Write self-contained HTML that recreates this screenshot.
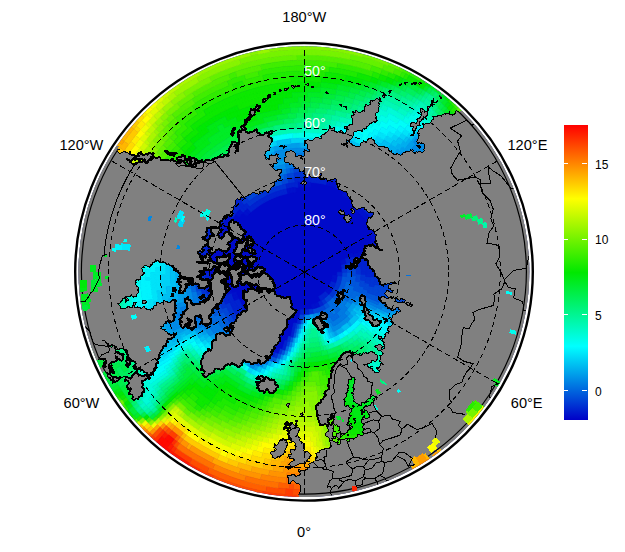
<!DOCTYPE html><html><head><meta charset="utf-8"><title>SST</title><style>html,body{margin:0;padding:0;background:#fff}svg{display:block}text{font-family:"Liberation Sans",sans-serif}</style></head><body>
<svg width="625" height="552" viewBox="0 0 625 552">
<defs><clipPath id="c"><circle cx="303.9" cy="271.6" r="225.4"/></clipPath>
<clipPath id="c2"><circle cx="303.9" cy="271.6" r="222.5"/></clipPath>
<clipPath id="c3"><path clip-rule="evenodd" d="M80.8,271.6a223.1,223.1 0 1,0 446.2,0a223.1,223.1 0 1,0 -446.2,0ZM82.0,271.6a221.9,221.9 0 1,0 443.8,0a221.9,221.9 0 1,0 -443.8,0Z"/></clipPath>
<linearGradient id="cb" x1="0" y1="0" x2="0" y2="1"><stop offset="0.0000" stop-color="#ff0000"/><stop offset="0.2500" stop-color="#ffff00"/><stop offset="0.5000" stop-color="#00e800"/><stop offset="0.7500" stop-color="#00ffff"/><stop offset="1.0000" stop-color="#0000c8"/></linearGradient></defs>
<rect width="625" height="552" fill="#fff"/>
<g clip-path="url(#c)">
<circle cx="304.5" cy="272.2" r="227.6" fill="#000aca"/>
<path fill="#64f100" stroke="#64f100" stroke-width="0.6" d="M466.0,110.7 463.1,107.9 459.3,111.9 462.1,114.6ZM463.1,107.9 460.2,105.2 456.5,109.2 459.3,111.9ZM401.0,65.2 397.4,63.6 395.1,68.6 398.7,70.2ZM397.4,63.6 393.7,62.0 391.6,67.1 395.1,68.6ZM393.7,62.0 390.0,60.5 388.0,65.6 391.6,67.1ZM132.1,422.0 134.8,425.0 138.9,421.3 136.3,418.4ZM384.4,64.2 380.7,62.8 378.8,67.9 382.4,69.3ZM380.7,62.8 377.1,61.5 375.3,66.7 378.8,67.9ZM377.1,61.5 373.4,60.3 371.7,65.5 375.3,66.7ZM373.4,60.3 369.7,59.1 368.1,64.3 371.7,65.5ZM369.7,59.1 365.9,58.0 364.4,63.3 368.1,64.3ZM365.9,58.0 362.2,56.9 360.8,62.2 364.4,63.3ZM362.2,56.9 358.4,56.0 357.1,61.3 360.8,62.2ZM358.4,56.0 354.6,55.1 353.4,60.4 357.1,61.3ZM354.6,55.1 350.8,54.2 349.7,59.6 353.4,60.4ZM296.9,55.0 293.1,55.1 293.4,60.6 297.1,60.4ZM293.1,55.1 289.3,55.4 289.7,60.8 293.4,60.6ZM289.3,55.4 285.6,55.7 286.0,61.1 289.7,60.8ZM285.6,55.7 281.8,56.0 282.3,61.4 286.0,61.1ZM281.8,56.0 278.0,56.5 278.7,61.9 282.3,61.4ZM278.0,56.5 274.2,56.9 275.0,62.3 278.7,61.9ZM274.2,56.9 270.5,57.5 271.3,62.9 275.0,62.3ZM270.5,57.5 266.8,58.1 267.7,63.5 271.3,62.9ZM266.8,58.1 263.0,58.8 264.1,64.2 267.7,63.5ZM263.0,58.8 259.3,59.6 260.4,64.9 264.1,64.2ZM259.3,59.6 255.6,60.4 256.8,65.7 260.4,64.9ZM255.6,60.4 251.9,61.3 253.2,66.6 256.8,65.7ZM251.9,61.3 248.2,62.2 249.7,67.5 253.2,66.6ZM248.2,62.2 244.6,63.3 246.1,68.5 249.7,67.5ZM244.6,63.3 240.9,64.3 242.5,69.5 246.1,68.5ZM240.9,64.3 237.3,65.5 239.0,70.6 242.5,69.5ZM237.3,65.5 233.7,66.7 235.5,71.8 239.0,70.6ZM233.7,66.7 230.2,67.9 232.0,73.1 235.5,71.8ZM230.2,67.9 226.6,69.3 228.6,74.4 232.0,73.1ZM226.6,69.3 223.1,70.7 225.1,75.7 228.6,74.4ZM223.1,70.7 219.6,72.1 221.7,77.1 225.1,75.7ZM219.6,72.1 216.1,73.6 218.3,78.6 221.7,77.1ZM216.1,73.6 212.6,75.2 214.9,80.1 218.3,78.6ZM212.6,75.2 209.2,76.8 211.6,81.7 214.9,80.1ZM192.2,92.5 189.1,94.5 192.0,99.0 195.1,97.1ZM189.1,94.5 186.0,96.5 189.0,101.0 192.0,99.0ZM186.0,96.5 182.9,98.6 186.0,103.0 189.0,101.0ZM182.9,98.6 179.9,100.8 183.1,105.1 186.0,103.0ZM179.9,100.8 177.0,103.0 180.2,107.3 183.1,105.1ZM171.8,114.0 169.0,116.3 172.5,120.4 175.2,118.1ZM169.0,116.3 166.3,118.7 169.9,122.7 172.5,120.4ZM167.3,125.1 164.8,127.5 168.5,131.3 171.0,129.0ZM164.8,127.5 162.3,130.0 166.0,133.7 168.5,131.3ZM166.0,133.7 163.6,136.2 167.5,139.9 169.8,137.5ZM163.6,136.2 161.3,138.7 165.2,142.3 167.5,139.9ZM162.9,144.7 160.7,147.2 164.7,150.7 166.8,148.2ZM160.7,147.2 158.6,149.7 162.6,153.1 164.7,150.7ZM158.6,149.7 156.4,152.3 160.5,155.6 162.6,153.1ZM183.0,412.0 185.4,414.1 188.8,410.1 186.4,408.1ZM185.4,414.1 187.9,416.2 191.2,412.1 188.8,410.1ZM338.8,448.9 341.9,448.3 340.8,443.2 337.9,443.8ZM198.7,417.8 201.2,419.7 204.2,415.4 201.8,413.6ZM201.2,419.7 203.8,421.4 206.7,417.1 204.2,415.4ZM209.3,418.8 211.9,420.4 214.6,416.1 212.1,414.5ZM211.9,420.4 214.5,422.0 217.1,417.6 214.6,416.1ZM214.5,422.0 217.1,423.6 219.7,419.1 217.1,417.6ZM217.1,423.6 219.8,425.1 222.3,420.6 219.7,419.1ZM331.0,439.7 334.0,439.3 333.1,434.2 330.2,434.7ZM227.5,423.3 230.1,424.7 232.4,420.0 229.8,418.8ZM230.1,424.7 232.8,425.9 235.0,421.3 232.4,420.0ZM232.8,425.9 235.5,427.2 237.6,422.5 235.0,421.3ZM330.2,434.7 333.1,434.2 332.2,429.1 329.4,429.6ZM240.2,423.6 242.9,424.7 244.8,420.0 242.2,418.9ZM242.9,424.7 245.6,425.8 247.4,421.0 244.8,420.0ZM329.4,429.6 332.2,429.1 331.3,424.1 328.6,424.6ZM247.4,421.0 250.0,422.0 251.7,417.2 249.2,416.2ZM250.0,422.0 252.6,422.9 254.3,418.1 251.7,417.2ZM252.6,422.9 255.3,423.8 256.8,418.9 254.3,418.1ZM328.6,424.6 331.3,424.1 330.4,419.1 327.8,419.6ZM256.8,418.9 259.4,419.7 260.9,414.9 258.4,414.1ZM259.4,419.7 262.0,420.5 263.4,415.6 260.9,414.9ZM327.8,419.6 330.4,419.1 329.5,414.2 327.1,414.6ZM263.4,415.6 265.9,416.3 267.2,411.4 264.8,410.8ZM265.9,416.3 268.4,417.0 269.6,412.1 267.2,411.4ZM267.2,411.4 269.6,412.1 270.8,407.2 268.5,406.6ZM269.6,412.1 272.1,412.7 273.2,407.8 270.8,407.2ZM273.2,407.8 275.6,408.3 276.6,403.4 274.3,402.9ZM275.6,408.3 278.0,408.8 278.9,403.9 276.6,403.4ZM278.0,408.8 280.3,409.2 281.2,404.3 278.9,403.9ZM281.2,404.3 285.8,405.0 286.5,400.1 282.1,399.4ZM285.8,405.0 290.5,405.6 291.0,400.7 286.5,400.1ZM322.5,400.1 326.9,399.4 326.1,394.5 321.8,395.2ZM291.0,400.7 295.5,401.0 295.8,396.1 291.5,395.7ZM317.5,395.7 321.8,395.2 321.1,390.3 317.0,390.8ZM295.8,396.1 300.2,396.3 300.3,391.4 296.2,391.2ZM317.0,390.8 321.1,390.3 320.4,385.4 316.5,385.9ZM300.3,391.4 304.5,391.5 304.5,386.6 300.5,386.5ZM304.5,386.6 308.5,386.5 308.3,381.6 304.5,381.7ZM308.5,386.5 312.5,386.3 312.1,381.4 308.3,381.6ZM312.5,386.3 316.5,385.9 315.9,381.1 312.1,381.4Z"/>
<path fill="#41ee00" stroke="#41ee00" stroke-width="0.6" d="M460.2,105.2 457.3,102.5 453.6,106.6 456.5,109.2ZM411.7,70.6 408.2,68.7 405.7,73.6 409.1,75.4ZM408.2,68.7 404.6,66.9 402.2,71.9 405.7,73.6ZM115.2,399.9 117.4,403.2 122.0,400.0 119.8,396.8ZM119.7,406.4 122.1,409.6 126.5,406.3 124.2,403.2ZM402.2,71.9 398.7,70.2 396.4,75.2 399.8,76.8ZM398.7,70.2 395.1,68.6 392.9,73.6 396.4,75.2ZM382.4,69.3 378.8,67.9 377.0,73.1 380.4,74.4ZM378.8,67.9 375.3,66.7 373.5,71.8 377.0,73.1ZM375.3,66.7 371.7,65.5 370.0,70.6 373.5,71.8ZM145.5,420.4 148.1,423.2 152.1,419.4 149.5,416.7ZM337.7,62.9 334.0,62.3 333.2,67.7 336.8,68.2ZM334.0,62.3 330.3,61.9 329.7,67.2 333.2,67.7ZM330.3,61.9 326.7,61.4 326.1,66.8 329.7,67.2ZM326.7,61.4 323.0,61.1 322.5,66.5 326.1,66.8ZM323.0,61.1 319.3,60.8 318.9,66.2 322.5,66.5ZM319.3,60.8 315.6,60.6 315.3,66.0 318.9,66.2ZM315.6,60.6 311.9,60.4 311.7,65.8 315.3,66.0ZM311.9,60.4 308.2,60.3 308.1,65.7 311.7,65.8ZM308.2,60.3 304.5,60.3 304.5,65.7 308.1,65.7ZM304.5,60.3 300.8,60.3 300.9,65.7 304.5,65.7ZM300.8,60.3 297.1,60.4 297.3,65.8 300.9,65.7ZM297.1,60.4 293.4,60.6 293.7,66.0 297.3,65.8ZM293.4,60.6 289.7,60.8 290.1,66.2 293.7,66.0ZM289.7,60.8 286.0,61.1 286.5,66.5 290.1,66.2ZM286.0,61.1 282.3,61.4 282.9,66.8 286.5,66.5ZM282.3,61.4 278.7,61.9 279.3,67.2 282.9,66.8ZM278.7,61.9 275.0,62.3 275.8,67.7 279.3,67.2ZM275.0,62.3 271.3,62.9 272.2,68.2 275.8,67.7ZM271.3,62.9 267.7,63.5 268.6,68.8 272.2,68.2ZM267.7,63.5 264.1,64.2 265.1,69.5 268.6,68.8ZM264.1,64.2 260.4,64.9 261.6,70.2 265.1,69.5ZM235.5,71.8 232.0,73.1 233.9,78.1 237.3,76.9ZM232.0,73.1 228.6,74.4 230.5,79.4 233.9,78.1ZM258.0,71.0 254.5,71.8 255.8,77.0 259.3,76.2ZM254.5,71.8 251.0,72.7 252.4,77.9 255.8,77.0ZM251.0,72.7 247.6,73.7 249.1,78.8 252.4,77.9ZM247.6,73.7 244.1,74.7 245.7,79.8 249.1,78.8ZM227.1,80.7 223.8,82.1 225.9,87.0 229.1,85.7ZM223.8,82.1 220.5,83.5 222.7,88.4 225.9,87.0ZM220.5,83.5 217.2,85.0 219.5,89.9 222.7,88.4ZM217.2,85.0 214.0,86.6 216.3,91.4 219.5,89.9ZM214.0,86.6 210.7,88.2 213.2,93.0 216.3,91.4ZM210.7,88.2 207.5,89.9 210.1,94.6 213.2,93.0ZM207.5,89.9 204.4,91.6 207.0,96.3 210.1,94.6ZM204.4,91.6 201.2,93.3 203.9,98.0 207.0,96.3ZM201.2,93.3 198.1,95.2 200.9,99.8 203.9,98.0ZM198.1,95.2 195.1,97.1 197.9,101.6 200.9,99.8ZM195.1,97.1 192.0,99.0 194.9,103.5 197.9,101.6ZM192.0,105.4 189.1,107.4 192.2,111.8 195.0,109.9ZM189.1,107.4 186.3,109.5 189.4,113.8 192.2,111.8ZM186.3,109.5 183.4,111.6 186.7,115.8 189.4,113.8ZM183.4,111.6 180.7,113.7 183.9,117.9 186.7,115.8ZM180.7,113.7 177.9,115.9 181.3,120.0 183.9,117.9ZM177.9,115.9 175.2,118.1 178.6,122.2 181.3,120.0ZM178.6,122.2 176.0,124.4 179.5,128.4 182.0,126.3ZM176.0,124.4 173.5,126.7 177.0,130.6 179.5,128.4ZM173.5,126.7 171.0,129.0 174.6,132.9 177.0,130.6ZM163.6,408.2 166.0,410.7 169.8,406.9 167.5,404.5ZM174.6,132.9 172.2,135.2 175.8,138.9 178.2,136.7ZM172.2,135.2 169.8,137.5 173.5,141.2 175.8,138.9ZM167.5,404.5 169.8,406.9 173.5,403.2 171.2,400.9ZM173.5,141.2 171.2,143.5 175.0,147.2 177.2,144.9ZM171.2,143.5 169.0,145.9 172.8,149.4 175.0,147.2ZM169.0,145.9 166.8,148.2 170.7,151.7 172.8,149.4ZM166.8,148.2 164.7,150.7 168.6,154.1 170.7,151.7ZM345.0,447.6 348.0,446.9 346.8,441.8 343.8,442.5ZM348.0,446.9 351.1,446.1 349.7,441.1 346.8,441.8ZM179.5,401.7 181.7,403.9 185.3,400.0 183.1,397.9ZM181.7,403.9 184.0,406.0 187.5,402.1 185.3,400.0ZM184.0,406.0 186.4,408.1 189.8,404.1 187.5,402.1ZM186.4,408.1 188.8,410.1 192.1,406.1 189.8,404.1ZM188.8,410.1 191.2,412.1 194.5,408.1 192.1,406.1ZM191.2,412.1 193.7,414.1 196.9,409.9 194.5,408.1ZM337.9,443.8 340.8,443.2 339.8,438.1 336.9,438.7ZM340.8,443.2 343.8,442.5 342.7,437.5 339.8,438.1ZM199.3,411.8 201.8,413.6 204.8,409.4 202.4,407.7ZM201.8,413.6 204.2,415.4 207.2,411.2 204.8,409.4ZM336.9,438.7 339.8,438.1 338.7,433.1 335.9,433.7ZM209.6,412.8 212.1,414.5 214.9,410.1 212.5,408.6ZM212.1,414.5 214.6,416.1 217.3,411.7 214.9,410.1ZM214.6,416.1 217.1,417.6 219.8,413.2 217.3,411.7ZM335.9,433.7 338.7,433.1 337.6,428.1 334.9,428.6ZM219.8,413.2 222.3,414.6 224.8,410.2 222.4,408.8ZM222.3,414.6 224.8,416.1 227.2,411.6 224.8,410.2ZM224.8,416.1 227.3,417.4 229.7,412.9 227.2,411.6ZM227.3,417.4 229.8,418.8 232.2,414.2 229.7,412.9ZM229.8,418.8 232.4,420.0 234.6,415.4 232.2,414.2ZM334.9,428.6 337.6,428.1 336.6,423.1 333.9,423.6ZM234.6,415.4 237.2,416.6 239.3,412.0 236.9,410.9ZM237.2,416.6 239.7,417.8 241.8,413.1 239.3,412.0ZM239.7,417.8 242.2,418.9 244.2,414.2 241.8,413.1ZM333.9,423.6 336.6,423.1 335.5,418.1 333.0,418.7ZM244.2,414.2 246.7,415.2 248.6,410.5 246.2,409.5ZM246.7,415.2 249.2,416.2 251.0,411.5 248.6,410.5ZM333.0,418.7 335.5,418.1 334.5,413.2 332.0,413.7ZM251.0,411.5 253.5,412.4 255.2,407.7 252.8,406.8ZM253.5,412.4 255.9,413.3 257.6,408.5 255.2,407.7ZM255.9,413.3 258.4,414.1 260.0,409.3 257.6,408.5ZM332.0,413.7 334.5,413.2 333.4,408.3 331.0,408.8ZM260.0,409.3 262.4,410.1 263.8,405.3 261.5,404.5ZM262.4,410.1 264.8,410.8 266.1,405.9 263.8,405.3ZM266.1,405.9 268.5,406.6 269.8,401.8 267.5,401.1ZM326.9,399.4 331.4,398.5 330.3,393.7 326.1,394.5ZM282.1,399.4 286.5,400.1 287.2,395.2 282.9,394.5ZM326.1,394.5 330.3,393.7 329.3,388.9 325.2,389.7ZM325.2,389.7 329.3,388.9 328.3,384.1 324.4,384.8ZM320.4,385.4 324.4,384.8 323.5,380.0 319.7,380.6ZM324.4,384.8 328.3,384.1 327.3,379.3 323.5,380.0ZM304.5,381.7 308.3,381.6 308.1,376.7 304.5,376.8ZM319.7,380.6 323.5,380.0 322.7,375.2 319.1,375.8ZM323.5,380.0 327.3,379.3 326.2,374.5 322.7,375.2ZM308.1,376.7 311.8,376.5 311.5,371.7 308.0,371.9ZM319.1,375.8 322.7,375.2 321.8,370.4 318.4,370.9Z"/>
<path fill="#30ec00" stroke="#30ec00" stroke-width="0.6" d="M457.3,102.5 454.3,99.8 450.7,104.0 453.6,106.6ZM422.1,76.5 418.7,74.4 415.9,79.2 419.3,81.2ZM418.7,74.4 415.2,72.5 412.5,77.3 415.9,79.2ZM415.2,72.5 411.7,70.6 409.1,75.4 412.5,77.3ZM122.1,409.6 124.5,412.8 128.9,409.4 126.5,406.3ZM459.3,111.9 456.5,109.2 452.7,113.2 455.5,115.8ZM405.7,73.6 402.2,71.9 399.8,76.8 403.2,78.5ZM389.4,72.1 385.9,70.7 383.9,75.7 387.3,77.1ZM385.9,70.7 382.4,69.3 380.4,74.4 383.9,75.7ZM373.5,71.8 370.0,70.6 368.3,75.8 371.7,76.9ZM370.0,70.6 366.5,69.5 364.9,74.7 368.3,75.8ZM366.5,69.5 362.9,68.5 361.4,73.7 364.9,74.7ZM362.9,68.5 359.3,67.5 358.0,72.7 361.4,73.7ZM359.3,67.5 355.8,66.6 354.5,71.8 358.0,72.7ZM355.8,66.6 352.2,65.7 351.0,71.0 354.5,71.8ZM352.2,65.7 348.6,64.9 347.4,70.2 351.0,71.0ZM348.6,64.9 344.9,64.2 343.9,69.5 347.4,70.2ZM344.9,64.2 341.3,63.5 340.4,68.8 343.9,69.5ZM341.3,63.5 337.7,62.9 336.8,68.2 340.4,68.8ZM152.1,419.4 154.6,422.1 158.5,418.2 155.9,415.7ZM329.7,67.2 326.1,66.8 325.5,72.2 329.0,72.5ZM326.1,66.8 322.5,66.5 322.0,71.8 325.5,72.2ZM322.5,66.5 318.9,66.2 318.5,71.5 322.0,71.8ZM318.9,66.2 315.3,66.0 315.0,71.3 318.5,71.5ZM315.3,66.0 311.7,65.8 311.5,71.2 315.0,71.3ZM311.7,65.8 308.1,65.7 308.0,71.1 311.5,71.2ZM308.1,65.7 304.5,65.7 304.5,71.1 308.0,71.1ZM304.5,65.7 300.9,65.7 301.0,71.1 304.5,71.1ZM300.9,65.7 297.3,65.8 297.5,71.2 301.0,71.1ZM297.3,65.8 293.7,66.0 294.0,71.3 297.5,71.2ZM293.7,66.0 290.1,66.2 290.5,71.5 294.0,71.3ZM290.1,66.2 286.5,66.5 287.0,71.8 290.5,71.5ZM286.5,66.5 282.9,66.8 283.5,72.2 287.0,71.8ZM282.9,66.8 279.3,67.2 280.0,72.5 283.5,72.2ZM279.3,67.2 275.8,67.7 276.5,73.0 280.0,72.5ZM275.8,67.7 272.2,68.2 273.0,73.5 276.5,73.0ZM272.2,68.2 268.6,68.8 269.6,74.1 273.0,73.5ZM268.6,68.8 265.1,69.5 266.1,74.7 269.6,74.1ZM265.1,69.5 261.6,70.2 262.7,75.4 266.1,74.7ZM261.6,70.2 258.0,71.0 259.3,76.2 262.7,75.4ZM244.1,74.7 240.7,75.8 242.3,80.9 245.7,79.8ZM240.7,75.8 237.3,76.9 239.0,82.0 242.3,80.9ZM237.3,76.9 233.9,78.1 235.7,83.2 239.0,82.0ZM233.9,78.1 230.5,79.4 232.4,84.4 235.7,83.2ZM230.5,79.4 227.1,80.7 229.1,85.7 232.4,84.4ZM262.7,75.4 259.3,76.2 260.5,81.4 263.8,80.7ZM259.3,76.2 255.8,77.0 257.1,82.2 260.5,81.4ZM255.8,77.0 252.4,77.9 253.8,83.1 257.1,82.2ZM252.4,77.9 249.1,78.8 250.5,84.0 253.8,83.1ZM249.1,78.8 245.7,79.8 247.2,84.9 250.5,84.0ZM245.7,79.8 242.3,80.9 244.0,86.0 247.2,84.9ZM232.4,84.4 229.1,85.7 231.1,90.6 234.3,89.4ZM229.1,85.7 225.9,87.0 228.0,92.0 231.1,90.6ZM225.9,87.0 222.7,88.4 224.9,93.3 228.0,92.0ZM222.7,88.4 219.5,89.9 221.7,94.7 224.9,93.3ZM219.5,89.9 216.3,91.4 218.7,96.2 221.7,94.7ZM216.3,91.4 213.2,93.0 215.6,97.7 218.7,96.2ZM213.2,93.0 210.1,94.6 212.6,99.3 215.6,97.7ZM210.1,94.6 207.0,96.3 209.6,100.9 212.6,99.3ZM207.0,96.3 203.9,98.0 206.6,102.6 209.6,100.9ZM203.9,98.0 200.9,99.8 203.6,104.4 206.6,102.6ZM200.9,99.8 197.9,101.6 200.7,106.1 203.6,104.4ZM197.9,101.6 194.9,103.5 197.9,108.0 200.7,106.1ZM194.9,103.5 192.0,105.4 195.0,109.9 197.9,108.0ZM159.8,411.9 162.3,414.4 166.0,410.7 163.6,408.2ZM195.0,109.9 192.2,111.8 195.2,116.1 198.0,114.3ZM192.2,111.8 189.4,113.8 192.5,118.1 195.2,116.1ZM189.4,113.8 186.7,115.8 189.8,120.0 192.5,118.1ZM186.7,115.8 183.9,117.9 187.2,122.1 189.8,120.0ZM183.9,117.9 181.3,120.0 184.6,124.1 187.2,122.1ZM181.3,120.0 178.6,122.2 182.0,126.3 184.6,124.1ZM184.6,124.1 182.0,126.3 185.4,130.3 187.9,128.2ZM182.0,126.3 179.5,128.4 183.0,132.4 185.4,130.3ZM179.5,128.4 177.0,130.6 180.5,134.5 183.0,132.4ZM177.0,130.6 174.6,132.9 178.2,136.7 180.5,134.5ZM180.5,134.5 178.2,136.7 181.7,140.5 184.0,138.4ZM178.2,136.7 175.8,138.9 179.5,142.7 181.7,140.5ZM175.8,138.9 173.5,141.2 177.2,144.9 179.5,142.7ZM171.2,400.9 173.5,403.2 177.2,399.5 175.0,397.2ZM351.1,446.1 354.1,445.2 352.7,440.2 349.7,441.1ZM354.1,445.2 357.1,444.3 355.6,439.4 352.7,440.2ZM177.2,144.9 175.0,147.2 178.8,150.8 180.9,148.6ZM175.0,147.2 172.8,149.4 176.7,153.0 178.8,150.8ZM172.8,149.4 170.7,151.7 174.6,155.2 176.7,153.0ZM170.7,151.7 168.6,154.1 172.6,157.5 174.6,155.2ZM168.6,154.1 166.6,156.5 170.6,159.8 172.6,157.5ZM166.6,156.5 164.6,158.9 168.6,162.2 170.6,159.8ZM164.6,158.9 162.6,161.4 166.8,164.6 168.6,162.2ZM177.2,399.5 179.5,401.7 183.1,397.9 180.9,395.8ZM343.8,442.5 346.8,441.8 345.5,436.8 342.7,437.5ZM346.8,441.8 349.7,441.1 348.4,436.1 345.5,436.8ZM185.3,400.0 187.5,402.1 191.0,398.3 188.8,396.3ZM187.5,402.1 189.8,404.1 193.2,400.2 191.0,398.3ZM189.8,404.1 192.1,406.1 195.5,402.1 193.2,400.2ZM192.1,406.1 194.5,408.1 197.7,404.0 195.5,402.1ZM339.8,438.1 342.7,437.5 341.5,432.5 338.7,433.1ZM342.7,437.5 345.5,436.8 344.3,431.8 341.5,432.5ZM204.8,409.4 207.2,411.2 210.2,406.9 207.8,405.3ZM207.2,411.2 209.6,412.8 212.5,408.6 210.2,406.9ZM338.7,433.1 341.5,432.5 340.3,427.5 337.6,428.1ZM212.5,408.6 214.9,410.1 217.7,405.9 215.4,404.3ZM214.9,410.1 217.3,411.7 220.1,407.3 217.7,405.9ZM217.3,411.7 219.8,413.2 222.4,408.8 220.1,407.3ZM337.6,428.1 340.3,427.5 339.2,422.5 336.6,423.1ZM222.4,408.8 224.8,410.2 227.4,405.8 225.0,404.4ZM224.8,410.2 227.2,411.6 229.7,407.1 227.4,405.8ZM227.2,411.6 229.7,412.9 232.1,408.4 229.7,407.1ZM229.7,412.9 232.2,414.2 234.5,409.7 232.1,408.4ZM232.2,414.2 234.6,415.4 236.9,410.9 234.5,409.7ZM236.9,410.9 239.3,412.0 241.4,407.4 239.1,406.3ZM239.3,412.0 241.8,413.1 243.8,408.5 241.4,407.4ZM241.8,413.1 244.2,414.2 246.2,409.5 243.8,408.5ZM246.2,409.5 248.6,410.5 250.5,405.9 248.2,404.9ZM248.6,410.5 251.0,411.5 252.8,406.8 250.5,405.9ZM255.2,407.7 257.6,408.5 259.2,403.8 256.9,402.9ZM257.6,408.5 260.0,409.3 261.5,404.5 259.2,403.8ZM261.5,404.5 263.8,405.3 265.3,400.5 263.0,399.8ZM263.8,405.3 266.1,405.9 267.5,401.1 265.3,400.5ZM267.5,401.1 272.0,402.4 273.3,397.5 268.9,396.4ZM273.3,397.5 277.6,398.5 278.7,393.7 274.5,392.7ZM277.6,398.5 282.1,399.4 282.9,394.5 278.7,393.7ZM330.3,393.7 334.5,392.7 333.4,387.9 329.3,388.9ZM287.2,395.2 291.5,395.7 292.0,390.8 287.9,390.3ZM329.3,388.9 333.4,387.9 332.2,383.2 328.3,384.1ZM292.0,390.8 296.2,391.2 296.5,386.3 292.5,385.9ZM328.3,384.1 332.2,383.2 331.0,378.4 327.3,379.3ZM296.5,386.3 300.5,386.5 300.7,381.6 296.9,381.4ZM327.3,379.3 331.0,378.4 329.8,373.7 326.2,374.5ZM300.7,381.6 304.5,381.7 304.5,376.8 300.9,376.7ZM304.5,376.8 308.1,376.7 308.0,371.9 304.5,371.9ZM322.7,375.2 326.2,374.5 325.2,369.7 321.8,370.4Z"/>
<path fill="#1feb00" stroke="#1feb00" stroke-width="0.6" d="M454.3,99.8 451.3,97.3 447.7,101.5 450.7,104.0ZM425.5,78.5 422.1,76.5 419.3,81.2 422.6,83.2ZM113.0,396.6 115.2,399.9 119.8,396.8 117.6,393.6ZM129.6,419.0 132.1,422.0 136.3,418.4 133.8,415.4ZM456.5,109.2 453.6,106.6 449.9,110.7 452.7,113.2ZM409.1,75.4 405.7,73.6 403.2,78.5 406.5,80.3ZM122.0,400.0 124.2,403.2 128.6,400.0 126.4,396.9ZM136.3,418.4 138.9,421.3 143.0,417.6 140.5,414.8ZM396.4,75.2 392.9,73.6 390.7,78.6 394.1,80.1ZM392.9,73.6 389.4,72.1 387.3,77.1 390.7,78.6ZM380.4,74.4 377.0,73.1 375.1,78.1 378.5,79.4ZM377.0,73.1 373.5,71.8 371.7,76.9 375.1,78.1ZM358.0,72.7 354.5,71.8 353.2,77.0 356.6,77.9ZM354.5,71.8 351.0,71.0 349.7,76.2 353.2,77.0ZM351.0,71.0 347.4,70.2 346.3,75.4 349.7,76.2ZM347.4,70.2 343.9,69.5 342.9,74.7 346.3,75.4ZM343.9,69.5 340.4,68.8 339.4,74.1 342.9,74.7ZM340.4,68.8 336.8,68.2 336.0,73.5 339.4,74.1ZM336.8,68.2 333.2,67.7 332.5,73.0 336.0,73.5ZM333.2,67.7 329.7,67.2 329.0,72.5 332.5,73.0ZM155.9,415.7 158.5,418.2 162.3,414.4 159.8,411.9ZM325.5,72.2 322.0,71.8 321.6,77.1 325.0,77.5ZM322.0,71.8 318.5,71.5 318.2,76.9 321.6,77.1ZM318.5,71.5 315.0,71.3 314.7,76.7 318.2,76.9ZM315.0,71.3 311.5,71.2 311.3,76.5 314.7,76.7ZM311.5,71.2 308.0,71.1 307.9,76.4 311.3,76.5ZM308.0,71.1 304.5,71.1 304.5,76.4 307.9,76.4ZM304.5,71.1 301.0,71.1 301.1,76.4 304.5,76.4ZM301.0,71.1 297.5,71.2 297.7,76.5 301.1,76.4ZM297.5,71.2 294.0,71.3 294.3,76.7 297.7,76.5ZM294.0,71.3 290.5,71.5 290.8,76.9 294.3,76.7ZM290.5,71.5 287.0,71.8 287.4,77.1 290.8,76.9ZM287.0,71.8 283.5,72.2 284.0,77.5 287.4,77.1ZM283.5,72.2 280.0,72.5 280.6,77.8 284.0,77.5ZM280.0,72.5 276.5,73.0 277.2,78.3 280.6,77.8ZM276.5,73.0 273.0,73.5 273.9,78.8 277.2,78.3ZM273.0,73.5 269.6,74.1 270.5,79.4 273.9,78.8ZM269.6,74.1 266.1,74.7 267.1,80.0 270.5,79.4ZM266.1,74.7 262.7,75.4 263.8,80.7 267.1,80.0ZM242.3,80.9 239.0,82.0 240.7,87.1 244.0,86.0ZM239.0,82.0 235.7,83.2 237.5,88.2 240.7,87.1ZM235.7,83.2 232.4,84.4 234.3,89.4 237.5,88.2ZM290.8,76.9 287.4,77.1 287.9,82.4 291.2,82.1ZM287.4,77.1 284.0,77.5 284.6,82.7 287.9,82.4ZM284.0,77.5 280.6,77.8 281.3,83.1 284.6,82.7ZM280.6,77.8 277.2,78.3 278.0,83.5 281.3,83.1ZM277.2,78.3 273.9,78.8 274.7,84.0 278.0,83.5ZM273.9,78.8 270.5,79.4 271.4,84.6 274.7,84.0ZM270.5,79.4 267.1,80.0 268.1,85.2 271.4,84.6ZM267.1,80.0 263.8,80.7 264.9,85.8 268.1,85.2ZM263.8,80.7 260.5,81.4 261.6,86.6 264.9,85.8ZM260.5,81.4 257.1,82.2 258.4,87.3 261.6,86.6ZM257.1,82.2 253.8,83.1 255.2,88.2 258.4,87.3ZM253.8,83.1 250.5,84.0 252.0,89.1 255.2,88.2ZM250.5,84.0 247.2,84.9 248.8,90.0 252.0,89.1ZM247.2,84.9 244.0,86.0 245.6,91.0 248.8,90.0ZM244.0,86.0 240.7,87.1 242.5,92.1 245.6,91.0ZM240.7,87.1 237.5,88.2 239.3,93.2 242.5,92.1ZM237.5,88.2 234.3,89.4 236.2,94.3 239.3,93.2ZM234.3,89.4 231.1,90.6 233.1,95.6 236.2,94.3ZM231.1,90.6 228.0,92.0 230.1,96.8 233.1,95.6ZM228.0,92.0 224.9,93.3 227.0,98.2 230.1,96.8ZM224.9,93.3 221.7,94.7 224.0,99.5 227.0,98.2ZM221.7,94.7 218.7,96.2 221.0,101.0 224.0,99.5ZM218.7,96.2 215.6,97.7 218.0,102.4 221.0,101.0ZM215.6,97.7 212.6,99.3 215.1,104.0 218.0,102.4ZM212.6,99.3 209.6,100.9 212.1,105.6 215.1,104.0ZM209.6,100.9 206.6,102.6 209.2,107.2 212.1,105.6ZM206.6,102.6 203.6,104.4 206.4,108.9 209.2,107.2ZM203.6,104.4 200.7,106.1 203.5,110.6 206.4,108.9ZM200.7,106.1 197.9,108.0 200.7,112.4 203.5,110.6ZM197.9,108.0 195.0,109.9 198.0,114.3 200.7,112.4ZM203.5,110.6 200.7,112.4 203.6,116.8 206.3,115.1ZM200.7,112.4 198.0,114.3 200.9,118.6 203.6,116.8ZM198.0,114.3 195.2,116.1 198.2,120.5 200.9,118.6ZM195.2,116.1 192.5,118.1 195.6,122.3 198.2,120.5ZM192.5,118.1 189.8,120.0 193.0,124.3 195.6,122.3ZM189.8,120.0 187.2,122.1 190.4,126.2 193.0,124.3ZM187.2,122.1 184.6,124.1 187.9,128.2 190.4,126.2ZM190.4,126.2 187.9,128.2 191.2,132.3 193.7,130.3ZM187.9,128.2 185.4,130.3 188.8,134.3 191.2,132.3ZM185.4,130.3 183.0,132.4 186.4,136.3 188.8,134.3ZM183.0,132.4 180.5,134.5 184.0,138.4 186.4,136.3ZM184.0,138.4 181.7,140.5 185.3,144.4 187.5,142.3ZM181.7,140.5 179.5,142.7 183.1,146.5 185.3,144.4ZM179.5,142.7 177.2,144.9 180.9,148.6 183.1,146.5ZM175.0,397.2 177.2,399.5 180.9,395.8 178.8,393.6ZM349.7,441.1 352.7,440.2 351.3,435.3 348.4,436.1ZM352.7,440.2 355.6,439.4 354.1,434.4 351.3,435.3ZM355.6,439.4 358.5,438.5 356.9,433.5 354.1,434.4ZM180.9,148.6 178.8,150.8 182.5,154.4 184.6,152.3ZM178.8,150.8 176.7,153.0 180.4,156.5 182.5,154.4ZM176.7,153.0 174.6,155.2 178.4,158.7 180.4,156.5ZM174.6,155.2 172.6,157.5 176.5,160.9 178.4,158.7ZM172.6,157.5 170.6,159.8 174.6,163.2 176.5,160.9ZM170.6,159.8 168.6,162.2 172.7,165.4 174.6,163.2ZM180.9,395.8 183.1,397.9 186.7,394.2 184.6,392.1ZM183.1,397.9 185.3,400.0 188.8,396.3 186.7,394.2ZM194.5,408.1 196.9,409.9 200.1,405.9 197.7,404.0ZM196.9,409.9 199.3,411.8 202.4,407.7 200.1,405.9ZM345.5,436.8 348.4,436.1 347.1,431.1 344.3,431.8ZM348.4,436.1 351.3,435.3 349.8,430.3 347.1,431.1ZM188.8,396.3 191.0,398.3 194.4,394.4 192.3,392.5ZM191.0,398.3 193.2,400.2 196.6,396.3 194.4,394.4ZM193.2,400.2 195.5,402.1 198.8,398.2 196.6,396.3ZM202.4,407.7 204.8,409.4 207.8,405.3 205.5,403.6ZM341.5,432.5 344.3,431.8 343.1,426.8 340.3,427.5ZM344.3,431.8 347.1,431.1 345.7,426.1 343.1,426.8ZM207.8,405.3 210.2,406.9 213.1,402.7 210.8,401.1ZM210.2,406.9 212.5,408.6 215.4,404.3 213.1,402.7ZM340.3,427.5 343.1,426.8 341.8,421.9 339.2,422.5ZM215.4,404.3 217.7,405.9 220.5,401.6 218.2,400.1ZM217.7,405.9 220.1,407.3 222.7,403.0 220.5,401.6ZM220.1,407.3 222.4,408.8 225.0,404.4 222.7,403.0ZM220.5,401.6 222.7,403.0 225.4,398.7 223.2,397.3ZM222.7,403.0 225.0,404.4 227.7,400.1 225.4,398.7ZM225.0,404.4 227.4,405.8 229.9,401.4 227.7,400.1ZM227.4,405.8 229.7,407.1 232.2,402.7 229.9,401.4ZM229.7,407.1 232.1,408.4 234.5,403.9 232.2,402.7ZM232.1,408.4 234.5,409.7 236.8,405.1 234.5,403.9ZM234.5,409.7 236.9,410.9 239.1,406.3 236.8,405.1ZM234.5,403.9 236.8,405.1 239.1,400.6 236.8,399.5ZM236.8,405.1 239.1,406.3 241.3,401.8 239.1,400.6ZM239.1,406.3 241.4,407.4 243.6,402.9 241.3,401.8ZM241.4,407.4 243.8,408.5 245.9,403.9 243.6,402.9ZM243.8,408.5 246.2,409.5 248.2,404.9 245.9,403.9ZM248.2,404.9 250.5,405.9 252.4,401.2 250.1,400.3ZM250.5,405.9 252.8,406.8 254.6,402.1 252.4,401.2ZM252.8,406.8 255.2,407.7 256.9,402.9 254.6,402.1ZM256.9,402.9 259.2,403.8 260.8,399.0 258.6,398.2ZM259.2,403.8 261.5,404.5 263.0,399.8 260.8,399.0ZM263.0,399.8 267.5,401.1 268.9,396.4 264.6,395.0ZM282.9,394.5 287.2,395.2 287.9,390.3 283.8,389.7ZM292.5,385.9 296.5,386.3 296.9,381.4 293.1,381.1ZM331.0,378.4 334.7,377.4 333.3,372.7 329.8,373.7ZM326.2,374.5 329.8,373.7 328.6,369.0 325.2,369.7ZM329.8,373.7 333.3,372.7 332.0,368.0 328.6,369.0ZM308.0,371.9 311.5,371.7 311.1,366.8 307.8,367.0ZM311.5,371.7 314.9,371.4 314.4,366.5 311.1,366.8ZM314.9,371.4 318.4,370.9 317.7,366.1 314.4,366.5ZM318.4,370.9 321.8,370.4 321.0,365.6 317.7,366.1ZM321.8,370.4 325.2,369.7 324.2,365.0 321.0,365.6ZM325.2,369.7 328.6,369.0 327.4,364.2 324.2,365.0Z"/>
<path fill="#00e804" stroke="#00e804" stroke-width="0.6" d="M451.3,97.3 448.2,94.7 444.7,99.0 447.7,101.5ZM432.2,82.9 428.9,80.7 425.9,85.3 429.1,87.5ZM110.8,393.2 113.0,396.6 117.6,393.6 115.5,390.3ZM425.9,85.3 422.6,83.2 419.7,87.9 422.9,89.9ZM422.6,83.2 419.3,81.2 416.5,85.9 419.7,87.9ZM419.3,81.2 415.9,79.2 413.2,84.0 416.5,85.9ZM117.6,393.6 119.8,396.8 124.3,393.7 122.2,390.6ZM124.2,403.2 126.5,406.3 130.9,403.0 128.6,400.0ZM455.5,115.8 452.7,113.2 449.0,117.2 451.7,119.8ZM403.2,78.5 399.8,76.8 397.4,81.7 400.7,83.4ZM143.0,417.6 145.5,420.4 149.5,416.7 147.0,414.0ZM394.1,80.1 390.7,78.6 388.5,83.5 391.8,85.0ZM390.7,78.6 387.3,77.1 385.2,82.1 388.5,83.5ZM378.5,79.4 375.1,78.1 373.3,83.2 376.6,84.4ZM375.1,78.1 371.7,76.9 370.0,82.0 373.3,83.2ZM363.3,79.8 359.9,78.8 358.5,84.0 361.8,84.9ZM359.9,78.8 356.6,77.9 355.2,83.1 358.5,84.0ZM356.6,77.9 353.2,77.0 351.9,82.2 355.2,83.1ZM353.2,77.0 349.7,76.2 348.5,81.4 351.9,82.2ZM349.7,76.2 346.3,75.4 345.2,80.7 348.5,81.4ZM341.9,80.0 338.5,79.4 337.6,84.6 340.9,85.2ZM338.5,79.4 335.1,78.8 334.3,84.0 337.6,84.6ZM335.1,78.8 331.8,78.3 331.0,83.5 334.3,84.0ZM331.8,78.3 328.4,77.8 327.7,83.1 331.0,83.5ZM328.4,77.8 325.0,77.5 324.4,82.7 327.7,83.1ZM325.0,77.5 321.6,77.1 321.1,82.4 324.4,82.7ZM161.3,405.7 163.6,408.2 167.5,404.5 165.2,402.1ZM321.1,82.4 317.8,82.1 317.4,87.4 320.6,87.7ZM317.8,82.1 314.5,81.9 314.2,87.2 317.4,87.4ZM314.5,81.9 311.1,81.8 311.0,87.1 314.2,87.2ZM311.1,81.8 307.8,81.7 307.7,87.0 311.0,87.1ZM307.8,81.7 304.5,81.7 304.5,87.0 307.7,87.0ZM304.5,81.7 301.2,81.7 301.3,87.0 304.5,87.0ZM301.2,81.7 297.9,81.8 298.0,87.1 301.3,87.0ZM165.2,402.1 167.5,404.5 171.2,400.9 169.0,398.5ZM304.5,87.0 301.3,87.0 301.4,92.2 304.5,92.2ZM301.3,87.0 298.0,87.1 298.2,92.3 301.4,92.2ZM298.0,87.1 294.8,87.2 295.1,92.4 298.2,92.3ZM294.8,87.2 291.6,87.4 291.9,92.6 295.1,92.4ZM291.6,87.4 288.4,87.7 288.8,92.9 291.9,92.6ZM288.4,87.7 285.1,88.0 285.7,93.2 288.8,92.9ZM285.1,88.0 281.9,88.3 282.6,93.5 285.7,93.2ZM281.9,88.3 278.7,88.8 279.4,93.9 282.6,93.5ZM169.0,398.5 171.2,400.9 175.0,397.2 172.8,395.0ZM291.9,92.6 288.8,92.9 289.3,98.1 292.3,97.8ZM288.8,92.9 285.7,93.2 286.2,98.4 289.3,98.1ZM285.7,93.2 282.6,93.5 283.2,98.7 286.2,98.4ZM282.6,93.5 279.4,93.9 280.2,99.1 283.2,98.7ZM279.4,93.9 276.3,94.4 277.2,99.5 280.2,99.1ZM276.3,94.4 273.2,94.9 274.1,100.0 277.2,99.5ZM273.2,94.9 270.2,95.5 271.1,100.6 274.1,100.0ZM270.2,95.5 267.1,96.1 268.2,101.2 271.1,100.6ZM237.1,105.3 234.2,106.5 236.2,111.3 239.0,110.1ZM234.2,106.5 231.3,107.8 233.4,112.5 236.2,111.3ZM231.3,107.8 228.4,109.1 230.6,113.8 233.4,112.5ZM228.4,109.1 225.6,110.4 227.9,115.1 230.6,113.8ZM225.6,110.4 222.8,111.8 225.1,116.4 227.9,115.1ZM222.8,111.8 220.0,113.3 222.4,117.9 225.1,116.4ZM220.0,113.3 217.2,114.8 219.8,119.3 222.4,117.9ZM217.2,114.8 214.5,116.3 217.1,120.8 219.8,119.3ZM214.5,116.3 211.8,117.9 214.5,122.4 217.1,120.8ZM211.8,117.9 209.1,119.5 211.9,124.0 214.5,122.4ZM209.1,119.5 206.5,121.2 209.3,125.6 211.9,124.0ZM206.5,121.2 203.8,123.0 206.7,127.3 209.3,125.6ZM203.8,123.0 201.2,124.7 204.2,129.0 206.7,127.3ZM201.2,124.7 198.7,126.6 201.8,130.8 204.2,129.0ZM198.7,126.6 196.2,128.4 199.3,132.6 201.8,130.8ZM172.8,395.0 175.0,397.2 178.8,393.6 176.7,391.4ZM283.2,98.7 280.2,99.1 280.9,104.2 283.8,103.8ZM280.2,99.1 277.2,99.5 278.0,104.7 280.9,104.2ZM277.2,99.5 274.1,100.0 275.0,105.1 278.0,104.7ZM274.1,100.0 271.1,100.6 272.1,105.7 275.0,105.1ZM271.1,100.6 268.2,101.2 269.2,106.3 272.1,105.7ZM268.2,101.2 265.2,101.9 266.3,106.9 269.2,106.3ZM265.2,101.9 262.2,102.6 263.5,107.6 266.3,106.9ZM262.2,102.6 259.3,103.3 260.6,108.3 263.5,107.6ZM259.3,103.3 256.3,104.2 257.7,109.1 260.6,108.3ZM256.3,104.2 253.4,105.0 254.9,110.0 257.7,109.1ZM253.4,105.0 250.5,105.9 252.1,110.9 254.9,110.0ZM250.5,105.9 247.6,106.9 249.3,111.8 252.1,110.9ZM247.6,106.9 244.7,107.9 246.5,112.8 249.3,111.8ZM244.7,107.9 241.9,109.0 243.7,113.8 246.5,112.8ZM241.9,109.0 239.0,110.1 241.0,114.9 243.7,113.8ZM239.0,110.1 236.2,111.3 238.2,116.1 241.0,114.9ZM236.2,111.3 233.4,112.5 235.5,117.2 238.2,116.1ZM233.4,112.5 230.6,113.8 232.8,118.5 235.5,117.2ZM230.6,113.8 227.9,115.1 230.1,119.7 232.8,118.5ZM227.9,115.1 225.1,116.4 227.5,121.1 230.1,119.7ZM206.7,127.3 204.2,129.0 207.2,133.2 209.6,131.6ZM204.2,129.0 201.8,130.8 204.8,135.0 207.2,133.2ZM201.8,130.8 199.3,132.6 202.4,136.7 204.8,135.0ZM199.3,132.6 196.9,134.5 200.1,138.5 202.4,136.7ZM196.9,134.5 194.5,136.3 197.7,140.4 200.1,138.5ZM194.5,136.3 192.1,138.3 195.5,142.3 197.7,140.4ZM192.1,138.3 189.8,140.3 193.2,144.2 195.5,142.3ZM359.7,432.6 362.5,431.6 360.8,426.8 358.1,427.7ZM362.5,431.6 365.3,430.6 363.4,425.8 360.8,426.8ZM365.3,430.6 368.0,429.5 366.1,424.7 363.4,425.8ZM278.0,104.7 275.0,105.1 275.9,110.2 278.8,109.7ZM275.0,105.1 272.1,105.7 273.1,110.7 275.9,110.2ZM272.1,105.7 269.2,106.3 270.3,111.3 273.1,110.7ZM269.2,106.3 266.3,106.9 267.5,111.9 270.3,111.3ZM266.3,106.9 263.5,107.6 264.7,112.6 267.5,111.9ZM263.5,107.6 260.6,108.3 261.9,113.3 264.7,112.6ZM260.6,108.3 257.7,109.1 259.2,114.1 261.9,113.3ZM257.7,109.1 254.9,110.0 256.4,114.9 259.2,114.1ZM254.9,110.0 252.1,110.9 253.7,115.8 256.4,114.9ZM252.1,110.9 249.3,111.8 250.9,116.7 253.7,115.8ZM249.3,111.8 246.5,112.8 248.2,117.6 250.9,116.7ZM246.5,112.8 243.7,113.8 245.6,118.6 248.2,117.6ZM243.7,113.8 241.0,114.9 242.9,119.7 245.6,118.6ZM241.0,114.9 238.2,116.1 240.2,120.8 242.9,119.7ZM238.2,116.1 235.5,117.2 237.6,121.9 240.2,120.8ZM193.2,144.2 191.0,146.1 194.4,150.0 196.6,148.1ZM191.0,146.1 188.8,148.1 192.3,151.9 194.4,150.0ZM188.8,148.1 186.7,150.2 190.2,153.9 192.3,151.9ZM186.7,150.2 184.6,152.3 188.2,155.9 190.2,153.9ZM180.4,156.5 178.4,158.7 182.3,162.1 184.2,160.0ZM178.4,158.7 176.5,160.9 180.4,164.3 182.3,162.1ZM176.5,160.9 174.6,163.2 178.5,166.5 180.4,164.3ZM174.6,163.2 172.7,165.4 176.7,168.7 178.5,166.5ZM182.5,390.0 184.6,392.1 188.2,388.5 186.2,386.5ZM352.6,429.5 355.3,428.6 353.7,423.8 351.1,424.6ZM355.3,428.6 358.1,427.7 356.4,422.9 353.7,423.8ZM358.1,427.7 360.8,426.8 359.0,422.0 356.4,422.9ZM360.8,426.8 363.4,425.8 361.6,421.0 359.0,422.0ZM256.4,114.9 253.7,115.8 255.3,120.6 257.9,119.8ZM253.7,115.8 250.9,116.7 252.6,121.5 255.3,120.6ZM250.9,116.7 248.2,117.6 250.0,122.4 252.6,121.5ZM248.2,117.6 245.6,118.6 247.4,123.4 250.0,122.4ZM186.2,386.5 188.2,388.5 191.8,384.9 189.9,382.9ZM188.2,388.5 190.2,390.5 193.8,386.8 191.8,384.9ZM348.4,425.4 351.1,424.6 349.6,419.7 347.0,420.5ZM351.1,424.6 353.7,423.8 352.2,418.9 349.6,419.7ZM353.7,423.8 356.4,422.9 354.7,418.1 352.2,418.9ZM191.8,384.9 193.8,386.8 197.3,383.2 195.4,381.3ZM193.8,386.8 195.8,388.8 199.3,385.0 197.3,383.2ZM195.8,388.8 197.9,390.6 201.3,386.8 199.3,385.0ZM197.9,390.6 199.9,392.5 203.3,388.6 201.3,386.8ZM199.9,392.5 202.1,394.3 205.3,390.4 203.3,388.6ZM202.1,394.3 204.2,396.0 207.4,392.1 205.3,390.4ZM204.2,396.0 206.4,397.8 209.5,393.8 207.4,392.1ZM206.4,397.8 208.6,399.5 211.7,395.4 209.5,393.8ZM208.6,399.5 210.8,401.1 213.8,397.0 211.7,395.4ZM347.0,420.5 349.6,419.7 348.1,414.9 345.6,415.6ZM349.6,419.7 352.2,418.9 350.6,414.1 348.1,414.9ZM352.2,418.9 354.7,418.1 353.1,413.3 350.6,414.1ZM203.3,388.6 205.3,390.4 208.6,386.5 206.6,384.8ZM205.3,390.4 207.4,392.1 210.6,388.2 208.6,386.5ZM207.4,392.1 209.5,393.8 212.6,389.8 210.6,388.2ZM209.5,393.8 211.7,395.4 214.7,391.4 212.6,389.8ZM211.7,395.4 213.8,397.0 216.8,392.9 214.7,391.4ZM348.1,414.9 350.6,414.1 349.0,409.3 346.6,410.1ZM350.6,414.1 353.1,413.3 351.4,408.5 349.0,409.3ZM212.6,389.8 214.7,391.4 217.7,387.3 215.7,385.8ZM214.7,391.4 216.8,392.9 219.8,388.8 217.7,387.3ZM346.6,410.1 349.0,409.3 347.5,404.5 345.2,405.3ZM349.0,409.3 351.4,408.5 349.8,403.8 347.5,404.5ZM217.7,387.3 219.8,388.8 222.7,384.8 220.8,383.3ZM219.8,388.8 221.8,390.3 224.7,386.2 222.7,384.8ZM221.8,390.3 223.9,391.7 226.7,387.5 224.7,386.2ZM345.2,405.3 347.5,404.5 346.0,399.8 343.7,400.5ZM222.7,384.8 224.7,386.2 227.6,382.1 225.7,380.7ZM224.7,386.2 226.7,387.5 229.5,383.4 227.6,382.1ZM226.7,387.5 228.7,388.9 231.4,384.7 229.5,383.4ZM228.7,388.9 230.8,390.2 233.4,386.0 231.4,384.7ZM230.8,390.2 232.8,391.5 235.4,387.2 233.4,386.0ZM232.8,391.5 234.9,392.7 237.4,388.4 235.4,387.2ZM234.9,392.7 237.0,393.9 239.5,389.5 237.4,388.4ZM237.0,393.9 239.2,395.1 241.5,390.6 239.5,389.5ZM239.2,395.1 241.3,396.2 243.6,391.7 241.5,390.6ZM241.3,396.2 243.5,397.3 245.7,392.8 243.6,391.7ZM243.5,397.3 245.7,398.3 247.8,393.8 245.7,392.8ZM245.7,398.3 247.9,399.3 249.9,394.7 247.8,393.8ZM247.9,399.3 250.1,400.3 252.1,395.7 249.9,394.7ZM250.1,400.3 252.4,401.2 254.3,396.6 252.1,395.7ZM341.5,401.1 346.0,399.8 344.4,395.0 340.1,396.4ZM258.6,398.2 263.0,399.8 264.6,395.0 260.3,393.6ZM264.6,395.0 268.9,396.4 270.3,391.6 266.1,390.3ZM274.5,392.7 278.7,393.7 279.7,388.9 275.6,387.9ZM345.3,384.3 349.2,382.8 347.3,378.2 343.6,379.7ZM297.2,376.5 300.9,376.7 301.0,371.9 297.5,371.7ZM335.3,367.0 338.6,365.9 336.9,361.3 333.8,362.4ZM301.0,371.9 304.5,371.9 304.5,367.1 301.2,367.0ZM307.8,367.0 311.1,366.8 310.8,362.0 307.6,362.2ZM311.1,366.8 314.4,366.5 313.9,361.7 310.8,362.0ZM314.4,366.5 317.7,366.1 317.0,361.4 313.9,361.7ZM317.7,366.1 321.0,365.6 320.1,360.9 317.0,361.4ZM321.0,365.6 324.2,365.0 323.2,360.3 320.1,360.9ZM324.2,365.0 327.4,364.2 326.3,359.6 323.2,360.3ZM327.4,364.2 330.6,363.4 329.3,358.7 326.3,359.6Z"/>
<path fill="#00ea16" stroke="#00ea16" stroke-width="0.6" d="M448.2,94.7 445.1,92.2 441.7,96.6 444.7,99.0ZM435.5,85.1 432.2,82.9 429.1,87.5 432.3,89.7ZM450.7,104.0 447.7,101.5 444.2,105.7 447.1,108.2ZM115.5,390.3 117.6,393.6 122.2,390.6 120.2,387.4ZM126.5,406.3 128.9,409.4 133.2,406.0 130.9,403.0ZM452.7,113.2 449.9,110.7 446.3,114.7 449.0,117.2ZM406.5,80.3 403.2,78.5 400.7,83.4 404.0,85.1ZM397.4,81.7 394.1,80.1 391.8,85.0 395.0,86.6ZM381.9,80.7 378.5,79.4 376.6,84.4 379.9,85.7ZM370.0,82.0 366.7,80.9 365.0,86.0 368.3,87.1ZM366.7,80.9 363.3,79.8 361.8,84.9 365.0,86.0ZM355.2,83.1 351.9,82.2 350.6,87.3 353.8,88.2ZM351.9,82.2 348.5,81.4 347.4,86.6 350.6,87.3ZM348.5,81.4 345.2,80.7 344.1,85.8 347.4,86.6ZM345.2,80.7 341.9,80.0 340.9,85.2 344.1,85.8ZM337.6,84.6 334.3,84.0 333.5,89.2 336.7,89.8ZM334.3,84.0 331.0,83.5 330.3,88.8 333.5,89.2ZM331.0,83.5 327.7,83.1 327.1,88.3 330.3,88.8ZM327.7,83.1 324.4,82.7 323.9,88.0 327.1,88.3ZM324.4,82.7 321.1,82.4 320.6,87.7 323.9,88.0ZM320.6,87.7 317.4,87.4 317.1,92.6 320.2,92.9ZM317.4,87.4 314.2,87.2 313.9,92.4 317.1,92.6ZM314.2,87.2 311.0,87.1 310.8,92.3 313.9,92.4ZM311.0,87.1 307.7,87.0 307.6,92.2 310.8,92.3ZM307.7,87.0 304.5,87.0 304.5,92.2 307.6,92.2ZM307.6,92.2 304.5,92.2 304.5,97.4 307.6,97.4ZM304.5,92.2 301.4,92.2 301.4,97.4 304.5,97.4ZM301.4,92.2 298.2,92.3 298.4,97.5 301.4,97.4ZM298.2,92.3 295.1,92.4 295.4,97.6 298.4,97.5ZM295.1,92.4 291.9,92.6 292.3,97.8 295.4,97.6ZM298.4,97.5 295.4,97.6 295.6,102.8 298.6,102.7ZM295.4,97.6 292.3,97.8 292.7,103.0 295.6,102.8ZM292.3,97.8 289.3,98.1 289.7,103.2 292.7,103.0ZM289.3,98.1 286.2,98.4 286.8,103.5 289.7,103.2ZM286.2,98.4 283.2,98.7 283.8,103.8 286.8,103.5ZM225.1,116.4 222.4,117.9 224.9,122.4 227.5,121.1ZM222.4,117.9 219.8,119.3 222.3,123.8 224.9,122.4ZM219.8,119.3 217.1,120.8 219.7,125.3 222.3,123.8ZM217.1,120.8 214.5,122.4 217.1,126.8 219.7,125.3ZM214.5,122.4 211.9,124.0 214.6,128.3 217.1,126.8ZM211.9,124.0 209.3,125.6 212.1,129.9 214.6,128.3ZM209.3,125.6 206.7,127.3 209.6,131.6 212.1,129.9ZM176.7,391.4 178.8,393.6 182.5,390.0 180.4,387.9ZM289.7,103.2 286.8,103.5 287.3,108.6 290.2,108.3ZM286.8,103.5 283.8,103.8 284.5,108.9 287.3,108.6ZM283.8,103.8 280.9,104.2 281.6,109.3 284.5,108.9ZM280.9,104.2 278.0,104.7 278.8,109.7 281.6,109.3ZM235.5,117.2 232.8,118.5 235.0,123.1 237.6,121.9ZM232.8,118.5 230.1,119.7 232.4,124.4 235.0,123.1ZM230.1,119.7 227.5,121.1 229.8,125.6 232.4,124.4ZM227.5,121.1 224.9,122.4 227.3,127.0 229.8,125.6ZM224.9,122.4 222.3,123.8 224.8,128.3 227.3,127.0ZM217.1,126.8 214.6,128.3 217.3,132.7 219.8,131.2ZM214.6,128.3 212.1,129.9 214.9,134.3 217.3,132.7ZM212.1,129.9 209.6,131.6 212.5,135.8 214.9,134.3ZM209.6,131.6 207.2,133.2 210.2,137.5 212.5,135.8ZM207.2,133.2 204.8,135.0 207.8,139.1 210.2,137.5ZM204.8,135.0 202.4,136.7 205.5,140.8 207.8,139.1ZM202.4,136.7 200.1,138.5 203.2,142.6 205.5,140.8ZM200.1,138.5 197.7,140.4 201.0,144.4 203.2,142.6ZM197.7,140.4 195.5,142.3 198.8,146.2 201.0,144.4ZM195.5,142.3 193.2,144.2 196.6,148.1 198.8,146.2ZM180.4,387.9 182.5,390.0 186.2,386.5 184.2,384.4ZM363.4,425.8 366.1,424.7 364.2,420.0 361.6,421.0ZM366.1,424.7 368.8,423.6 366.8,418.9 364.2,420.0ZM368.8,423.6 371.4,422.5 369.3,417.8 366.8,418.9ZM371.4,422.5 374.0,421.3 371.8,416.6 369.3,417.8ZM281.6,109.3 278.8,109.7 279.6,114.8 282.3,114.4ZM278.8,109.7 275.9,110.2 276.8,115.3 279.6,114.8ZM275.9,110.2 273.1,110.7 274.1,115.8 276.8,115.3ZM273.1,110.7 270.3,111.3 271.4,116.3 274.1,115.8ZM270.3,111.3 267.5,111.9 268.7,116.9 271.4,116.3ZM267.5,111.9 264.7,112.6 265.9,117.6 268.7,116.9ZM264.7,112.6 261.9,113.3 263.3,118.3 265.9,117.6ZM261.9,113.3 259.2,114.1 260.6,119.0 263.3,118.3ZM259.2,114.1 256.4,114.9 257.9,119.8 260.6,119.0ZM245.6,118.6 242.9,119.7 244.8,124.4 247.4,123.4ZM242.9,119.7 240.2,120.8 242.2,125.5 244.8,124.4ZM240.2,120.8 237.6,121.9 239.7,126.6 242.2,125.5ZM237.6,121.9 235.0,123.1 237.2,127.8 239.7,126.6ZM235.0,123.1 232.4,124.4 234.6,129.0 237.2,127.8ZM232.4,124.4 229.8,125.6 232.2,130.2 234.6,129.0ZM207.8,139.1 205.5,140.8 208.6,144.9 210.8,143.3ZM205.5,140.8 203.2,142.6 206.4,146.6 208.6,144.9ZM203.2,142.6 201.0,144.4 204.2,148.4 206.4,146.6ZM201.0,144.4 198.8,146.2 202.1,150.1 204.2,148.4ZM198.8,146.2 196.6,148.1 199.9,151.9 202.1,150.1ZM196.6,148.1 194.4,150.0 197.9,153.8 199.9,151.9ZM194.4,150.0 192.3,151.9 195.8,155.6 197.9,153.8ZM192.3,151.9 190.2,153.9 193.8,157.6 195.8,155.6ZM190.2,153.9 188.2,155.9 191.8,159.5 193.8,157.6ZM188.2,155.9 186.2,157.9 189.9,161.5 191.8,159.5ZM186.2,157.9 184.2,160.0 187.9,163.5 189.9,161.5ZM184.2,160.0 182.3,162.1 186.1,165.6 187.9,163.5ZM182.3,162.1 180.4,164.3 184.2,167.6 186.1,165.6ZM184.2,384.4 186.2,386.5 189.9,382.9 187.9,380.9ZM356.4,422.9 359.0,422.0 357.3,417.2 354.7,418.1ZM359.0,422.0 361.6,421.0 359.8,416.2 357.3,417.2ZM361.6,421.0 364.2,420.0 362.3,415.2 359.8,416.2ZM364.2,420.0 366.8,418.9 364.8,414.2 362.3,415.2ZM366.8,418.9 369.3,417.8 367.2,413.1 364.8,414.2ZM369.3,417.8 371.8,416.6 369.7,412.0 367.2,413.1ZM263.3,118.3 260.6,119.0 262.0,123.9 264.6,123.2ZM260.6,119.0 257.9,119.8 259.4,124.7 262.0,123.9ZM257.9,119.8 255.3,120.6 256.8,125.5 259.4,124.7ZM255.3,120.6 252.6,121.5 254.3,126.3 256.8,125.5ZM252.6,121.5 250.0,122.4 251.7,127.2 254.3,126.3ZM250.0,122.4 247.4,123.4 249.2,128.2 251.7,127.2ZM247.4,123.4 244.8,124.4 246.7,129.2 249.2,128.2ZM244.8,124.4 242.2,125.5 244.2,130.2 246.7,129.2ZM187.9,380.9 189.9,382.9 193.5,379.4 191.7,377.4ZM189.9,382.9 191.8,384.9 195.4,381.3 193.5,379.4ZM354.7,418.1 357.3,417.2 355.5,412.4 353.1,413.3ZM357.3,417.2 359.8,416.2 358.0,411.5 355.5,412.4ZM359.8,416.2 362.3,415.2 360.4,410.5 358.0,411.5ZM362.3,415.2 364.8,414.2 362.8,409.5 360.4,410.5ZM364.8,414.2 367.2,413.1 365.2,408.5 362.8,409.5ZM195.4,381.3 197.3,383.2 200.9,379.5 199.0,377.7ZM197.3,383.2 199.3,385.0 202.7,381.3 200.9,379.5ZM199.3,385.0 201.3,386.8 204.7,383.1 202.7,381.3ZM201.3,386.8 203.3,388.6 206.6,384.8 204.7,383.1ZM353.1,413.3 355.5,412.4 353.8,407.7 351.4,408.5ZM355.5,412.4 358.0,411.5 356.2,406.8 353.8,407.7ZM358.0,411.5 360.4,410.5 358.5,405.9 356.2,406.8ZM360.4,410.5 362.8,409.5 360.8,404.9 358.5,405.9ZM204.7,383.1 206.6,384.8 209.9,381.0 208.0,379.3ZM206.6,384.8 208.6,386.5 211.8,382.6 209.9,381.0ZM208.6,386.5 210.6,388.2 213.8,384.2 211.8,382.6ZM210.6,388.2 212.6,389.8 215.7,385.8 213.8,384.2ZM351.4,408.5 353.8,407.7 352.1,402.9 349.8,403.8ZM353.8,407.7 356.2,406.8 354.4,402.1 352.1,402.9ZM211.8,382.6 213.8,384.2 216.9,380.3 215.1,378.8ZM213.8,384.2 215.7,385.8 218.8,381.8 216.9,380.3ZM215.7,385.8 217.7,387.3 220.8,383.3 218.8,381.8ZM347.5,404.5 349.8,403.8 348.2,399.0 346.0,399.8ZM349.8,403.8 352.1,402.9 350.4,398.2 348.2,399.0ZM216.9,380.3 218.8,381.8 221.9,377.9 220.1,376.4ZM218.8,381.8 220.8,383.3 223.8,379.3 221.9,377.9ZM220.8,383.3 222.7,384.8 225.7,380.7 223.8,379.3ZM346.0,399.8 350.4,398.2 348.7,393.6 344.4,395.0ZM221.9,377.9 225.7,380.7 228.6,376.7 225.0,374.0ZM225.7,380.7 229.5,383.4 232.3,379.3 228.6,376.7ZM229.5,383.4 233.4,386.0 236.1,381.7 232.3,379.3ZM233.4,386.0 237.4,388.4 239.9,384.1 236.1,381.7ZM249.9,394.7 254.3,396.6 256.1,392.0 252.0,390.2ZM254.3,396.6 258.6,398.2 260.3,393.6 256.1,392.0ZM344.4,395.0 348.7,393.6 347.0,388.9 342.9,390.3ZM347.0,388.9 351.0,387.4 349.2,382.8 345.3,384.3ZM349.2,382.8 353.0,381.2 351.0,376.7 347.3,378.2ZM283.8,389.7 287.9,390.3 288.6,385.4 284.6,384.8ZM288.6,385.4 292.5,385.9 293.1,381.1 289.3,380.6ZM293.1,381.1 296.9,381.4 297.2,376.5 293.6,376.2ZM338.6,365.9 341.9,364.7 340.0,360.2 336.9,361.3ZM304.5,367.1 307.8,367.0 307.6,362.2 304.5,362.2ZM330.6,363.4 333.8,362.4 332.3,357.8 329.3,358.7ZM333.8,362.4 336.9,361.3 335.3,356.8 332.3,357.8Z"/>
<path fill="#00ec27" stroke="#00ec27" stroke-width="0.6" d="M445.1,92.2 441.9,89.8 438.6,94.2 441.7,96.6ZM441.9,89.8 438.7,87.4 435.5,91.9 438.6,94.2ZM438.7,87.4 435.5,85.1 432.3,89.7 435.5,91.9ZM108.8,389.8 110.8,393.2 115.5,390.3 113.5,387.0ZM447.7,101.5 444.7,99.0 441.3,103.3 444.2,105.7ZM429.1,87.5 425.9,85.3 422.9,89.9 426.0,92.0ZM113.5,387.0 115.5,390.3 120.2,387.4 118.2,384.2ZM133.8,415.4 136.3,418.4 140.5,414.8 138.0,411.9ZM449.9,110.7 447.1,108.2 443.5,112.3 446.3,114.7ZM409.9,82.1 406.5,80.3 404.0,85.1 407.2,86.8ZM400.7,83.4 397.4,81.7 395.0,86.6 398.3,88.2ZM388.5,83.5 385.2,82.1 383.1,87.0 386.3,88.4ZM385.2,82.1 381.9,80.7 379.9,85.7 383.1,87.0ZM376.6,84.4 373.3,83.2 371.5,88.2 374.7,89.4ZM373.3,83.2 370.0,82.0 368.3,87.1 371.5,88.2ZM157.4,409.4 159.8,411.9 163.6,408.2 161.3,405.7ZM365.0,86.0 361.8,84.9 360.2,90.0 363.4,91.0ZM361.8,84.9 358.5,84.0 357.0,89.1 360.2,90.0ZM358.5,84.0 355.2,83.1 353.8,88.2 357.0,89.1ZM350.6,87.3 347.4,86.6 346.2,91.7 349.3,92.5ZM347.4,86.6 344.1,85.8 343.0,91.0 346.2,91.7ZM344.1,85.8 340.9,85.2 339.8,90.4 343.0,91.0ZM340.9,85.2 337.6,84.6 336.7,89.8 339.8,90.4ZM336.7,89.8 333.5,89.2 332.7,94.4 335.8,94.9ZM333.5,89.2 330.3,88.8 329.6,93.9 332.7,94.4ZM330.3,88.8 327.1,88.3 326.4,93.5 329.6,93.9ZM327.1,88.3 323.9,88.0 323.3,93.2 326.4,93.5ZM323.9,88.0 320.6,87.7 320.2,92.9 323.3,93.2ZM166.8,396.2 169.0,398.5 172.8,395.0 170.7,392.7ZM323.3,93.2 320.2,92.9 319.7,98.1 322.8,98.4ZM320.2,92.9 317.1,92.6 316.7,97.8 319.7,98.1ZM317.1,92.6 313.9,92.4 313.6,97.6 316.7,97.8ZM313.9,92.4 310.8,92.3 310.6,97.5 313.6,97.6ZM310.8,92.3 307.6,92.2 307.6,97.4 310.6,97.5ZM170.7,392.7 172.8,395.0 176.7,391.4 174.6,389.2ZM310.6,97.5 307.6,97.4 307.5,102.6 310.4,102.7ZM307.6,97.4 304.5,97.4 304.5,102.6 307.5,102.6ZM304.5,97.4 301.4,97.4 301.5,102.6 304.5,102.6ZM301.4,97.4 298.4,97.5 298.6,102.7 301.5,102.6ZM174.6,389.2 176.7,391.4 180.4,387.9 178.4,385.7ZM301.5,102.6 298.6,102.7 298.8,107.8 301.6,107.7ZM298.6,102.7 295.6,102.8 295.9,107.9 298.8,107.8ZM295.6,102.8 292.7,103.0 293.0,108.1 295.9,107.9ZM292.7,103.0 289.7,103.2 290.2,108.3 293.0,108.1ZM222.3,123.8 219.7,125.3 222.3,129.8 224.8,128.3ZM219.7,125.3 217.1,126.8 219.8,131.2 222.3,129.8ZM178.4,385.7 180.4,387.9 184.2,384.4 182.3,382.3ZM290.2,108.3 287.3,108.6 287.8,113.7 290.6,113.4ZM287.3,108.6 284.5,108.9 285.1,114.0 287.8,113.7ZM284.5,108.9 281.6,109.3 282.3,114.4 285.1,114.0ZM229.8,125.6 227.3,127.0 229.7,131.5 232.2,130.2ZM227.3,127.0 224.8,128.3 227.2,132.8 229.7,131.5ZM224.8,128.3 222.3,129.8 224.8,134.2 227.2,132.8ZM222.3,129.8 219.8,131.2 222.4,135.6 224.8,134.2ZM219.8,131.2 217.3,132.7 220.1,137.1 222.4,135.6ZM217.3,132.7 214.9,134.3 217.7,138.5 220.1,137.1ZM214.9,134.3 212.5,135.8 215.4,140.1 217.7,138.5ZM212.5,135.8 210.2,137.5 213.1,141.7 215.4,140.1ZM210.2,137.5 207.8,139.1 210.8,143.3 213.1,141.7ZM182.3,382.3 184.2,384.4 187.9,380.9 186.1,378.8ZM371.8,416.6 374.4,415.4 372.1,410.9 369.7,412.0ZM276.8,115.3 274.1,115.8 275.1,120.8 277.7,120.3ZM274.1,115.8 271.4,116.3 272.4,121.3 275.1,120.8ZM271.4,116.3 268.7,116.9 269.8,121.9 272.4,121.3ZM268.7,116.9 265.9,117.6 267.2,122.5 269.8,121.9ZM265.9,117.6 263.3,118.3 264.6,123.2 267.2,122.5ZM242.2,125.5 239.7,126.6 241.8,131.3 244.2,130.2ZM239.7,126.6 237.2,127.8 239.3,132.4 241.8,131.3ZM237.2,127.8 234.6,129.0 236.9,133.5 239.3,132.4ZM234.6,129.0 232.2,130.2 234.5,134.7 236.9,133.5ZM232.2,130.2 229.7,131.5 232.1,136.0 234.5,134.7ZM229.7,131.5 227.2,132.8 229.7,137.3 232.1,136.0ZM227.2,132.8 224.8,134.2 227.4,138.6 229.7,137.3ZM224.8,134.2 222.4,135.6 225.0,140.0 227.4,138.6ZM222.4,135.6 220.1,137.1 222.7,141.4 225.0,140.0ZM220.1,137.1 217.7,138.5 220.5,142.8 222.7,141.4ZM217.7,138.5 215.4,140.1 218.2,144.3 220.5,142.8ZM215.4,140.1 213.1,141.7 216.0,145.8 218.2,144.3ZM213.1,141.7 210.8,143.3 213.8,147.4 216.0,145.8ZM210.8,143.3 208.6,144.9 211.7,149.0 213.8,147.4ZM208.6,144.9 206.4,146.6 209.5,150.6 211.7,149.0ZM206.4,146.6 204.2,148.4 207.4,152.3 209.5,150.6ZM204.2,148.4 202.1,150.1 205.3,154.0 207.4,152.3ZM202.1,150.1 199.9,151.9 203.3,155.8 205.3,154.0ZM199.9,151.9 197.9,153.8 201.3,157.6 203.3,155.8ZM197.9,153.8 195.8,155.6 199.3,159.4 201.3,157.6ZM195.8,155.6 193.8,157.6 197.3,161.2 199.3,159.4ZM193.8,157.6 191.8,159.5 195.4,163.1 197.3,161.2ZM191.8,159.5 189.9,161.5 193.5,165.0 195.4,163.1ZM189.9,161.5 187.9,163.5 191.7,167.0 193.5,165.0ZM187.9,163.5 186.1,165.6 189.9,169.0 191.7,167.0ZM186.1,378.8 187.9,380.9 191.7,377.4 189.9,375.4ZM367.2,413.1 369.7,412.0 367.6,407.4 365.2,408.5ZM369.7,412.0 372.1,410.9 369.9,406.3 367.6,407.4ZM372.1,410.9 374.5,409.7 372.2,405.1 369.9,406.3ZM254.3,126.3 251.7,127.2 253.5,132.0 255.9,131.1ZM251.7,127.2 249.2,128.2 251.0,132.9 253.5,132.0ZM189.9,375.4 191.7,377.4 195.4,374.0 193.6,372.0ZM191.7,377.4 193.5,379.4 197.2,375.8 195.4,374.0ZM193.5,379.4 195.4,381.3 199.0,377.7 197.2,375.8ZM362.8,409.5 365.2,408.5 363.1,403.9 360.8,404.9ZM365.2,408.5 367.6,407.4 365.4,402.9 363.1,403.9ZM367.6,407.4 369.9,406.3 367.7,401.8 365.4,402.9ZM369.9,406.3 372.2,405.1 369.9,400.6 367.7,401.8ZM372.2,405.1 374.5,403.9 372.2,399.5 369.9,400.6ZM199.0,377.7 200.9,379.5 204.4,375.9 202.6,374.1ZM200.9,379.5 202.7,381.3 206.2,377.6 204.4,375.9ZM202.7,381.3 204.7,383.1 208.0,379.3 206.2,377.6ZM356.2,406.8 358.5,405.9 356.6,401.2 354.4,402.1ZM358.5,405.9 360.8,404.9 358.9,400.3 356.6,401.2ZM360.8,404.9 363.1,403.9 361.1,399.3 358.9,400.3ZM363.1,403.9 365.4,402.9 363.3,398.3 361.1,399.3ZM365.4,402.9 367.7,401.8 365.5,397.3 363.3,398.3ZM367.7,401.8 369.9,400.6 367.7,396.2 365.5,397.3ZM208.0,379.3 209.9,381.0 213.2,377.2 211.4,375.6ZM209.9,381.0 211.8,382.6 215.1,378.8 213.2,377.2ZM352.1,402.9 354.4,402.1 352.6,397.4 350.4,398.2ZM354.4,402.1 356.6,401.2 354.7,396.6 352.6,397.4ZM356.6,401.2 358.9,400.3 356.9,395.7 354.7,396.6ZM213.2,377.2 215.1,378.8 218.3,375.0 216.5,373.4ZM215.1,378.8 216.9,380.3 220.1,376.4 218.3,375.0ZM350.4,398.2 354.7,396.6 352.9,392.0 348.7,393.6ZM218.3,375.0 221.9,377.9 225.0,374.0 221.5,371.1ZM237.4,388.4 241.5,390.6 243.9,386.2 239.9,384.1ZM241.5,390.6 245.7,392.8 247.9,388.3 243.9,386.2ZM245.7,392.8 249.9,394.7 252.0,390.2 247.9,388.3ZM348.7,393.6 352.9,392.0 351.0,387.4 347.0,388.9ZM352.9,392.0 357.0,390.2 355.0,385.7 351.0,387.4ZM260.3,393.6 264.6,395.0 266.1,390.3 262.0,388.9ZM351.0,387.4 355.0,385.7 353.0,381.2 349.2,382.8ZM355.0,385.7 358.9,383.8 356.8,379.4 353.0,381.2ZM270.3,391.6 274.5,392.7 275.6,387.9 271.6,386.9ZM353.0,381.2 356.8,379.4 354.6,375.0 351.0,376.7ZM293.6,376.2 297.2,376.5 297.5,371.7 294.1,371.4ZM297.5,371.7 301.0,371.9 301.2,367.0 297.9,366.8ZM336.9,361.3 340.0,360.2 338.2,355.7 335.3,356.8ZM340.0,360.2 343.1,358.9 341.1,354.4 338.2,355.7ZM301.2,367.0 304.5,367.1 304.5,362.2 301.4,362.2ZM307.6,362.2 310.8,362.0 310.4,357.2 307.5,357.4ZM310.8,362.0 313.9,361.7 313.4,356.9 310.4,357.2ZM313.9,361.7 317.0,361.4 316.4,356.6 313.4,356.9ZM317.0,361.4 320.1,360.9 319.3,356.1 316.4,356.6ZM320.1,360.9 323.2,360.3 322.2,355.5 319.3,356.1ZM323.2,360.3 326.3,359.6 325.1,354.9 322.2,355.5ZM326.3,359.6 329.3,358.7 328.0,354.1 325.1,354.9Z"/>
<path fill="#0de900" stroke="#0de900" stroke-width="0.6" d="M428.9,80.7 425.5,78.5 422.6,83.2 425.9,85.3ZM124.5,412.8 127.0,415.9 131.3,412.4 128.9,409.4ZM127.0,415.9 129.6,419.0 133.8,415.4 131.3,412.4ZM453.6,106.6 450.7,104.0 447.1,108.2 449.9,110.7ZM415.9,79.2 412.5,77.3 409.9,82.1 413.2,84.0ZM412.5,77.3 409.1,75.4 406.5,80.3 409.9,82.1ZM119.8,396.8 122.0,400.0 126.4,396.9 124.3,393.7ZM399.8,76.8 396.4,75.2 394.1,80.1 397.4,81.7ZM387.3,77.1 383.9,75.7 381.9,80.7 385.2,82.1ZM383.9,75.7 380.4,74.4 378.5,79.4 381.9,80.7ZM371.7,76.9 368.3,75.8 366.7,80.9 370.0,82.0ZM368.3,75.8 364.9,74.7 363.3,79.8 366.7,80.9ZM364.9,74.7 361.4,73.7 359.9,78.8 363.3,79.8ZM361.4,73.7 358.0,72.7 356.6,77.9 359.9,78.8ZM346.3,75.4 342.9,74.7 341.9,80.0 345.2,80.7ZM342.9,74.7 339.4,74.1 338.5,79.4 341.9,80.0ZM339.4,74.1 336.0,73.5 335.1,78.8 338.5,79.4ZM336.0,73.5 332.5,73.0 331.8,78.3 335.1,78.8ZM332.5,73.0 329.0,72.5 328.4,77.8 331.8,78.3ZM329.0,72.5 325.5,72.2 325.0,77.5 328.4,77.8ZM321.6,77.1 318.2,76.9 317.8,82.1 321.1,82.4ZM318.2,76.9 314.7,76.7 314.5,81.9 317.8,82.1ZM314.7,76.7 311.3,76.5 311.1,81.8 314.5,81.9ZM311.3,76.5 307.9,76.4 307.8,81.7 311.1,81.8ZM307.9,76.4 304.5,76.4 304.5,81.7 307.8,81.7ZM304.5,76.4 301.1,76.4 301.2,81.7 304.5,81.7ZM301.1,76.4 297.7,76.5 297.9,81.8 301.2,81.7ZM297.7,76.5 294.3,76.7 294.5,81.9 297.9,81.8ZM294.3,76.7 290.8,76.9 291.2,82.1 294.5,81.9ZM297.9,81.8 294.5,81.9 294.8,87.2 298.0,87.1ZM294.5,81.9 291.2,82.1 291.6,87.4 294.8,87.2ZM291.2,82.1 287.9,82.4 288.4,87.7 291.6,87.4ZM287.9,82.4 284.6,82.7 285.1,88.0 288.4,87.7ZM284.6,82.7 281.3,83.1 281.9,88.3 285.1,88.0ZM281.3,83.1 278.0,83.5 278.7,88.8 281.9,88.3ZM278.0,83.5 274.7,84.0 275.5,89.2 278.7,88.8ZM274.7,84.0 271.4,84.6 272.3,89.8 275.5,89.2ZM271.4,84.6 268.1,85.2 269.2,90.4 272.3,89.8ZM268.1,85.2 264.9,85.8 266.0,91.0 269.2,90.4ZM264.9,85.8 261.6,86.6 262.8,91.7 266.0,91.0ZM261.6,86.6 258.4,87.3 259.7,92.5 262.8,91.7ZM258.4,87.3 255.2,88.2 256.6,93.3 259.7,92.5ZM255.2,88.2 252.0,89.1 253.4,94.1 256.6,93.3ZM252.0,89.1 248.8,90.0 250.3,95.0 253.4,94.1ZM248.8,90.0 245.6,91.0 247.3,96.0 250.3,95.0ZM245.6,91.0 242.5,92.1 244.2,97.0 247.3,96.0ZM242.5,92.1 239.3,93.2 241.1,98.1 244.2,97.0ZM239.3,93.2 236.2,94.3 238.1,99.3 241.1,98.1ZM236.2,94.3 233.1,95.6 235.1,100.4 238.1,99.3ZM233.1,95.6 230.1,96.8 232.1,101.7 235.1,100.4ZM230.1,96.8 227.0,98.2 229.2,103.0 232.1,101.7ZM227.0,98.2 224.0,99.5 226.2,104.3 229.2,103.0ZM224.0,99.5 221.0,101.0 223.3,105.7 226.2,104.3ZM221.0,101.0 218.0,102.4 220.4,107.1 223.3,105.7ZM218.0,102.4 215.1,104.0 217.5,108.6 220.4,107.1ZM215.1,104.0 212.1,105.6 214.7,110.2 217.5,108.6ZM212.1,105.6 209.2,107.2 211.9,111.8 214.7,110.2ZM209.2,107.2 206.4,108.9 209.1,113.4 211.9,111.8ZM206.4,108.9 203.5,110.6 206.3,115.1 209.1,113.4ZM278.7,88.8 275.5,89.2 276.3,94.4 279.4,93.9ZM275.5,89.2 272.3,89.8 273.2,94.9 276.3,94.4ZM272.3,89.8 269.2,90.4 270.2,95.5 273.2,94.9ZM269.2,90.4 266.0,91.0 267.1,96.1 270.2,95.5ZM266.0,91.0 262.8,91.7 264.0,96.8 267.1,96.1ZM262.8,91.7 259.7,92.5 261.0,97.5 264.0,96.8ZM259.7,92.5 256.6,93.3 257.9,98.3 261.0,97.5ZM256.6,93.3 253.4,94.1 254.9,99.2 257.9,98.3ZM253.4,94.1 250.3,95.0 251.9,100.1 254.9,99.2ZM250.3,95.0 247.3,96.0 248.9,101.0 251.9,100.1ZM247.3,96.0 244.2,97.0 245.9,102.0 248.9,101.0ZM244.2,97.0 241.1,98.1 242.9,103.0 245.9,102.0ZM241.1,98.1 238.1,99.3 240.0,104.1 242.9,103.0ZM238.1,99.3 235.1,100.4 237.1,105.3 240.0,104.1ZM235.1,100.4 232.1,101.7 234.2,106.5 237.1,105.3ZM232.1,101.7 229.2,103.0 231.3,107.8 234.2,106.5ZM229.2,103.0 226.2,104.3 228.4,109.1 231.3,107.8ZM226.2,104.3 223.3,105.7 225.6,110.4 228.4,109.1ZM223.3,105.7 220.4,107.1 222.8,111.8 225.6,110.4ZM220.4,107.1 217.5,108.6 220.0,113.3 222.8,111.8ZM217.5,108.6 214.7,110.2 217.2,114.8 220.0,113.3ZM214.7,110.2 211.9,111.8 214.5,116.3 217.2,114.8ZM211.9,111.8 209.1,113.4 211.8,117.9 214.5,116.3ZM209.1,113.4 206.3,115.1 209.1,119.5 211.8,117.9ZM206.3,115.1 203.6,116.8 206.5,121.2 209.1,119.5ZM203.6,116.8 200.9,118.6 203.8,123.0 206.5,121.2ZM200.9,118.6 198.2,120.5 201.2,124.7 203.8,123.0ZM198.2,120.5 195.6,122.3 198.7,126.6 201.2,124.7ZM195.6,122.3 193.0,124.3 196.2,128.4 198.7,126.6ZM193.0,124.3 190.4,126.2 193.7,130.3 196.2,128.4ZM267.1,96.1 264.0,96.8 265.2,101.9 268.2,101.2ZM264.0,96.8 261.0,97.5 262.2,102.6 265.2,101.9ZM261.0,97.5 257.9,98.3 259.3,103.3 262.2,102.6ZM257.9,98.3 254.9,99.2 256.3,104.2 259.3,103.3ZM254.9,99.2 251.9,100.1 253.4,105.0 256.3,104.2ZM251.9,100.1 248.9,101.0 250.5,105.9 253.4,105.0ZM248.9,101.0 245.9,102.0 247.6,106.9 250.5,105.9ZM245.9,102.0 242.9,103.0 244.7,107.9 247.6,106.9ZM242.9,103.0 240.0,104.1 241.9,109.0 244.7,107.9ZM240.0,104.1 237.1,105.3 239.0,110.1 241.9,109.0ZM196.2,128.4 193.7,130.3 196.9,134.5 199.3,132.6ZM193.7,130.3 191.2,132.3 194.5,136.3 196.9,134.5ZM191.2,132.3 188.8,134.3 192.1,138.3 194.5,136.3ZM188.8,134.3 186.4,136.3 189.8,140.3 192.1,138.3ZM186.4,136.3 184.0,138.4 187.5,142.3 189.8,140.3ZM358.5,438.5 361.4,437.5 359.7,432.6 356.9,433.5ZM361.4,437.5 364.3,436.5 362.5,431.6 359.7,432.6ZM364.3,436.5 367.1,435.4 365.3,430.6 362.5,431.6ZM189.8,140.3 187.5,142.3 191.0,146.1 193.2,144.2ZM187.5,142.3 185.3,144.4 188.8,148.1 191.0,146.1ZM185.3,144.4 183.1,146.5 186.7,150.2 188.8,148.1ZM183.1,146.5 180.9,148.6 184.6,152.3 186.7,150.2ZM178.8,393.6 180.9,395.8 184.6,392.1 182.5,390.0ZM351.3,435.3 354.1,434.4 352.6,429.5 349.8,430.3ZM354.1,434.4 356.9,433.5 355.3,428.6 352.6,429.5ZM356.9,433.5 359.7,432.6 358.1,427.7 355.3,428.6ZM184.6,152.3 182.5,154.4 186.2,157.9 188.2,155.9ZM182.5,154.4 180.4,156.5 184.2,160.0 186.2,157.9ZM184.6,392.1 186.7,394.2 190.2,390.5 188.2,388.5ZM186.7,394.2 188.8,396.3 192.3,392.5 190.2,390.5ZM195.5,402.1 197.7,404.0 201.0,400.0 198.8,398.2ZM197.7,404.0 200.1,405.9 203.2,401.8 201.0,400.0ZM200.1,405.9 202.4,407.7 205.5,403.6 203.2,401.8ZM347.1,431.1 349.8,430.3 348.4,425.4 345.7,426.1ZM349.8,430.3 352.6,429.5 351.1,424.6 348.4,425.4ZM190.2,390.5 192.3,392.5 195.8,388.8 193.8,386.8ZM192.3,392.5 194.4,394.4 197.9,390.6 195.8,388.8ZM194.4,394.4 196.6,396.3 199.9,392.5 197.9,390.6ZM196.6,396.3 198.8,398.2 202.1,394.3 199.9,392.5ZM198.8,398.2 201.0,400.0 204.2,396.0 202.1,394.3ZM201.0,400.0 203.2,401.8 206.4,397.8 204.2,396.0ZM203.2,401.8 205.5,403.6 208.6,399.5 206.4,397.8ZM205.5,403.6 207.8,405.3 210.8,401.1 208.6,399.5ZM343.1,426.8 345.7,426.1 344.4,421.2 341.8,421.9ZM345.7,426.1 348.4,425.4 347.0,420.5 344.4,421.2ZM210.8,401.1 213.1,402.7 216.0,398.6 213.8,397.0ZM213.1,402.7 215.4,404.3 218.2,400.1 216.0,398.6ZM344.4,421.2 347.0,420.5 345.6,415.6 343.1,416.3ZM213.8,397.0 216.0,398.6 218.9,394.4 216.8,392.9ZM216.0,398.6 218.2,400.1 221.1,395.9 218.9,394.4ZM218.2,400.1 220.5,401.6 223.2,397.3 221.1,395.9ZM345.6,415.6 348.1,414.9 346.6,410.1 344.2,410.8ZM216.8,392.9 218.9,394.4 221.8,390.3 219.8,388.8ZM218.9,394.4 221.1,395.9 223.9,391.7 221.8,390.3ZM221.1,395.9 223.2,397.3 226.0,393.1 223.9,391.7ZM223.2,397.3 225.4,398.7 228.1,394.5 226.0,393.1ZM225.4,398.7 227.7,400.1 230.3,395.8 228.1,394.5ZM227.7,400.1 229.9,401.4 232.4,397.0 230.3,395.8ZM229.9,401.4 232.2,402.7 234.6,398.3 232.4,397.0ZM232.2,402.7 234.5,403.9 236.8,399.5 234.6,398.3ZM344.2,410.8 346.6,410.1 345.2,405.3 342.9,405.9ZM223.9,391.7 226.0,393.1 228.7,388.9 226.7,387.5ZM226.0,393.1 228.1,394.5 230.8,390.2 228.7,388.9ZM228.1,394.5 230.3,395.8 232.8,391.5 230.8,390.2ZM230.3,395.8 232.4,397.0 234.9,392.7 232.8,391.5ZM232.4,397.0 234.6,398.3 237.0,393.9 234.9,392.7ZM234.6,398.3 236.8,399.5 239.2,395.1 237.0,393.9ZM236.8,399.5 239.1,400.6 241.3,396.2 239.2,395.1ZM239.1,400.6 241.3,401.8 243.5,397.3 241.3,396.2ZM241.3,401.8 243.6,402.9 245.7,398.3 243.5,397.3ZM243.6,402.9 245.9,403.9 247.9,399.3 245.7,398.3ZM245.9,403.9 248.2,404.9 250.1,400.3 247.9,399.3ZM342.9,405.9 345.2,405.3 343.7,400.5 341.5,401.1ZM252.4,401.2 254.6,402.1 256.4,397.4 254.3,396.6ZM254.6,402.1 256.9,402.9 258.6,398.2 256.4,397.4ZM268.9,396.4 273.3,397.5 274.5,392.7 270.3,391.6ZM278.7,393.7 282.9,394.5 283.8,389.7 279.7,388.9ZM287.9,390.3 292.0,390.8 292.5,385.9 288.6,385.4ZM296.9,381.4 300.7,381.6 300.9,376.7 297.2,376.5ZM333.3,372.7 336.8,371.7 335.3,367.0 332.0,368.0ZM300.9,376.7 304.5,376.8 304.5,371.9 301.0,371.9ZM304.5,371.9 308.0,371.9 307.8,367.0 304.5,367.1ZM328.6,369.0 332.0,368.0 330.6,363.4 327.4,364.2ZM332.0,368.0 335.3,367.0 333.8,362.4 330.6,363.4Z"/>
<path fill="#53ef00" stroke="#53ef00" stroke-width="0.6" d="M404.6,66.9 401.0,65.2 398.7,70.2 402.2,71.9ZM395.1,68.6 391.6,67.1 389.4,72.1 392.9,73.6ZM391.6,67.1 388.0,65.6 385.9,70.7 389.4,72.1ZM388.0,65.6 384.4,64.2 382.4,69.3 385.9,70.7ZM371.7,65.5 368.1,64.3 366.5,69.5 370.0,70.6ZM368.1,64.3 364.4,63.3 362.9,68.5 366.5,69.5ZM364.4,63.3 360.8,62.2 359.3,67.5 362.9,68.5ZM360.8,62.2 357.1,61.3 355.8,66.6 359.3,67.5ZM357.1,61.3 353.4,60.4 352.2,65.7 355.8,66.6ZM353.4,60.4 349.7,59.6 348.6,64.9 352.2,65.7ZM349.7,59.6 346.0,58.8 344.9,64.2 348.6,64.9ZM346.0,58.8 342.2,58.1 341.3,63.5 344.9,64.2ZM342.2,58.1 338.5,57.5 337.7,62.9 341.3,63.5ZM338.5,57.5 334.8,56.9 334.0,62.3 337.7,62.9ZM334.8,56.9 331.0,56.5 330.3,61.9 334.0,62.3ZM331.0,56.5 327.2,56.0 326.7,61.4 330.3,61.9ZM327.2,56.0 323.4,55.7 323.0,61.1 326.7,61.4ZM323.4,55.7 319.7,55.4 319.3,60.8 323.0,61.1ZM319.7,55.4 315.9,55.1 315.6,60.6 319.3,60.8ZM315.9,55.1 312.1,55.0 311.9,60.4 315.6,60.6ZM312.1,55.0 308.3,54.9 308.2,60.3 311.9,60.4ZM308.3,54.9 304.5,54.8 304.5,60.3 308.2,60.3ZM304.5,54.8 300.7,54.9 300.8,60.3 304.5,60.3ZM300.7,54.9 296.9,55.0 297.1,60.4 300.8,60.3ZM260.4,64.9 256.8,65.7 258.0,71.0 261.6,70.2ZM256.8,65.7 253.2,66.6 254.5,71.8 258.0,71.0ZM253.2,66.6 249.7,67.5 251.0,72.7 254.5,71.8ZM249.7,67.5 246.1,68.5 247.6,73.7 251.0,72.7ZM246.1,68.5 242.5,69.5 244.1,74.7 247.6,73.7ZM242.5,69.5 239.0,70.6 240.7,75.8 244.1,74.7ZM239.0,70.6 235.5,71.8 237.3,76.9 240.7,75.8ZM228.6,74.4 225.1,75.7 227.1,80.7 230.5,79.4ZM225.1,75.7 221.7,77.1 223.8,82.1 227.1,80.7ZM221.7,77.1 218.3,78.6 220.5,83.5 223.8,82.1ZM218.3,78.6 214.9,80.1 217.2,85.0 220.5,83.5ZM214.9,80.1 211.6,81.7 214.0,86.6 217.2,85.0ZM211.6,81.7 208.3,83.4 210.7,88.2 214.0,86.6ZM208.3,83.4 205.0,85.1 207.5,89.9 210.7,88.2ZM205.0,85.1 201.8,86.8 204.4,91.6 207.5,89.9ZM201.8,86.8 198.5,88.7 201.2,93.3 204.4,91.6ZM198.5,88.7 195.4,90.5 198.1,95.2 201.2,93.3ZM195.4,90.5 192.2,92.5 195.1,97.1 198.1,95.2ZM192.0,99.0 189.0,101.0 192.0,105.4 194.9,103.5ZM189.0,101.0 186.0,103.0 189.1,107.4 192.0,105.4ZM186.0,103.0 183.1,105.1 186.3,109.5 189.1,107.4ZM183.1,105.1 180.2,107.3 183.4,111.6 186.3,109.5ZM180.2,107.3 177.4,109.5 180.7,113.7 183.4,111.6ZM177.4,109.5 174.5,111.7 177.9,115.9 180.7,113.7ZM174.5,111.7 171.8,114.0 175.2,118.1 177.9,115.9ZM175.2,118.1 172.5,120.4 176.0,124.4 178.6,122.2ZM172.5,120.4 169.9,122.7 173.5,126.7 176.0,124.4ZM169.9,122.7 167.3,125.1 171.0,129.0 173.5,126.7ZM171.0,129.0 168.5,131.3 172.2,135.2 174.6,132.9ZM168.5,131.3 166.0,133.7 169.8,137.5 172.2,135.2ZM169.8,137.5 167.5,139.9 171.2,143.5 173.5,141.2ZM167.5,139.9 165.2,142.3 169.0,145.9 171.2,143.5ZM165.2,142.3 162.9,144.7 166.8,148.2 169.0,145.9ZM164.7,150.7 162.6,153.1 166.6,156.5 168.6,154.1ZM162.6,153.1 160.5,155.6 164.6,158.9 166.6,156.5ZM160.5,155.6 158.5,158.1 162.6,161.4 164.6,158.9ZM158.5,158.1 156.6,160.7 160.7,163.9 162.6,161.4ZM173.5,403.2 175.8,405.5 179.5,401.7 177.2,399.5ZM341.9,448.3 345.0,447.6 343.8,442.5 340.8,443.2ZM193.7,414.1 196.2,416.0 199.3,411.8 196.9,409.9ZM196.2,416.0 198.7,417.8 201.8,413.6 199.3,411.8ZM334.9,444.4 337.9,443.8 336.9,438.7 334.0,439.3ZM204.2,415.4 206.7,417.1 209.6,412.8 207.2,411.2ZM206.7,417.1 209.3,418.8 212.1,414.5 209.6,412.8ZM334.0,439.3 336.9,438.7 335.9,433.7 333.1,434.2ZM217.1,417.6 219.7,419.1 222.3,414.6 219.8,413.2ZM219.7,419.1 222.3,420.6 224.8,416.1 222.3,414.6ZM222.3,420.6 224.9,422.0 227.3,417.4 224.8,416.1ZM224.9,422.0 227.5,423.3 229.8,418.8 227.3,417.4ZM333.1,434.2 335.9,433.7 334.9,428.6 332.2,429.1ZM232.4,420.0 235.0,421.3 237.2,416.6 234.6,415.4ZM235.0,421.3 237.6,422.5 239.7,417.8 237.2,416.6ZM237.6,422.5 240.2,423.6 242.2,418.9 239.7,417.8ZM332.2,429.1 334.9,428.6 333.9,423.6 331.3,424.1ZM242.2,418.9 244.8,420.0 246.7,415.2 244.2,414.2ZM244.8,420.0 247.4,421.0 249.2,416.2 246.7,415.2ZM331.3,424.1 333.9,423.6 333.0,418.7 330.4,419.1ZM249.2,416.2 251.7,417.2 253.5,412.4 251.0,411.5ZM251.7,417.2 254.3,418.1 255.9,413.3 253.5,412.4ZM254.3,418.1 256.8,418.9 258.4,414.1 255.9,413.3ZM330.4,419.1 333.0,418.7 332.0,413.7 329.5,414.2ZM258.4,414.1 260.9,414.9 262.4,410.1 260.0,409.3ZM260.9,414.9 263.4,415.6 264.8,410.8 262.4,410.1ZM329.5,414.2 332.0,413.7 331.0,408.8 328.7,409.2ZM264.8,410.8 267.2,411.4 268.5,406.6 266.1,405.9ZM268.5,406.6 270.8,407.2 272.0,402.4 269.8,401.8ZM270.8,407.2 273.2,407.8 274.3,402.9 272.0,402.4ZM272.0,402.4 276.6,403.4 277.6,398.5 273.3,397.5ZM276.6,403.4 281.2,404.3 282.1,399.4 277.6,398.5ZM286.5,400.1 291.0,400.7 291.5,395.7 287.2,395.2ZM321.8,395.2 326.1,394.5 325.2,389.7 321.1,390.3ZM291.5,395.7 295.8,396.1 296.2,391.2 292.0,390.8ZM321.1,390.3 325.2,389.7 324.4,384.8 320.4,385.4ZM296.2,391.2 300.3,391.4 300.5,386.5 296.5,386.3ZM316.5,385.9 320.4,385.4 319.7,380.6 315.9,381.1ZM300.5,386.5 304.5,386.6 304.5,381.7 300.7,381.6ZM308.3,381.6 312.1,381.4 311.8,376.5 308.1,376.7ZM312.1,381.4 315.9,381.1 315.4,376.2 311.8,376.5ZM315.9,381.1 319.7,380.6 319.1,375.8 315.4,376.2ZM311.8,376.5 315.4,376.2 314.9,371.4 311.5,371.7ZM315.4,376.2 319.1,375.8 318.4,370.9 314.9,371.4Z"/>
<path fill="#76f300" stroke="#76f300" stroke-width="0.6" d="M390.0,60.5 386.3,59.0 384.4,64.2 388.0,65.6ZM386.3,59.0 382.6,57.6 380.7,62.8 384.4,64.2ZM382.6,57.6 378.8,56.3 377.1,61.5 380.7,62.8ZM378.8,56.3 375.1,55.0 373.4,60.3 377.1,61.5ZM375.1,55.0 371.3,53.8 369.7,59.1 373.4,60.3ZM371.3,53.8 367.4,52.7 365.9,58.0 369.7,59.1ZM367.4,52.7 363.6,51.6 362.2,56.9 365.9,58.0ZM117.4,403.2 119.7,406.4 124.2,403.2 122.0,400.0ZM350.8,54.2 347.0,53.4 346.0,58.8 349.7,59.6ZM347.0,53.4 343.2,52.7 342.2,58.1 346.0,58.8ZM343.2,52.7 339.4,52.1 338.5,57.5 342.2,58.1ZM339.4,52.1 335.5,51.5 334.8,56.9 338.5,57.5ZM335.5,51.5 331.7,51.0 331.0,56.5 334.8,56.9ZM331.7,51.0 327.8,50.6 327.2,56.0 331.0,56.5ZM327.8,50.6 323.9,50.2 323.4,55.7 327.2,56.0ZM323.9,50.2 320.0,49.9 319.7,55.4 323.4,55.7ZM320.0,49.9 316.2,49.7 315.9,55.1 319.7,55.4ZM316.2,49.7 312.3,49.5 312.1,55.0 315.9,55.1ZM312.3,49.5 308.4,49.4 308.3,54.9 312.1,55.0ZM308.4,49.4 304.5,49.4 304.5,54.8 308.3,54.9ZM304.5,49.4 300.6,49.4 300.7,54.9 304.5,54.8ZM300.6,49.4 296.7,49.5 296.9,55.0 300.7,54.9ZM296.7,49.5 292.8,49.7 293.1,55.1 296.9,55.0ZM292.8,49.7 289.0,49.9 289.3,55.4 293.1,55.1ZM289.0,49.9 285.1,50.2 285.6,55.7 289.3,55.4ZM285.1,50.2 281.2,50.6 281.8,56.0 285.6,55.7ZM281.2,50.6 277.3,51.0 278.0,56.5 281.8,56.0ZM277.3,51.0 273.5,51.5 274.2,56.9 278.0,56.5ZM273.5,51.5 269.6,52.1 270.5,57.5 274.2,56.9ZM269.6,52.1 265.8,52.7 266.8,58.1 270.5,57.5ZM265.8,52.7 262.0,53.4 263.0,58.8 266.8,58.1ZM262.0,53.4 258.2,54.2 259.3,59.6 263.0,58.8ZM258.2,54.2 254.4,55.1 255.6,60.4 259.3,59.6ZM254.4,55.1 250.6,56.0 251.9,61.3 255.6,60.4ZM250.6,56.0 246.8,56.9 248.2,62.2 251.9,61.3ZM246.8,56.9 243.1,58.0 244.6,63.3 248.2,62.2ZM243.1,58.0 239.3,59.1 240.9,64.3 244.6,63.3ZM209.2,76.8 205.8,78.5 208.3,83.4 211.6,81.7ZM205.8,78.5 202.5,80.3 205.0,85.1 208.3,83.4ZM202.5,80.3 199.1,82.1 201.8,86.8 205.0,85.1ZM199.1,82.1 195.8,84.0 198.5,88.7 201.8,86.8ZM195.8,84.0 192.5,85.9 195.4,90.5 198.5,88.7ZM192.5,85.9 189.3,87.9 192.2,92.5 195.4,90.5ZM189.3,87.9 186.1,89.9 189.1,94.5 192.2,92.5ZM186.1,89.9 183.0,92.0 186.0,96.5 189.1,94.5ZM177.0,103.0 174.0,105.2 177.4,109.5 180.2,107.3ZM174.0,105.2 171.1,107.5 174.5,111.7 177.4,109.5ZM171.1,107.5 168.3,109.9 171.8,114.0 174.5,111.7ZM168.3,109.9 165.5,112.3 169.0,116.3 171.8,114.0ZM166.3,118.7 163.7,121.2 167.3,125.1 169.9,122.7ZM163.7,121.2 161.0,123.6 164.8,127.5 167.3,125.1ZM162.3,130.0 159.8,132.5 163.6,136.2 166.0,133.7ZM159.8,132.5 157.4,135.0 161.3,138.7 163.6,136.2ZM162.3,414.4 164.8,416.9 168.5,413.1 166.0,410.7ZM161.3,138.7 159.0,141.2 162.9,144.7 165.2,142.3ZM159.0,141.2 156.7,143.7 160.7,147.2 162.9,144.7ZM156.7,143.7 154.5,146.3 158.6,149.7 160.7,147.2ZM156.4,152.3 154.4,154.9 158.5,158.1 160.5,155.6ZM154.4,154.9 152.3,157.5 156.6,160.7 158.5,158.1ZM152.3,157.5 150.4,160.2 154.6,163.3 156.6,160.7ZM150.4,160.2 148.4,162.9 152.8,165.9 154.6,163.3ZM148.4,162.9 146.6,165.7 150.9,168.6 152.8,165.9ZM175.8,405.5 178.2,407.7 181.7,403.9 179.5,401.7ZM178.2,407.7 180.5,409.9 184.0,406.0 181.7,403.9ZM180.5,409.9 183.0,412.0 186.4,408.1 184.0,406.0ZM187.9,416.2 190.4,418.2 193.7,414.1 191.2,412.1ZM190.4,418.2 193.0,420.1 196.2,416.0 193.7,414.1ZM193.0,420.1 195.6,422.1 198.7,417.8 196.2,416.0ZM335.8,449.5 338.8,448.9 337.9,443.8 334.9,444.4ZM203.8,421.4 206.5,423.2 209.3,418.8 206.7,417.1ZM206.5,423.2 209.1,424.9 211.9,420.4 209.3,418.8ZM209.1,424.9 211.8,426.5 214.5,422.0 211.9,420.4ZM331.8,444.9 334.9,444.4 334.0,439.3 331.0,439.7ZM219.8,425.1 222.4,426.5 224.9,422.0 222.3,420.6ZM222.4,426.5 225.1,428.0 227.5,423.3 224.9,422.0ZM225.1,428.0 227.9,429.3 230.1,424.7 227.5,423.3ZM227.9,429.3 230.6,430.6 232.8,425.9 230.1,424.7ZM235.5,427.2 238.2,428.3 240.2,423.6 237.6,422.5ZM238.2,428.3 241.0,429.5 242.9,424.7 240.2,423.6ZM327.4,435.1 330.2,434.7 329.4,429.6 326.7,430.0ZM245.6,425.8 248.2,426.8 250.0,422.0 247.4,421.0ZM248.2,426.8 250.9,427.7 252.6,422.9 250.0,422.0ZM326.7,430.0 329.4,429.6 328.6,424.6 326.0,425.0ZM255.3,423.8 257.9,424.6 259.4,419.7 256.8,418.9ZM257.9,424.6 260.6,425.4 262.0,420.5 259.4,419.7ZM326.0,425.0 328.6,424.6 327.8,419.6 325.3,419.9ZM262.0,420.5 264.6,421.2 265.9,416.3 263.4,415.6ZM264.6,421.2 267.2,421.9 268.4,417.0 265.9,416.3ZM325.3,419.9 327.8,419.6 327.1,414.6 324.6,415.0ZM268.4,417.0 270.9,417.6 272.1,412.7 269.6,412.1ZM270.9,417.6 273.5,418.1 274.5,413.2 272.1,412.7ZM272.1,412.7 274.5,413.2 275.6,408.3 273.2,407.8ZM274.5,413.2 277.0,413.7 278.0,408.8 275.6,408.3ZM277.0,413.7 279.5,414.2 280.3,409.2 278.0,408.8ZM319.0,410.6 321.5,410.3 320.8,405.3 318.5,405.6ZM280.3,409.2 282.7,409.6 283.5,404.7 281.2,404.3ZM282.7,409.6 285.1,410.0 285.8,405.0 283.5,404.7ZM285.1,410.0 287.5,410.3 288.2,405.3 285.8,405.0ZM318.5,405.6 323.2,405.0 322.5,400.1 318.0,400.7ZM290.5,405.6 295.1,406.0 295.5,401.0 291.0,400.7ZM318.0,400.7 322.5,400.1 321.8,395.2 317.5,395.7ZM295.5,401.0 300.0,401.3 300.2,396.3 295.8,396.1ZM300.2,396.3 304.5,396.4 304.5,391.5 300.3,391.4ZM304.5,391.5 308.7,391.4 308.5,386.5 304.5,386.6ZM308.7,391.4 312.8,391.2 312.5,386.3 308.5,386.5ZM312.8,391.2 317.0,390.8 316.5,385.9 312.5,386.3Z"/>
<path fill="#87f400" stroke="#87f400" stroke-width="0.6" d="M363.6,51.6 359.7,50.6 358.4,56.0 362.2,56.9ZM359.7,50.6 355.9,49.7 354.6,55.1 358.4,56.0ZM355.9,49.7 352.0,48.8 350.8,54.2 354.6,55.1ZM352.0,48.8 348.1,48.0 347.0,53.4 350.8,54.2ZM348.1,48.0 344.2,47.3 343.2,52.7 347.0,53.4ZM344.2,47.3 340.2,46.6 339.4,52.1 343.2,52.7ZM340.2,46.6 336.3,46.1 335.5,51.5 339.4,52.1ZM336.3,46.1 332.3,45.5 331.7,51.0 335.5,51.5ZM332.3,45.5 328.4,45.1 327.8,50.6 331.7,51.0ZM328.4,45.1 324.4,44.7 323.9,50.2 327.8,50.6ZM324.4,44.7 320.4,44.4 320.0,49.9 323.9,50.2ZM320.4,44.4 316.5,44.1 316.2,49.7 320.0,49.9ZM316.5,44.1 312.5,44.0 312.3,49.5 316.2,49.7ZM312.5,44.0 308.5,43.9 308.4,49.4 312.3,49.5ZM308.5,43.9 304.5,43.8 304.5,49.4 308.4,49.4ZM304.5,43.8 300.5,43.9 300.6,49.4 304.5,49.4ZM300.5,43.9 296.5,44.0 296.7,49.5 300.6,49.4ZM296.5,44.0 292.5,44.1 292.8,49.7 296.7,49.5ZM292.5,44.1 288.6,44.4 289.0,49.9 292.8,49.7ZM288.6,44.4 284.6,44.7 285.1,50.2 289.0,49.9ZM284.6,44.7 280.6,45.1 281.2,50.6 285.1,50.2ZM280.6,45.1 276.7,45.5 277.3,51.0 281.2,50.6ZM276.7,45.5 272.7,46.1 273.5,51.5 277.3,51.0ZM272.7,46.1 268.8,46.6 269.6,52.1 273.5,51.5ZM257.0,48.8 253.1,49.7 254.4,55.1 258.2,54.2ZM253.1,49.7 249.3,50.6 250.6,56.0 254.4,55.1ZM239.3,59.1 235.6,60.3 237.3,65.5 240.9,64.3ZM235.6,60.3 231.9,61.5 233.7,66.7 237.3,65.5ZM231.9,61.5 228.3,62.8 230.2,67.9 233.7,66.7ZM228.3,62.8 224.6,64.2 226.6,69.3 230.2,67.9ZM224.6,64.2 221.0,65.6 223.1,70.7 226.6,69.3ZM221.0,65.6 217.4,67.1 219.6,72.1 223.1,70.7ZM217.4,67.1 213.9,68.6 216.1,73.6 219.6,72.1ZM213.9,68.6 210.3,70.2 212.6,75.2 216.1,73.6ZM210.3,70.2 206.8,71.9 209.2,76.8 212.6,75.2ZM206.8,71.9 203.3,73.6 205.8,78.5 209.2,76.8ZM203.3,73.6 199.9,75.4 202.5,80.3 205.8,78.5ZM199.9,75.4 196.5,77.3 199.1,82.1 202.5,80.3ZM138.9,421.3 141.5,424.2 145.5,420.4 143.0,417.6ZM183.0,92.0 179.8,94.1 182.9,98.6 186.0,96.5ZM179.8,94.1 176.7,96.3 179.9,100.8 182.9,98.6ZM176.7,96.3 173.7,98.6 177.0,103.0 179.9,100.8ZM173.7,98.6 170.7,100.9 174.0,105.2 177.0,103.0ZM148.1,423.2 150.8,425.9 154.6,422.1 152.1,419.4ZM165.5,112.3 162.7,114.7 166.3,118.7 169.0,116.3ZM162.7,114.7 160.0,117.2 163.7,121.2 166.3,118.7ZM161.0,123.6 158.5,126.2 162.3,130.0 164.8,127.5ZM158.5,126.2 155.9,128.7 159.8,132.5 162.3,130.0ZM158.5,418.2 161.0,420.8 164.8,416.9 162.3,414.4ZM157.4,135.0 155.0,137.6 159.0,141.2 161.3,138.7ZM155.0,137.6 152.7,140.2 156.7,143.7 159.0,141.2ZM154.5,146.3 152.3,149.0 156.4,152.3 158.6,149.7ZM152.3,149.0 150.2,151.6 154.4,154.9 156.4,152.3ZM150.2,151.6 148.1,154.4 152.3,157.5 154.4,154.9ZM166.0,410.7 168.5,413.1 172.2,409.2 169.8,406.9ZM169.8,406.9 172.2,409.2 175.8,405.5 173.5,403.2ZM195.6,422.1 198.2,423.9 201.2,419.7 198.7,417.8ZM198.2,423.9 200.9,425.8 203.8,421.4 201.2,419.7ZM332.7,450.0 335.8,449.5 334.9,444.4 331.8,444.9ZM211.8,426.5 214.5,428.1 217.1,423.6 214.5,422.0ZM214.5,428.1 217.2,429.6 219.8,425.1 217.1,423.6ZM217.2,429.6 220.0,431.1 222.4,426.5 219.8,425.1ZM220.0,431.1 222.8,432.6 225.1,428.0 222.4,426.5ZM328.8,445.3 331.8,444.9 331.0,439.7 328.1,440.2ZM230.6,430.6 233.4,431.9 235.5,427.2 232.8,425.9ZM233.4,431.9 236.2,433.1 238.2,428.3 235.5,427.2ZM236.2,433.1 239.0,434.3 241.0,429.5 238.2,428.3ZM328.1,440.2 331.0,439.7 330.2,434.7 327.4,435.1ZM241.0,429.5 243.7,430.6 245.6,425.8 242.9,424.7ZM243.7,430.6 246.5,431.6 248.2,426.8 245.6,425.8ZM246.5,431.6 249.3,432.6 250.9,427.7 248.2,426.8ZM250.9,427.7 253.7,428.6 255.3,423.8 252.6,422.9ZM253.7,428.6 256.4,429.5 257.9,424.6 255.3,423.8ZM256.4,429.5 259.2,430.3 260.6,425.4 257.9,424.6ZM323.9,430.4 326.7,430.0 326.0,425.0 323.3,425.3ZM260.6,425.4 263.3,426.1 264.6,421.2 262.0,420.5ZM263.3,426.1 265.9,426.8 267.2,421.9 264.6,421.2ZM323.3,425.3 326.0,425.0 325.3,419.9 322.7,420.3ZM267.2,421.9 269.8,422.5 270.9,417.6 268.4,417.0ZM269.8,422.5 272.4,423.1 273.5,418.1 270.9,417.6ZM320.1,420.6 322.7,420.3 322.1,415.3 319.6,415.6ZM273.5,418.1 276.0,418.7 277.0,413.7 274.5,413.2ZM276.0,418.7 278.6,419.1 279.5,414.2 277.0,413.7ZM317.1,415.8 319.6,415.6 319.0,410.6 316.6,410.8ZM319.6,415.6 322.1,415.3 321.5,410.3 319.0,410.6ZM279.5,414.2 281.9,414.6 282.7,409.6 280.3,409.2ZM281.9,414.6 284.4,415.0 285.1,410.0 282.7,409.6ZM284.4,415.0 286.9,415.3 287.5,410.3 285.1,410.0ZM311.8,411.1 314.2,411.0 313.9,406.0 311.5,406.2ZM314.2,411.0 316.6,410.8 316.2,405.8 313.9,406.0ZM316.6,410.8 319.0,410.6 318.5,405.6 316.2,405.8ZM287.5,410.3 290.0,410.6 290.5,405.6 288.2,405.3ZM290.0,410.6 292.4,410.8 292.8,405.8 290.5,405.6ZM292.4,410.8 294.8,411.0 295.1,406.0 292.8,405.8ZM309.2,406.3 313.9,406.0 313.5,401.0 309.0,401.3ZM313.9,406.0 318.5,405.6 318.0,400.7 313.5,401.0ZM295.1,406.0 299.8,406.3 300.0,401.3 295.5,401.0ZM299.8,406.3 304.5,406.3 304.5,401.4 300.0,401.3ZM304.5,401.4 309.0,401.3 308.8,396.3 304.5,396.4ZM309.0,401.3 313.5,401.0 313.2,396.1 308.8,396.3ZM313.5,401.0 318.0,400.7 317.5,395.7 313.2,396.1ZM300.0,401.3 304.5,401.4 304.5,396.4 300.2,396.3ZM304.5,396.4 308.8,396.3 308.7,391.4 304.5,391.5ZM308.8,396.3 313.2,396.1 312.8,391.2 308.7,391.4ZM313.2,396.1 317.5,395.7 317.0,390.8 312.8,391.2Z"/>
<path fill="#99f600" stroke="#99f600" stroke-width="0.6" d="M268.8,46.6 264.8,47.3 265.8,52.7 269.6,52.1ZM264.8,47.3 260.9,48.0 262.0,53.4 265.8,52.7ZM260.9,48.0 257.0,48.8 258.2,54.2 262.0,53.4ZM249.3,50.6 245.4,51.6 246.8,56.9 250.6,56.0ZM245.4,51.6 241.6,52.7 243.1,58.0 246.8,56.9ZM241.6,52.7 237.7,53.8 239.3,59.1 243.1,58.0ZM237.7,53.8 233.9,55.0 235.6,60.3 239.3,59.1ZM233.9,55.0 230.2,56.3 231.9,61.5 235.6,60.3ZM230.2,56.3 226.4,57.6 228.3,62.8 231.9,61.5ZM226.4,57.6 222.7,59.0 224.6,64.2 228.3,62.8ZM222.7,59.0 219.0,60.5 221.0,65.6 224.6,64.2ZM219.0,60.5 215.3,62.0 217.4,67.1 221.0,65.6ZM215.3,62.0 211.6,63.6 213.9,68.6 217.4,67.1ZM211.6,63.6 208.0,65.2 210.3,70.2 213.9,68.6ZM208.0,65.2 204.4,66.9 206.8,71.9 210.3,70.2ZM204.4,66.9 200.8,68.7 203.3,73.6 206.8,71.9ZM200.8,68.7 197.3,70.6 199.9,75.4 203.3,73.6ZM196.5,77.3 193.1,79.2 195.8,84.0 199.1,82.1ZM193.1,79.2 189.7,81.2 192.5,85.9 195.8,84.0ZM189.7,81.2 186.4,83.2 189.3,87.9 192.5,85.9ZM186.4,83.2 183.1,85.3 186.1,89.9 189.3,87.9ZM183.1,85.3 179.9,87.5 183.0,92.0 186.1,89.9ZM179.9,87.5 176.7,89.7 179.8,94.1 183.0,92.0ZM176.7,89.7 173.5,91.9 176.7,96.3 179.8,94.1ZM170.7,100.9 167.7,103.3 171.1,107.5 174.0,105.2ZM167.7,103.3 164.8,105.7 168.3,109.9 171.1,107.5ZM164.8,105.7 161.9,108.2 165.5,112.3 168.3,109.9ZM160.0,117.2 157.3,119.8 161.0,123.6 163.7,121.2ZM157.3,119.8 154.6,122.3 158.5,126.2 161.0,123.6ZM155.9,128.7 153.5,131.4 157.4,135.0 159.8,132.5ZM152.7,140.2 150.4,142.9 154.5,146.3 156.7,143.7ZM150.4,142.9 148.2,145.6 152.3,149.0 154.5,146.3ZM148.1,154.4 146.1,157.1 150.4,160.2 152.3,157.5ZM146.1,157.1 144.1,159.9 148.4,162.9 150.4,160.2ZM144.1,159.9 142.2,162.7 146.6,165.7 148.4,162.9ZM182.0,418.1 184.6,420.3 187.9,416.2 185.4,414.1ZM184.6,420.3 187.2,422.3 190.4,418.2 187.9,416.2ZM200.9,425.8 203.6,427.6 206.5,423.2 203.8,421.4ZM203.6,427.6 206.3,429.3 209.1,424.9 206.5,423.2ZM206.3,429.3 209.1,431.0 211.8,426.5 209.1,424.9ZM209.1,431.0 211.9,432.6 214.5,428.1 211.8,426.5ZM329.6,450.5 332.7,450.0 331.8,444.9 328.8,445.3ZM222.8,432.6 225.6,434.0 227.9,429.3 225.1,428.0ZM225.6,434.0 228.4,435.3 230.6,430.6 227.9,429.3ZM228.4,435.3 231.3,436.6 233.4,431.9 230.6,430.6ZM231.3,436.6 234.2,437.9 236.2,433.1 233.4,431.9ZM325.8,445.7 328.8,445.3 328.1,440.2 325.2,440.6ZM239.0,434.3 241.9,435.4 243.7,430.6 241.0,429.5ZM241.9,435.4 244.7,436.5 246.5,431.6 243.7,430.6ZM325.2,440.6 328.1,440.2 327.4,435.1 324.5,435.5ZM249.3,432.6 252.1,433.5 253.7,428.6 250.9,427.7ZM252.1,433.5 254.9,434.4 256.4,429.5 253.7,428.6ZM324.5,435.5 327.4,435.1 326.7,430.0 323.9,430.4ZM259.2,430.3 261.9,431.1 263.3,426.1 260.6,425.4ZM261.9,431.1 264.7,431.8 265.9,426.8 263.3,426.1ZM265.9,426.8 268.7,427.5 269.8,422.5 267.2,421.9ZM268.7,427.5 271.4,428.1 272.4,423.1 269.8,422.5ZM320.6,425.6 323.3,425.3 322.7,420.3 320.1,420.6ZM272.4,423.1 275.1,423.6 276.0,418.7 273.5,418.1ZM275.1,423.6 277.7,424.1 278.6,419.1 276.0,418.7ZM314.9,421.0 317.5,420.8 317.1,415.8 314.6,416.0ZM317.5,420.8 320.1,420.6 319.6,415.6 317.1,415.8ZM278.6,419.1 281.2,419.6 281.9,414.6 279.5,414.2ZM281.2,419.6 283.7,419.9 284.4,415.0 281.9,414.6ZM283.7,419.9 286.3,420.3 286.9,415.3 284.4,415.0ZM286.3,420.3 288.9,420.6 289.4,415.6 286.9,415.3ZM307.0,416.3 309.5,416.3 309.4,411.3 306.9,411.3ZM309.5,416.3 312.0,416.2 311.8,411.1 309.4,411.3ZM312.0,416.2 314.6,416.0 314.2,411.0 311.8,411.1ZM314.6,416.0 317.1,415.8 316.6,410.8 314.2,411.0ZM286.9,415.3 289.4,415.6 290.0,410.6 287.5,410.3ZM289.4,415.6 291.9,415.8 292.4,410.8 290.0,410.6ZM291.9,415.8 294.4,416.0 294.8,411.0 292.4,410.8ZM294.4,416.0 297.0,416.2 297.2,411.1 294.8,411.0ZM304.5,411.3 306.9,411.3 306.8,406.3 304.5,406.3ZM306.9,411.3 309.4,411.3 309.2,406.3 306.8,406.3ZM309.4,411.3 311.8,411.1 311.5,406.2 309.2,406.3ZM294.8,411.0 297.2,411.1 297.5,406.2 295.1,406.0ZM297.2,411.1 299.6,411.3 299.8,406.3 297.5,406.2ZM299.6,411.3 302.1,411.3 302.2,406.3 299.8,406.3ZM302.1,411.3 304.5,411.3 304.5,406.3 302.2,406.3ZM304.5,406.3 309.2,406.3 309.0,401.3 304.5,401.4Z"/>
<path fill="#aaf700" stroke="#aaf700" stroke-width="0.6" d="M197.3,70.6 193.8,72.5 196.5,77.3 199.9,75.4ZM193.8,72.5 190.3,74.4 193.1,79.2 196.5,77.3ZM190.3,74.4 186.9,76.5 189.7,81.2 193.1,79.2ZM186.9,76.5 183.5,78.5 186.4,83.2 189.7,81.2ZM183.5,78.5 180.1,80.7 183.1,85.3 186.4,83.2ZM180.1,80.7 176.8,82.9 179.9,87.5 183.1,85.3ZM173.5,91.9 170.4,94.2 173.7,98.6 176.7,96.3ZM170.4,94.2 167.3,96.6 170.7,100.9 173.7,98.6ZM161.9,108.2 159.1,110.7 162.7,114.7 165.5,112.3ZM154.6,122.3 152.1,125.0 155.9,128.7 158.5,126.2ZM153.5,131.4 151.0,134.0 155.0,137.6 157.4,135.0ZM151.0,134.0 148.6,136.7 152.7,140.2 155.0,137.6ZM148.6,136.7 146.3,139.5 150.4,142.9 152.7,140.2ZM148.2,145.6 146.0,148.4 150.2,151.6 152.3,149.0ZM146.0,148.4 143.9,151.1 148.1,154.4 150.2,151.6ZM137.7,159.7 135.8,162.6 140.3,165.6 142.2,162.7ZM135.8,162.6 133.9,165.6 138.4,168.4 140.3,165.6ZM179.5,416.0 182.0,418.1 185.4,414.1 183.0,412.0ZM187.2,422.3 189.8,424.4 193.0,420.1 190.4,418.2ZM189.8,424.4 192.5,426.3 195.6,422.1 193.0,420.1ZM192.5,426.3 195.2,428.3 198.2,423.9 195.6,422.1ZM195.2,428.3 198.0,430.1 200.9,425.8 198.2,423.9ZM211.9,432.6 214.7,434.2 217.2,429.6 214.5,428.1ZM214.7,434.2 217.5,435.8 220.0,431.1 217.2,429.6ZM217.5,435.8 220.4,437.3 222.8,432.6 220.0,431.1ZM220.4,437.3 223.3,438.7 225.6,434.0 222.8,432.6ZM223.3,438.7 226.2,440.1 228.4,435.3 225.6,434.0ZM326.4,450.9 329.6,450.5 328.8,445.3 325.8,445.7ZM234.2,437.9 237.1,439.1 239.0,434.3 236.2,433.1ZM237.1,439.1 240.0,440.3 241.9,435.4 239.0,434.3ZM322.8,446.0 325.8,445.7 325.2,440.6 322.2,440.9ZM244.7,436.5 247.6,437.5 249.3,432.6 246.5,431.6ZM247.6,437.5 250.5,438.5 252.1,433.5 249.3,432.6ZM322.2,440.9 325.2,440.6 324.5,435.5 321.7,435.8ZM254.9,434.4 257.7,435.3 259.2,430.3 256.4,429.5ZM257.7,435.3 260.6,436.1 261.9,431.1 259.2,430.3ZM321.7,435.8 324.5,435.5 323.9,430.4 321.2,430.7ZM264.7,431.8 267.5,432.5 268.7,427.5 265.9,426.8ZM267.5,432.5 270.3,433.1 271.4,428.1 268.7,427.5ZM321.2,430.7 323.9,430.4 323.3,425.3 320.6,425.6ZM271.4,428.1 274.1,428.6 275.1,423.6 272.4,423.1ZM274.1,428.6 276.8,429.1 277.7,424.1 275.1,423.6ZM315.3,426.1 317.9,425.9 317.5,420.8 314.9,421.0ZM317.9,425.9 320.6,425.6 320.1,420.6 317.5,420.8ZM277.7,424.1 280.4,424.6 281.2,419.6 278.6,419.1ZM280.4,424.6 283.0,425.0 283.7,419.9 281.2,419.6ZM283.0,425.0 285.7,425.3 286.3,420.3 283.7,419.9ZM304.5,421.4 307.1,421.4 307.0,416.3 304.5,416.4ZM307.1,421.4 309.7,421.3 309.5,416.3 307.0,416.3ZM309.7,421.3 312.3,421.2 312.0,416.2 309.5,416.3ZM312.3,421.2 314.9,421.0 314.6,416.0 312.0,416.2ZM288.9,420.6 291.5,420.8 291.9,415.8 289.4,415.6ZM291.5,420.8 294.1,421.0 294.4,416.0 291.9,415.8ZM294.1,421.0 296.7,421.2 297.0,416.2 294.4,416.0ZM296.7,421.2 299.3,421.3 299.5,416.3 297.0,416.2ZM299.3,421.3 301.9,421.4 302.0,416.3 299.5,416.3ZM301.9,421.4 304.5,421.4 304.5,416.4 302.0,416.3ZM304.5,416.4 307.0,416.3 306.9,411.3 304.5,411.3ZM297.0,416.2 299.5,416.3 299.6,411.3 297.2,411.1ZM299.5,416.3 302.0,416.3 302.1,411.3 299.6,411.3ZM302.0,416.3 304.5,416.4 304.5,411.3 302.1,411.3Z"/>
<path fill="#bbf900" stroke="#bbf900" stroke-width="0.6" d="M176.8,82.9 173.5,85.1 176.7,89.7 179.9,87.5ZM173.5,85.1 170.3,87.4 173.5,91.9 176.7,89.7ZM170.3,87.4 167.1,89.8 170.4,94.2 173.5,91.9ZM167.3,96.6 164.3,99.0 167.7,103.3 170.7,100.9ZM164.3,99.0 161.3,101.5 164.8,105.7 167.7,103.3ZM159.1,110.7 156.3,113.2 160.0,117.2 162.7,114.7ZM156.3,113.2 153.5,115.8 157.3,119.8 160.0,117.2ZM152.1,125.0 149.5,127.7 153.5,131.4 155.9,128.7ZM149.5,127.7 147.0,130.4 151.0,134.0 153.5,131.4ZM154.6,422.1 157.3,424.6 161.0,420.8 158.5,418.2ZM146.3,139.5 144.0,142.2 148.2,145.6 150.4,142.9ZM143.9,151.1 141.8,154.0 146.1,157.1 148.1,154.4ZM141.8,154.0 139.7,156.8 144.1,159.9 146.1,157.1ZM139.7,156.8 137.7,159.7 142.2,162.7 144.1,159.9ZM164.8,416.9 167.3,419.3 171.0,415.4 168.5,413.1ZM172.2,409.2 174.6,411.5 178.2,407.7 175.8,405.5ZM177.0,413.8 179.5,416.0 183.0,412.0 180.5,409.9ZM198.0,430.1 200.7,432.0 203.6,427.6 200.9,425.8ZM200.7,432.0 203.5,433.8 206.3,429.3 203.6,427.6ZM203.5,433.8 206.4,435.5 209.1,431.0 206.3,429.3ZM206.4,435.5 209.2,437.2 211.9,432.6 209.1,431.0ZM226.2,440.1 229.2,441.4 231.3,436.6 228.4,435.3ZM229.2,441.4 232.1,442.7 234.2,437.9 231.3,436.6ZM232.1,442.7 235.1,444.0 237.1,439.1 234.2,437.9ZM323.3,451.2 326.4,450.9 325.8,445.7 322.8,446.0ZM240.0,440.3 242.9,441.4 244.7,436.5 241.9,435.4ZM242.9,441.4 245.9,442.4 247.6,437.5 244.7,436.5ZM250.5,438.5 253.4,439.4 254.9,434.4 252.1,433.5ZM253.4,439.4 256.3,440.2 257.7,435.3 254.9,434.4ZM319.3,441.2 322.2,440.9 321.7,435.8 318.8,436.1ZM260.6,436.1 263.5,436.8 264.7,431.8 261.9,431.1ZM263.5,436.8 266.3,437.5 267.5,432.5 264.7,431.8ZM318.8,436.1 321.7,435.8 321.2,430.7 318.4,431.0ZM270.3,433.1 273.1,433.7 274.1,428.6 271.4,428.1ZM273.1,433.7 275.9,434.2 276.8,429.1 274.1,428.6ZM315.6,431.2 318.4,431.0 317.9,425.9 315.3,426.1ZM318.4,431.0 321.2,430.7 320.6,425.6 317.9,425.9ZM276.8,429.1 279.6,429.6 280.4,424.6 277.7,424.1ZM279.6,429.6 282.3,430.0 283.0,425.0 280.4,424.6ZM282.3,430.0 285.1,430.4 285.7,425.3 283.0,425.0ZM304.5,426.5 307.2,426.4 307.1,421.4 304.5,421.4ZM307.2,426.4 309.9,426.4 309.7,421.3 307.1,421.4ZM309.9,426.4 312.6,426.3 312.3,421.2 309.7,421.3ZM312.6,426.3 315.3,426.1 314.9,421.0 312.3,421.2ZM285.7,425.3 288.4,425.6 288.9,420.6 286.3,420.3ZM288.4,425.6 291.1,425.9 291.5,420.8 288.9,420.6ZM291.1,425.9 293.7,426.1 294.1,421.0 291.5,420.8ZM293.7,426.1 296.4,426.3 296.7,421.2 294.1,421.0ZM296.4,426.3 299.1,426.4 299.3,421.3 296.7,421.2ZM299.1,426.4 301.8,426.4 301.9,421.4 299.3,421.3ZM301.8,426.4 304.5,426.5 304.5,421.4 301.9,421.4Z"/>
<path fill="#cdfa00" stroke="#cdfa00" stroke-width="0.6" d="M167.1,89.8 163.9,92.2 167.3,96.6 170.4,94.2ZM163.9,92.2 160.8,94.7 164.3,99.0 167.3,96.6ZM134.8,425.0 137.5,427.9 141.5,424.2 138.9,421.3ZM161.3,101.5 158.3,104.0 161.9,108.2 164.8,105.7ZM158.3,104.0 155.4,106.6 159.1,110.7 161.9,108.2ZM153.5,115.8 150.8,118.5 154.6,122.3 157.3,119.8ZM150.8,118.5 148.1,121.2 152.1,125.0 154.6,122.3ZM147.0,130.4 144.6,133.2 148.6,136.7 151.0,134.0ZM144.0,142.2 141.8,145.1 146.0,148.4 148.2,145.6ZM141.8,145.1 139.6,147.9 143.9,151.1 146.0,148.4ZM133.3,156.7 131.3,159.7 135.8,162.6 137.7,159.7ZM131.3,159.7 129.4,162.8 133.9,165.6 135.8,162.6ZM129.4,162.8 127.5,165.8 132.1,168.6 133.9,165.6ZM168.5,413.1 171.0,415.4 174.6,411.5 172.2,409.2ZM174.6,411.5 177.0,413.8 180.5,409.9 178.2,407.7ZM209.2,437.2 212.1,438.8 214.7,434.2 211.9,432.6ZM212.1,438.8 215.1,440.4 217.5,435.8 214.7,434.2ZM215.1,440.4 218.0,442.0 220.4,437.3 217.5,435.8ZM218.0,442.0 221.0,443.4 223.3,438.7 220.4,437.3ZM221.0,443.4 224.0,444.9 226.2,440.1 223.3,438.7ZM224.0,444.9 227.0,446.2 229.2,441.4 226.2,440.1ZM227.0,446.2 230.1,447.6 232.1,442.7 229.2,441.4ZM235.1,444.0 238.1,445.1 240.0,440.3 237.1,439.1ZM238.1,445.1 241.1,446.3 242.9,441.4 240.0,440.3ZM241.1,446.3 244.2,447.4 245.9,442.4 242.9,441.4ZM320.2,451.5 323.3,451.2 322.8,446.0 319.7,446.3ZM245.9,442.4 248.9,443.4 250.5,438.5 247.6,437.5ZM248.9,443.4 251.9,444.3 253.4,439.4 250.5,438.5ZM316.7,446.6 319.7,446.3 319.3,441.2 316.3,441.4ZM319.7,446.3 322.8,446.0 322.2,440.9 319.3,441.2ZM256.3,440.2 259.3,441.1 260.6,436.1 257.7,435.3ZM259.3,441.1 262.2,441.8 263.5,436.8 260.6,436.1ZM316.3,441.4 319.3,441.2 318.8,436.1 316.0,436.3ZM266.3,437.5 269.2,438.1 270.3,433.1 267.5,432.5ZM269.2,438.1 272.1,438.7 273.1,433.7 270.3,433.1ZM313.1,436.5 316.0,436.3 315.6,431.2 312.8,431.3ZM316.0,436.3 318.8,436.1 318.4,431.0 315.6,431.2ZM275.9,434.2 278.8,434.7 279.6,429.6 276.8,429.1ZM278.8,434.7 281.6,435.1 282.3,430.0 279.6,429.6ZM304.5,431.6 307.3,431.5 307.2,426.4 304.5,426.5ZM307.3,431.5 310.1,431.5 309.9,426.4 307.2,426.4ZM310.1,431.5 312.8,431.3 312.6,426.3 309.9,426.4ZM312.8,431.3 315.6,431.2 315.3,426.1 312.6,426.3ZM285.1,430.4 287.8,430.7 288.4,425.6 285.7,425.3ZM287.8,430.7 290.6,431.0 291.1,425.9 288.4,425.6ZM290.6,431.0 293.4,431.2 293.7,426.1 291.1,425.9ZM293.4,431.2 296.2,431.3 296.4,426.3 293.7,426.1ZM296.2,431.3 298.9,431.5 299.1,426.4 296.4,426.3ZM298.9,431.5 301.7,431.5 301.8,426.4 299.1,426.4ZM301.7,431.5 304.5,431.6 304.5,426.5 301.8,426.4Z"/>
<path fill="#defc00" stroke="#defc00" stroke-width="0.6" d="M160.8,94.7 157.7,97.3 161.3,101.5 164.3,99.0ZM157.7,97.3 154.7,99.8 158.3,104.0 161.3,101.5ZM155.4,106.6 152.5,109.2 156.3,113.2 159.1,110.7ZM152.5,109.2 149.7,111.9 153.5,115.8 156.3,113.2ZM148.1,121.2 145.5,124.0 149.5,127.7 152.1,125.0ZM144.6,133.2 142.2,136.0 146.3,139.5 148.6,136.7ZM142.2,136.0 139.8,138.8 144.0,142.2 146.3,139.5ZM139.6,147.9 137.4,150.8 141.8,154.0 143.9,151.1ZM137.4,150.8 135.3,153.7 139.7,156.8 141.8,154.0ZM135.3,153.7 133.3,156.7 137.7,159.7 139.7,156.8ZM161.0,420.8 163.7,423.2 167.3,419.3 164.8,416.9ZM167.3,419.3 169.9,421.7 173.5,417.7 171.0,415.4ZM171.0,415.4 173.5,417.7 177.0,413.8 174.6,411.5ZM173.5,417.7 176.0,420.0 179.5,416.0 177.0,413.8ZM176.0,420.0 178.6,422.2 182.0,418.1 179.5,416.0ZM178.6,422.2 181.3,424.4 184.6,420.3 182.0,418.1ZM181.3,424.4 183.9,426.5 187.2,422.3 184.6,420.3ZM183.9,426.5 186.7,428.6 189.8,424.4 187.2,422.3ZM186.7,428.6 189.4,430.6 192.5,426.3 189.8,424.4ZM189.4,430.6 192.2,432.6 195.2,428.3 192.5,426.3ZM192.2,432.6 195.0,434.5 198.0,430.1 195.2,428.3ZM195.0,434.5 197.9,436.4 200.7,432.0 198.0,430.1ZM197.9,436.4 200.7,438.3 203.5,433.8 200.7,432.0ZM200.7,438.3 203.6,440.0 206.4,435.5 203.5,433.8ZM203.6,440.0 206.6,441.8 209.2,437.2 206.4,435.5ZM230.1,447.6 233.1,448.8 235.1,444.0 232.1,442.7ZM233.1,448.8 236.2,450.1 238.1,445.1 235.1,444.0ZM236.2,450.1 239.3,451.2 241.1,446.3 238.1,445.1ZM320.6,456.7 323.9,456.4 323.3,451.2 320.2,451.5ZM244.2,447.4 247.3,448.4 248.9,443.4 245.9,442.4ZM247.3,448.4 250.3,449.4 251.9,444.3 248.9,443.4ZM317.1,451.8 320.2,451.5 319.7,446.3 316.7,446.6ZM251.9,444.3 254.9,445.2 256.3,440.2 253.4,439.4ZM254.9,445.2 257.9,446.1 259.3,441.1 256.3,440.2ZM313.6,446.8 316.7,446.6 316.3,441.4 313.4,441.6ZM262.2,441.8 265.2,442.5 266.3,437.5 263.5,436.8ZM265.2,442.5 268.2,443.2 269.2,438.1 266.3,437.5ZM310.4,441.7 313.4,441.6 313.1,436.5 310.2,436.6ZM313.4,441.6 316.3,441.4 316.0,436.3 313.1,436.5ZM272.1,438.7 275.0,439.3 275.9,434.2 273.1,433.7ZM275.0,439.3 278.0,439.7 278.8,434.7 275.9,434.2ZM304.5,436.7 307.4,436.7 307.3,431.5 304.5,431.6ZM307.4,436.7 310.2,436.6 310.1,431.5 307.3,431.5ZM310.2,436.6 313.1,436.5 312.8,431.3 310.1,431.5ZM281.6,435.1 284.5,435.5 285.1,430.4 282.3,430.0ZM284.5,435.5 287.3,435.8 287.8,430.7 285.1,430.4ZM287.3,435.8 290.2,436.1 290.6,431.0 287.8,430.7ZM290.2,436.1 293.0,436.3 293.4,431.2 290.6,431.0ZM293.0,436.3 295.9,436.5 296.2,431.3 293.4,431.2ZM295.9,436.5 298.8,436.6 298.9,431.5 296.2,431.3ZM298.8,436.6 301.6,436.7 301.7,431.5 298.9,431.5ZM301.6,436.7 304.5,436.7 304.5,431.6 301.7,431.5Z"/>
<path fill="#f0fe00" stroke="#f0fe00" stroke-width="0.6" d="M154.7,99.8 151.7,102.5 155.4,106.6 158.3,104.0ZM151.7,102.5 148.8,105.2 152.5,109.2 155.4,106.6ZM149.7,111.9 146.9,114.6 150.8,118.5 153.5,115.8ZM141.5,424.2 144.2,427.0 148.1,423.2 145.5,420.4ZM145.5,124.0 143.0,126.8 147.0,130.4 149.5,127.7ZM143.0,126.8 140.5,129.6 144.6,133.2 147.0,130.4ZM150.8,425.9 153.5,428.6 157.3,424.6 154.6,422.1ZM139.8,138.8 137.5,141.7 141.8,145.1 144.0,142.2ZM137.5,141.7 135.3,144.7 139.6,147.9 141.8,145.1ZM128.8,153.7 126.8,156.8 131.3,159.7 133.3,156.7ZM126.8,156.8 124.8,159.9 129.4,162.8 131.3,159.7ZM206.6,441.8 209.6,443.5 212.1,438.8 209.2,437.2ZM209.6,443.5 212.6,445.1 215.1,440.4 212.1,438.8ZM212.6,445.1 215.6,446.7 218.0,442.0 215.1,440.4ZM215.6,446.7 218.7,448.2 221.0,443.4 218.0,442.0ZM218.7,448.2 221.7,449.7 224.0,444.9 221.0,443.4ZM221.7,449.7 224.9,451.1 227.0,446.2 224.0,444.9ZM224.9,451.1 228.0,452.4 230.1,447.6 227.0,446.2ZM228.0,452.4 231.1,453.8 233.1,448.8 230.1,447.6ZM231.1,453.8 234.3,455.0 236.2,450.1 233.1,448.8ZM239.3,451.2 242.5,452.3 244.2,447.4 241.1,446.3ZM242.5,452.3 245.6,453.4 247.3,448.4 244.2,447.4ZM317.4,457.0 320.6,456.7 320.2,451.5 317.1,451.8ZM250.3,449.4 253.4,450.3 254.9,445.2 251.9,444.3ZM253.4,450.3 256.6,451.1 257.9,446.1 254.9,445.2ZM313.9,452.0 317.1,451.8 316.7,446.6 313.6,446.8ZM257.9,446.1 261.0,446.9 262.2,441.8 259.3,441.1ZM310.6,446.9 313.6,446.8 313.4,441.6 310.4,441.7ZM268.2,443.2 271.1,443.8 272.1,438.7 269.2,438.1ZM271.1,443.8 274.1,444.4 275.0,439.3 272.1,438.7ZM274.1,444.4 277.2,444.9 278.0,439.7 275.0,439.3ZM304.5,441.8 307.5,441.8 307.4,436.7 304.5,436.7ZM307.5,441.8 310.4,441.7 310.2,436.6 307.4,436.7ZM278.0,439.7 280.9,440.2 281.6,435.1 278.8,434.7ZM280.9,440.2 283.8,440.6 284.5,435.5 281.6,435.1ZM283.8,440.6 286.8,440.9 287.3,435.8 284.5,435.5ZM286.8,440.9 289.7,441.2 290.2,436.1 287.3,435.8ZM289.7,441.2 292.7,441.4 293.0,436.3 290.2,436.1ZM292.7,441.4 295.6,441.6 295.9,436.5 293.0,436.3ZM295.6,441.6 298.6,441.7 298.8,436.6 295.9,436.5ZM298.6,441.7 301.5,441.8 301.6,436.7 298.8,436.6ZM301.5,441.8 304.5,441.8 304.5,436.7 301.6,436.7Z"/>
<path fill="#fffd00" stroke="#fffd00" stroke-width="0.6" d="M148.8,105.2 145.9,107.9 149.7,111.9 152.5,109.2ZM145.9,107.9 143.0,110.7 146.9,114.6 149.7,111.9ZM146.9,114.6 144.2,117.4 148.1,121.2 150.8,118.5ZM144.2,117.4 141.5,120.2 145.5,124.0 148.1,121.2ZM140.5,129.6 138.0,132.5 142.2,136.0 144.6,133.2ZM138.0,132.5 135.6,135.4 139.8,138.8 142.2,136.0ZM135.3,144.7 133.1,147.6 137.4,150.8 139.6,147.9ZM133.1,147.6 130.9,150.6 135.3,153.7 137.4,150.8ZM130.9,150.6 128.8,153.7 133.3,156.7 135.3,153.7ZM169.9,421.7 172.5,424.0 176.0,420.0 173.5,417.7ZM186.3,434.9 189.1,437.0 192.2,432.6 189.4,430.6ZM189.1,437.0 192.0,439.0 195.0,434.5 192.2,432.6ZM192.0,439.0 194.9,440.9 197.9,436.4 195.0,434.5ZM194.9,440.9 197.9,442.8 200.7,438.3 197.9,436.4ZM219.5,454.5 222.7,456.0 224.9,451.1 221.7,449.7ZM222.7,456.0 225.9,457.4 228.0,452.4 224.9,451.1ZM234.3,455.0 237.5,456.2 239.3,451.2 236.2,450.1ZM237.5,456.2 240.7,457.3 242.5,452.3 239.3,451.2ZM317.8,462.3 321.1,462.0 320.6,456.7 317.4,457.0ZM245.6,453.4 248.8,454.4 250.3,449.4 247.3,448.4ZM248.8,454.4 252.0,455.3 253.4,450.3 250.3,449.4ZM314.2,457.2 317.4,457.0 317.1,451.8 313.9,452.0ZM256.6,451.1 259.7,451.9 261.0,446.9 257.9,446.1ZM259.7,451.9 262.8,452.7 264.0,447.6 261.0,446.9ZM310.8,452.1 313.9,452.0 313.6,446.8 310.6,446.9ZM261.0,446.9 264.0,447.6 265.2,442.5 262.2,441.8ZM264.0,447.6 267.1,448.3 268.2,443.2 265.2,442.5ZM267.1,448.3 270.2,448.9 271.1,443.8 268.2,443.2ZM270.2,448.9 273.2,449.5 274.1,444.4 271.1,443.8ZM304.5,447.0 307.6,447.0 307.5,441.8 304.5,441.8ZM307.6,447.0 310.6,446.9 310.4,441.7 307.5,441.8ZM277.2,444.9 280.2,445.3 280.9,440.2 278.0,439.7ZM280.2,445.3 283.2,445.7 283.8,440.6 280.9,440.2ZM283.2,445.7 286.2,446.0 286.8,440.9 283.8,440.6ZM298.4,446.9 301.4,447.0 301.5,441.8 298.6,441.7ZM301.4,447.0 304.5,447.0 304.5,441.8 301.5,441.8Z"/>
<path fill="#ffeb00" stroke="#ffeb00" stroke-width="0.6" d="M143.0,110.7 140.2,113.6 144.2,117.4 146.9,114.6ZM141.5,120.2 138.9,123.1 143.0,126.8 145.5,124.0ZM138.9,123.1 136.3,126.0 140.5,129.6 143.0,126.8ZM135.6,135.4 133.2,138.4 137.5,141.7 139.8,138.8ZM133.2,138.4 130.9,141.4 135.3,144.7 137.5,141.7ZM124.3,150.7 122.2,153.8 126.8,156.8 128.8,153.7ZM163.7,423.2 166.3,425.7 169.9,421.7 167.3,419.3ZM172.5,424.0 175.2,426.3 178.6,422.2 176.0,420.0ZM183.4,432.8 186.3,434.9 189.4,430.6 186.7,428.6ZM197.9,442.8 200.9,444.6 203.6,440.0 200.7,438.3ZM200.9,444.6 203.9,446.4 206.6,441.8 203.6,440.0ZM203.9,446.4 207.0,448.1 209.6,443.5 206.6,441.8ZM207.0,448.1 210.1,449.8 212.6,445.1 209.6,443.5ZM210.1,449.8 213.2,451.4 215.6,446.7 212.6,445.1ZM213.2,451.4 216.3,453.0 218.7,448.2 215.6,446.7ZM216.3,453.0 219.5,454.5 221.7,449.7 218.7,448.2ZM225.9,457.4 229.1,458.7 231.1,453.8 228.0,452.4ZM229.1,458.7 232.4,460.0 234.3,455.0 231.1,453.8ZM232.4,460.0 235.7,461.2 237.5,456.2 234.3,455.0ZM240.7,457.3 244.0,458.4 245.6,453.4 242.5,452.3ZM244.0,458.4 247.2,459.5 248.8,454.4 245.6,453.4ZM247.2,459.5 250.5,460.4 252.0,455.3 248.8,454.4ZM314.5,462.5 317.8,462.3 317.4,457.0 314.2,457.2ZM252.0,455.3 255.2,456.2 256.6,451.1 253.4,450.3ZM255.2,456.2 258.4,457.1 259.7,451.9 256.6,451.1ZM258.4,457.1 261.6,457.8 262.8,452.7 259.7,451.9ZM311.0,457.3 314.2,457.2 313.9,452.0 310.8,452.1ZM262.8,452.7 266.0,453.4 267.1,448.3 264.0,447.6ZM266.0,453.4 269.2,454.0 270.2,448.9 267.1,448.3ZM269.2,454.0 272.3,454.6 273.2,449.5 270.2,448.9ZM304.5,452.2 307.6,452.2 307.6,447.0 304.5,447.0ZM307.6,452.2 310.8,452.1 310.6,446.9 307.6,447.0ZM273.2,449.5 276.3,450.0 277.2,444.9 274.1,444.4ZM276.3,450.0 279.4,450.5 280.2,445.3 277.2,444.9ZM301.4,452.2 304.5,452.2 304.5,447.0 301.4,447.0ZM286.2,446.0 289.3,446.3 289.7,441.2 286.8,440.9ZM289.3,446.3 292.3,446.6 292.7,441.4 289.7,441.2ZM292.3,446.6 295.4,446.8 295.6,441.6 292.7,441.4ZM295.4,446.8 298.4,446.9 298.6,441.7 295.6,441.6Z"/>
<path fill="#ffda00" stroke="#ffda00" stroke-width="0.6" d="M140.2,113.6 137.5,116.5 141.5,120.2 144.2,117.4ZM137.5,116.5 134.8,119.4 138.9,123.1 141.5,120.2ZM136.3,126.0 133.8,129.0 138.0,132.5 140.5,129.6ZM117.6,150.8 115.5,154.1 120.2,157.0 122.2,153.8ZM144.2,427.0 146.9,429.8 150.8,425.9 148.1,423.2ZM130.9,141.4 128.6,144.4 133.1,147.6 135.3,144.7ZM128.6,144.4 126.4,147.5 130.9,150.6 133.1,147.6ZM126.4,147.5 124.3,150.7 128.8,153.7 130.9,150.6ZM157.3,424.6 160.0,427.2 163.7,423.2 161.0,420.8ZM217.2,459.4 220.5,460.9 222.7,456.0 219.5,454.5ZM220.5,460.9 223.8,462.3 225.9,457.4 222.7,456.0ZM223.8,462.3 227.1,463.7 229.1,458.7 225.9,457.4ZM175.2,426.3 177.9,428.5 181.3,424.4 178.6,422.2ZM177.9,428.5 180.7,430.7 183.9,426.5 181.3,424.4ZM180.7,430.7 183.4,432.8 186.7,428.6 183.9,426.5ZM235.7,461.2 239.0,462.4 240.7,457.3 237.5,456.2ZM239.0,462.4 242.3,463.5 244.0,458.4 240.7,457.3ZM242.3,463.5 245.7,464.6 247.2,459.5 244.0,458.4ZM250.5,460.4 253.8,461.3 255.2,456.2 252.0,455.3ZM253.8,461.3 257.1,462.2 258.4,457.1 255.2,456.2ZM257.1,462.2 260.5,463.0 261.6,457.8 258.4,457.1ZM260.5,463.0 263.8,463.7 264.9,458.6 261.6,457.8ZM311.1,462.6 314.5,462.5 314.2,457.2 311.0,457.3ZM261.6,457.8 264.9,458.6 266.0,453.4 262.8,452.7ZM264.9,458.6 268.1,459.2 269.2,454.0 266.0,453.4ZM268.1,459.2 271.4,459.8 272.3,454.6 269.2,454.0ZM304.5,457.4 307.7,457.4 307.6,452.2 304.5,452.2ZM307.7,457.4 311.0,457.3 310.8,452.1 307.6,452.2ZM272.3,454.6 275.5,455.2 276.3,450.0 273.2,449.5ZM275.5,455.2 278.7,455.6 279.4,450.5 276.3,450.0ZM282.6,450.9 285.7,451.2 286.2,446.0 283.2,445.7ZM285.7,451.2 288.8,451.5 289.3,446.3 286.2,446.0ZM288.8,451.5 291.9,451.8 292.3,446.6 289.3,446.3ZM291.9,451.8 295.1,452.0 295.4,446.8 292.3,446.6ZM295.1,452.0 298.2,452.1 298.4,446.9 295.4,446.8Z"/>
<path fill="#ffc900" stroke="#ffc900" stroke-width="0.6" d="M134.8,119.4 132.1,122.4 136.3,126.0 138.9,123.1ZM132.1,122.4 129.6,125.4 133.8,129.0 136.3,126.0ZM113.0,147.8 110.8,151.2 115.5,154.1 117.6,150.8ZM133.8,129.0 131.3,132.0 135.6,135.4 138.0,132.5ZM131.3,132.0 128.9,135.0 133.2,138.4 135.6,135.4ZM128.9,135.0 126.5,138.1 130.9,141.4 133.2,138.4ZM126.5,138.1 124.2,141.2 128.6,144.4 130.9,141.4ZM119.8,147.6 117.6,150.8 122.2,153.8 124.3,150.7ZM146.9,429.8 149.7,432.5 153.5,428.6 150.8,425.9ZM183.1,439.3 186.0,441.4 189.1,437.0 186.3,434.9ZM186.0,441.4 189.0,443.4 192.0,439.0 189.1,437.0ZM189.0,443.4 192.0,445.4 194.9,440.9 192.0,439.0ZM192.0,445.4 195.1,447.3 197.9,442.8 194.9,440.9ZM195.1,447.3 198.1,449.2 200.9,444.6 197.9,442.8ZM198.1,449.2 201.2,451.1 203.9,446.4 200.9,444.6ZM201.2,451.1 204.4,452.8 207.0,448.1 203.9,446.4ZM204.4,452.8 207.5,454.5 210.1,449.8 207.0,448.1ZM207.5,454.5 210.7,456.2 213.2,451.4 210.1,449.8ZM210.7,456.2 214.0,457.8 216.3,453.0 213.2,451.4ZM214.0,457.8 217.2,459.4 219.5,454.5 216.3,453.0ZM227.1,463.7 230.5,465.0 232.4,460.0 229.1,458.7ZM230.5,465.0 233.9,466.3 235.7,461.2 232.4,460.0ZM233.9,466.3 237.3,467.5 239.0,462.4 235.7,461.2ZM245.7,464.6 249.1,465.6 250.5,460.4 247.2,459.5ZM249.1,465.6 252.4,466.5 253.8,461.3 250.5,460.4ZM252.4,466.5 255.8,467.4 257.1,462.2 253.8,461.3ZM255.8,467.4 259.3,468.2 260.5,463.0 257.1,462.2ZM259.3,468.2 262.7,469.0 263.8,463.7 260.5,463.0ZM311.3,467.9 314.7,467.7 314.5,462.5 311.1,462.6ZM263.8,463.7 267.1,464.4 268.1,459.2 264.9,458.6ZM267.1,464.4 270.5,465.0 271.4,459.8 268.1,459.2ZM304.5,462.7 307.8,462.7 307.7,457.4 304.5,457.4ZM307.8,462.7 311.1,462.6 311.0,457.3 307.7,457.4ZM271.4,459.8 274.7,460.4 275.5,455.2 272.3,454.6ZM274.7,460.4 278.0,460.9 278.7,455.6 275.5,455.2ZM278.7,455.6 281.9,456.1 282.6,450.9 279.4,450.5ZM281.9,456.1 285.1,456.4 285.7,451.2 282.6,450.9ZM285.1,456.4 288.4,456.7 288.8,451.5 285.7,451.2Z"/>
<path fill="#ffb700" stroke="#ffb700" stroke-width="0.6" d="M129.6,125.4 127.0,128.5 131.3,132.0 133.8,129.0ZM127.0,128.5 124.5,131.6 128.9,135.0 131.3,132.0ZM124.5,131.6 122.1,134.8 126.5,138.1 128.9,135.0ZM122.1,134.8 119.7,138.0 124.2,141.2 126.5,138.1ZM117.4,141.2 115.2,144.5 119.8,147.6 122.0,144.4ZM115.2,144.5 113.0,147.8 117.6,150.8 119.8,147.6ZM137.5,427.9 140.2,430.8 144.2,427.0 141.5,424.2ZM124.2,141.2 122.0,144.4 126.4,147.5 128.6,144.4ZM122.0,144.4 119.8,147.6 124.3,150.7 126.4,147.5ZM166.3,425.7 169.0,428.1 172.5,424.0 169.9,421.7ZM180.2,437.1 183.1,439.3 186.3,434.9 183.4,432.8ZM237.3,467.5 240.7,468.6 242.3,463.5 239.0,462.4ZM240.7,468.6 244.1,469.7 245.7,464.6 242.3,463.5ZM244.1,469.7 247.6,470.7 249.1,465.6 245.7,464.6ZM247.6,470.7 251.0,471.7 252.4,466.5 249.1,465.6ZM262.7,469.0 266.1,469.7 267.1,464.4 263.8,463.7ZM266.1,469.7 269.6,470.3 270.5,465.0 267.1,464.4ZM269.6,470.3 273.0,470.9 273.9,465.6 270.5,465.0ZM307.9,468.0 311.3,467.9 311.1,462.6 307.8,462.7ZM270.5,465.0 273.9,465.6 274.7,460.4 271.4,459.8ZM273.9,465.6 277.2,466.1 278.0,460.9 274.7,460.4ZM277.2,466.1 280.6,466.6 281.3,461.3 278.0,460.9ZM278.0,460.9 281.3,461.3 281.9,456.1 278.7,455.6ZM281.3,461.3 284.6,461.7 285.1,456.4 281.9,456.1ZM288.4,456.7 291.6,457.0 291.9,451.8 288.8,451.5ZM291.6,457.0 294.8,457.2 295.1,452.0 291.9,451.8Z"/>
<path fill="#ffa600" stroke="#ffa600" stroke-width="0.6" d="M119.7,138.0 117.4,141.2 122.0,144.4 124.2,141.2ZM153.5,428.6 156.3,431.2 160.0,427.2 157.3,424.6ZM186.0,447.9 189.1,449.9 192.0,445.4 189.0,443.4ZM211.6,462.7 214.9,464.3 217.2,459.4 214.0,457.8ZM214.9,464.3 218.3,465.8 220.5,460.9 217.2,459.4ZM218.3,465.8 221.7,467.3 223.8,462.3 220.5,460.9ZM221.7,467.3 225.1,468.7 227.1,463.7 223.8,462.3ZM225.1,468.7 228.6,470.0 230.5,465.0 227.1,463.7ZM228.6,470.0 232.0,471.3 233.9,466.3 230.5,465.0ZM232.0,471.3 235.5,472.6 237.3,467.5 233.9,466.3ZM235.5,472.6 239.0,473.8 240.7,468.6 237.3,467.5ZM169.0,428.1 171.8,430.4 175.2,426.3 172.5,424.0ZM251.0,471.7 254.5,472.6 255.8,467.4 252.4,466.5ZM254.5,472.6 258.0,473.4 259.3,468.2 255.8,467.4ZM258.0,473.4 261.6,474.2 262.7,469.0 259.3,468.2ZM261.6,474.2 265.1,474.9 266.1,469.7 262.7,469.0ZM265.1,474.9 268.6,475.6 269.6,470.3 266.1,469.7ZM308.0,473.3 311.5,473.2 311.3,467.9 307.9,468.0ZM273.0,470.9 276.5,471.4 277.2,466.1 273.9,465.6ZM276.5,471.4 280.0,471.9 280.6,466.6 277.2,466.1ZM280.0,471.9 283.5,472.2 284.0,466.9 280.6,466.6ZM304.5,468.0 307.9,468.0 307.8,462.7 304.5,462.7ZM280.6,466.6 284.0,466.9 284.6,461.7 281.3,461.3ZM284.0,466.9 287.4,467.3 287.9,462.0 284.6,461.7ZM297.7,467.9 301.1,468.0 301.2,462.7 297.9,462.6ZM301.1,468.0 304.5,468.0 304.5,462.7 301.2,462.7ZM284.6,461.7 287.9,462.0 288.4,456.7 285.1,456.4ZM287.9,462.0 291.2,462.3 291.6,457.0 288.4,456.7ZM291.2,462.3 294.5,462.5 294.8,457.2 291.6,457.0ZM294.5,462.5 297.9,462.6 298.0,457.3 294.8,457.2Z"/>
<path fill="#00ed39" stroke="#00ed39" stroke-width="0.6" d="M88.6,346.5 89.9,350.3 95.1,348.4 93.8,344.8ZM89.9,350.3 91.3,354.0 96.5,352.1 95.1,348.4ZM91.3,354.0 92.8,357.7 97.9,355.7 96.5,352.1ZM92.8,357.7 94.3,361.4 99.4,359.3 97.9,355.7ZM94.3,361.4 95.9,365.1 100.9,362.8 99.4,359.3ZM95.9,365.1 97.5,368.7 102.5,366.4 100.9,362.8ZM97.5,368.7 99.2,372.3 104.2,369.9 102.5,366.4ZM99.2,372.3 101.0,375.9 105.9,373.4 104.2,369.9ZM101.0,375.9 102.9,379.4 107.7,376.8 105.9,373.4ZM102.9,379.4 104.8,382.9 109.6,380.2 107.7,376.8ZM104.8,382.9 106.7,386.4 111.5,383.6 109.6,380.2ZM106.7,386.4 108.8,389.8 113.5,387.0 111.5,383.6ZM444.7,99.0 441.7,96.6 438.3,100.9 441.3,103.3ZM97.9,355.7 99.4,359.3 104.4,357.1 103.0,353.6ZM99.4,359.3 100.9,362.8 105.9,360.6 104.4,357.1ZM100.9,362.8 102.5,366.4 107.5,364.1 105.9,360.6ZM111.5,383.6 113.5,387.0 118.2,384.2 116.3,380.9ZM128.9,409.4 131.3,412.4 135.6,409.0 133.2,406.0ZM131.3,412.4 133.8,415.4 138.0,411.9 135.6,409.0ZM447.1,108.2 444.2,105.7 440.7,109.9 443.5,112.3ZM419.7,87.9 416.5,85.9 413.6,90.5 416.8,92.5ZM416.5,85.9 413.2,84.0 410.5,88.7 413.6,90.5ZM413.2,84.0 409.9,82.1 407.2,86.8 410.5,88.7ZM120.2,387.4 122.2,390.6 126.8,387.6 124.8,384.5ZM122.2,390.6 124.3,393.7 128.8,390.7 126.8,387.6ZM124.3,393.7 126.4,396.9 130.9,393.8 128.8,390.7ZM126.4,396.9 128.6,400.0 133.1,396.8 130.9,393.8ZM404.0,85.1 400.7,83.4 398.3,88.2 401.5,89.9ZM149.5,416.7 152.1,419.4 155.9,415.7 153.5,413.0ZM391.8,85.0 388.5,83.5 386.3,88.4 389.5,89.9ZM379.9,85.7 376.6,84.4 374.7,89.4 377.9,90.6ZM371.5,88.2 368.3,87.1 366.5,92.1 369.7,93.2ZM368.3,87.1 365.0,86.0 363.4,91.0 366.5,92.1ZM360.2,90.0 357.0,89.1 355.6,94.1 358.7,95.0ZM357.0,89.1 353.8,88.2 352.4,93.3 355.6,94.1ZM353.8,88.2 350.6,87.3 349.3,92.5 352.4,93.3ZM162.9,399.7 165.2,402.1 169.0,398.5 166.8,396.2ZM349.3,92.5 346.2,91.7 345.0,96.8 348.0,97.5ZM346.2,91.7 343.0,91.0 341.9,96.1 345.0,96.8ZM343.0,91.0 339.8,90.4 338.8,95.5 341.9,96.1ZM339.8,90.4 336.7,89.8 335.8,94.9 338.8,95.5ZM335.8,94.9 332.7,94.4 331.8,99.5 334.9,100.0ZM332.7,94.4 329.6,93.9 328.8,99.1 331.8,99.5ZM329.6,93.9 326.4,93.5 325.8,98.7 328.8,99.1ZM326.4,93.5 323.3,93.2 322.8,98.4 325.8,98.7ZM322.8,98.4 319.7,98.1 319.3,103.2 322.2,103.5ZM319.7,98.1 316.7,97.8 316.3,103.0 319.3,103.2ZM316.7,97.8 313.6,97.6 313.4,102.8 316.3,103.0ZM313.6,97.6 310.6,97.5 310.4,102.7 313.4,102.8ZM172.6,386.9 174.6,389.2 178.4,385.7 176.5,383.5ZM310.4,102.7 307.5,102.6 307.4,107.7 310.2,107.8ZM307.5,102.6 304.5,102.6 304.5,107.7 307.4,107.7ZM304.5,102.6 301.5,102.6 301.6,107.7 304.5,107.7ZM176.5,383.5 178.4,385.7 182.3,382.3 180.4,380.1ZM298.8,107.8 295.9,107.9 296.2,113.1 298.9,112.9ZM295.9,107.9 293.0,108.1 293.4,113.2 296.2,113.1ZM293.0,108.1 290.2,108.3 290.6,113.4 293.4,113.2ZM180.4,380.1 182.3,382.3 186.1,378.8 184.2,376.8ZM287.8,113.7 285.1,114.0 285.7,119.1 288.4,118.8ZM285.1,114.0 282.3,114.4 283.0,119.4 285.7,119.1ZM282.3,114.4 279.6,114.8 280.4,119.8 283.0,119.4ZM279.6,114.8 276.8,115.3 277.7,120.3 280.4,119.8ZM186.1,165.6 184.2,167.6 188.1,171.0 189.9,169.0ZM182.4,374.6 184.2,376.8 188.1,373.4 186.3,371.4ZM184.2,376.8 186.1,378.8 189.9,375.4 188.1,373.4ZM267.2,122.5 264.6,123.2 265.9,128.1 268.4,127.4ZM264.6,123.2 262.0,123.9 263.4,128.8 265.9,128.1ZM262.0,123.9 259.4,124.7 260.9,129.5 263.4,128.8ZM259.4,124.7 256.8,125.5 258.4,130.3 260.9,129.5ZM256.8,125.5 254.3,126.3 255.9,131.1 258.4,130.3ZM249.2,128.2 246.7,129.2 248.6,133.9 251.0,132.9ZM246.7,129.2 244.2,130.2 246.2,134.9 248.6,133.9ZM244.2,130.2 241.8,131.3 243.8,135.9 246.2,134.9ZM241.8,131.3 239.3,132.4 241.4,137.0 243.8,135.9ZM239.3,132.4 236.9,133.5 239.1,138.1 241.4,137.0ZM236.9,133.5 234.5,134.7 236.8,139.3 239.1,138.1ZM234.5,134.7 232.1,136.0 234.5,140.5 236.8,139.3ZM232.1,136.0 229.7,137.3 232.2,141.7 234.5,140.5ZM229.7,137.3 227.4,138.6 229.9,143.0 232.2,141.7ZM227.4,138.6 225.0,140.0 227.7,144.3 229.9,143.0ZM225.0,140.0 222.7,141.4 225.4,145.7 227.7,144.3ZM222.7,141.4 220.5,142.8 223.2,147.1 225.4,145.7ZM220.5,142.8 218.2,144.3 221.1,148.5 223.2,147.1ZM218.2,144.3 216.0,145.8 218.9,150.0 221.1,148.5ZM216.0,145.8 213.8,147.4 216.8,151.5 218.9,150.0ZM213.8,147.4 211.7,149.0 214.7,153.0 216.8,151.5ZM211.7,149.0 209.5,150.6 212.6,154.6 214.7,153.0ZM209.5,150.6 207.4,152.3 210.6,156.2 212.6,154.6ZM207.4,152.3 205.3,154.0 208.6,157.9 210.6,156.2ZM205.3,154.0 203.3,155.8 206.6,159.6 208.6,157.9ZM203.3,155.8 201.3,157.6 204.7,161.3 206.6,159.6ZM201.3,157.6 199.3,159.4 202.7,163.1 204.7,161.3ZM199.3,159.4 197.3,161.2 200.9,164.9 202.7,163.1ZM197.3,161.2 195.4,163.1 199.0,166.7 200.9,164.9ZM184.6,369.3 186.3,371.4 190.2,368.1 188.5,366.1ZM186.3,371.4 188.1,373.4 191.9,370.1 190.2,368.1ZM188.1,373.4 189.9,375.4 193.6,372.0 191.9,370.1ZM374.5,403.9 376.8,402.7 374.4,398.3 372.2,399.5ZM376.8,402.7 379.1,401.4 376.6,397.0 374.4,398.3ZM193.6,372.0 195.4,374.0 199.1,370.5 197.4,368.7ZM195.4,374.0 197.2,375.8 200.8,372.3 199.1,370.5ZM197.2,375.8 199.0,377.7 202.6,374.1 200.8,372.3ZM369.9,400.6 372.2,399.5 369.8,395.1 367.7,396.2ZM372.2,399.5 374.4,398.3 372.0,393.9 369.8,395.1ZM204.4,375.9 206.2,377.6 209.6,374.0 207.8,372.3ZM206.2,377.6 208.0,379.3 211.4,375.6 209.6,374.0ZM211.4,375.6 213.2,377.2 216.5,373.4 214.7,371.9ZM354.7,396.6 359.1,394.7 357.0,390.2 352.9,392.0ZM221.5,371.1 225.0,374.0 228.0,370.1 224.7,367.3ZM225.0,374.0 228.6,376.7 231.5,372.7 228.0,370.1ZM228.6,376.7 232.3,379.3 235.0,375.2 231.5,372.7ZM232.3,379.3 236.1,381.7 238.7,377.5 235.0,375.2ZM236.1,381.7 239.9,384.1 242.4,379.8 238.7,377.5ZM239.9,384.1 243.9,386.2 246.2,381.9 242.4,379.8ZM252.0,390.2 256.1,392.0 258.0,387.4 254.0,385.7ZM256.1,392.0 260.3,393.6 262.0,388.9 258.0,387.4ZM266.1,390.3 270.3,391.6 271.6,386.9 267.6,385.6ZM356.8,379.4 360.5,377.5 358.2,373.2 354.6,375.0ZM279.7,388.9 283.8,389.7 284.6,384.8 280.7,384.1ZM284.6,384.8 288.6,385.4 289.3,380.6 285.5,380.0ZM289.3,380.6 293.1,381.1 293.6,376.2 289.9,375.8ZM294.1,371.4 297.5,371.7 297.9,366.8 294.6,366.5ZM343.1,358.9 346.1,357.5 344.0,353.1 341.1,354.4ZM297.9,366.8 301.2,367.0 301.4,362.2 298.2,362.0ZM304.5,362.2 307.6,362.2 307.5,357.4 304.5,357.4ZM329.3,358.7 332.3,357.8 330.8,353.2 328.0,354.1ZM332.3,357.8 335.3,356.8 333.6,352.3 330.8,353.2ZM335.3,356.8 338.2,355.7 336.4,351.2 333.6,352.3ZM301.4,362.2 304.5,362.2 304.5,357.4 301.5,357.4ZM310.4,357.2 313.4,356.9 312.9,352.2 310.1,352.4ZM313.4,356.9 316.4,356.6 315.7,351.8 312.9,352.2ZM316.4,356.6 319.3,356.1 318.5,351.4 315.7,351.8ZM319.3,356.1 322.2,355.5 321.2,350.8 318.5,351.4Z"/>
<path fill="#ff9400" stroke="#ff9400" stroke-width="0.6" d="M140.2,430.8 143.0,433.7 146.9,429.8 144.2,427.0ZM149.7,432.5 152.5,435.2 156.3,431.2 153.5,428.6ZM160.0,427.2 162.7,429.7 166.3,425.7 163.7,423.2ZM179.9,443.6 182.9,445.8 186.0,441.4 183.1,439.3ZM182.9,445.8 186.0,447.9 189.0,443.4 186.0,441.4ZM189.1,449.9 192.2,451.9 195.1,447.3 192.0,445.4ZM192.2,451.9 195.4,453.9 198.1,449.2 195.1,447.3ZM195.4,453.9 198.5,455.7 201.2,451.1 198.1,449.2ZM198.5,455.7 201.8,457.6 204.4,452.8 201.2,451.1ZM201.8,457.6 205.0,459.3 207.5,454.5 204.4,452.8ZM205.0,459.3 208.3,461.0 210.7,456.2 207.5,454.5ZM208.3,461.0 211.6,462.7 214.0,457.8 210.7,456.2ZM239.0,473.8 242.5,474.9 244.1,469.7 240.7,468.6ZM242.5,474.9 246.1,475.9 247.6,470.7 244.1,469.7ZM246.1,475.9 249.7,476.9 251.0,471.7 247.6,470.7ZM249.7,476.9 253.2,477.8 254.5,472.6 251.0,471.7ZM253.2,477.8 256.8,478.7 258.0,473.4 254.5,472.6ZM256.8,478.7 260.4,479.5 261.6,474.2 258.0,473.4ZM171.8,430.4 174.5,432.7 177.9,428.5 175.2,426.3ZM174.5,432.7 177.4,434.9 180.7,430.7 177.9,428.5ZM177.4,434.9 180.2,437.1 183.4,432.8 180.7,430.7ZM268.6,475.6 272.2,476.2 273.0,470.9 269.6,470.3ZM272.2,476.2 275.8,476.7 276.5,471.4 273.0,470.9ZM275.8,476.7 279.3,477.2 280.0,471.9 276.5,471.4ZM279.3,477.2 282.9,477.6 283.5,472.2 280.0,471.9ZM282.9,477.6 286.5,477.9 287.0,472.6 283.5,472.2ZM304.5,473.3 308.0,473.3 307.9,468.0 304.5,468.0ZM283.5,472.2 287.0,472.6 287.4,467.3 284.0,466.9ZM287.0,472.6 290.5,472.9 290.8,467.5 287.4,467.3ZM290.5,472.9 294.0,473.1 294.3,467.7 290.8,467.5ZM294.0,473.1 297.5,473.2 297.7,467.9 294.3,467.7ZM297.5,473.2 301.0,473.3 301.1,468.0 297.7,467.9ZM301.0,473.3 304.5,473.3 304.5,468.0 301.1,468.0ZM287.4,467.3 290.8,467.5 291.2,462.3 287.9,462.0ZM290.8,467.5 294.3,467.7 294.5,462.5 291.2,462.3ZM294.3,467.7 297.7,467.9 297.9,462.6 294.5,462.5Z"/>
<path fill="#ff8300" stroke="#ff8300" stroke-width="0.6" d="M143.0,433.7 145.9,436.5 149.7,432.5 146.9,429.8ZM212.6,469.2 216.1,470.8 218.3,465.8 214.9,464.3ZM216.1,470.8 219.6,472.3 221.7,467.3 218.3,465.8ZM219.6,472.3 223.1,473.7 225.1,468.7 221.7,467.3ZM223.1,473.7 226.6,475.1 228.6,470.0 225.1,468.7ZM226.6,475.1 230.2,476.5 232.0,471.3 228.6,470.0ZM230.2,476.5 233.7,477.7 235.5,472.6 232.0,471.3ZM233.7,477.7 237.3,478.9 239.0,473.8 235.5,472.6ZM237.3,478.9 240.9,480.1 242.5,474.9 239.0,473.8ZM240.9,480.1 244.6,481.1 246.1,475.9 242.5,474.9ZM177.0,441.4 179.9,443.6 183.1,439.3 180.2,437.1ZM260.4,479.5 264.1,480.2 265.1,474.9 261.6,474.2ZM264.1,480.2 267.7,480.9 268.6,475.6 265.1,474.9ZM267.7,480.9 271.3,481.5 272.2,476.2 268.6,475.6ZM271.3,481.5 275.0,482.1 275.8,476.7 272.2,476.2ZM275.0,482.1 278.7,482.5 279.3,477.2 275.8,476.7ZM278.7,482.5 282.3,483.0 282.9,477.6 279.3,477.2ZM282.3,483.0 286.0,483.3 286.5,477.9 282.9,477.6ZM286.5,477.9 290.1,478.2 290.5,472.9 287.0,472.6ZM290.1,478.2 293.7,478.4 294.0,473.1 290.5,472.9ZM293.7,478.4 297.3,478.6 297.5,473.2 294.0,473.1ZM297.3,478.6 300.9,478.7 301.0,473.3 297.5,473.2ZM300.9,478.7 304.5,478.7 304.5,473.3 301.0,473.3Z"/>
<path fill="#ff6000" stroke="#ff6000" stroke-width="0.6" d="M145.9,436.5 148.8,439.2 152.5,435.2 149.7,432.5ZM206.8,472.5 210.3,474.2 212.6,469.2 209.2,467.6ZM210.3,474.2 213.9,475.8 216.1,470.8 212.6,469.2ZM213.9,475.8 217.4,477.3 219.6,472.3 216.1,470.8ZM217.4,477.3 221.0,478.8 223.1,473.7 219.6,472.3ZM221.0,478.8 224.6,480.2 226.6,475.1 223.1,473.7ZM224.6,480.2 228.3,481.6 230.2,476.5 226.6,475.1ZM228.3,481.6 231.9,482.9 233.7,477.7 230.2,476.5ZM231.9,482.9 235.6,484.1 237.3,478.9 233.7,477.7ZM235.6,484.1 239.3,485.3 240.9,480.1 237.3,478.9ZM239.3,485.3 243.1,486.4 244.6,481.1 240.9,480.1ZM243.1,486.4 246.8,487.5 248.2,482.2 244.6,481.1ZM246.8,487.5 250.6,488.4 251.9,483.1 248.2,482.2ZM250.6,488.4 254.4,489.3 255.6,484.0 251.9,483.1ZM254.4,489.3 258.2,490.2 259.3,484.8 255.6,484.0ZM258.2,490.2 262.0,491.0 263.0,485.6 259.3,484.8ZM262.0,491.0 265.8,491.7 266.8,486.3 263.0,485.6ZM300.6,495.0 304.5,495.0 304.5,489.6 300.7,489.5ZM278.0,487.9 281.8,488.4 282.3,483.0 278.7,482.5ZM281.8,488.4 285.6,488.7 286.0,483.3 282.3,483.0ZM285.6,488.7 289.3,489.0 289.7,483.6 286.0,483.3ZM293.1,489.3 296.9,489.4 297.1,484.0 293.4,483.8ZM296.9,489.4 300.7,489.5 300.8,484.1 297.1,484.0ZM300.7,489.5 304.5,489.6 304.5,484.1 300.8,484.1ZM162.7,429.7 165.5,432.1 169.0,428.1 166.3,425.7ZM174.0,439.2 177.0,441.4 180.2,437.1 177.4,434.9Z"/>
<path fill="#ff3d00" stroke="#ff3d00" stroke-width="0.6" d="M148.8,439.2 151.7,441.9 155.4,437.8 152.5,435.2ZM197.3,473.8 200.8,475.7 203.3,470.8 199.9,469.0ZM200.8,475.7 204.4,477.5 206.8,472.5 203.3,470.8ZM204.4,477.5 208.0,479.2 210.3,474.2 206.8,472.5ZM208.0,479.2 211.6,480.8 213.9,475.8 210.3,474.2ZM260.9,496.4 264.8,497.1 265.8,491.7 262.0,491.0ZM264.8,497.1 268.8,497.8 269.6,492.3 265.8,491.7ZM268.8,497.8 272.7,498.3 273.5,492.9 269.6,492.3ZM272.7,498.3 276.7,498.9 277.3,493.4 273.5,492.9ZM276.7,498.9 280.6,499.3 281.2,493.8 277.3,493.4ZM280.6,499.3 284.6,499.7 285.1,494.2 281.2,493.8ZM284.6,499.7 288.6,500.0 289.0,494.5 285.1,494.2ZM288.6,500.0 292.5,500.3 292.8,494.7 289.0,494.5ZM292.5,500.3 296.5,500.4 296.7,494.9 292.8,494.7ZM173.5,452.5 176.7,454.7 179.8,450.3 176.7,448.1ZM176.7,454.7 179.9,456.9 183.0,452.4 179.8,450.3ZM179.9,456.9 183.1,459.1 186.1,454.5 183.0,452.4ZM183.1,459.1 186.4,461.2 189.3,456.5 186.1,454.5ZM186.4,461.2 189.7,463.2 192.5,458.5 189.3,456.5ZM285.1,494.2 289.0,494.5 289.3,489.0 285.6,488.7ZM289.0,494.5 292.8,494.7 293.1,489.3 289.3,489.0ZM168.3,434.5 171.1,436.9 174.5,432.7 171.8,430.4ZM171.1,436.9 174.0,439.2 177.4,434.9 174.5,432.7Z"/>
<path fill="#ff2c00" stroke="#ff2c00" stroke-width="0.6" d="M151.7,441.9 154.7,444.6 158.3,440.4 155.4,437.8ZM186.9,467.9 190.3,470.0 193.1,465.2 189.7,463.2ZM190.3,470.0 193.8,471.9 196.5,467.1 193.1,465.2ZM193.8,471.9 197.3,473.8 199.9,469.0 196.5,467.1ZM155.4,437.8 158.3,440.4 161.9,436.2 159.1,433.7ZM170.4,450.2 173.5,452.5 176.7,448.1 173.7,445.8ZM159.1,433.7 161.9,436.2 165.5,432.1 162.7,429.7ZM170.7,443.5 173.7,445.8 177.0,441.4 174.0,439.2Z"/>
<path fill="#ff0900" stroke="#ff0900" stroke-width="0.6" d="M154.7,444.6 157.7,447.1 161.3,442.9 158.3,440.4ZM157.7,447.1 160.8,449.7 164.3,445.4 161.3,442.9ZM160.8,449.7 163.9,452.2 167.3,447.8 164.3,445.4ZM163.9,452.2 167.1,454.6 170.4,450.2 167.3,447.8ZM158.3,440.4 161.3,442.9 164.8,438.7 161.9,436.2ZM161.3,442.9 164.3,445.4 167.7,441.1 164.8,438.7ZM164.3,445.4 167.3,447.8 170.7,443.5 167.7,441.1ZM164.8,438.7 167.7,441.1 171.1,436.9 168.3,434.5ZM167.7,441.1 170.7,443.5 174.0,439.2 171.1,436.9Z"/>
<path fill="#ff1a00" stroke="#ff1a00" stroke-width="0.6" d="M167.1,454.6 170.3,457.0 173.5,452.5 170.4,450.2ZM170.3,457.0 173.5,459.3 176.7,454.7 173.5,452.5ZM173.5,459.3 176.8,461.5 179.9,456.9 176.7,454.7ZM176.8,461.5 180.1,463.7 183.1,459.1 179.9,456.9ZM180.1,463.7 183.5,465.9 186.4,461.2 183.1,459.1ZM183.5,465.9 186.9,467.9 189.7,463.2 186.4,461.2ZM167.3,447.8 170.4,450.2 173.7,445.8 170.7,443.5ZM161.9,436.2 164.8,438.7 168.3,434.5 165.5,432.1Z"/>
<path fill="#ff4e00" stroke="#ff4e00" stroke-width="0.6" d="M211.6,480.8 215.3,482.4 217.4,477.3 213.9,475.8ZM215.3,482.4 219.0,483.9 221.0,478.8 217.4,477.3ZM219.0,483.9 222.7,485.4 224.6,480.2 221.0,478.8ZM222.7,485.4 226.4,486.8 228.3,481.6 224.6,480.2ZM226.4,486.8 230.2,488.1 231.9,482.9 228.3,481.6ZM230.2,488.1 233.9,489.4 235.6,484.1 231.9,482.9ZM233.9,489.4 237.7,490.6 239.3,485.3 235.6,484.1ZM237.7,490.6 241.6,491.7 243.1,486.4 239.3,485.3ZM241.6,491.7 245.4,492.8 246.8,487.5 243.1,486.4ZM245.4,492.8 249.3,493.8 250.6,488.4 246.8,487.5ZM249.3,493.8 253.1,494.7 254.4,489.3 250.6,488.4ZM253.1,494.7 257.0,495.6 258.2,490.2 254.4,489.3ZM257.0,495.6 260.9,496.4 262.0,491.0 258.2,490.2ZM296.5,500.4 300.5,500.5 300.6,495.0 296.7,494.9ZM300.5,500.5 304.5,500.6 304.5,495.0 300.6,495.0ZM152.5,435.2 155.4,437.8 159.1,433.7 156.3,431.2ZM189.7,463.2 193.1,465.2 195.8,460.4 192.5,458.5ZM193.1,465.2 196.5,467.1 199.1,462.3 195.8,460.4ZM196.5,467.1 199.9,469.0 202.5,464.1 199.1,462.3ZM199.9,469.0 203.3,470.8 205.8,465.9 202.5,464.1ZM203.3,470.8 206.8,472.5 209.2,467.6 205.8,465.9ZM265.8,491.7 269.6,492.3 270.5,486.9 266.8,486.3ZM269.6,492.3 273.5,492.9 274.2,487.5 270.5,486.9ZM273.5,492.9 277.3,493.4 278.0,487.9 274.2,487.5ZM277.3,493.4 281.2,493.8 281.8,488.4 278.0,487.9ZM281.2,493.8 285.1,494.2 285.6,488.7 281.8,488.4ZM292.8,494.7 296.7,494.9 296.9,489.4 293.1,489.3ZM296.7,494.9 300.6,495.0 300.7,489.5 296.9,489.4ZM156.3,431.2 159.1,433.7 162.7,429.7 160.0,427.2ZM173.7,445.8 176.7,448.1 179.9,443.6 177.0,441.4ZM289.3,489.0 293.1,489.3 293.4,483.8 289.7,483.6ZM165.5,432.1 168.3,434.5 171.8,430.4 169.0,428.1Z"/>
<path fill="#00f05c" stroke="#00f05c" stroke-width="0.6" d="M441.7,96.6 438.6,94.2 435.3,98.6 438.3,100.9ZM435.5,91.9 432.3,89.7 429.2,94.1 432.3,96.3ZM441.3,103.3 438.3,100.9 435.0,105.2 437.9,107.5ZM426.0,92.0 422.9,89.9 419.9,94.5 423.0,96.5ZM443.5,112.3 440.7,109.9 437.2,114.0 440.0,116.3ZM416.8,92.5 413.6,90.5 410.9,95.2 413.9,97.1ZM413.6,90.5 410.5,88.7 407.8,93.3 410.9,95.2ZM410.5,88.7 407.2,86.8 404.6,91.6 407.8,93.3ZM102.9,337.7 104.1,341.2 109.2,339.4 108.1,336.0ZM104.1,341.2 105.4,344.7 110.4,342.8 109.2,339.4ZM105.4,344.7 106.7,348.1 111.7,346.2 110.4,342.8ZM106.7,348.1 108.0,351.6 113.0,349.6 111.7,346.2ZM109.4,355.0 110.9,358.4 115.8,356.2 114.4,352.9ZM110.9,358.4 112.4,361.8 117.3,359.5 115.8,356.2ZM112.4,361.8 114.0,365.1 118.9,362.7 117.3,359.5ZM115.7,368.4 117.4,371.7 122.2,369.2 120.5,366.0ZM117.4,371.7 119.1,374.9 123.9,372.3 122.2,369.2ZM119.1,374.9 121.0,378.2 125.6,375.5 123.9,372.3ZM121.0,378.2 122.8,381.3 127.5,378.6 125.6,375.5ZM122.8,381.3 124.8,384.5 129.4,381.6 127.5,378.6ZM124.8,384.5 126.8,387.6 131.3,384.7 129.4,381.6ZM401.5,89.9 398.3,88.2 395.8,93.0 398.9,94.6ZM398.3,88.2 395.0,86.6 392.7,91.4 395.8,93.0ZM115.8,356.2 117.3,359.5 122.2,357.2 120.7,354.0ZM117.3,359.5 118.9,362.7 123.7,360.4 122.2,357.2ZM118.9,362.7 120.5,366.0 125.3,363.5 123.7,360.4ZM123.9,372.3 125.6,375.5 130.3,372.8 128.6,369.7ZM386.3,88.4 383.1,87.0 381.0,92.0 384.1,93.3ZM125.3,363.5 126.9,366.6 131.6,364.1 130.0,361.1ZM155.0,406.8 157.4,409.4 161.3,405.7 159.0,403.2ZM377.9,90.6 374.7,89.4 372.8,94.3 375.9,95.6ZM372.8,94.3 369.7,93.2 367.9,98.1 370.9,99.3ZM369.7,93.2 366.5,92.1 364.8,97.0 367.9,98.1ZM160.7,397.2 162.9,399.7 166.8,396.2 164.7,393.7ZM364.8,97.0 361.7,96.0 360.1,101.0 363.1,102.0ZM361.7,96.0 358.7,95.0 357.1,100.1 360.1,101.0ZM358.7,95.0 355.6,94.1 354.1,99.2 357.1,100.1ZM354.1,99.2 351.1,98.3 349.7,103.3 352.7,104.2ZM351.1,98.3 348.0,97.5 346.8,102.6 349.7,103.3ZM348.0,97.5 345.0,96.8 343.8,101.9 346.8,102.6ZM166.6,387.9 168.6,390.3 172.6,386.9 170.6,384.6ZM343.8,101.9 340.8,101.2 339.8,106.3 342.7,106.9ZM340.8,101.2 337.9,100.6 336.9,105.7 339.8,106.3ZM337.9,100.6 334.9,100.0 334.0,105.1 336.9,105.7ZM334.9,100.0 331.8,99.5 331.0,104.7 334.0,105.1ZM170.6,384.6 172.6,386.9 176.5,383.5 174.6,381.2ZM331.0,104.7 328.1,104.2 327.4,109.3 330.2,109.7ZM328.1,104.2 325.2,103.8 324.5,108.9 327.4,109.3ZM325.2,103.8 322.2,103.5 321.7,108.6 324.5,108.9ZM322.2,103.5 319.3,103.2 318.8,108.3 321.7,108.6ZM174.6,381.2 176.5,383.5 180.4,380.1 178.5,377.9ZM316.0,108.1 313.1,107.9 312.8,113.1 315.6,113.2ZM313.1,107.9 310.2,107.8 310.1,112.9 312.8,113.1ZM310.2,107.8 307.4,107.7 307.3,112.9 310.1,112.9ZM176.7,375.7 178.5,377.9 182.4,374.6 180.7,372.5ZM304.5,112.8 301.7,112.9 301.8,118.0 304.5,117.9ZM301.7,112.9 298.9,112.9 299.1,118.0 301.8,118.0ZM298.9,112.9 296.2,113.1 296.4,118.1 299.1,118.0ZM178.9,370.3 180.7,372.5 184.6,369.3 182.9,367.2ZM293.7,118.3 291.1,118.5 291.5,123.6 294.1,123.4ZM291.1,118.5 288.4,118.8 288.9,123.8 291.5,123.6ZM288.4,118.8 285.7,119.1 286.3,124.1 288.9,123.8ZM285.7,119.1 283.0,119.4 283.7,124.5 286.3,124.1ZM181.3,365.0 182.9,367.2 186.9,364.1 185.3,362.0ZM260.9,129.5 258.4,130.3 260.0,135.1 262.4,134.3ZM258.4,130.3 255.9,131.1 257.6,135.9 260.0,135.1ZM255.9,131.1 253.5,132.0 255.2,136.7 257.6,135.9ZM253.5,132.0 251.0,132.9 252.8,137.6 255.2,136.7ZM251.0,132.9 248.6,133.9 250.5,138.5 252.8,137.6ZM248.6,133.9 246.2,134.9 248.2,139.5 250.5,138.5ZM202.7,163.1 200.9,164.9 204.4,168.5 206.2,166.8ZM186.9,364.1 188.5,366.1 192.5,362.9 190.9,361.0ZM232.4,147.4 230.3,148.6 232.8,152.9 234.9,151.7ZM230.3,148.6 228.1,149.9 230.8,154.2 232.8,152.9ZM228.1,149.9 226.0,151.3 228.7,155.5 230.8,154.2ZM226.0,151.3 223.9,152.7 226.7,156.9 228.7,155.5ZM223.9,152.7 221.8,154.1 224.7,158.2 226.7,156.9ZM221.8,154.1 219.8,155.6 222.7,159.6 224.7,158.2ZM219.8,155.6 217.7,157.1 220.8,161.1 222.7,159.6ZM217.7,157.1 215.7,158.6 218.8,162.6 220.8,161.1ZM215.7,158.6 213.8,160.2 216.9,164.1 218.8,162.6ZM195.7,366.8 197.4,368.7 201.1,365.3 199.5,363.5ZM197.4,368.7 199.1,370.5 202.7,367.1 201.1,365.3ZM211.3,368.7 214.7,371.9 218.1,368.2 214.8,365.1ZM218.1,368.2 221.5,371.1 224.7,367.3 221.4,364.5ZM228.0,370.1 231.5,372.7 234.4,368.7 231.1,366.2ZM231.5,372.7 235.0,375.2 237.8,371.1 234.4,368.7ZM238.7,377.5 242.4,379.8 244.9,375.5 241.3,373.3ZM258.0,387.4 262.0,388.9 263.7,384.3 259.8,382.8ZM280.7,384.1 284.6,384.8 285.5,380.0 281.7,379.3ZM289.9,375.8 293.6,376.2 294.1,371.4 290.6,370.9ZM354.4,358.6 357.3,356.8 354.8,352.6 351.9,354.4ZM357.3,356.8 360.3,354.9 357.5,350.8 354.8,352.6ZM290.6,370.9 294.1,371.4 294.6,366.5 291.3,366.1ZM351.9,354.4 354.8,352.6 352.2,348.6 349.5,350.2ZM354.8,352.6 357.5,350.8 354.8,346.8 352.2,348.6ZM357.5,350.8 360.3,348.9 357.4,345.0 354.8,346.8ZM344.0,353.1 346.8,351.7 344.5,347.4 341.9,348.8ZM346.8,351.7 349.5,350.2 347.1,346.0 344.5,347.4ZM328.0,354.1 330.8,353.2 329.3,348.7 326.7,349.5ZM330.8,353.2 333.6,352.3 332.0,347.8 329.3,348.7ZM333.6,352.3 336.4,351.2 334.6,346.7 332.0,347.8ZM336.4,351.2 339.2,350.0 337.2,345.7 334.6,346.7ZM339.2,350.0 341.9,348.8 339.7,344.5 337.2,345.7ZM301.5,357.4 304.5,357.4 304.5,352.6 301.7,352.6ZM307.3,352.6 310.1,352.4 309.8,347.6 307.1,347.8ZM310.1,352.4 312.9,352.2 312.4,347.4 309.8,347.6ZM312.9,352.2 315.7,351.8 315.0,347.1 312.4,347.4ZM315.7,351.8 318.5,351.4 317.6,346.7 315.0,347.1ZM318.5,351.4 321.2,350.8 320.2,346.2 317.6,346.7Z"/>
<path fill="#00f26d" stroke="#00f26d" stroke-width="0.6" d="M438.6,94.2 435.5,91.9 432.3,96.3 435.3,98.6ZM130.9,403.0 133.2,406.0 137.5,402.7 135.3,399.7ZM440.7,109.9 437.9,107.5 434.5,111.7 437.2,114.0ZM419.9,94.5 416.8,92.5 413.9,97.1 417.0,99.0ZM126.8,387.6 128.8,390.7 133.3,387.7 131.3,384.7ZM128.8,390.7 130.9,393.8 135.3,390.7 133.3,387.7ZM147.0,414.0 149.5,416.7 153.5,413.0 151.0,410.4ZM407.8,93.3 404.6,91.6 402.0,96.3 405.1,98.0ZM404.6,91.6 401.5,89.9 398.9,94.6 402.0,96.3ZM110.4,342.8 111.7,346.2 116.7,344.3 115.5,341.0ZM111.7,346.2 113.0,349.6 118.0,347.6 116.7,344.3ZM113.0,349.6 114.4,352.9 119.3,350.8 118.0,347.6ZM114.4,352.9 115.8,356.2 120.7,354.0 119.3,350.8ZM125.6,375.5 127.5,378.6 132.1,375.8 130.3,372.8ZM389.5,89.9 386.3,88.4 384.1,93.3 387.3,94.7ZM122.2,357.2 123.7,360.4 128.5,358.0 127.0,355.0ZM123.7,360.4 125.3,363.5 130.0,361.1 128.5,358.0ZM126.9,366.6 128.6,369.7 133.2,367.1 131.6,364.1ZM128.6,369.7 130.3,372.8 134.9,370.1 133.2,367.1ZM381.0,92.0 377.9,90.6 375.9,95.6 378.9,96.8ZM156.7,400.7 159.0,403.2 162.9,399.7 160.7,397.2ZM375.9,95.6 372.8,94.3 370.9,99.3 373.9,100.4ZM367.9,98.1 364.8,97.0 363.1,102.0 366.1,103.0ZM162.6,391.3 164.7,393.7 168.6,390.3 166.6,387.9ZM360.1,101.0 357.1,100.1 355.6,105.0 358.5,105.9ZM357.1,100.1 354.1,99.2 352.7,104.2 355.6,105.0ZM352.7,104.2 349.7,103.3 348.4,108.3 351.3,109.1ZM349.7,103.3 346.8,102.6 345.5,107.6 348.4,108.3ZM346.8,102.6 343.8,101.9 342.7,106.9 345.5,107.6ZM342.7,106.9 339.8,106.3 338.7,111.3 341.5,111.9ZM339.8,106.3 336.9,105.7 335.9,110.7 338.7,111.3ZM336.9,105.7 334.0,105.1 333.1,110.2 335.9,110.7ZM334.0,105.1 331.0,104.7 330.2,109.7 333.1,110.2ZM172.7,379.0 174.6,381.2 178.5,377.9 176.7,375.7ZM327.4,109.3 324.5,108.9 323.9,114.0 326.7,114.4ZM324.5,108.9 321.7,108.6 321.2,113.7 323.9,114.0ZM321.7,108.6 318.8,108.3 318.4,113.4 321.2,113.7ZM318.8,108.3 316.0,108.1 315.6,113.2 318.4,113.4ZM174.9,373.5 176.7,375.7 180.7,372.5 178.9,370.3ZM312.8,113.1 310.1,112.9 309.9,118.0 312.6,118.1ZM310.1,112.9 307.3,112.9 307.2,118.0 309.9,118.0ZM307.3,112.9 304.5,112.8 304.5,117.9 307.2,118.0ZM177.2,368.1 178.9,370.3 182.9,367.2 181.3,365.0ZM301.8,118.0 299.1,118.0 299.3,123.1 301.9,123.0ZM299.1,118.0 296.4,118.1 296.7,123.2 299.3,123.1ZM296.4,118.1 293.7,118.3 294.1,123.4 296.7,123.2ZM179.7,362.9 181.3,365.0 185.3,362.0 183.8,359.9ZM273.5,126.3 270.9,126.8 272.1,131.7 274.5,131.2ZM270.9,126.8 268.4,127.4 269.6,132.3 272.1,131.7ZM268.4,127.4 265.9,128.1 267.2,133.0 269.6,132.3ZM265.9,128.1 263.4,128.8 264.8,133.6 267.2,133.0ZM263.4,128.8 260.9,129.5 262.4,134.3 264.8,133.6ZM183.8,359.9 185.3,362.0 189.4,359.0 187.9,356.9ZM185.3,362.0 186.9,364.1 190.9,361.0 189.4,359.0ZM241.3,142.6 239.1,143.8 241.3,148.2 243.5,147.1ZM239.1,143.8 236.8,144.9 239.2,149.3 241.3,148.2ZM236.8,144.9 234.6,146.1 237.0,150.5 239.2,149.3ZM234.6,146.1 232.4,147.4 234.9,151.7 237.0,150.5ZM192.5,362.9 194.1,364.9 197.9,361.6 196.4,359.8ZM194.1,364.9 195.7,366.8 199.5,363.5 197.9,361.6ZM202.7,367.1 204.4,368.9 208.0,365.4 206.4,363.7ZM224.7,367.3 228.0,370.1 231.1,366.2 227.8,363.6ZM242.4,379.8 246.2,381.9 248.5,377.5 244.9,375.5ZM254.0,385.7 258.0,387.4 259.8,382.8 256.0,381.2ZM267.6,385.6 271.6,386.9 273.0,382.1 269.2,381.0ZM276.8,383.2 280.7,384.1 281.7,379.3 278.0,378.4ZM359.2,367.0 362.5,365.0 359.9,360.9 356.8,362.8ZM285.5,380.0 289.3,380.6 289.9,375.8 286.3,375.2ZM359.9,360.9 363.0,358.9 360.3,354.9 357.3,356.8ZM360.3,354.9 363.1,352.9 360.3,348.9 357.5,350.8ZM363.1,352.9 365.9,350.8 362.9,347.0 360.3,348.9ZM360.3,348.9 362.9,347.0 359.9,343.1 357.4,345.0ZM291.3,366.1 294.6,366.5 295.1,361.7 292.0,361.4ZM349.5,350.2 352.2,348.6 349.7,344.5 347.1,346.0ZM352.2,348.6 354.8,346.8 352.1,342.8 349.7,344.5ZM295.1,361.7 298.2,362.0 298.6,357.2 295.6,356.9ZM341.9,348.8 344.5,347.4 342.2,343.2 339.7,344.5ZM304.5,352.6 307.3,352.6 307.1,347.8 304.5,347.8ZM321.2,350.8 324.0,350.2 322.8,345.6 320.2,346.2ZM309.8,347.6 312.4,347.4 311.9,342.6 309.4,342.9ZM312.4,347.4 315.0,347.1 314.4,342.3 311.9,342.6ZM315.0,347.1 317.6,346.7 316.8,342.0 314.4,342.3ZM317.6,346.7 320.2,346.2 319.2,341.5 316.8,342.0Z"/>
<path fill="#00ef4a" stroke="#00ef4a" stroke-width="0.6" d="M432.3,89.7 429.1,87.5 426.0,92.0 429.2,94.1ZM102.5,366.4 104.2,369.9 109.1,367.5 107.5,364.1ZM104.2,369.9 105.9,373.4 110.8,370.9 109.1,367.5ZM105.9,373.4 107.7,376.8 112.6,374.2 110.8,370.9ZM107.7,376.8 109.6,380.2 114.4,377.6 112.6,374.2ZM109.6,380.2 111.5,383.6 116.3,380.9 114.4,377.6ZM444.2,105.7 441.3,103.3 437.9,107.5 440.7,109.9ZM422.9,89.9 419.7,87.9 416.8,92.5 419.9,94.5ZM97.8,339.4 99.0,343.0 104.1,341.2 102.9,337.7ZM99.0,343.0 100.2,346.5 105.4,344.7 104.1,341.2ZM104.4,357.1 105.9,360.6 110.9,358.4 109.4,355.0ZM105.9,360.6 107.5,364.1 112.4,361.8 110.9,358.4ZM107.5,364.1 109.1,367.5 114.0,365.1 112.4,361.8ZM109.1,367.5 110.8,370.9 115.7,368.4 114.0,365.1ZM110.8,370.9 112.6,374.2 117.4,371.7 115.7,368.4ZM112.6,374.2 114.4,377.6 119.1,374.9 117.4,371.7ZM114.4,377.6 116.3,380.9 121.0,378.2 119.1,374.9ZM116.3,380.9 118.2,384.2 122.8,381.3 121.0,378.2ZM118.2,384.2 120.2,387.4 124.8,384.5 122.8,381.3ZM128.6,400.0 130.9,403.0 135.3,399.7 133.1,396.8ZM140.5,414.8 143.0,417.6 147.0,414.0 144.6,411.2ZM446.3,114.7 443.5,112.3 440.0,116.3 442.7,118.7ZM407.2,86.8 404.0,85.1 401.5,89.9 404.6,91.6ZM114.0,365.1 115.7,368.4 120.5,366.0 118.9,362.7ZM395.0,86.6 391.8,85.0 389.5,89.9 392.7,91.4ZM120.5,366.0 122.2,369.2 126.9,366.6 125.3,363.5ZM122.2,369.2 123.9,372.3 128.6,369.7 126.9,366.6ZM153.5,413.0 155.9,415.7 159.8,411.9 157.4,409.4ZM383.1,87.0 379.9,85.7 377.9,90.6 381.0,92.0ZM374.7,89.4 371.5,88.2 369.7,93.2 372.8,94.3ZM159.0,403.2 161.3,405.7 165.2,402.1 162.9,399.7ZM366.5,92.1 363.4,91.0 361.7,96.0 364.8,97.0ZM363.4,91.0 360.2,90.0 358.7,95.0 361.7,96.0ZM355.6,94.1 352.4,93.3 351.1,98.3 354.1,99.2ZM352.4,93.3 349.3,92.5 348.0,97.5 351.1,98.3ZM164.7,393.7 166.8,396.2 170.7,392.7 168.6,390.3ZM345.0,96.8 341.9,96.1 340.8,101.2 343.8,101.9ZM341.9,96.1 338.8,95.5 337.9,100.6 340.8,101.2ZM338.8,95.5 335.8,94.9 334.9,100.0 337.9,100.6ZM168.6,390.3 170.7,392.7 174.6,389.2 172.6,386.9ZM331.8,99.5 328.8,99.1 328.1,104.2 331.0,104.7ZM328.8,99.1 325.8,98.7 325.2,103.8 328.1,104.2ZM325.8,98.7 322.8,98.4 322.2,103.5 325.2,103.8ZM319.3,103.2 316.3,103.0 316.0,108.1 318.8,108.3ZM316.3,103.0 313.4,102.8 313.1,107.9 316.0,108.1ZM313.4,102.8 310.4,102.7 310.2,107.8 313.1,107.9ZM307.4,107.7 304.5,107.7 304.5,112.8 307.3,112.9ZM304.5,107.7 301.6,107.7 301.7,112.9 304.5,112.8ZM301.6,107.7 298.8,107.8 298.9,112.9 301.7,112.9ZM178.5,377.9 180.4,380.1 184.2,376.8 182.4,374.6ZM296.2,113.1 293.4,113.2 293.7,118.3 296.4,118.1ZM293.4,113.2 290.6,113.4 291.1,118.5 293.7,118.3ZM290.6,113.4 287.8,113.7 288.4,118.8 291.1,118.5ZM180.7,372.5 182.4,374.6 186.3,371.4 184.6,369.3ZM283.0,119.4 280.4,119.8 281.2,124.8 283.7,124.5ZM280.4,119.8 277.7,120.3 278.6,125.3 281.2,124.8ZM277.7,120.3 275.1,120.8 276.0,125.7 278.6,125.3ZM275.1,120.8 272.4,121.3 273.5,126.3 276.0,125.7ZM272.4,121.3 269.8,121.9 270.9,126.8 273.5,126.3ZM269.8,121.9 267.2,122.5 268.4,127.4 270.9,126.8ZM195.4,163.1 193.5,165.0 197.2,168.6 199.0,166.7ZM182.9,367.2 184.6,369.3 188.5,366.1 186.9,364.1ZM379.1,401.4 381.3,400.1 378.7,395.8 376.6,397.0ZM241.4,137.0 239.1,138.1 241.3,142.6 243.6,141.5ZM239.1,138.1 236.8,139.3 239.1,143.8 241.3,142.6ZM236.8,139.3 234.5,140.5 236.8,144.9 239.1,143.8ZM234.5,140.5 232.2,141.7 234.6,146.1 236.8,144.9ZM232.2,141.7 229.9,143.0 232.4,147.4 234.6,146.1ZM229.9,143.0 227.7,144.3 230.3,148.6 232.4,147.4ZM227.7,144.3 225.4,145.7 228.1,149.9 230.3,148.6ZM225.4,145.7 223.2,147.1 226.0,151.3 228.1,149.9ZM223.2,147.1 221.1,148.5 223.9,152.7 226.0,151.3ZM221.1,148.5 218.9,150.0 221.8,154.1 223.9,152.7ZM218.9,150.0 216.8,151.5 219.8,155.6 221.8,154.1ZM216.8,151.5 214.7,153.0 217.7,157.1 219.8,155.6ZM214.7,153.0 212.6,154.6 215.7,158.6 217.7,157.1ZM212.6,154.6 210.6,156.2 213.8,160.2 215.7,158.6ZM210.6,156.2 208.6,157.9 211.8,161.8 213.8,160.2ZM208.6,157.9 206.6,159.6 209.9,163.4 211.8,161.8ZM206.6,159.6 204.7,161.3 208.0,165.1 209.9,163.4ZM204.7,161.3 202.7,163.1 206.2,166.8 208.0,165.1ZM188.5,366.1 190.2,368.1 194.1,364.9 192.5,362.9ZM190.2,368.1 191.9,370.1 195.7,366.8 194.1,364.9ZM191.9,370.1 193.6,372.0 197.4,368.7 195.7,366.8ZM374.4,398.3 376.6,397.0 374.1,392.7 372.0,393.9ZM376.6,397.0 378.7,395.8 376.2,391.5 374.1,392.7ZM199.1,370.5 200.8,372.3 204.4,368.9 202.7,367.1ZM200.8,372.3 202.6,374.1 206.1,370.6 204.4,368.9ZM202.6,374.1 204.4,375.9 207.8,372.3 206.1,370.6ZM207.8,372.3 209.6,374.0 213.0,370.3 211.3,368.7ZM209.6,374.0 211.4,375.6 214.7,371.9 213.0,370.3ZM214.7,371.9 218.3,375.0 221.5,371.1 218.1,368.2ZM243.9,386.2 247.9,388.3 250.1,383.8 246.2,381.9ZM247.9,388.3 252.0,390.2 254.0,385.7 250.1,383.8ZM235.0,375.2 238.7,377.5 241.3,373.3 237.8,371.1ZM262.0,388.9 266.1,390.3 267.6,385.6 263.7,384.3ZM271.6,386.9 275.6,387.9 276.8,383.2 273.0,382.1ZM275.6,387.9 279.7,388.9 280.7,384.1 276.8,383.2ZM351.3,360.2 354.4,358.6 351.9,354.4 349.0,356.0ZM346.1,357.5 349.0,356.0 346.8,351.7 344.0,353.1ZM349.0,356.0 351.9,354.4 349.5,350.2 346.8,351.7ZM294.6,366.5 297.9,366.8 298.2,362.0 295.1,361.7ZM338.2,355.7 341.1,354.4 339.2,350.0 336.4,351.2ZM341.1,354.4 344.0,353.1 341.9,348.8 339.2,350.0ZM298.2,362.0 301.4,362.2 301.5,357.4 298.6,357.2ZM304.5,357.4 307.5,357.4 307.3,352.6 304.5,352.6ZM307.5,357.4 310.4,357.2 310.1,352.4 307.3,352.6ZM322.2,355.5 325.1,354.9 324.0,350.2 321.2,350.8ZM325.1,354.9 328.0,354.1 326.7,349.5 324.0,350.2Z"/>
<path fill="#00f37e" stroke="#00f37e" stroke-width="0.6" d="M438.3,100.9 435.3,98.6 432.0,103.0 435.0,105.2ZM429.2,94.1 426.0,92.0 423.0,96.5 426.1,98.6ZM133.2,406.0 135.6,409.0 139.8,405.6 137.5,402.7ZM138.0,411.9 140.5,414.8 144.6,411.2 142.2,408.4ZM437.9,107.5 435.0,105.2 431.6,109.5 434.5,111.7ZM423.0,96.5 419.9,94.5 417.0,99.0 420.0,101.0ZM130.9,393.8 133.1,396.8 137.4,393.6 135.3,390.7ZM413.9,97.1 410.9,95.2 408.1,99.8 411.1,101.6ZM410.9,95.2 407.8,93.3 405.1,98.0 408.1,99.8ZM127.5,378.6 129.4,381.6 133.9,378.8 132.1,375.8ZM402.0,96.3 398.9,94.6 396.4,99.3 399.4,100.9ZM398.9,94.6 395.8,93.0 393.4,97.7 396.4,99.3ZM395.8,93.0 392.7,91.4 390.3,96.2 393.4,97.7ZM392.7,91.4 389.5,89.9 387.3,94.7 390.3,96.2ZM118.0,347.6 119.3,350.8 124.3,348.7 122.9,345.6ZM119.3,350.8 120.7,354.0 125.6,351.8 124.3,348.7ZM120.7,354.0 122.2,357.2 127.0,355.0 125.6,351.8ZM130.3,372.8 132.1,375.8 136.7,373.1 134.9,370.1ZM384.1,93.3 381.0,92.0 378.9,96.8 382.0,98.2ZM378.9,96.8 375.9,95.6 373.9,100.4 376.9,101.7ZM158.6,394.7 160.7,397.2 164.7,393.7 162.6,391.3ZM370.9,99.3 367.9,98.1 366.1,103.0 369.0,104.1ZM160.5,388.8 162.6,391.3 166.6,387.9 164.6,385.5ZM366.1,103.0 363.1,102.0 361.4,106.9 364.3,107.9ZM363.1,102.0 360.1,101.0 358.5,105.9 361.4,106.9ZM164.6,385.5 166.6,387.9 170.6,384.6 168.6,382.2ZM358.5,105.9 355.6,105.0 354.1,110.0 356.9,110.9ZM355.6,105.0 352.7,104.2 351.3,109.1 354.1,110.0ZM168.6,382.2 170.6,384.6 174.6,381.2 172.7,379.0ZM351.3,109.1 348.4,108.3 347.1,113.3 349.8,114.1ZM348.4,108.3 345.5,107.6 344.3,112.6 347.1,113.3ZM345.5,107.6 342.7,106.9 341.5,111.9 344.3,112.6ZM335.9,110.7 333.1,110.2 332.2,115.3 334.9,115.8ZM333.1,110.2 330.2,109.7 329.4,114.8 332.2,115.3ZM330.2,109.7 327.4,109.3 326.7,114.4 329.4,114.8ZM323.9,114.0 321.2,113.7 320.6,118.8 323.3,119.1ZM321.2,113.7 318.4,113.4 317.9,118.5 320.6,118.8ZM318.4,113.4 315.6,113.2 315.3,118.3 317.9,118.5ZM315.6,113.2 312.8,113.1 312.6,118.1 315.3,118.3ZM309.9,118.0 307.2,118.0 307.1,123.0 309.7,123.1ZM307.2,118.0 304.5,117.9 304.5,123.0 307.1,123.0ZM304.5,117.9 301.8,118.0 301.9,123.0 304.5,123.0ZM296.7,123.2 294.1,123.4 294.4,128.4 297.0,128.2ZM294.1,123.4 291.5,123.6 291.9,128.6 294.4,128.4ZM291.5,123.6 288.9,123.8 289.4,128.8 291.9,128.6ZM288.9,123.8 286.3,124.1 286.9,129.1 289.4,128.8ZM286.3,124.1 283.7,124.5 284.4,129.4 286.9,129.1ZM283.7,124.5 281.2,124.8 281.9,129.8 284.4,129.4ZM281.2,124.8 278.6,125.3 279.5,130.2 281.9,129.8ZM278.6,125.3 276.0,125.7 277.0,130.7 279.5,130.2ZM276.0,125.7 273.5,126.3 274.5,131.2 277.0,130.7ZM182.3,357.8 183.8,359.9 187.9,356.9 186.4,354.9ZM189.4,359.0 190.9,361.0 194.9,357.9 193.4,355.9ZM190.9,361.0 192.5,362.9 196.4,359.8 194.9,357.9ZM230.8,154.2 228.7,155.5 231.4,159.7 233.4,158.4ZM228.7,155.5 226.7,156.9 229.5,161.0 231.4,159.7ZM226.7,156.9 224.7,158.2 227.6,162.3 229.5,161.0ZM199.5,363.5 201.1,365.3 204.8,362.0 203.3,360.2ZM201.1,365.3 202.7,367.1 206.4,363.7 204.8,362.0ZM246.2,381.9 250.1,383.8 252.2,379.4 248.5,377.5ZM250.1,383.8 254.0,385.7 256.0,381.2 252.2,379.4ZM237.8,371.1 241.3,373.3 243.9,369.2 240.6,367.0ZM241.3,373.3 244.9,375.5 247.3,371.2 243.9,369.2ZM263.7,384.3 267.6,385.6 269.2,381.0 265.4,379.7ZM273.0,382.1 276.8,383.2 278.0,378.4 274.3,377.4ZM281.7,379.3 285.5,380.0 286.3,375.2 282.8,374.5ZM363.0,358.9 366.0,356.8 363.1,352.9 360.3,354.9ZM366.0,356.8 368.9,354.6 365.9,350.8 363.1,352.9ZM286.3,375.2 289.9,375.8 290.6,370.9 287.2,370.4ZM365.9,350.8 368.6,348.6 365.5,344.9 362.9,347.0ZM287.2,370.4 290.6,370.9 291.3,366.1 288.0,365.6ZM362.9,347.0 365.5,344.9 362.4,341.2 359.9,343.1ZM354.8,346.8 357.4,345.0 354.6,341.1 352.1,342.8ZM357.4,345.0 359.9,343.1 357.0,339.3 354.6,341.1ZM344.5,347.4 347.1,346.0 344.7,341.8 342.2,343.2ZM347.1,346.0 349.7,344.5 347.1,340.4 344.7,341.8ZM298.6,357.2 301.5,357.4 301.7,352.6 298.9,352.4ZM324.0,350.2 326.7,349.5 325.3,344.9 322.8,345.6ZM301.7,352.6 304.5,352.6 304.5,347.8 301.9,347.8ZM304.5,347.8 307.1,347.8 307.0,343.0 304.5,343.0ZM307.1,347.8 309.8,347.6 309.4,342.9 307.0,343.0ZM320.2,346.2 322.8,345.6 321.6,340.9 319.2,341.5ZM309.4,342.9 311.9,342.6 311.4,337.9 309.1,338.1ZM311.9,342.6 314.4,342.3 313.7,337.6 311.4,337.9ZM314.4,342.3 316.8,342.0 316.0,337.3 313.7,337.6ZM316.8,342.0 319.2,341.5 318.2,336.8 316.0,337.3Z"/>
<path fill="#00f590" stroke="#00f590" stroke-width="0.6" d="M435.3,98.6 432.3,96.3 429.1,100.8 432.0,103.0ZM432.3,96.3 429.2,94.1 426.1,98.6 429.1,100.8ZM135.6,409.0 138.0,411.9 142.2,408.4 139.8,405.6ZM435.0,105.2 432.0,103.0 428.8,107.3 431.6,109.5ZM426.1,98.6 423.0,96.5 420.0,101.0 423.0,103.0ZM133.1,396.8 135.3,399.7 139.6,396.5 137.4,393.6ZM440.0,116.3 437.2,114.0 433.8,118.1 436.5,120.4ZM437.2,114.0 434.5,111.7 431.1,115.9 433.8,118.1ZM417.0,99.0 413.9,97.1 411.1,101.6 414.1,103.5ZM151.0,410.4 153.5,413.0 157.4,409.4 155.0,406.8ZM408.1,99.8 405.1,98.0 402.4,102.6 405.4,104.4ZM405.1,98.0 402.0,96.3 399.4,100.9 402.4,102.6ZM132.1,375.8 133.9,378.8 138.4,376.0 136.7,373.1ZM152.7,404.2 155.0,406.8 159.0,403.2 156.7,400.7ZM387.3,94.7 384.1,93.3 382.0,98.2 385.0,99.5ZM124.3,348.7 125.6,351.8 130.5,349.7 129.1,346.6ZM125.6,351.8 127.0,355.0 131.8,352.7 130.5,349.7ZM127.0,355.0 128.5,358.0 133.3,355.7 131.8,352.7ZM128.5,358.0 130.0,361.1 134.7,358.7 133.3,355.7ZM130.0,361.1 131.6,364.1 136.3,361.6 134.7,358.7ZM131.6,364.1 133.2,367.1 137.9,364.6 136.3,361.6ZM154.5,398.1 156.7,400.7 160.7,397.2 158.6,394.7ZM382.0,98.2 378.9,96.8 376.9,101.7 379.8,103.0ZM156.4,392.1 158.6,394.7 162.6,391.3 160.5,388.8ZM373.9,100.4 370.9,99.3 369.0,104.1 371.9,105.3ZM158.5,386.3 160.5,388.8 164.6,385.5 162.6,383.0ZM369.0,104.1 366.1,103.0 364.3,107.9 367.1,109.0ZM162.6,383.0 164.6,385.5 168.6,382.2 166.8,379.8ZM364.3,107.9 361.4,106.9 359.7,111.8 362.5,112.8ZM361.4,106.9 358.5,105.9 356.9,110.9 359.7,111.8ZM166.8,379.8 168.6,382.2 172.7,379.0 170.8,376.6ZM356.9,110.9 354.1,110.0 352.6,114.9 355.3,115.8ZM354.1,110.0 351.3,109.1 349.8,114.1 352.6,114.9ZM170.8,376.6 172.7,379.0 176.7,375.7 174.9,373.5ZM347.1,113.3 344.3,112.6 343.1,117.6 345.7,118.3ZM344.3,112.6 341.5,111.9 340.3,116.9 343.1,117.6ZM341.5,111.9 338.7,111.3 337.6,116.3 340.3,116.9ZM338.7,111.3 335.9,110.7 334.9,115.8 337.6,116.3ZM173.1,371.2 174.9,373.5 178.9,370.3 177.2,368.1ZM332.2,115.3 329.4,114.8 328.6,119.8 331.3,120.3ZM329.4,114.8 326.7,114.4 326.0,119.4 328.6,119.8ZM326.7,114.4 323.9,114.0 323.3,119.1 326.0,119.4ZM175.6,365.9 177.2,368.1 181.3,365.0 179.7,362.9ZM323.3,119.1 320.6,118.8 320.1,123.8 322.7,124.1ZM320.6,118.8 317.9,118.5 317.5,123.6 320.1,123.8ZM317.9,118.5 315.3,118.3 314.9,123.4 317.5,123.6ZM315.3,118.3 312.6,118.1 312.3,123.2 314.9,123.4ZM312.6,118.1 309.9,118.0 309.7,123.1 312.3,123.2ZM178.1,360.7 179.7,362.9 183.8,359.9 182.3,357.8ZM304.5,123.0 301.9,123.0 302.0,128.1 304.5,128.0ZM301.9,123.0 299.3,123.1 299.5,128.1 302.0,128.1ZM299.3,123.1 296.7,123.2 297.0,128.2 299.5,128.1ZM180.8,355.6 182.3,357.8 186.4,354.9 185.0,352.8ZM262.4,134.3 260.0,135.1 261.5,139.9 263.8,139.1ZM260.0,135.1 257.6,135.9 259.2,140.6 261.5,139.9ZM186.4,354.9 187.9,356.9 191.9,354.0 190.5,352.0ZM187.9,356.9 189.4,359.0 193.4,355.9 191.9,354.0ZM241.3,148.2 239.2,149.3 241.5,153.8 243.6,152.7ZM239.2,149.3 237.0,150.5 239.5,154.9 241.5,153.8ZM237.0,150.5 234.9,151.7 237.4,156.0 239.5,154.9ZM234.9,151.7 232.8,152.9 235.4,157.2 237.4,156.0ZM196.4,359.8 197.9,361.6 201.7,358.4 200.3,356.6ZM197.9,361.6 199.5,363.5 203.3,360.2 201.7,358.4ZM221.4,364.5 224.7,367.3 227.8,363.6 224.7,360.8ZM234.4,368.7 237.8,371.1 240.6,367.0 237.3,364.7ZM259.8,382.8 263.7,384.3 265.4,379.7 261.7,378.2ZM269.2,381.0 273.0,382.1 274.3,377.4 270.7,376.3ZM362.5,365.0 365.7,362.9 363.0,358.9 359.9,360.9ZM374.9,356.0 377.7,353.5 374.5,349.9 371.7,352.3ZM278.0,378.4 281.7,379.3 282.8,374.5 279.2,373.7ZM368.9,354.6 371.7,352.3 368.6,348.6 365.9,350.8ZM371.7,352.3 374.5,349.9 371.2,346.3 368.6,348.6ZM368.6,348.6 371.2,346.3 368.0,342.7 365.5,344.9ZM365.5,344.9 368.0,342.7 364.7,339.1 362.4,341.2ZM288.0,365.6 291.3,366.1 292.0,361.4 288.9,360.9ZM359.9,343.1 362.4,341.2 359.3,337.5 357.0,339.3ZM292.0,361.4 295.1,361.7 295.6,356.9 292.6,356.6ZM349.7,344.5 352.1,342.8 349.5,338.9 347.1,340.4ZM352.1,342.8 354.6,341.1 351.8,337.2 349.5,338.9ZM295.6,356.9 298.6,357.2 298.9,352.4 296.1,352.2ZM326.7,349.5 329.3,348.7 327.9,344.1 325.3,344.9ZM298.9,352.4 301.7,352.6 301.9,347.8 299.2,347.6ZM301.9,347.8 304.5,347.8 304.5,343.0 302.0,343.0ZM307.0,343.0 309.4,342.9 309.1,338.1 306.8,338.2ZM319.2,341.5 321.6,340.9 320.5,336.3 318.2,336.8ZM309.1,338.1 311.4,337.9 310.9,333.2 308.8,333.3ZM311.4,337.9 313.7,337.6 313.0,332.9 310.9,333.2ZM313.7,337.6 316.0,337.3 315.1,332.6 313.0,332.9ZM316.0,337.3 318.2,336.8 317.2,332.2 315.1,332.6ZM310.9,333.2 313.0,332.9 312.4,328.2 310.4,328.4ZM313.0,332.9 315.1,332.6 314.3,327.9 312.4,328.2ZM315.1,332.6 317.2,332.2 316.3,327.5 314.3,327.9Z"/>
<path fill="#ff7100" stroke="#ff7100" stroke-width="0.6" d="M176.7,448.1 179.8,450.3 182.9,445.8 179.9,443.6ZM179.8,450.3 183.0,452.4 186.0,447.9 182.9,445.8ZM183.0,452.4 186.1,454.5 189.1,449.9 186.0,447.9ZM186.1,454.5 189.3,456.5 192.2,451.9 189.1,449.9ZM189.3,456.5 192.5,458.5 195.4,453.9 192.2,451.9ZM192.5,458.5 195.8,460.4 198.5,455.7 195.4,453.9ZM195.8,460.4 199.1,462.3 201.8,457.6 198.5,455.7ZM199.1,462.3 202.5,464.1 205.0,459.3 201.8,457.6ZM202.5,464.1 205.8,465.9 208.3,461.0 205.0,459.3ZM205.8,465.9 209.2,467.6 211.6,462.7 208.3,461.0ZM209.2,467.6 212.6,469.2 214.9,464.3 211.6,462.7ZM244.6,481.1 248.2,482.2 249.7,476.9 246.1,475.9ZM248.2,482.2 251.9,483.1 253.2,477.8 249.7,476.9ZM251.9,483.1 255.6,484.0 256.8,478.7 253.2,477.8ZM255.6,484.0 259.3,484.8 260.4,479.5 256.8,478.7ZM259.3,484.8 263.0,485.6 264.1,480.2 260.4,479.5ZM263.0,485.6 266.8,486.3 267.7,480.9 264.1,480.2ZM266.8,486.3 270.5,486.9 271.3,481.5 267.7,480.9ZM270.5,486.9 274.2,487.5 275.0,482.1 271.3,481.5ZM274.2,487.5 278.0,487.9 278.7,482.5 275.0,482.1ZM286.0,483.3 289.7,483.6 290.1,478.2 286.5,477.9ZM289.7,483.6 293.4,483.8 293.7,478.4 290.1,478.2ZM293.4,483.8 297.1,484.0 297.3,478.6 293.7,478.4ZM297.1,484.0 300.8,484.1 300.9,478.7 297.3,478.6Z"/>
<path fill="#00f7a1" stroke="#00f7a1" stroke-width="0.6" d="M432.0,103.0 429.1,100.8 425.9,105.1 428.8,107.3ZM429.1,100.8 426.1,98.6 423.0,103.0 425.9,105.1ZM135.3,399.7 137.5,402.7 141.8,399.3 139.6,396.5ZM144.6,411.2 147.0,414.0 151.0,410.4 148.6,407.7ZM434.5,111.7 431.6,109.5 428.3,113.7 431.1,115.9ZM420.0,101.0 417.0,99.0 414.1,103.5 417.0,105.4ZM414.1,103.5 411.1,101.6 408.3,106.1 411.1,108.0ZM411.1,101.6 408.1,99.8 405.4,104.4 408.3,106.1ZM402.4,102.6 399.4,100.9 396.9,105.6 399.8,107.2ZM399.4,100.9 396.4,99.3 393.9,104.0 396.9,105.6ZM396.4,99.3 393.4,97.7 391.0,102.4 393.9,104.0ZM393.4,97.7 390.3,96.2 388.0,101.0 391.0,102.4ZM390.3,96.2 387.3,94.7 385.0,99.5 388.0,101.0ZM133.2,367.1 134.9,370.1 139.5,367.5 137.9,364.6ZM134.9,370.1 136.7,373.1 141.2,370.3 139.5,367.5ZM385.0,99.5 382.0,98.2 379.8,103.0 382.8,104.3ZM115.8,298.7 116.3,302.0 121.5,301.2 121.1,298.0ZM116.3,302.0 116.9,305.3 122.1,304.4 121.5,301.2ZM116.9,305.3 117.5,308.6 122.7,307.5 122.1,304.4ZM117.5,308.6 118.1,311.8 123.3,310.7 122.7,307.5ZM379.8,103.0 376.9,101.7 374.8,106.5 377.7,107.8ZM376.9,101.7 373.9,100.4 371.9,105.3 374.8,106.5ZM371.9,105.3 369.0,104.1 367.1,109.0 370.0,110.1ZM367.1,109.0 364.3,107.9 362.5,112.8 365.3,113.8ZM359.7,111.8 356.9,110.9 355.3,115.8 358.1,116.7ZM352.6,114.9 349.8,114.1 348.4,119.0 351.1,119.8ZM349.8,114.1 347.1,113.3 345.7,118.3 348.4,119.0ZM171.4,368.9 173.1,371.2 177.2,368.1 175.6,365.9ZM340.3,116.9 337.6,116.3 336.6,121.3 339.2,121.9ZM337.6,116.3 334.9,115.8 333.9,120.8 336.6,121.3ZM334.9,115.8 332.2,115.3 331.3,120.3 333.9,120.8ZM174.0,363.6 175.6,365.9 179.7,362.9 178.1,360.7ZM331.3,120.3 328.6,119.8 327.8,124.8 330.4,125.3ZM328.6,119.8 326.0,119.4 325.3,124.5 327.8,124.8ZM326.0,119.4 323.3,119.1 322.7,124.1 325.3,124.5ZM176.6,358.5 178.1,360.7 182.3,357.8 180.8,355.6ZM325.3,124.5 322.7,124.1 322.1,129.1 324.6,129.4ZM322.7,124.1 320.1,123.8 319.6,128.8 322.1,129.1ZM320.1,123.8 317.5,123.6 317.1,128.6 319.6,128.8ZM317.5,123.6 314.9,123.4 314.6,128.4 317.1,128.6ZM314.9,123.4 312.3,123.2 312.0,128.2 314.6,128.4ZM312.3,123.2 309.7,123.1 309.5,128.1 312.0,128.2ZM309.7,123.1 307.1,123.0 307.0,128.1 309.5,128.1ZM307.1,123.0 304.5,123.0 304.5,128.0 307.0,128.1ZM269.6,132.3 267.2,133.0 268.5,137.8 270.8,137.2ZM267.2,133.0 264.8,133.6 266.1,138.5 268.5,137.8ZM264.8,133.6 262.4,134.3 263.8,139.1 266.1,138.5ZM185.0,352.8 186.4,354.9 190.5,352.0 189.2,350.0ZM193.4,355.9 194.9,357.9 198.8,354.8 197.4,352.9ZM194.9,357.9 196.4,359.8 200.3,356.6 198.8,354.8ZM227.8,363.6 231.1,366.2 234.1,362.3 231.0,359.8ZM231.1,366.2 234.4,368.7 237.3,364.7 234.1,362.3ZM256.0,381.2 259.8,382.8 261.7,378.2 258.0,376.7ZM365.1,369.2 368.4,367.0 365.7,362.9 362.5,365.0ZM265.4,379.7 269.2,381.0 270.7,376.3 267.1,375.1ZM371.9,358.5 374.9,356.0 371.7,352.3 368.9,354.6ZM377.7,353.5 380.5,350.9 377.1,347.4 374.5,349.9ZM274.3,377.4 278.0,378.4 279.2,373.7 275.7,372.7ZM374.5,349.9 377.1,347.4 373.8,343.9 371.2,346.3ZM282.8,374.5 286.3,375.2 287.2,370.4 283.8,369.7ZM371.2,346.3 373.8,343.9 370.4,340.4 368.0,342.7ZM283.8,369.7 287.2,370.4 288.0,365.6 284.8,365.0ZM368.0,342.7 370.4,340.4 367.0,337.0 364.7,339.1ZM362.4,341.2 364.7,339.1 361.5,335.5 359.3,337.5ZM354.6,341.1 357.0,339.3 354.0,335.6 351.8,337.2ZM357.0,339.3 359.3,337.5 356.2,333.8 354.0,335.6ZM329.3,348.7 332.0,347.8 330.4,343.3 327.9,344.1ZM332.0,347.8 334.6,346.7 332.8,342.3 330.4,343.3ZM322.8,345.6 325.3,344.9 324.0,340.3 321.6,340.9ZM304.5,343.0 307.0,343.0 306.8,338.2 304.5,338.3ZM306.8,338.2 309.1,338.1 308.8,333.3 306.6,333.5ZM318.2,336.8 320.5,336.3 319.3,331.7 317.2,332.2ZM308.8,333.3 310.9,333.2 310.4,328.4 308.4,328.6ZM317.2,332.2 319.3,331.7 318.2,327.1 316.3,327.5Z"/>
<path fill="#00f8b3" stroke="#00f8b3" stroke-width="0.6" d="M137.5,402.7 139.8,405.6 144.0,402.2 141.8,399.3ZM142.2,408.4 144.6,411.2 148.6,407.7 146.3,404.9ZM431.6,109.5 428.8,107.3 425.6,111.6 428.3,113.7ZM428.8,107.3 425.9,105.1 422.7,109.5 425.6,111.6ZM425.9,105.1 423.0,103.0 419.9,107.4 422.7,109.5ZM423.0,103.0 420.0,101.0 417.0,105.4 419.9,107.4ZM137.4,393.6 139.6,396.5 143.9,393.3 141.8,390.4ZM148.6,407.7 151.0,410.4 155.0,406.8 152.7,404.2ZM436.5,120.4 433.8,118.1 430.4,122.2 433.0,124.4ZM433.8,118.1 431.1,115.9 427.7,120.0 430.4,122.2ZM431.1,115.9 428.3,113.7 425.1,117.9 427.7,120.0ZM417.0,105.4 414.1,103.5 411.1,108.0 414.0,109.9ZM135.8,381.8 137.7,384.7 142.2,381.7 140.3,378.8ZM137.7,384.7 139.7,387.6 144.1,384.5 142.2,381.7ZM150.4,401.5 152.7,404.2 156.7,400.7 154.5,398.1ZM411.1,108.0 408.3,106.1 405.5,110.6 408.3,112.4ZM408.3,106.1 405.4,104.4 402.6,108.9 405.5,110.6ZM405.4,104.4 402.4,102.6 399.8,107.2 402.6,108.9ZM136.7,373.1 138.4,376.0 142.9,373.2 141.2,370.3ZM152.3,395.4 154.5,398.1 158.6,394.7 156.4,392.1ZM399.8,107.2 396.9,105.6 394.3,110.2 397.1,111.8ZM396.9,105.6 393.9,104.0 391.5,108.6 394.3,110.2ZM393.9,104.0 391.0,102.4 388.6,107.1 391.5,108.6ZM391.0,102.4 388.0,101.0 385.7,105.7 388.6,107.1ZM388.0,101.0 385.0,99.5 382.8,104.3 385.7,105.7ZM154.4,389.5 156.4,392.1 160.5,388.8 158.5,386.3ZM382.8,104.3 379.8,103.0 377.7,107.8 380.6,109.1ZM120.6,294.8 121.1,298.0 126.2,297.3 125.8,294.1ZM121.1,298.0 121.5,301.2 126.7,300.4 126.2,297.3ZM121.5,301.2 122.1,304.4 127.2,303.5 126.7,300.4ZM156.6,383.7 158.5,386.3 162.6,383.0 160.7,380.5ZM377.7,107.8 374.8,106.5 372.8,111.3 375.6,112.5ZM160.7,380.5 162.6,383.0 166.8,379.8 164.9,377.4ZM370.0,110.1 367.1,109.0 365.3,113.8 368.0,114.9ZM164.9,377.4 166.8,379.8 170.8,376.6 169.0,374.3ZM362.5,112.8 359.7,111.8 358.1,116.7 360.8,117.6ZM169.0,374.3 170.8,376.6 174.9,373.5 173.1,371.2ZM358.1,116.7 355.3,115.8 353.7,120.6 356.4,121.5ZM355.3,115.8 352.6,114.9 351.1,119.8 353.7,120.6ZM348.4,119.0 345.7,118.3 344.4,123.2 347.0,123.9ZM345.7,118.3 343.1,117.6 341.8,122.5 344.4,123.2ZM343.1,117.6 340.3,116.9 339.2,121.9 341.8,122.5ZM336.6,121.3 333.9,120.8 333.0,125.7 335.5,126.3ZM333.9,120.8 331.3,120.3 330.4,125.3 333.0,125.7ZM330.4,125.3 327.8,124.8 327.1,129.8 329.5,130.2ZM327.8,124.8 325.3,124.5 324.6,129.4 327.1,129.8ZM179.4,353.5 180.8,355.6 185.0,352.8 183.6,350.7ZM302.0,128.1 299.5,128.1 299.6,133.1 302.1,133.1ZM299.5,128.1 297.0,128.2 297.2,133.3 299.6,133.1ZM297.0,128.2 294.4,128.4 294.8,133.4 297.2,133.3ZM294.4,128.4 291.9,128.6 292.4,133.6 294.8,133.4ZM291.9,128.6 289.4,128.8 290.0,133.8 292.4,133.6ZM289.4,128.8 286.9,129.1 287.5,134.1 290.0,133.8ZM286.9,129.1 284.4,129.4 285.1,134.4 287.5,134.1ZM284.4,129.4 281.9,129.8 282.7,134.8 285.1,134.4ZM281.9,129.8 279.5,130.2 280.3,135.2 282.7,134.8ZM279.5,130.2 277.0,130.7 278.0,135.6 280.3,135.2ZM277.0,130.7 274.5,131.2 275.6,136.1 278.0,135.6ZM274.5,131.2 272.1,131.7 273.2,136.6 275.6,136.1ZM272.1,131.7 269.6,132.3 270.8,137.2 273.2,136.6ZM183.6,350.7 185.0,352.8 189.2,350.0 187.8,348.0ZM190.5,352.0 191.9,354.0 196.0,351.0 194.6,349.1ZM191.9,354.0 193.4,355.9 197.4,352.9 196.0,351.0ZM201.7,358.4 204.8,362.0 208.5,358.6 205.6,355.2ZM376.7,379.3 380.4,376.7 377.5,372.7 374.0,375.2ZM367.7,373.3 371.2,371.1 368.4,367.0 365.1,369.2ZM224.7,360.8 227.8,363.6 231.0,359.8 228.0,357.2ZM244.9,375.5 248.5,377.5 250.8,373.2 247.3,371.2ZM252.2,379.4 256.0,381.2 258.0,376.7 254.4,375.0ZM374.9,362.3 378.0,359.8 374.9,356.0 371.9,358.5ZM378.0,359.8 381.0,357.2 377.7,353.5 374.9,356.0ZM381.0,357.2 383.9,354.5 380.5,350.9 377.7,353.5ZM380.5,350.9 383.2,348.2 379.7,344.8 377.1,347.4ZM270.7,376.3 274.3,377.4 275.7,372.7 272.2,371.7ZM377.1,347.4 379.7,344.8 376.2,341.5 373.8,343.9ZM279.2,373.7 282.8,374.5 283.8,369.7 280.4,369.0ZM373.8,343.9 376.2,341.5 372.7,338.1 370.4,340.4ZM370.4,340.4 372.7,338.1 369.3,334.7 367.0,337.0ZM364.7,339.1 367.0,337.0 363.7,333.5 361.5,335.5ZM367.0,337.0 369.3,334.7 365.8,331.4 363.7,333.5ZM359.3,337.5 361.5,335.5 358.3,332.0 356.2,333.8ZM361.5,335.5 363.7,333.5 360.4,330.0 358.3,332.0ZM334.6,346.7 337.2,345.7 335.3,341.3 332.8,342.3ZM337.2,345.7 339.7,344.5 337.6,340.2 335.3,341.3ZM339.7,344.5 342.2,343.2 340.0,339.0 337.6,340.2ZM342.2,343.2 344.7,341.8 342.3,337.7 340.0,339.0ZM344.7,341.8 347.1,340.4 344.6,336.3 342.3,337.7ZM347.1,340.4 349.5,338.9 346.8,334.9 344.6,336.3ZM299.2,347.6 301.9,347.8 302.0,343.0 299.6,342.9ZM321.6,340.9 324.0,340.3 322.7,335.7 320.5,336.3ZM302.0,343.0 304.5,343.0 304.5,338.3 302.2,338.2ZM304.5,338.3 306.8,338.2 306.6,333.5 304.5,333.5ZM306.6,333.5 308.8,333.3 308.4,328.6 306.5,328.7ZM310.4,328.4 312.4,328.2 311.7,323.5 309.9,323.7ZM312.4,328.2 314.3,327.9 313.5,323.2 311.7,323.5Z"/>
<path fill="#00fac4" stroke="#00fac4" stroke-width="0.6" d="M139.8,405.6 142.2,408.4 146.3,404.9 144.0,402.2ZM139.6,396.5 141.8,399.3 146.0,396.0 143.9,393.3ZM146.3,404.9 148.6,407.7 152.7,404.2 150.4,401.5ZM428.3,113.7 425.6,111.6 422.3,115.8 425.1,117.9ZM419.9,107.4 417.0,105.4 414.0,109.9 416.8,111.8ZM139.7,387.6 141.8,390.4 146.1,387.3 144.1,384.5ZM141.8,390.4 143.9,393.3 148.1,390.0 146.1,387.3ZM148.2,398.8 150.4,401.5 154.5,398.1 152.3,395.4ZM414.0,109.9 411.1,108.0 408.3,112.4 411.0,114.3ZM138.4,376.0 140.3,378.8 144.7,376.0 142.9,373.2ZM140.3,378.8 142.2,381.7 146.6,378.7 144.7,376.0ZM150.2,392.8 152.3,395.4 156.4,392.1 154.4,389.5ZM408.3,112.4 405.5,110.6 402.7,115.1 405.4,116.8ZM405.5,110.6 402.6,108.9 399.9,113.4 402.7,115.1ZM402.6,108.9 399.8,107.2 397.1,111.8 399.9,113.4ZM137.9,364.6 139.5,367.5 144.1,364.8 142.5,362.0ZM139.5,367.5 141.2,370.3 145.7,367.6 144.1,364.8ZM152.3,386.9 154.4,389.5 158.5,386.3 156.6,383.7ZM388.6,107.1 385.7,105.7 383.4,110.4 386.2,111.8ZM385.7,105.7 382.8,104.3 380.6,109.1 383.4,110.4ZM122.1,304.4 122.7,307.5 127.8,306.5 127.2,303.5ZM122.7,307.5 123.3,310.7 128.4,309.6 127.8,306.5ZM380.6,109.1 377.7,107.8 375.6,112.5 378.4,113.8ZM375.6,112.5 372.8,111.3 370.8,116.1 373.5,117.2ZM167.3,371.9 169.0,374.3 173.1,371.2 171.4,368.9ZM169.8,366.5 171.4,368.9 175.6,365.9 174.0,363.6ZM353.7,120.6 351.1,119.8 349.6,124.7 352.2,125.5ZM351.1,119.8 348.4,119.0 347.0,123.9 349.6,124.7ZM172.4,361.3 174.0,363.6 178.1,360.7 176.6,358.5ZM341.8,122.5 339.2,121.9 338.1,126.8 340.6,127.4ZM339.2,121.9 336.6,121.3 335.5,126.3 338.1,126.8ZM175.1,356.2 176.6,358.5 180.8,355.6 179.4,353.5ZM333.0,125.7 330.4,125.3 329.5,130.2 332.0,130.7ZM327.1,129.8 324.6,129.4 323.9,134.4 326.3,134.8ZM324.6,129.4 322.1,129.1 321.5,134.1 323.9,134.4ZM322.1,129.1 319.6,128.8 319.0,133.8 321.5,134.1ZM319.6,128.8 317.1,128.6 316.6,133.6 319.0,133.8ZM317.1,128.6 314.6,128.4 314.2,133.4 316.6,133.6ZM314.6,128.4 312.0,128.2 311.8,133.3 314.2,133.4ZM312.0,128.2 309.5,128.1 309.4,133.1 311.8,133.3ZM309.5,128.1 307.0,128.1 306.9,133.1 309.4,133.1ZM307.0,128.1 304.5,128.0 304.5,133.1 306.9,133.1ZM304.5,128.0 302.0,128.1 302.1,133.1 304.5,133.1ZM189.2,350.0 190.5,352.0 194.6,349.1 193.3,347.2ZM198.8,354.8 201.7,358.4 205.6,355.2 202.7,351.7ZM380.4,376.7 384.0,374.0 381.0,370.1 377.5,372.7ZM371.2,371.1 374.6,368.7 371.7,364.7 368.4,367.0ZM377.9,366.2 381.2,363.6 378.0,359.8 374.9,362.3ZM381.2,363.6 384.3,360.8 381.0,357.2 378.0,359.8ZM384.3,360.8 387.4,358.0 383.9,354.5 381.0,357.2ZM248.5,377.5 252.2,379.4 254.4,375.0 250.8,373.2ZM368.4,367.0 371.7,364.7 368.8,360.8 365.7,362.9ZM371.7,364.7 374.9,362.3 371.9,358.5 368.8,360.8ZM383.9,354.5 386.8,351.6 383.2,348.2 380.5,350.9ZM261.7,378.2 265.4,379.7 267.1,375.1 263.5,373.7ZM383.2,348.2 385.8,345.4 382.2,342.2 379.7,344.8ZM379.7,344.8 382.2,342.2 378.6,338.9 376.2,341.5ZM275.7,372.7 279.2,373.7 280.4,369.0 277.0,368.0ZM376.2,341.5 378.6,338.9 375.0,335.7 372.7,338.1ZM280.4,369.0 283.8,369.7 284.8,365.0 281.6,364.2ZM372.7,338.1 375.0,335.7 371.4,332.4 369.3,334.7ZM284.8,365.0 288.0,365.6 288.9,360.9 285.8,360.3ZM369.3,334.7 371.4,332.4 367.8,329.2 365.8,331.4ZM288.9,360.9 292.0,361.4 292.6,356.6 289.7,356.1ZM363.7,333.5 365.8,331.4 362.3,328.1 360.4,330.0ZM292.6,356.6 295.6,356.9 296.1,352.2 293.3,351.8ZM349.5,338.9 351.8,337.2 348.9,333.4 346.8,334.9ZM351.8,337.2 354.0,335.6 351.1,331.8 348.9,333.4ZM354.0,335.6 356.2,333.8 353.1,330.1 351.1,331.8ZM296.1,352.2 298.9,352.4 299.2,347.6 296.6,347.4ZM325.3,344.9 327.9,344.1 326.4,339.6 324.0,340.3ZM320.5,336.3 322.7,335.7 321.4,331.1 319.3,331.7ZM304.5,333.5 306.6,333.5 306.5,328.7 304.5,328.7ZM319.3,331.7 321.4,331.1 320.1,326.6 318.2,327.1ZM308.4,328.6 310.4,328.4 309.9,323.7 308.1,323.9ZM314.3,327.9 316.3,327.5 315.3,322.9 313.5,323.2Z"/>
<path fill="#00fbd6" stroke="#00fbd6" stroke-width="0.6" d="M141.8,399.3 144.0,402.2 148.2,398.8 146.0,396.0ZM144.0,402.2 146.3,404.9 150.4,401.5 148.2,398.8ZM425.6,111.6 422.7,109.5 419.6,113.8 422.3,115.8ZM422.7,109.5 419.9,107.4 416.8,111.8 419.6,113.8ZM143.9,393.3 146.0,396.0 150.2,392.8 148.1,390.0ZM146.0,396.0 148.2,398.8 152.3,395.4 150.2,392.8ZM433.0,124.4 430.4,122.2 427.0,126.3 429.5,128.4ZM430.4,122.2 427.7,120.0 424.4,124.1 427.0,126.3ZM427.7,120.0 425.1,117.9 421.8,122.1 424.4,124.1ZM416.8,111.8 414.0,109.9 411.0,114.3 413.8,116.1ZM142.2,381.7 144.1,384.5 148.4,381.5 146.6,378.7ZM144.1,384.5 146.1,387.3 150.4,384.2 148.4,381.5ZM146.1,387.3 148.1,390.0 152.3,386.9 150.4,384.2ZM148.1,390.0 150.2,392.8 154.4,389.5 152.3,386.9ZM411.0,114.3 408.3,112.4 405.4,116.8 408.1,118.6ZM141.2,370.3 142.9,373.2 147.4,370.4 145.7,367.6ZM142.9,373.2 144.7,376.0 149.1,373.1 147.4,370.4ZM150.4,384.2 152.3,386.9 156.6,383.7 154.6,381.1ZM405.4,116.8 402.7,115.1 399.9,119.5 402.5,121.2ZM402.7,115.1 399.9,113.4 397.2,117.9 399.9,119.5ZM399.9,113.4 397.1,111.8 394.5,116.3 397.2,117.9ZM397.1,111.8 394.3,110.2 391.8,114.8 394.5,116.3ZM394.3,110.2 391.5,108.6 389.0,113.3 391.8,114.8ZM391.5,108.6 388.6,107.1 386.2,111.8 389.0,113.3ZM154.6,381.1 156.6,383.7 160.7,380.5 158.9,378.0ZM389.0,113.3 386.2,111.8 383.9,116.4 386.6,117.9ZM386.2,111.8 383.4,110.4 381.1,115.1 383.9,116.4ZM383.4,110.4 380.6,109.1 378.4,113.8 381.1,115.1ZM125.8,294.1 126.2,297.3 131.4,296.5 131.0,293.5ZM126.2,297.3 126.7,300.4 131.8,299.5 131.4,296.5ZM126.7,300.4 127.2,303.5 132.3,302.6 131.8,299.5ZM127.2,303.5 127.8,306.5 132.9,305.6 132.3,302.6ZM127.8,306.5 128.4,309.6 133.5,308.5 132.9,305.6ZM128.4,309.6 129.1,312.7 134.2,311.5 133.5,308.5ZM158.9,378.0 160.7,380.5 164.9,377.4 163.1,374.9ZM381.1,115.1 378.4,113.8 376.2,118.5 378.9,119.7ZM378.4,113.8 375.6,112.5 373.5,117.2 376.2,118.5ZM129.8,278.3 129.9,281.3 135.1,281.1 135.0,278.1ZM129.9,281.3 130.1,284.4 135.3,284.0 135.1,281.1ZM130.1,284.4 130.4,287.4 135.5,287.0 135.3,284.0ZM163.1,374.9 164.9,377.4 169.0,374.3 167.3,371.9ZM376.2,118.5 373.5,117.2 371.4,121.9 374.0,123.1ZM373.5,117.2 370.8,116.1 368.8,120.8 371.4,121.9ZM165.5,369.5 167.3,371.9 171.4,368.9 169.8,366.5ZM368.8,120.8 366.1,119.7 364.2,124.4 366.8,125.5ZM168.1,364.2 169.8,366.5 174.0,363.6 172.4,361.3ZM356.4,121.5 353.7,120.6 352.2,125.5 354.7,126.3ZM170.8,359.0 172.4,361.3 176.6,358.5 175.1,356.2ZM347.0,123.9 344.4,123.2 343.1,128.1 345.6,128.8ZM344.4,123.2 341.8,122.5 340.6,127.4 343.1,128.1ZM335.5,126.3 333.0,125.7 332.0,130.7 334.5,131.2ZM178.0,351.3 179.4,353.5 183.6,350.7 182.2,348.6ZM329.5,130.2 327.1,129.8 326.3,134.8 328.7,135.2ZM182.2,348.6 183.6,350.7 187.8,348.0 186.5,345.9ZM186.5,345.9 187.8,348.0 192.0,345.3 190.7,343.3ZM187.8,348.0 189.2,350.0 193.3,347.2 192.0,345.3ZM196.0,351.0 198.8,354.8 202.7,351.7 200.0,348.1ZM374.0,375.2 377.5,372.7 374.6,368.7 371.2,371.1ZM377.5,372.7 381.0,370.1 377.9,366.2 374.6,368.7ZM381.0,370.1 384.3,367.3 381.2,363.6 377.9,366.2ZM384.3,367.3 387.6,364.5 384.3,360.8 381.2,363.6ZM374.6,368.7 377.9,366.2 374.9,362.3 371.7,364.7ZM386.8,351.6 389.5,348.7 385.8,345.4 383.2,348.2ZM237.3,364.7 240.6,367.0 243.3,362.9 240.2,360.8ZM240.6,367.0 243.9,369.2 246.5,365.0 243.3,362.9ZM385.8,345.4 388.3,342.6 384.6,339.4 382.2,342.2ZM267.1,375.1 270.7,376.3 272.2,371.7 268.7,370.5ZM382.2,342.2 384.6,339.4 380.9,336.3 378.6,338.9ZM272.2,371.7 275.7,372.7 277.0,368.0 273.7,367.0ZM378.6,338.9 380.9,336.3 377.2,333.2 375.0,335.7ZM375.0,335.7 377.2,333.2 373.5,330.1 371.4,332.4ZM365.8,331.4 367.8,329.2 364.3,326.0 362.3,328.1ZM356.2,333.8 358.3,332.0 355.1,328.4 353.1,330.1ZM358.3,332.0 360.4,330.0 357.0,326.6 355.1,328.4ZM360.4,330.0 362.3,328.1 358.9,324.7 357.0,326.6ZM362.3,328.1 364.3,326.0 360.7,322.8 358.9,324.7ZM296.6,347.4 299.2,347.6 299.6,342.9 297.1,342.6ZM299.6,342.9 302.0,343.0 302.2,338.2 299.9,338.1ZM302.2,338.2 304.5,338.3 304.5,333.5 302.4,333.5ZM306.5,328.7 308.4,328.6 308.1,323.9 306.3,324.0ZM316.3,327.5 318.2,327.1 317.0,322.5 315.3,322.9Z"/>
<path fill="#00fde7" stroke="#00fde7" stroke-width="0.6" d="M425.1,117.9 422.3,115.8 419.2,120.0 421.8,122.1ZM422.3,115.8 419.6,113.8 416.5,118.1 419.2,120.0ZM419.6,113.8 416.8,111.8 413.8,116.1 416.5,118.1ZM416.5,118.1 413.8,116.1 410.8,120.5 413.4,122.3ZM413.8,116.1 411.0,114.3 408.1,118.6 410.8,120.5ZM144.7,376.0 146.6,378.7 150.9,375.8 149.1,373.1ZM146.6,378.7 148.4,381.5 152.8,378.5 150.9,375.8ZM148.4,381.5 150.4,384.2 154.6,381.1 152.8,378.5ZM410.8,120.5 408.1,118.6 405.2,123.0 407.8,124.7ZM408.1,118.6 405.4,116.8 402.5,121.2 405.2,123.0ZM152.8,378.5 154.6,381.1 158.9,378.0 157.0,375.5ZM399.9,119.5 397.2,117.9 394.5,122.4 397.1,124.0ZM397.2,117.9 394.5,116.3 391.9,120.8 394.5,122.4ZM394.5,116.3 391.8,114.8 389.2,119.3 391.9,120.8ZM391.8,114.8 389.0,113.3 386.6,117.9 389.2,119.3ZM157.0,375.5 158.9,378.0 163.1,374.9 161.3,372.5ZM389.2,119.3 386.6,117.9 384.1,122.4 386.7,123.8ZM386.6,117.9 383.9,116.4 381.5,121.1 384.1,122.4ZM383.9,116.4 381.1,115.1 378.9,119.7 381.5,121.1ZM131.0,293.5 131.4,296.5 136.5,295.8 136.1,292.9ZM131.4,296.5 131.8,299.5 137.0,298.7 136.5,295.8ZM161.3,372.5 163.1,374.9 167.3,371.9 165.5,369.5ZM381.5,121.1 378.9,119.7 376.6,124.4 379.2,125.6ZM378.9,119.7 376.2,118.5 374.0,123.1 376.6,124.4ZM134.9,275.2 135.0,278.1 140.1,277.9 140.0,275.1ZM135.0,278.1 135.1,281.1 140.2,280.8 140.1,277.9ZM135.1,281.1 135.3,284.0 140.4,283.7 140.2,280.8ZM163.9,367.1 165.5,369.5 169.8,366.5 168.1,364.2ZM374.0,123.1 371.4,121.9 369.3,126.6 371.8,127.8ZM371.4,121.9 368.8,120.8 366.8,125.5 369.3,126.6ZM140.2,263.6 140.1,266.5 145.2,266.6 145.4,263.9ZM140.1,266.5 140.0,269.3 145.2,269.4 145.2,266.6ZM369.3,126.6 366.8,125.5 364.8,130.2 367.2,131.3ZM366.8,125.5 364.2,124.4 362.3,129.2 364.8,130.2ZM364.2,124.4 361.6,123.4 359.8,128.2 362.3,129.2ZM352.2,125.5 349.6,124.7 348.1,129.5 350.6,130.3ZM349.6,124.7 347.0,123.9 345.6,128.8 348.1,129.5ZM173.7,354.0 175.1,356.2 179.4,353.5 178.0,351.3ZM340.6,127.4 338.1,126.8 336.9,131.7 339.4,132.3ZM338.1,126.8 335.5,126.3 334.5,131.2 336.9,131.7ZM332.0,130.7 329.5,130.2 328.7,135.2 331.0,135.6ZM180.9,346.4 182.2,348.6 186.5,345.9 185.2,343.9ZM321.5,134.1 319.0,133.8 318.5,138.8 320.8,139.1ZM319.0,133.8 316.6,133.6 316.2,138.6 318.5,138.8ZM316.6,133.6 314.2,133.4 313.9,138.4 316.2,138.6ZM314.2,133.4 311.8,133.3 311.5,138.2 313.9,138.4ZM311.8,133.3 309.4,133.1 309.2,138.1 311.5,138.2ZM309.4,133.1 306.9,133.1 306.8,138.1 309.2,138.1ZM306.9,133.1 304.5,133.1 304.5,138.1 306.8,138.1ZM304.5,133.1 302.1,133.1 302.2,138.1 304.5,138.1ZM302.1,133.1 299.6,133.1 299.8,138.1 302.2,138.1ZM299.6,133.1 297.2,133.3 297.5,138.2 299.8,138.1ZM297.2,133.3 294.8,133.4 295.1,138.4 297.5,138.2ZM294.8,133.4 292.4,133.6 292.8,138.6 295.1,138.4ZM273.2,136.6 270.8,137.2 272.0,142.0 274.3,141.5ZM270.8,137.2 268.5,137.8 269.8,142.6 272.0,142.0ZM268.5,137.8 266.1,138.5 267.5,143.3 269.8,142.6ZM185.2,343.9 186.5,345.9 190.7,343.3 189.5,341.3ZM193.3,347.2 196.0,351.0 200.0,348.1 197.4,344.4ZM202.7,351.7 205.6,355.2 209.4,352.0 206.6,348.7ZM258.0,376.7 261.7,378.2 263.5,373.7 260.0,372.2ZM384.6,339.4 386.9,336.6 383.1,333.6 380.9,336.3ZM380.9,336.3 383.1,333.6 379.3,330.6 377.2,333.2ZM277.0,368.0 280.4,369.0 281.6,364.2 278.4,363.4ZM377.2,333.2 379.3,330.6 375.4,327.6 373.5,330.1ZM371.4,332.4 373.5,330.1 369.8,327.0 367.8,329.2ZM367.8,329.2 369.8,327.0 366.1,323.9 364.3,326.0ZM289.7,356.1 292.6,356.6 293.3,351.8 290.5,351.4ZM293.3,351.8 296.1,352.2 296.6,347.4 294.0,347.1ZM327.9,344.1 330.4,343.3 328.7,338.8 326.4,339.6ZM324.0,340.3 326.4,339.6 324.9,335.0 322.7,335.7ZM322.7,335.7 324.9,335.0 323.4,330.5 321.4,331.1ZM321.4,331.1 323.4,330.5 322.0,326.0 320.1,326.6ZM302.4,333.5 304.5,333.5 304.5,328.7 302.5,328.7ZM318.2,327.1 320.1,326.6 318.8,322.0 317.0,322.5ZM308.1,323.9 309.9,323.7 309.4,319.0 307.8,319.2ZM309.9,323.7 311.7,323.5 311.1,318.8 309.4,319.0ZM311.7,323.5 313.5,323.2 312.7,318.6 311.1,318.8Z"/>
<path fill="#00fef8" stroke="#00fef8" stroke-width="0.6" d="M427.0,126.3 424.4,124.1 421.1,128.2 423.6,130.3ZM424.4,124.1 421.8,122.1 418.6,126.2 421.1,128.2ZM421.8,122.1 419.2,120.0 416.0,124.3 418.6,126.2ZM419.2,120.0 416.5,118.1 413.4,122.3 416.0,124.3ZM413.4,122.3 410.8,120.5 407.8,124.7 410.3,126.6ZM147.4,370.4 149.1,373.1 153.5,370.2 151.8,367.6ZM149.1,373.1 150.9,375.8 155.3,372.9 153.5,370.2ZM150.9,375.8 152.8,378.5 157.0,375.5 155.3,372.9ZM407.8,124.7 405.2,123.0 402.3,127.3 404.8,129.0ZM405.2,123.0 402.5,121.2 399.7,125.6 402.3,127.3ZM402.5,121.2 399.9,119.5 397.1,124.0 399.7,125.6ZM150.2,364.9 151.8,367.6 156.3,364.8 154.7,362.2ZM151.8,367.6 153.5,370.2 157.9,367.4 156.3,364.8ZM153.5,370.2 155.3,372.9 159.6,370.0 157.9,367.4ZM155.3,372.9 157.0,375.5 161.3,372.5 159.6,370.0ZM399.7,125.6 397.1,124.0 394.4,128.3 396.9,129.9ZM397.1,124.0 394.5,122.4 391.9,126.8 394.4,128.3ZM394.5,122.4 391.9,120.8 389.3,125.3 391.9,126.8ZM391.9,120.8 389.2,119.3 386.7,123.8 389.3,125.3ZM131.8,299.5 132.3,302.6 137.4,301.7 137.0,298.7ZM132.3,302.6 132.9,305.6 138.0,304.6 137.4,301.7ZM132.9,305.6 133.5,308.5 138.6,307.5 138.0,304.6ZM133.5,308.5 134.2,311.5 139.2,310.4 138.6,307.5ZM157.9,367.4 159.6,370.0 163.9,367.1 162.2,364.6ZM159.6,370.0 161.3,372.5 165.5,369.5 163.9,367.1ZM389.3,125.3 386.7,123.8 384.2,128.3 386.7,129.8ZM386.7,123.8 384.1,122.4 381.7,127.0 384.2,128.3ZM384.1,122.4 381.5,121.1 379.2,125.6 381.7,127.0ZM135.3,284.0 135.5,287.0 140.6,286.5 140.4,283.7ZM135.5,287.0 135.8,289.9 140.9,289.4 140.6,286.5ZM135.8,289.9 136.1,292.9 141.2,292.2 140.9,289.4ZM136.1,292.9 136.5,295.8 141.6,295.1 141.2,292.2ZM136.5,295.8 137.0,298.7 142.0,297.9 141.6,295.1ZM137.0,298.7 137.4,301.7 142.5,300.8 142.0,297.9ZM162.2,364.6 163.9,367.1 168.1,364.2 166.6,361.8ZM381.7,127.0 379.2,125.6 376.8,130.2 379.3,131.5ZM379.2,125.6 376.6,124.4 374.4,129.0 376.8,130.2ZM376.6,124.4 374.0,123.1 371.8,127.8 374.4,129.0ZM140.0,269.3 140.0,272.2 145.1,272.2 145.2,269.4ZM140.0,272.2 140.0,275.1 145.2,275.0 145.1,272.2ZM140.0,275.1 140.1,277.9 145.2,277.8 145.2,275.0ZM166.6,361.8 168.1,364.2 172.4,361.3 170.8,359.0ZM374.4,129.0 371.8,127.8 369.7,132.4 372.1,133.5ZM371.8,127.8 369.3,126.6 367.2,131.3 369.7,132.4ZM145.5,261.1 145.4,263.9 150.4,264.1 150.6,261.4ZM145.4,263.9 145.2,266.6 150.3,266.8 150.4,264.1ZM145.2,266.6 145.2,269.4 150.3,269.5 150.3,266.8ZM169.4,356.6 170.8,359.0 175.1,356.2 173.7,354.0ZM369.7,132.4 367.2,131.3 365.2,135.9 367.6,137.0ZM367.2,131.3 364.8,130.2 362.8,134.9 365.2,135.9ZM364.8,130.2 362.3,129.2 360.4,133.9 362.8,134.9ZM362.3,129.2 359.8,128.2 358.0,132.9 360.4,133.9ZM359.8,128.2 357.3,127.2 355.5,132.0 358.0,132.9ZM357.3,127.2 354.7,126.3 353.1,131.1 355.5,132.0ZM151.1,256.1 150.8,258.8 155.9,259.2 156.1,256.6ZM150.8,258.8 150.6,261.4 155.7,261.8 155.9,259.2ZM172.3,351.7 173.7,354.0 178.0,351.3 176.6,349.0ZM367.6,137.0 365.2,135.9 363.1,140.5 365.4,141.5ZM365.2,135.9 362.8,134.9 360.8,139.5 363.1,140.5ZM343.1,128.1 340.6,127.4 339.4,132.3 341.8,133.0ZM176.6,349.0 178.0,351.3 182.2,348.6 180.9,346.4ZM334.5,131.2 332.0,130.7 331.0,135.6 333.4,136.1ZM326.3,134.8 323.9,134.4 323.2,139.4 325.5,139.7ZM323.9,134.4 321.5,134.1 320.8,139.1 323.2,139.4ZM292.4,133.6 290.0,133.8 290.5,138.8 292.8,138.6ZM290.0,133.8 287.5,134.1 288.2,139.1 290.5,138.8ZM287.5,134.1 285.1,134.4 285.8,139.4 288.2,139.1ZM285.1,134.4 282.7,134.8 283.5,139.7 285.8,139.4ZM282.7,134.8 280.3,135.2 281.2,140.1 283.5,139.7ZM280.3,135.2 278.0,135.6 278.9,140.5 281.2,140.1ZM278.0,135.6 275.6,136.1 276.6,141.0 278.9,140.5ZM275.6,136.1 273.2,136.6 274.3,141.5 276.6,141.0ZM184.0,341.8 185.2,343.9 189.5,341.3 188.3,339.3ZM190.7,343.3 193.3,347.2 197.4,344.4 195.0,340.6ZM200.0,348.1 202.7,351.7 206.6,348.7 204.0,345.2ZM209.4,352.0 212.2,355.3 215.9,352.0 213.1,348.9ZM243.9,369.2 247.3,371.2 249.8,367.0 246.5,365.0ZM263.5,373.7 267.1,375.1 268.7,370.5 265.3,369.2ZM386.9,336.6 389.1,333.7 385.2,330.8 383.1,333.6ZM268.7,370.5 272.2,371.7 273.7,367.0 270.4,365.9ZM383.1,333.6 385.2,330.8 381.2,328.0 379.3,330.6ZM379.3,330.6 381.2,328.0 377.3,325.1 375.4,327.6ZM281.6,364.2 284.8,365.0 285.8,360.3 282.7,359.6ZM373.5,330.1 375.4,327.6 371.6,324.7 369.8,327.0ZM285.8,360.3 288.9,360.9 289.7,356.1 286.8,355.5ZM369.8,327.0 371.6,324.7 367.9,321.7 366.1,323.9ZM364.3,326.0 366.1,323.9 362.4,320.8 360.7,322.8ZM330.4,343.3 332.8,342.3 331.0,337.9 328.7,338.8ZM344.6,336.3 346.8,334.9 344.1,330.9 342.0,332.3ZM346.8,334.9 348.9,333.4 346.1,329.5 344.1,330.9ZM304.5,328.7 306.5,328.7 306.3,324.0 304.5,324.0ZM313.5,323.2 315.3,322.9 314.3,318.2 312.7,318.6Z"/>
<path fill="#00d1f5" stroke="#00d1f5" stroke-width="0.6" d="M423.6,130.3 421.1,128.2 417.8,132.3 420.2,134.3ZM417.8,132.3 415.3,130.3 412.1,134.5 414.5,136.3ZM412.1,134.5 409.7,132.6 406.6,136.7 408.9,138.5ZM406.6,136.7 404.2,135.0 401.2,139.1 403.5,140.8ZM404.2,135.0 401.8,133.2 398.8,137.5 401.2,139.1ZM398.8,137.5 396.5,135.8 393.6,140.1 395.9,141.7ZM396.5,135.8 394.1,134.3 391.3,138.5 393.6,140.1ZM157.9,346.9 159.3,349.4 163.8,347.0 162.5,344.5ZM159.3,349.4 160.6,351.9 165.1,349.5 163.8,347.0ZM160.6,351.9 162.1,354.4 166.5,351.9 165.1,349.5ZM162.1,354.4 163.5,356.9 167.9,354.3 166.5,351.9ZM393.6,140.1 391.3,138.5 388.5,142.8 390.8,144.3ZM391.3,138.5 388.9,137.1 386.3,141.4 388.5,142.8ZM388.9,137.1 386.6,135.6 384.0,140.0 386.3,141.4ZM149.2,308.0 149.9,310.8 154.8,309.5 154.2,306.9ZM149.9,310.8 150.6,313.4 155.5,312.1 154.8,309.5ZM165.1,349.5 166.5,351.9 170.9,349.3 169.6,347.0ZM166.5,351.9 167.9,354.3 172.3,351.7 170.9,349.3ZM384.0,140.0 381.6,138.6 379.1,143.0 381.3,144.3ZM381.6,138.6 379.3,137.3 376.8,141.7 379.1,143.0ZM379.3,137.3 376.9,136.0 374.5,140.5 376.8,141.7ZM153.1,301.6 153.6,304.3 158.6,303.2 158.0,300.7ZM153.6,304.3 154.2,306.9 159.1,305.8 158.6,303.2ZM154.2,306.9 154.8,309.5 159.7,308.3 159.1,305.8ZM169.6,347.0 170.9,349.3 175.3,346.8 174.0,344.5ZM376.8,141.7 374.5,140.5 372.2,144.9 374.4,146.1ZM374.5,140.5 372.2,139.3 369.9,143.8 372.2,144.9ZM156.4,290.4 156.8,293.0 161.7,292.3 161.4,289.8ZM156.8,293.0 157.1,295.5 162.1,294.8 161.7,292.3ZM157.1,295.5 157.6,298.1 162.5,297.2 162.1,294.8ZM157.6,298.1 158.0,300.7 163.0,299.7 162.5,297.2ZM158.0,300.7 158.6,303.2 163.5,302.2 163.0,299.7ZM174.0,344.5 175.3,346.8 179.7,344.3 178.4,342.1ZM369.9,143.8 367.7,142.6 365.5,147.1 367.7,148.2ZM356.2,137.6 353.8,136.7 352.1,141.5 354.4,142.3ZM353.8,136.7 351.4,135.9 349.8,140.6 352.1,141.5ZM344.2,133.6 341.8,133.0 340.5,137.8 342.9,138.5ZM160.4,274.7 160.4,277.2 165.4,277.1 165.4,274.6ZM160.4,277.2 160.5,279.7 165.6,279.5 165.4,277.1ZM160.5,279.7 160.7,282.3 165.7,281.9 165.6,279.5ZM160.7,282.3 160.9,284.8 165.9,284.3 165.7,281.9ZM160.9,284.8 161.1,287.3 166.1,286.7 165.9,284.3ZM161.1,287.3 161.4,289.8 166.4,289.2 166.1,286.7ZM161.4,289.8 161.7,292.3 166.7,291.6 166.4,289.2ZM161.7,292.3 162.1,294.8 167.1,294.0 166.7,291.6ZM165.9,260.1 165.7,262.5 170.7,262.8 170.9,260.5ZM165.7,262.5 165.6,264.9 170.5,265.2 170.7,262.8ZM165.6,264.9 165.4,267.3 170.4,267.5 170.5,265.2ZM165.4,267.3 165.4,269.8 170.4,269.9 170.4,267.5ZM165.4,269.8 165.4,272.2 170.4,272.2 170.4,269.9ZM165.4,272.2 165.4,274.6 170.4,274.5 170.4,272.2ZM165.4,274.6 165.4,277.1 170.4,276.9 170.4,274.5ZM165.4,277.1 165.6,279.5 170.5,279.2 170.4,276.9ZM165.6,279.5 165.7,281.9 170.7,281.6 170.5,279.2ZM165.7,281.9 165.9,284.3 170.9,283.9 170.7,281.6ZM165.9,284.3 166.1,286.7 171.1,286.2 170.9,283.9ZM181.6,337.5 182.8,339.7 187.2,337.2 186.1,335.2ZM304.5,138.1 299.8,138.1 300.0,143.1 304.5,143.0ZM299.8,138.1 295.1,138.4 295.5,143.4 300.0,143.1ZM295.1,138.4 290.5,138.8 291.0,143.7 295.5,143.4ZM276.6,141.0 272.0,142.0 273.3,146.9 277.6,145.9ZM186.1,335.2 188.3,339.3 192.6,336.8 190.5,332.8ZM192.6,336.8 195.0,340.6 199.2,338.0 196.9,334.3ZM201.5,341.7 204.0,345.2 208.0,342.3 205.6,338.9ZM208.0,342.3 210.5,345.6 214.4,342.6 212.0,339.4ZM247.3,371.2 250.8,373.2 253.1,368.8 249.8,367.0ZM240.2,360.8 243.3,362.9 246.0,358.9 243.0,356.8ZM393.2,327.6 395.1,324.5 390.9,322.1 389.1,325.0ZM395.1,324.5 396.8,321.3 392.5,319.0 390.9,322.1ZM389.1,325.0 390.9,322.1 386.7,319.6 384.9,322.5ZM270.4,365.9 273.7,367.0 275.2,362.4 272.1,361.3ZM278.4,363.4 281.6,364.2 282.7,359.6 279.7,358.7ZM380.9,319.9 382.5,317.2 378.3,314.8 376.8,317.4ZM376.8,317.4 378.3,314.8 374.1,312.4 372.7,314.8ZM286.8,355.5 289.7,356.1 290.5,351.4 287.8,350.8ZM371.2,317.2 372.7,314.8 368.6,312.3 367.2,314.5ZM365.7,316.6 367.2,314.5 363.2,311.8 361.8,313.8ZM328.7,338.8 331.0,337.9 329.2,333.4 327.1,334.3ZM358.8,317.7 360.3,315.8 356.6,312.9 355.1,314.7ZM327.1,334.3 329.2,333.4 327.5,329.0 325.5,329.8ZM297.6,337.9 299.9,338.1 300.2,333.3 298.1,333.2ZM325.5,329.8 327.5,329.0 325.7,324.6 323.8,325.3Z"/>
<path fill="#00e3f9" stroke="#00e3f9" stroke-width="0.6" d="M421.1,128.2 418.6,126.2 415.3,130.3 417.8,132.3ZM415.3,130.3 412.8,128.4 409.7,132.6 412.1,134.5ZM409.7,132.6 407.2,130.8 404.2,135.0 406.6,136.7ZM407.2,130.8 404.8,129.0 401.8,133.2 404.2,135.0ZM401.8,133.2 399.4,131.6 396.5,135.8 398.8,137.5ZM399.4,131.6 396.9,129.9 394.1,134.3 396.5,135.8ZM154.7,351.8 156.1,354.4 160.6,351.9 159.3,349.4ZM156.1,354.4 157.6,357.0 162.1,354.4 160.6,351.9ZM157.6,357.0 159.1,359.6 163.5,356.9 162.1,354.4ZM159.1,359.6 160.6,362.1 165.0,359.4 163.5,356.9ZM394.1,134.3 391.7,132.7 388.9,137.1 391.3,138.5ZM391.7,132.7 389.2,131.2 386.6,135.6 388.9,137.1ZM143.6,306.4 144.2,309.2 149.2,308.0 148.6,305.3ZM144.2,309.2 144.9,312.0 149.9,310.8 149.2,308.0ZM144.9,312.0 145.6,314.8 150.6,313.4 149.9,310.8ZM163.5,356.9 165.0,359.4 169.4,356.6 167.9,354.3ZM386.6,135.6 384.2,134.2 381.6,138.6 384.0,140.0ZM384.2,134.2 381.8,132.8 379.3,137.3 381.6,138.6ZM381.8,132.8 379.3,131.5 376.9,136.0 379.3,137.3ZM145.2,277.8 145.4,280.5 150.4,280.3 150.3,277.6ZM147.6,299.9 148.1,302.6 153.1,301.6 152.6,299.0ZM148.1,302.6 148.6,305.3 153.6,304.3 153.1,301.6ZM148.6,305.3 149.2,308.0 154.2,306.9 153.6,304.3ZM376.9,136.0 374.5,134.7 372.2,139.3 374.5,140.5ZM150.2,272.2 150.3,274.9 155.3,274.8 155.3,272.2ZM150.3,274.9 150.3,277.6 155.4,277.4 155.3,274.8ZM150.3,277.6 150.4,280.3 155.5,280.0 155.4,277.4ZM150.4,280.3 150.6,283.0 155.7,282.6 155.5,280.0ZM150.6,283.0 150.8,285.6 155.9,285.2 155.7,282.6ZM150.8,285.6 151.1,288.3 156.1,287.8 155.9,285.2ZM151.1,288.3 151.4,291.0 156.4,290.4 156.1,287.8ZM151.4,291.0 151.7,293.7 156.8,293.0 156.4,290.4ZM151.7,293.7 152.1,296.3 157.1,295.5 156.8,293.0ZM152.1,296.3 152.6,299.0 157.6,298.1 157.1,295.5ZM152.6,299.0 153.1,301.6 158.0,300.7 157.6,298.1ZM170.9,349.3 172.3,351.7 176.6,349.0 175.3,346.8ZM372.2,139.3 369.9,138.1 367.7,142.6 369.9,143.8ZM155.4,267.0 155.3,269.6 160.4,269.7 160.4,267.2ZM155.3,269.6 155.3,272.2 160.3,272.2 160.4,269.7ZM155.3,272.2 155.3,274.8 160.4,274.7 160.3,272.2ZM155.3,274.8 155.4,277.4 160.4,277.2 160.4,274.7ZM155.4,277.4 155.5,280.0 160.5,279.7 160.4,277.2ZM155.5,280.0 155.7,282.6 160.7,282.3 160.5,279.7ZM155.7,282.6 155.9,285.2 160.9,284.8 160.7,282.3ZM155.9,285.2 156.1,287.8 161.1,287.3 160.9,284.8ZM156.1,287.8 156.4,290.4 161.4,289.8 161.1,287.3ZM367.7,142.6 365.4,141.5 363.3,146.1 365.5,147.1ZM360.8,139.5 358.5,138.5 356.6,143.2 358.9,144.1ZM358.5,138.5 356.2,137.6 354.4,142.3 356.6,143.2ZM341.8,133.0 339.4,132.3 338.2,137.2 340.5,137.8ZM339.4,132.3 336.9,131.7 335.8,136.6 338.2,137.2ZM161.1,257.1 160.9,259.6 165.9,260.1 166.1,257.7ZM160.9,259.6 160.7,262.1 165.7,262.5 165.9,260.1ZM160.7,262.1 160.5,264.7 165.6,264.9 165.7,262.5ZM160.5,264.7 160.4,267.2 165.4,267.3 165.6,264.9ZM160.4,267.2 160.4,269.7 165.4,269.8 165.4,267.3ZM160.4,269.7 160.3,272.2 165.4,272.2 165.4,269.8ZM160.3,272.2 160.4,274.7 165.4,274.6 165.4,272.2ZM178.4,342.1 179.7,344.3 184.0,341.8 182.8,339.7ZM182.8,339.7 184.0,341.8 188.3,339.3 187.2,337.2ZM323.2,139.4 318.5,138.8 318.0,143.7 322.5,144.3ZM318.5,138.8 313.9,138.4 313.5,143.4 318.0,143.7ZM313.9,138.4 309.2,138.1 309.0,143.1 313.5,143.4ZM309.2,138.1 304.5,138.1 304.5,143.0 309.0,143.1ZM272.0,142.0 267.5,143.3 268.9,148.0 273.3,146.9ZM264.6,149.4 260.3,150.8 262.0,155.5 266.1,154.1ZM195.0,340.6 197.4,344.4 201.5,341.7 199.2,338.0ZM204.0,345.2 206.6,348.7 210.5,345.6 208.0,342.3ZM210.5,345.6 213.1,348.9 216.9,345.7 214.4,342.6ZM250.8,373.2 254.4,375.0 256.5,370.6 253.1,368.8ZM260.0,372.2 263.5,373.7 265.3,369.2 262.0,367.7ZM391.2,330.7 393.2,327.6 389.1,325.0 387.2,328.0ZM265.3,369.2 268.7,370.5 270.4,365.9 267.1,364.7ZM384.9,322.5 386.7,319.6 382.5,317.2 380.9,319.9ZM379.1,322.5 380.9,319.9 376.8,317.4 375.1,319.8ZM373.4,322.3 375.1,319.8 371.2,317.2 369.5,319.5ZM375.1,319.8 376.8,317.4 372.7,314.8 371.2,317.2ZM369.5,319.5 371.2,317.2 367.2,314.5 365.7,316.6ZM290.5,351.4 293.3,351.8 294.0,347.1 291.4,346.7ZM335.3,341.3 337.6,340.2 335.5,335.9 333.3,336.9ZM337.6,340.2 340.0,339.0 337.8,334.7 335.5,335.9ZM360.7,322.8 362.4,320.8 358.8,317.7 357.1,319.6ZM362.4,320.8 364.1,318.8 360.3,315.8 358.8,317.7ZM364.1,318.8 365.7,316.6 361.8,313.8 360.3,315.8ZM300.2,333.3 302.4,333.5 302.5,328.7 300.6,328.6ZM322.0,326.0 323.8,325.3 322.2,320.9 320.5,321.5ZM302.5,328.7 304.5,328.7 304.5,324.0 302.7,324.0ZM317.0,322.5 318.8,322.0 317.5,317.4 315.9,317.9Z"/>
<path fill="#00f4fd" stroke="#00f4fd" stroke-width="0.6" d="M418.6,126.2 416.0,124.3 412.8,128.4 415.3,130.3ZM416.0,124.3 413.4,122.3 410.3,126.6 412.8,128.4ZM412.8,128.4 410.3,126.6 407.2,130.8 409.7,132.6ZM410.3,126.6 407.8,124.7 404.8,129.0 407.2,130.8ZM404.8,129.0 402.3,127.3 399.4,131.6 401.8,133.2ZM402.3,127.3 399.7,125.6 396.9,129.9 399.4,131.6ZM151.6,356.9 153.1,359.6 157.6,357.0 156.1,354.4ZM153.1,359.6 154.7,362.2 159.1,359.6 157.6,357.0ZM154.7,362.2 156.3,364.8 160.6,362.1 159.1,359.6ZM156.3,364.8 157.9,367.4 162.2,364.6 160.6,362.1ZM396.9,129.9 394.4,128.3 391.7,132.7 394.1,134.3ZM394.4,128.3 391.9,126.8 389.2,131.2 391.7,132.7ZM391.9,126.8 389.3,125.3 386.7,129.8 389.2,131.2ZM137.4,301.7 138.0,304.6 143.0,303.6 142.5,300.8ZM138.0,304.6 138.6,307.5 143.6,306.4 143.0,303.6ZM138.6,307.5 139.2,310.4 144.2,309.2 143.6,306.4ZM139.2,310.4 139.9,313.2 144.9,312.0 144.2,309.2ZM160.6,362.1 162.2,364.6 166.6,361.8 165.0,359.4ZM389.2,131.2 386.7,129.8 384.2,134.2 386.6,135.6ZM386.7,129.8 384.2,128.3 381.8,132.8 384.2,134.2ZM384.2,128.3 381.7,127.0 379.3,131.5 381.8,132.8ZM140.1,277.9 140.2,280.8 145.4,280.5 145.2,277.8ZM140.2,280.8 140.4,283.7 145.5,283.3 145.4,280.5ZM140.4,283.7 140.6,286.5 145.7,286.1 145.5,283.3ZM140.6,286.5 140.9,289.4 146.0,288.9 145.7,286.1ZM140.9,289.4 141.2,292.2 146.3,291.6 146.0,288.9ZM141.2,292.2 141.6,295.1 146.7,294.4 146.3,291.6ZM141.6,295.1 142.0,297.9 147.1,297.1 146.7,294.4ZM142.0,297.9 142.5,300.8 147.6,299.9 147.1,297.1ZM142.5,300.8 143.0,303.6 148.1,302.6 147.6,299.9ZM143.0,303.6 143.6,306.4 148.6,305.3 148.1,302.6ZM165.0,359.4 166.6,361.8 170.8,359.0 169.4,356.6ZM379.3,131.5 376.8,130.2 374.5,134.7 376.9,136.0ZM376.8,130.2 374.4,129.0 372.1,133.5 374.5,134.7ZM145.2,269.4 145.1,272.2 150.2,272.2 150.3,269.5ZM145.1,272.2 145.2,275.0 150.3,274.9 150.2,272.2ZM145.2,275.0 145.2,277.8 150.3,277.6 150.3,274.9ZM145.4,280.5 145.5,283.3 150.6,283.0 150.4,280.3ZM145.5,283.3 145.7,286.1 150.8,285.6 150.6,283.0ZM145.7,286.1 146.0,288.9 151.1,288.3 150.8,285.6ZM146.0,288.9 146.3,291.6 151.4,291.0 151.1,288.3ZM146.3,291.6 146.7,294.4 151.7,293.7 151.4,291.0ZM146.7,294.4 147.1,297.1 152.1,296.3 151.7,293.7ZM147.1,297.1 147.6,299.9 152.6,299.0 152.1,296.3ZM167.9,354.3 169.4,356.6 173.7,354.0 172.3,351.7ZM374.5,134.7 372.1,133.5 369.9,138.1 372.2,139.3ZM372.1,133.5 369.7,132.4 367.6,137.0 369.9,138.1ZM150.6,261.4 150.4,264.1 155.5,264.4 155.7,261.8ZM150.4,264.1 150.3,266.8 155.4,267.0 155.5,264.4ZM150.3,266.8 150.3,269.5 155.3,269.6 155.4,267.0ZM150.3,269.5 150.2,272.2 155.3,272.2 155.3,269.6ZM369.9,138.1 367.6,137.0 365.4,141.5 367.7,142.6ZM362.8,134.9 360.4,133.9 358.5,138.5 360.8,139.5ZM360.4,133.9 358.0,132.9 356.2,137.6 358.5,138.5ZM358.0,132.9 355.5,132.0 353.8,136.7 356.2,137.6ZM355.5,132.0 353.1,131.1 351.4,135.9 353.8,136.7ZM353.1,131.1 350.6,130.3 349.0,135.1 351.4,135.9ZM350.6,130.3 348.1,129.5 346.6,134.3 349.0,135.1ZM348.1,129.5 345.6,128.8 344.2,133.6 346.6,134.3ZM345.6,128.8 343.1,128.1 341.8,133.0 344.2,133.6ZM156.1,256.6 155.9,259.2 160.9,259.6 161.1,257.1ZM155.9,259.2 155.7,261.8 160.7,262.1 160.9,259.6ZM155.7,261.8 155.5,264.4 160.5,264.7 160.7,262.1ZM155.5,264.4 155.4,267.0 160.4,267.2 160.5,264.7ZM175.3,346.8 176.6,349.0 180.9,346.4 179.7,344.3ZM365.4,141.5 363.1,140.5 361.1,145.1 363.3,146.1ZM363.1,140.5 360.8,139.5 358.9,144.1 361.1,145.1ZM336.9,131.7 334.5,131.2 333.4,136.1 335.8,136.6ZM179.7,344.3 180.9,346.4 185.2,343.9 184.0,341.8ZM267.5,143.3 263.0,144.6 264.6,149.4 268.9,148.0ZM188.3,339.3 190.7,343.3 195.0,340.6 192.6,336.8ZM197.4,344.4 200.0,348.1 204.0,345.2 201.5,341.7ZM206.6,348.7 209.4,352.0 213.1,348.9 210.5,345.6ZM254.4,375.0 258.0,376.7 260.0,372.2 256.5,370.6ZM393.1,336.5 395.2,333.4 391.2,330.7 389.1,333.7ZM389.1,333.7 391.2,330.7 387.2,328.0 385.2,330.8ZM385.2,330.8 387.2,328.0 383.1,325.2 381.2,328.0ZM387.2,328.0 389.1,325.0 384.9,322.5 383.1,325.2ZM273.7,367.0 277.0,368.0 278.4,363.4 275.2,362.4ZM381.2,328.0 383.1,325.2 379.1,322.5 377.3,325.1ZM383.1,325.2 384.9,322.5 380.9,319.9 379.1,322.5ZM375.4,327.6 377.3,325.1 373.4,322.3 371.6,324.7ZM377.3,325.1 379.1,322.5 375.1,319.8 373.4,322.3ZM371.6,324.7 373.4,322.3 369.5,319.5 367.9,321.7ZM366.1,323.9 367.9,321.7 364.1,318.8 362.4,320.8ZM367.9,321.7 369.5,319.5 365.7,316.6 364.1,318.8ZM332.8,342.3 335.3,341.3 333.3,336.9 331.0,337.9ZM340.0,339.0 342.3,337.7 339.9,333.5 337.8,334.7ZM342.3,337.7 344.6,336.3 342.0,332.3 339.9,333.5ZM348.9,333.4 351.1,331.8 348.1,328.0 346.1,329.5ZM351.1,331.8 353.1,330.1 350.0,326.5 348.1,328.0ZM353.1,330.1 355.1,328.4 351.9,324.8 350.0,326.5ZM355.1,328.4 357.0,326.6 353.7,323.2 351.9,324.8ZM357.0,326.6 358.9,324.7 355.5,321.4 353.7,323.2ZM358.9,324.7 360.7,322.8 357.1,319.6 355.5,321.4ZM294.0,347.1 296.6,347.4 297.1,342.6 294.6,342.3ZM326.4,339.6 328.7,338.8 327.1,334.3 324.9,335.0ZM297.1,342.6 299.6,342.9 299.9,338.1 297.6,337.9ZM324.9,335.0 327.1,334.3 325.5,329.8 323.4,330.5ZM299.9,338.1 302.2,338.2 302.4,333.5 300.2,333.3ZM323.4,330.5 325.5,329.8 323.8,325.3 322.0,326.0ZM320.1,326.6 322.0,326.0 320.5,321.5 318.8,322.0ZM306.3,324.0 308.1,323.9 307.8,319.2 306.1,319.2ZM315.3,322.9 317.0,322.5 315.9,317.9 314.3,318.2Z"/>
<path fill="#009dea" stroke="#009dea" stroke-width="0.6" d="M429.5,142.7 427.3,140.5 423.7,144.4 425.9,146.5ZM427.3,140.5 425.0,138.4 421.5,142.3 423.7,144.4ZM430.2,150.8 428.1,148.6 424.4,152.3 426.5,154.4ZM428.1,148.6 425.9,146.5 422.3,150.2 424.4,152.3ZM416.9,138.3 414.5,136.3 411.3,140.4 413.5,142.3ZM415.8,144.2 413.5,142.3 410.2,146.2 412.4,148.1ZM413.5,142.3 411.3,140.4 408.0,144.4 410.2,146.2ZM412.4,148.1 410.2,146.2 406.9,150.1 409.1,151.9ZM410.2,146.2 408.0,144.4 404.8,148.4 406.9,150.1ZM406.9,150.1 404.8,148.4 401.6,152.3 403.7,154.0ZM404.8,148.4 402.6,146.6 399.5,150.6 401.6,152.3ZM401.6,152.3 399.5,150.6 396.4,154.6 398.4,156.2ZM399.5,150.6 397.3,149.0 394.3,153.0 396.4,154.6ZM396.4,154.6 394.3,153.0 391.3,157.1 393.3,158.6ZM394.3,153.0 392.2,151.5 389.2,155.6 391.3,157.1ZM162.6,318.3 163.4,320.8 168.2,319.1 167.4,316.7ZM163.4,320.8 164.3,323.2 169.0,321.5 168.2,319.1ZM164.3,323.2 165.2,325.7 169.9,323.9 169.0,321.5ZM165.2,325.7 166.2,328.1 170.8,326.2 169.9,323.9ZM166.2,328.1 167.2,330.5 171.8,328.5 170.8,326.2ZM167.2,330.5 168.2,332.9 172.8,330.8 171.8,328.5ZM168.2,332.9 169.3,335.3 173.8,333.1 172.8,330.8ZM169.3,335.3 170.4,337.6 174.9,335.4 173.8,333.1ZM168.2,319.1 169.0,321.5 173.8,319.8 172.9,317.5ZM172.8,330.8 173.8,333.1 178.4,331.0 177.4,328.8ZM173.8,333.1 174.9,335.4 179.4,333.2 178.4,331.0ZM345.2,139.1 342.9,138.5 341.5,143.3 343.7,143.9ZM169.5,305.9 170.1,308.2 174.9,306.9 174.3,304.7ZM170.1,308.2 170.8,310.6 175.6,309.2 174.9,306.9ZM170.8,310.6 171.4,312.9 176.2,311.4 175.6,309.2ZM177.4,328.8 178.4,331.0 182.9,328.9 182.0,326.8ZM178.4,331.0 179.4,333.2 183.9,331.0 182.9,328.9ZM173.3,300.1 174.3,304.7 179.2,303.4 178.2,299.1ZM182.0,326.8 183.9,331.0 188.4,328.8 186.5,324.7ZM300.0,143.1 295.5,143.4 295.8,148.3 300.2,148.1ZM295.5,143.4 291.0,143.7 291.5,148.7 295.8,148.3ZM291.0,143.7 286.5,144.3 287.2,149.2 291.5,148.7ZM286.5,144.3 282.1,145.0 282.9,149.9 287.2,149.2ZM282.1,145.0 277.6,145.9 278.7,150.7 282.9,149.9ZM277.6,145.9 273.3,146.9 274.5,151.7 278.7,150.7ZM175.4,267.7 175.3,272.2 180.3,272.2 180.4,267.9ZM177.3,294.6 178.2,299.1 183.0,298.0 182.2,293.8ZM178.2,299.1 179.2,303.4 184.0,302.2 183.0,298.0ZM188.4,328.8 190.5,332.8 194.8,330.5 192.9,326.6ZM274.5,151.7 270.3,152.8 271.6,157.5 275.6,156.5ZM180.6,280.9 181.0,285.2 185.9,284.7 185.5,280.5ZM181.0,285.2 181.5,289.5 186.4,288.8 185.9,284.7ZM181.5,289.5 182.2,293.8 187.0,292.9 186.4,288.8ZM182.2,293.8 183.0,298.0 187.8,297.0 187.0,292.9ZM194.8,330.5 196.9,334.3 201.2,331.8 199.2,328.2ZM271.6,157.5 267.6,158.8 269.2,163.4 273.0,162.3ZM201.2,331.8 203.4,335.4 207.5,332.8 205.5,329.4ZM284.6,159.6 280.7,160.3 281.7,165.1 285.5,164.4ZM280.7,160.3 276.8,161.2 278.0,166.0 281.7,165.1ZM276.8,161.2 273.0,162.3 274.3,167.0 278.0,166.0ZM273.0,162.3 269.2,163.4 270.7,168.1 274.3,167.0ZM209.7,336.1 212.0,339.4 215.9,336.5 213.8,333.4ZM215.9,336.5 218.2,339.6 222.1,336.6 219.9,333.7ZM246.5,365.0 249.8,367.0 252.2,362.8 249.1,360.9ZM253.1,368.8 256.5,370.6 258.7,366.2 255.4,364.5ZM398.5,318.0 400.0,314.7 395.6,312.8 394.1,315.9ZM394.1,315.9 395.6,312.8 391.2,310.8 389.8,313.8ZM384.0,314.5 385.4,311.7 381.1,309.6 379.7,312.2ZM379.7,312.2 381.1,309.6 376.8,307.4 375.5,309.9ZM374.1,312.4 375.5,309.9 371.3,307.7 370.0,310.0ZM287.8,350.8 290.5,351.4 291.4,346.7 288.8,346.2ZM370.0,310.0 371.3,307.7 367.0,305.5 365.8,307.6ZM335.5,335.9 337.8,334.7 335.5,330.5 333.5,331.6ZM365.8,307.6 367.0,305.5 362.8,303.2 361.7,305.2ZM331.4,332.5 333.5,331.6 331.4,327.3 329.4,328.2ZM350.4,319.7 352.0,318.1 348.6,314.8 347.1,316.3ZM352.0,318.1 353.6,316.4 350.1,313.2 348.6,314.8ZM360.5,307.2 361.7,305.2 357.6,302.8 356.5,304.7ZM361.7,305.2 362.8,303.2 358.6,301.0 357.6,302.8ZM329.4,328.2 331.4,327.3 329.3,323.0 327.5,323.9ZM350.1,313.2 351.5,311.6 347.8,308.5 346.5,310.0ZM351.5,311.6 352.8,309.9 349.1,307.0 347.8,308.5ZM352.8,309.9 354.1,308.2 350.2,305.4 349.1,307.0ZM354.1,308.2 355.3,306.5 351.4,303.8 350.2,305.4ZM355.3,306.5 356.5,304.7 352.5,302.2 351.4,303.8ZM322.2,320.9 323.9,320.2 322.1,315.8 320.6,316.4ZM302.7,324.0 304.5,324.0 304.5,319.3 302.9,319.2ZM309.4,319.0 314.3,318.2 313.3,313.6 308.9,314.3Z"/>
<path fill="#00aeee" stroke="#00aeee" stroke-width="0.6" d="M422.6,136.3 420.2,134.3 416.9,138.3 419.2,140.3ZM420.2,134.3 417.8,132.3 414.5,136.3 416.9,138.3ZM411.3,140.4 408.9,138.5 405.8,142.6 408.0,144.4ZM408.0,144.4 405.8,142.6 402.6,146.6 404.8,148.4ZM405.8,142.6 403.5,140.8 400.4,144.9 402.6,146.6ZM402.6,146.6 400.4,144.9 397.3,149.0 399.5,150.6ZM400.4,144.9 398.2,143.3 395.2,147.4 397.3,149.0ZM397.3,149.0 395.2,147.4 392.2,151.5 394.3,153.0ZM395.2,147.4 393.0,145.8 390.1,150.0 392.2,151.5ZM393.0,145.8 390.8,144.3 387.9,148.5 390.1,150.0ZM158.6,322.4 159.5,325.0 164.3,323.2 163.4,320.8ZM159.5,325.0 160.5,327.5 165.2,325.7 164.3,323.2ZM160.5,327.5 161.5,330.0 166.2,328.1 165.2,325.7ZM161.5,330.0 162.5,332.5 167.2,330.5 166.2,328.1ZM162.5,332.5 163.6,334.9 168.2,332.9 167.2,330.5ZM163.6,334.9 164.7,337.4 169.3,335.3 168.2,332.9ZM164.7,337.4 165.8,339.8 170.4,337.6 169.3,335.3ZM165.8,339.8 167.0,342.2 171.6,339.9 170.4,337.6ZM392.2,151.5 390.1,150.0 387.2,154.1 389.2,155.6ZM390.1,150.0 387.9,148.5 385.1,152.7 387.2,154.1ZM387.9,148.5 385.8,147.1 383.0,151.3 385.1,152.7ZM385.8,147.1 383.6,145.7 380.9,149.9 383.0,151.3ZM170.4,337.6 171.6,339.9 176.1,337.6 174.9,335.4ZM171.6,339.9 172.8,342.2 177.2,339.9 176.1,337.6ZM164.0,304.6 164.6,307.1 169.5,305.9 168.9,303.5ZM174.9,335.4 176.1,337.6 180.5,335.4 179.4,333.2ZM176.1,337.6 177.2,339.9 181.6,337.5 180.5,335.4ZM352.1,141.5 349.8,140.6 348.2,145.4 350.4,146.2ZM167.9,298.7 168.4,301.1 173.3,300.1 172.8,297.8ZM168.4,301.1 168.9,303.5 173.8,302.4 173.3,300.1ZM168.9,303.5 169.5,305.9 174.3,304.7 173.8,302.4ZM179.4,333.2 180.5,335.4 185.0,333.1 183.9,331.0ZM170.7,262.8 170.4,267.5 175.4,267.7 175.7,263.2ZM171.7,290.9 172.4,295.5 177.3,294.6 176.6,290.2ZM172.4,295.5 173.3,300.1 178.2,299.1 177.3,294.6ZM183.9,331.0 186.1,335.2 190.5,332.8 188.4,328.8ZM313.5,143.4 309.0,143.1 308.8,148.1 313.2,148.3ZM309.0,143.1 304.5,143.0 304.5,148.0 308.8,148.1ZM304.5,143.0 300.0,143.1 300.2,148.1 304.5,148.0ZM273.3,146.9 268.9,148.0 270.3,152.8 274.5,151.7ZM175.3,272.2 175.4,276.7 180.4,276.5 180.3,272.2ZM175.4,276.7 175.7,281.2 180.6,280.9 180.4,276.5ZM175.7,281.2 176.0,285.7 181.0,285.2 180.6,280.9ZM176.0,285.7 176.6,290.2 181.5,289.5 181.0,285.2ZM176.6,290.2 177.3,294.6 182.2,293.8 181.5,289.5ZM270.3,152.8 266.1,154.1 267.6,158.8 271.6,157.5ZM196.9,334.3 199.2,338.0 203.4,335.4 201.2,331.8ZM267.6,158.8 263.7,160.1 265.4,164.7 269.2,163.4ZM203.4,335.4 205.6,338.9 209.7,336.1 207.5,332.8ZM212.0,339.4 214.4,342.6 218.2,339.6 215.9,336.5ZM262.0,367.7 265.3,369.2 267.1,364.7 263.9,363.3ZM392.5,319.0 394.1,315.9 389.8,313.8 388.3,316.7ZM267.1,364.7 270.4,365.9 272.1,361.3 269.0,360.2ZM388.3,316.7 389.8,313.8 385.4,311.7 384.0,314.5ZM378.3,314.8 379.7,312.2 375.5,309.9 374.1,312.4ZM368.6,312.3 370.0,310.0 365.8,307.6 364.6,309.7ZM291.4,346.7 294.0,347.1 294.6,342.3 292.2,342.0ZM333.3,336.9 335.5,335.9 333.5,331.6 331.4,332.5ZM337.8,334.7 339.9,333.5 337.5,329.4 335.5,330.5ZM339.9,333.5 342.0,332.3 339.5,328.2 337.5,329.4ZM342.0,332.3 344.1,330.9 341.4,327.0 339.5,328.2ZM350.0,326.5 351.9,324.8 348.7,321.3 347.0,322.8ZM364.6,309.7 365.8,307.6 361.7,305.2 360.5,307.2ZM329.2,333.4 331.4,332.5 329.4,328.2 327.5,329.0ZM353.6,316.4 355.1,314.7 351.5,311.6 350.1,313.2ZM355.1,314.7 356.6,312.9 352.8,309.9 351.5,311.6ZM357.9,311.0 359.3,309.1 355.3,306.5 354.1,308.2ZM359.3,309.1 360.5,307.2 356.5,304.7 355.3,306.5ZM327.5,329.0 329.4,328.2 327.5,323.9 325.7,324.6ZM298.1,333.2 300.2,333.3 300.6,328.6 298.6,328.4ZM325.7,324.6 327.5,323.9 325.6,319.5 323.9,320.2ZM300.6,328.6 302.5,328.7 302.7,324.0 300.9,323.9ZM320.5,321.5 322.2,320.9 320.6,316.4 319.0,317.0Z"/>
<path fill="#008be6" stroke="#008be6" stroke-width="0.6" d="M425.9,146.5 423.7,144.4 420.2,148.1 422.3,150.2ZM423.7,144.4 421.5,142.3 418.0,146.1 420.2,148.1ZM421.5,142.3 419.2,140.3 415.8,144.2 418.0,146.1ZM419.2,140.3 416.9,138.3 413.5,142.3 415.8,144.2ZM426.5,154.4 424.4,152.3 420.8,155.9 422.8,157.9ZM424.4,152.3 422.3,150.2 418.8,153.9 420.8,155.9ZM422.3,150.2 420.2,148.1 416.7,151.9 418.8,153.9ZM420.2,148.1 418.0,146.1 414.6,150.0 416.7,151.9ZM418.0,146.1 415.8,144.2 412.4,148.1 414.6,150.0ZM418.8,153.9 416.7,151.9 413.2,155.6 415.2,157.6ZM416.7,151.9 414.6,150.0 411.1,153.8 413.2,155.6ZM414.6,150.0 412.4,148.1 409.1,151.9 411.1,153.8ZM411.1,153.8 409.1,151.9 405.7,155.8 407.7,157.6ZM409.1,151.9 406.9,150.1 403.7,154.0 405.7,155.8ZM405.7,155.8 403.7,154.0 400.4,157.9 402.4,159.6ZM403.7,154.0 401.6,152.3 398.4,156.2 400.4,157.9ZM398.4,156.2 396.4,154.6 393.3,158.6 395.2,160.2ZM169.0,321.5 169.9,323.9 174.6,322.1 173.8,319.8ZM169.9,323.9 170.8,326.2 175.5,324.3 174.6,322.1ZM170.8,326.2 171.8,328.5 176.4,326.6 175.5,324.3ZM171.8,328.5 172.8,330.8 177.4,328.8 176.4,326.6ZM349.8,140.6 347.5,139.9 346.0,144.6 348.2,145.4ZM347.5,139.9 345.2,139.1 343.7,143.9 346.0,144.6ZM171.4,312.9 172.2,315.2 176.9,313.7 176.2,311.4ZM172.2,315.2 172.9,317.5 177.7,315.9 176.9,313.7ZM172.9,317.5 173.8,319.8 178.5,318.1 177.7,315.9ZM173.8,319.8 174.6,322.1 179.3,320.3 178.5,318.1ZM174.6,322.1 175.5,324.3 180.1,322.4 179.3,320.3ZM175.5,324.3 176.4,326.6 181.0,324.6 180.1,322.4ZM176.4,326.6 177.4,328.8 182.0,326.8 181.0,324.6ZM350.4,146.2 346.0,144.6 344.4,149.4 348.7,150.8ZM346.0,144.6 341.5,143.3 340.1,148.0 344.4,149.4ZM174.3,304.7 175.6,309.2 180.3,307.8 179.2,303.4ZM175.6,309.2 176.9,313.7 181.7,312.1 180.3,307.8ZM180.1,322.4 182.0,326.8 186.5,324.7 184.7,320.6ZM179.2,303.4 180.3,307.8 185.1,306.4 184.0,302.2ZM186.5,324.7 188.4,328.8 192.9,326.6 191.0,322.7ZM313.2,148.3 308.8,148.1 308.7,153.0 312.8,153.2ZM308.8,148.1 304.5,148.0 304.5,152.9 308.7,153.0ZM304.5,148.0 300.2,148.1 300.3,153.0 304.5,152.9ZM300.2,148.1 295.8,148.3 296.2,153.2 300.3,153.0ZM295.8,148.3 291.5,148.7 292.0,153.6 296.2,153.2ZM291.5,148.7 287.2,149.2 287.9,154.1 292.0,153.6ZM287.2,149.2 282.9,149.9 283.8,154.7 287.9,154.1ZM282.9,149.9 278.7,150.7 279.7,155.5 283.8,154.7ZM278.7,150.7 274.5,151.7 275.6,156.5 279.7,155.5ZM180.3,272.2 180.4,276.5 185.3,276.4 185.2,272.2ZM180.4,276.5 180.6,280.9 185.5,280.5 185.3,276.4ZM183.0,298.0 184.0,302.2 188.8,301.1 187.8,297.0ZM184.0,302.2 185.1,306.4 189.8,305.1 188.8,301.1ZM192.9,326.6 194.8,330.5 199.2,328.2 197.3,324.5ZM287.9,154.1 283.8,154.7 284.6,159.6 288.6,159.0ZM283.8,154.7 279.7,155.5 280.7,160.3 284.6,159.6ZM279.7,155.5 275.6,156.5 276.8,161.2 280.7,160.3ZM275.6,156.5 271.6,157.5 273.0,162.3 276.8,161.2ZM186.4,288.8 187.0,292.9 191.9,292.1 191.3,288.1ZM187.0,292.9 187.8,297.0 192.6,296.0 191.9,292.1ZM187.8,297.0 188.8,301.1 193.5,299.9 192.6,296.0ZM199.2,328.2 201.2,331.8 205.5,329.4 203.5,325.9ZM288.6,159.0 284.6,159.6 285.5,164.4 289.3,163.8ZM205.5,329.4 207.5,332.8 211.7,330.2 209.7,326.9ZM207.5,332.8 209.7,336.1 213.8,333.4 211.7,330.2ZM404.5,316.7 406.0,313.2 401.5,311.4 400.0,314.7ZM285.5,164.4 281.7,165.1 282.8,169.9 286.3,169.2ZM281.7,165.1 278.0,166.0 279.2,170.7 282.8,169.9ZM278.0,166.0 274.3,167.0 275.7,171.7 279.2,170.7ZM274.3,167.0 270.7,168.1 272.2,172.7 275.7,171.7ZM213.8,333.4 215.9,336.5 219.9,333.7 217.8,330.7ZM249.8,367.0 253.1,368.8 255.4,364.5 252.2,362.8ZM400.0,314.7 401.5,311.4 397.0,309.6 395.6,312.8ZM219.9,333.7 222.1,336.6 225.9,333.6 223.8,330.8ZM222.1,336.6 224.4,339.4 228.1,336.3 225.9,333.6ZM258.7,366.2 262.0,367.7 263.9,363.3 260.8,361.8ZM395.6,312.8 397.0,309.6 392.5,307.7 391.2,310.8ZM389.8,313.8 391.2,310.8 386.7,308.8 385.4,311.7ZM275.2,362.4 278.4,363.4 279.7,358.7 276.7,357.8ZM385.4,311.7 386.7,308.8 382.3,306.9 381.1,309.6ZM279.7,358.7 282.7,359.6 283.9,354.9 281.0,354.1ZM283.9,354.9 286.8,355.5 287.8,350.8 285.0,350.2ZM375.5,309.9 376.8,307.4 372.5,305.3 371.3,307.7ZM371.3,307.7 372.5,305.3 368.2,303.2 367.0,305.5ZM367.0,305.5 368.2,303.2 363.9,301.2 362.8,303.2ZM292.2,342.0 294.6,342.3 295.3,337.6 293.0,337.3ZM333.5,331.6 335.5,330.5 333.3,326.3 331.4,327.3ZM335.5,330.5 337.5,329.4 335.1,325.3 333.3,326.3ZM337.5,329.4 339.5,328.2 337.0,324.2 335.1,325.3ZM339.5,328.2 341.4,327.0 338.8,323.0 337.0,324.2ZM341.4,327.0 343.3,325.6 340.5,321.8 338.8,323.0ZM343.3,325.6 345.2,324.3 342.2,320.5 340.5,321.8ZM345.2,324.3 347.0,322.8 343.9,319.2 342.2,320.5ZM347.0,322.8 348.7,321.3 345.5,317.8 343.9,319.2ZM348.7,321.3 350.4,319.7 347.1,316.3 345.5,317.8ZM362.8,303.2 363.9,301.2 359.6,299.1 358.6,301.0ZM295.3,337.6 297.6,337.9 298.1,333.2 296.0,332.9ZM331.4,327.3 333.3,326.3 331.0,322.1 329.3,323.0ZM347.1,316.3 348.6,314.8 345.2,311.5 343.8,312.9ZM348.6,314.8 350.1,313.2 346.5,310.0 345.2,311.5ZM356.5,304.7 357.6,302.8 353.5,300.5 352.5,302.2ZM357.6,302.8 358.6,301.0 354.4,298.7 353.5,300.5ZM327.5,323.9 329.3,323.0 327.2,318.8 325.6,319.5ZM347.8,308.5 349.1,307.0 345.3,304.1 344.2,305.5ZM349.1,307.0 350.2,305.4 346.4,302.6 345.3,304.1ZM350.2,305.4 351.4,303.8 347.4,301.2 346.4,302.6ZM323.9,320.2 325.6,319.5 323.6,315.2 322.1,315.8ZM304.5,319.3 309.4,319.0 308.9,314.3 304.5,314.5ZM314.3,318.2 319.0,317.0 317.6,312.5 313.3,313.6Z"/>
<path fill="#00c0f1" stroke="#00c0f1" stroke-width="0.6" d="M414.5,136.3 412.1,134.5 408.9,138.5 411.3,140.4ZM408.9,138.5 406.6,136.7 403.5,140.8 405.8,142.6ZM403.5,140.8 401.2,139.1 398.2,143.3 400.4,144.9ZM401.2,139.1 398.8,137.5 395.9,141.7 398.2,143.3ZM398.2,143.3 395.9,141.7 393.0,145.8 395.2,147.4ZM395.9,141.7 393.6,140.1 390.8,144.3 393.0,145.8ZM154.7,326.7 155.7,329.3 160.5,327.5 159.5,325.0ZM155.7,329.3 156.7,331.9 161.5,330.0 160.5,327.5ZM161.3,342.1 162.5,344.5 167.0,342.2 165.8,339.8ZM162.5,344.5 163.8,347.0 168.3,344.6 167.0,342.2ZM163.8,347.0 165.1,349.5 169.6,347.0 168.3,344.6ZM390.8,144.3 388.5,142.8 385.8,147.1 387.9,148.5ZM388.5,142.8 386.3,141.4 383.6,145.7 385.8,147.1ZM386.3,141.4 384.0,140.0 381.3,144.3 383.6,145.7ZM167.0,342.2 168.3,344.6 172.8,342.2 171.6,339.9ZM168.3,344.6 169.6,347.0 174.0,344.5 172.8,342.2ZM383.6,145.7 381.3,144.3 378.7,148.6 380.9,149.9ZM381.3,144.3 379.1,143.0 376.6,147.4 378.7,148.6ZM379.1,143.0 376.8,141.7 374.4,146.1 376.6,147.4ZM158.6,303.2 159.1,305.8 164.0,304.6 163.5,302.2ZM159.1,305.8 159.7,308.3 164.6,307.1 164.0,304.6ZM172.8,342.2 174.0,344.5 178.4,342.1 177.2,339.9ZM351.4,135.9 349.0,135.1 347.5,139.9 349.8,140.6ZM349.0,135.1 346.6,134.3 345.2,139.1 347.5,139.9ZM346.6,134.3 344.2,133.6 342.9,138.5 345.2,139.1ZM162.1,294.8 162.5,297.2 167.5,296.4 167.1,294.0ZM162.5,297.2 163.0,299.7 167.9,298.7 167.5,296.4ZM163.0,299.7 163.5,302.2 168.4,301.1 167.9,298.7ZM163.5,302.2 164.0,304.6 168.9,303.5 168.4,301.1ZM177.2,339.9 178.4,342.1 182.8,339.7 181.6,337.5ZM363.3,146.1 361.1,145.1 359.1,149.7 361.2,150.6ZM361.1,145.1 358.9,144.1 356.9,148.7 359.1,149.7ZM358.9,144.1 356.6,143.2 354.7,147.8 356.9,148.7ZM356.6,143.2 354.4,142.3 352.6,147.0 354.7,147.8ZM354.4,142.3 352.1,141.5 350.4,146.2 352.6,147.0ZM166.1,286.7 166.4,289.2 171.4,288.5 171.1,286.2ZM166.4,289.2 166.7,291.6 171.7,290.9 171.4,288.5ZM166.7,291.6 167.1,294.0 172.0,293.2 171.7,290.9ZM167.1,294.0 167.5,296.4 172.4,295.5 172.0,293.2ZM167.5,296.4 167.9,298.7 172.8,297.8 172.4,295.5ZM180.5,335.4 181.6,337.5 186.1,335.2 185.0,333.1ZM290.5,138.8 285.8,139.4 286.5,144.3 291.0,143.7ZM285.8,139.4 281.2,140.1 282.1,145.0 286.5,144.3ZM281.2,140.1 276.6,141.0 277.6,145.9 282.1,145.0ZM170.4,267.5 170.4,272.2 175.3,272.2 175.4,267.7ZM170.4,272.2 170.4,276.9 175.4,276.7 175.3,272.2ZM170.4,276.9 170.7,281.6 175.7,281.2 175.4,276.7ZM170.7,281.6 171.1,286.2 176.0,285.7 175.7,281.2ZM171.1,286.2 171.7,290.9 176.6,290.2 176.0,285.7ZM268.9,148.0 264.6,149.4 266.1,154.1 270.3,152.8ZM190.5,332.8 192.6,336.8 196.9,334.3 194.8,330.5ZM266.1,154.1 262.0,155.5 263.7,160.1 267.6,158.8ZM199.2,338.0 201.5,341.7 205.6,338.9 203.4,335.4ZM205.6,338.9 208.0,342.3 212.0,339.4 209.7,336.1ZM214.4,342.6 216.9,345.7 220.7,342.6 218.2,339.6ZM243.3,362.9 246.5,365.0 249.1,360.9 246.0,358.9ZM256.5,370.6 260.0,372.2 262.0,367.7 258.7,366.2ZM390.9,322.1 392.5,319.0 388.3,316.7 386.7,319.6ZM386.7,319.6 388.3,316.7 384.0,314.5 382.5,317.2ZM382.5,317.2 384.0,314.5 379.7,312.2 378.3,314.8ZM282.7,359.6 285.8,360.3 286.8,355.5 283.9,354.9ZM372.7,314.8 374.1,312.4 370.0,310.0 368.6,312.3ZM367.2,314.5 368.6,312.3 364.6,309.7 363.2,311.8ZM331.0,337.9 333.3,336.9 331.4,332.5 329.2,333.4ZM344.1,330.9 346.1,329.5 343.3,325.6 341.4,327.0ZM346.1,329.5 348.1,328.0 345.2,324.3 343.3,325.6ZM348.1,328.0 350.0,326.5 347.0,322.8 345.2,324.3ZM351.9,324.8 353.7,323.2 350.4,319.7 348.7,321.3ZM353.7,323.2 355.5,321.4 352.0,318.1 350.4,319.7ZM355.5,321.4 357.1,319.6 353.6,316.4 352.0,318.1ZM357.1,319.6 358.8,317.7 355.1,314.7 353.6,316.4ZM360.3,315.8 361.8,313.8 357.9,311.0 356.6,312.9ZM361.8,313.8 363.2,311.8 359.3,309.1 357.9,311.0ZM363.2,311.8 364.6,309.7 360.5,307.2 359.3,309.1ZM294.6,342.3 297.1,342.6 297.6,337.9 295.3,337.6ZM356.6,312.9 357.9,311.0 354.1,308.2 352.8,309.9ZM323.8,325.3 325.7,324.6 323.9,320.2 322.2,320.9ZM304.5,324.0 306.3,324.0 306.1,319.2 304.5,319.3ZM318.8,322.0 320.5,321.5 319.0,317.0 317.5,317.4Z"/>
<path fill="#007ae2" stroke="#007ae2" stroke-width="0.6" d="M176.9,313.7 178.5,318.1 183.1,316.4 181.7,312.1ZM178.5,318.1 180.1,322.4 184.7,320.6 183.1,316.4ZM180.3,307.8 181.7,312.1 186.4,310.6 185.1,306.4ZM181.7,312.1 183.1,316.4 187.8,314.7 186.4,310.6ZM183.1,316.4 184.7,320.6 189.3,318.7 187.8,314.7ZM184.7,320.6 186.5,324.7 191.0,322.7 189.3,318.7ZM185.1,306.4 186.4,310.6 191.1,309.1 189.8,305.1ZM191.0,322.7 192.9,326.6 197.3,324.5 195.5,320.7ZM308.7,153.0 304.5,152.9 304.5,157.8 308.5,157.9ZM304.5,152.9 300.3,153.0 300.5,157.9 304.5,157.8ZM300.3,153.0 296.2,153.2 296.5,158.1 300.5,157.9ZM296.2,153.2 292.0,153.6 292.5,158.5 296.5,158.1ZM185.3,276.4 185.5,280.5 190.4,280.2 190.2,276.2ZM185.5,280.5 185.9,284.7 190.8,284.2 190.4,280.2ZM185.9,284.7 186.4,288.8 191.3,288.1 190.8,284.2ZM188.8,301.1 189.8,305.1 194.6,303.7 193.5,299.9ZM189.8,305.1 191.1,309.1 195.7,307.5 194.6,303.7ZM195.5,320.7 197.3,324.5 201.7,322.3 200.0,318.7ZM197.3,324.5 199.2,328.2 203.5,325.9 201.7,322.3ZM292.5,158.5 288.6,159.0 289.3,163.8 293.1,163.3ZM191.9,292.1 192.6,296.0 197.4,295.0 196.7,291.2ZM192.6,296.0 193.5,299.9 198.3,298.7 197.4,295.0ZM193.5,299.9 194.6,303.7 199.3,302.4 198.3,298.7ZM201.7,322.3 203.5,325.9 207.9,323.6 206.1,320.2ZM203.5,325.9 205.5,329.4 209.7,326.9 207.9,323.6ZM293.1,163.3 289.3,163.8 289.9,168.6 293.6,168.2ZM289.3,163.8 285.5,164.4 286.3,169.2 289.9,168.6ZM207.9,323.6 209.7,326.9 213.9,324.5 212.2,321.3ZM209.7,326.9 211.7,330.2 215.8,327.6 213.9,324.5ZM211.7,330.2 213.8,333.4 217.8,330.7 215.8,327.6ZM286.3,169.2 282.8,169.9 283.8,174.7 287.2,174.0ZM282.8,169.9 279.2,170.7 280.4,175.4 283.8,174.7ZM279.2,170.7 275.7,171.7 277.0,176.4 280.4,175.4ZM213.9,324.5 215.8,327.6 219.9,325.0 218.1,322.1ZM215.8,327.6 217.8,330.7 221.8,328.0 219.9,325.0ZM217.8,330.7 219.9,333.7 223.8,330.8 221.8,328.0ZM249.1,360.9 252.2,362.8 254.6,358.6 251.7,356.8ZM277.0,176.4 273.7,177.4 275.2,182.0 278.4,181.0ZM223.8,330.8 225.9,333.6 229.7,330.6 227.8,328.0ZM225.9,333.6 228.1,336.3 231.8,333.2 229.7,330.6ZM228.1,336.3 230.4,338.9 234.0,335.7 231.8,333.2ZM263.9,363.3 267.1,364.7 269.0,360.2 265.9,358.9ZM391.2,310.8 392.5,307.7 388.0,305.9 386.7,308.8ZM386.7,308.8 388.0,305.9 383.5,304.1 382.3,306.9ZM381.1,309.6 382.3,306.9 378.0,304.9 376.8,307.4ZM382.3,306.9 383.5,304.1 379.0,302.3 378.0,304.9ZM376.8,307.4 378.0,304.9 373.6,303.0 372.5,305.3ZM372.5,305.3 373.6,303.0 369.2,301.0 368.2,303.2ZM288.8,346.2 291.4,346.7 292.2,342.0 289.8,341.5ZM368.2,303.2 369.2,301.0 364.8,299.1 363.9,301.2ZM363.9,301.2 364.8,299.1 360.5,297.1 359.6,299.1ZM333.3,326.3 335.1,325.3 332.8,321.2 331.0,322.1ZM335.1,325.3 337.0,324.2 334.5,320.2 332.8,321.2ZM337.0,324.2 338.8,323.0 336.1,319.1 334.5,320.2ZM338.8,323.0 340.5,321.8 337.7,317.9 336.1,319.1ZM340.5,321.8 342.2,320.5 339.3,316.8 337.7,317.9ZM342.2,320.5 343.9,319.2 340.8,315.5 339.3,316.8ZM343.9,319.2 345.5,317.8 342.3,314.2 340.8,315.5ZM345.5,317.8 347.1,316.3 343.8,312.9 342.3,314.2ZM358.6,301.0 359.6,299.1 355.3,297.0 354.4,298.7ZM359.6,299.1 360.5,297.1 356.2,295.2 355.3,297.0ZM296.0,332.9 298.1,333.2 298.6,328.4 296.6,328.2ZM329.3,323.0 331.0,322.1 328.8,317.9 327.2,318.8ZM331.0,322.1 332.8,321.2 330.4,317.1 328.8,317.9ZM339.3,316.8 340.8,315.5 337.8,311.9 336.4,313.0ZM340.8,315.5 342.3,314.2 339.2,310.7 337.8,311.9ZM342.3,314.2 343.8,312.9 340.5,309.5 339.2,310.7ZM343.8,312.9 345.2,311.5 341.8,308.2 340.5,309.5ZM345.2,311.5 346.5,310.0 343.0,306.9 341.8,308.2ZM346.5,310.0 347.8,308.5 344.2,305.5 343.0,306.9ZM351.4,303.8 352.5,302.2 348.4,299.7 347.4,301.2ZM352.5,302.2 353.5,300.5 349.4,298.1 348.4,299.7ZM353.5,300.5 354.4,298.7 350.2,296.5 349.4,298.1ZM298.6,328.4 300.6,328.6 300.9,323.9 299.1,323.7ZM325.6,319.5 327.2,318.8 325.1,314.5 323.6,315.2ZM333.5,315.1 334.9,314.1 332.2,310.3 330.8,311.2ZM334.9,314.1 336.4,313.0 333.5,309.3 332.2,310.3ZM340.5,309.5 341.8,308.2 338.4,304.9 337.2,306.1ZM341.8,308.2 343.0,306.9 339.5,303.7 338.4,304.9ZM343.0,306.9 344.2,305.5 340.6,302.5 339.5,303.7ZM344.2,305.5 345.3,304.1 341.6,301.2 340.6,302.5ZM345.3,304.1 346.4,302.6 342.6,299.9 341.6,301.2ZM346.4,302.6 347.4,301.2 343.5,298.5 342.6,299.9ZM319.0,317.0 323.6,315.2 321.7,310.9 317.6,312.5Z"/>
<path fill="#0069df" stroke="#0069df" stroke-width="0.6" d="M189.3,318.7 191.0,322.7 195.5,320.7 193.9,316.9ZM192.4,313.0 193.9,316.9 198.5,315.0 197.0,311.3ZM193.9,316.9 195.5,320.7 200.0,318.7 198.5,315.0ZM304.5,157.8 300.5,157.9 300.7,162.8 304.5,162.7ZM300.5,157.9 296.5,158.1 296.9,163.0 300.7,162.8ZM190.4,280.2 190.8,284.2 195.6,283.6 195.3,279.8ZM190.8,284.2 191.3,288.1 196.1,287.4 195.6,283.6ZM191.3,288.1 191.9,292.1 196.7,291.2 196.1,287.4ZM194.6,303.7 195.7,307.5 200.4,306.0 199.3,302.4ZM197.0,311.3 198.5,315.0 203.0,313.2 201.6,309.6ZM198.5,315.0 200.0,318.7 204.5,316.7 203.0,313.2ZM200.0,318.7 201.7,322.3 206.1,320.2 204.5,316.7ZM296.9,163.0 293.1,163.3 293.6,168.2 297.2,167.9ZM197.4,295.0 198.3,298.7 203.0,297.5 202.2,293.9ZM198.3,298.7 199.3,302.4 204.0,301.0 203.0,297.5ZM199.3,302.4 200.4,306.0 205.0,304.5 204.0,301.0ZM204.5,316.7 206.1,320.2 210.5,318.0 209.0,314.7ZM206.1,320.2 207.9,323.6 212.2,321.3 210.5,318.0ZM401.5,311.4 402.8,308.0 398.2,306.3 397.0,309.6ZM289.9,168.6 286.3,169.2 287.2,174.0 290.6,173.5ZM207.5,311.4 209.0,314.7 213.4,312.8 212.0,309.6ZM209.0,314.7 210.5,318.0 214.9,315.9 213.4,312.8ZM210.5,318.0 212.2,321.3 216.5,319.0 214.9,315.9ZM212.2,321.3 213.9,324.5 218.1,322.1 216.5,319.0ZM252.2,362.8 255.4,364.5 257.7,360.2 254.6,358.6ZM255.4,364.5 258.7,366.2 260.8,361.8 257.7,360.2ZM397.0,309.6 398.2,306.3 393.6,304.6 392.5,307.7ZM283.8,174.7 280.4,175.4 281.6,180.2 284.8,179.4ZM280.4,175.4 277.0,176.4 278.4,181.0 281.6,180.2ZM273.7,177.4 270.4,178.5 272.1,183.1 275.2,182.0ZM254.6,185.8 251.7,187.6 254.2,191.8 257.1,190.0ZM251.7,187.6 248.7,189.5 251.5,193.6 254.2,191.8ZM214.9,315.9 216.5,319.0 220.7,316.7 219.2,313.8ZM216.5,319.0 218.1,322.1 222.3,319.6 220.7,316.7ZM218.1,322.1 219.9,325.0 224.1,322.5 222.3,319.6ZM219.9,325.0 221.8,328.0 225.9,325.2 224.1,322.5ZM221.8,328.0 223.8,330.8 227.8,328.0 225.9,325.2ZM392.5,307.7 393.6,304.6 389.1,303.0 388.0,305.9ZM388.0,305.9 389.1,303.0 384.6,301.3 383.5,304.1ZM383.5,304.1 384.6,301.3 380.1,299.7 379.0,302.3ZM378.0,304.9 379.0,302.3 374.6,300.5 373.6,303.0ZM285.0,350.2 287.8,350.8 288.8,346.2 286.2,345.6ZM373.6,303.0 374.6,300.5 370.2,298.7 369.2,301.0ZM369.2,301.0 370.2,298.7 365.7,296.9 364.8,299.1ZM364.8,299.1 365.7,296.9 361.3,295.2 360.5,297.1ZM365.7,296.9 366.6,294.8 362.1,293.2 361.3,295.2ZM360.5,297.1 361.3,295.2 356.9,293.4 356.2,295.2ZM361.3,295.2 362.1,293.2 357.6,291.5 356.9,293.4ZM332.8,321.2 334.5,320.2 332.0,316.1 330.4,317.1ZM334.5,320.2 336.1,319.1 333.5,315.1 332.0,316.1ZM336.1,319.1 337.7,317.9 334.9,314.1 333.5,315.1ZM337.7,317.9 339.3,316.8 336.4,313.0 334.9,314.1ZM354.4,298.7 355.3,297.0 351.1,294.9 350.2,296.5ZM355.3,297.0 356.2,295.2 351.8,293.3 351.1,294.9ZM356.2,295.2 356.9,293.4 352.5,291.6 351.8,293.3ZM356.9,293.4 357.6,291.5 353.2,289.9 352.5,291.6ZM327.2,318.8 328.8,317.9 326.6,313.8 325.1,314.5ZM328.8,317.9 330.4,317.1 328.0,313.0 326.6,313.8ZM330.4,317.1 332.0,316.1 329.4,312.1 328.0,313.0ZM332.0,316.1 333.5,315.1 330.8,311.2 329.4,312.1ZM336.4,313.0 337.8,311.9 334.8,308.3 333.5,309.3ZM337.8,311.9 339.2,310.7 336.0,307.2 334.8,308.3ZM339.2,310.7 340.5,309.5 337.2,306.1 336.0,307.2ZM347.4,301.2 348.4,299.7 344.4,297.1 343.5,298.5ZM348.4,299.7 349.4,298.1 345.3,295.7 344.4,297.1ZM349.4,298.1 350.2,296.5 346.1,294.3 345.3,295.7ZM350.2,296.5 351.1,294.9 346.8,292.8 346.1,294.3ZM351.1,294.9 351.8,293.3 347.5,291.3 346.8,292.8ZM351.8,293.3 352.5,291.6 348.1,289.8 347.5,291.3ZM352.5,291.6 353.2,289.9 348.7,288.3 348.1,289.8ZM353.2,289.9 353.8,288.2 349.3,286.7 348.7,288.3ZM353.8,288.2 354.3,286.5 349.7,285.2 349.3,286.7ZM300.9,323.9 302.7,324.0 302.9,319.2 301.2,319.2ZM323.6,315.2 328.0,313.0 325.7,308.9 321.7,310.9ZM328.0,313.0 332.2,310.3 329.4,306.5 325.7,308.9ZM332.2,310.3 336.0,307.2 332.8,303.7 329.4,306.5ZM336.0,307.2 339.5,303.7 336.0,300.5 332.8,303.7ZM339.5,303.7 342.6,299.9 338.8,297.1 336.0,300.5ZM342.6,299.9 345.3,295.7 341.2,293.4 338.8,297.1ZM345.3,295.7 347.5,291.3 343.2,289.4 341.2,293.4ZM347.5,291.3 349.3,286.7 344.8,285.3 343.2,289.4ZM349.3,286.7 350.5,282.0 345.9,281.0 344.8,285.3ZM329.4,306.5 332.8,303.7 329.7,300.2 326.6,302.6ZM332.8,303.7 336.0,300.5 332.5,297.4 329.7,300.2Z"/>
<path fill="#0057db" stroke="#0057db" stroke-width="0.6" d="M190.2,276.2 190.4,280.2 195.3,279.8 195.1,276.0ZM408.6,306.0 409.7,302.4 405.0,301.0 404.0,304.5ZM300.7,162.8 296.9,163.0 297.2,167.9 300.9,167.7ZM196.7,291.2 197.4,295.0 202.2,293.9 201.5,290.4ZM402.8,308.0 404.0,304.5 399.3,303.0 398.2,306.3ZM293.6,168.2 289.9,168.6 290.6,173.5 294.1,173.0ZM204.0,301.0 205.0,304.5 209.7,303.0 208.7,299.7ZM398.2,306.3 399.3,303.0 394.7,301.5 393.6,304.6ZM399.3,303.0 400.3,299.7 395.7,298.3 394.7,301.5ZM287.2,174.0 283.8,174.7 284.8,179.4 288.0,178.8ZM248.7,189.5 245.9,191.5 248.7,195.5 251.5,193.6ZM245.9,191.5 243.1,193.6 246.1,197.4 248.7,195.5ZM212.0,309.6 213.4,312.8 217.8,310.8 216.5,307.7ZM213.4,312.8 214.9,315.9 219.2,313.8 217.8,310.8ZM260.8,361.8 263.9,363.3 265.9,358.9 262.9,357.5ZM394.7,301.5 395.7,298.3 391.0,297.0 390.1,300.0ZM281.6,180.2 278.4,181.0 279.7,185.7 282.7,184.8ZM278.4,181.0 275.2,182.0 276.7,186.6 279.7,185.7ZM275.2,182.0 272.1,183.1 273.7,187.6 276.7,186.6ZM272.1,183.1 269.0,184.2 270.8,188.7 273.7,187.6ZM269.0,184.2 265.9,185.5 267.9,190.0 270.8,188.7ZM265.9,185.5 262.9,186.9 265.0,191.3 267.9,190.0ZM262.9,186.9 260.0,188.4 262.2,192.7 265.0,191.3ZM260.0,188.4 257.1,190.0 259.5,194.2 262.2,192.7ZM257.1,190.0 254.2,191.8 256.8,195.8 259.5,194.2ZM219.2,313.8 220.7,316.7 225.0,314.5 223.6,311.7ZM220.7,316.7 222.3,319.6 226.5,317.2 225.0,314.5ZM222.3,319.6 224.1,322.5 228.1,319.9 226.5,317.2ZM224.1,322.5 225.9,325.2 229.9,322.5 228.1,319.9ZM225.9,325.2 227.8,328.0 231.7,325.1 229.9,322.5ZM227.8,328.0 229.7,330.6 233.6,327.6 231.7,325.1ZM229.7,330.6 231.8,333.2 235.5,330.1 233.6,327.6ZM231.8,333.2 234.0,335.7 237.6,332.4 235.5,330.1ZM269.0,360.2 272.1,361.3 273.7,356.8 270.8,355.7ZM272.1,361.3 275.2,362.4 276.7,357.8 273.7,356.8ZM389.1,303.0 390.1,300.0 385.5,298.5 384.6,301.3ZM390.1,300.0 391.0,297.0 386.4,295.7 385.5,298.5ZM276.7,357.8 279.7,358.7 281.0,354.1 278.2,353.2ZM384.6,301.3 385.5,298.5 381.0,297.0 380.1,299.7ZM385.5,298.5 386.4,295.7 381.8,294.4 381.0,297.0ZM281.0,354.1 283.9,354.9 285.0,350.2 282.3,349.5ZM379.0,302.3 380.1,299.7 375.6,298.1 374.6,300.5ZM380.1,299.7 381.0,297.0 376.4,295.6 375.6,298.1ZM374.6,300.5 375.6,298.1 371.1,296.4 370.2,298.7ZM375.6,298.1 376.4,295.6 371.9,294.1 371.1,296.4ZM370.2,298.7 371.1,296.4 366.6,294.8 365.7,296.9ZM371.1,296.4 371.9,294.1 367.3,292.6 366.6,294.8ZM289.8,341.5 292.2,342.0 293.0,337.3 290.8,336.8ZM366.6,294.8 367.3,292.6 362.8,291.1 362.1,293.2ZM367.3,292.6 368.0,290.4 363.4,289.1 362.8,291.1ZM293.0,337.3 295.3,337.6 296.0,332.9 293.9,332.6ZM362.1,293.2 362.8,291.1 358.3,289.7 357.6,291.5ZM362.8,291.1 363.4,289.1 358.9,287.8 358.3,289.7ZM363.4,289.1 364.0,287.0 359.4,285.9 358.9,287.8ZM357.6,291.5 358.3,289.7 353.8,288.2 353.2,289.9ZM358.3,289.7 358.9,287.8 354.3,286.5 353.8,288.2ZM358.9,287.8 359.4,285.9 354.8,284.7 354.3,286.5ZM359.4,285.9 359.8,284.0 355.2,283.0 354.8,284.7ZM359.8,284.0 360.2,282.0 355.5,281.2 355.2,283.0ZM296.6,328.2 298.6,328.4 299.1,323.7 297.3,323.5ZM354.3,286.5 354.8,284.7 350.2,283.6 349.7,285.2ZM354.8,284.7 355.2,283.0 350.5,282.0 350.2,283.6ZM355.2,283.0 355.5,281.2 350.9,280.4 350.5,282.0ZM355.5,281.2 355.8,279.4 351.1,278.8 350.9,280.4ZM355.8,279.4 356.0,277.6 351.3,277.1 351.1,278.8ZM356.0,277.6 356.2,275.8 351.5,275.5 351.3,277.1ZM350.5,282.0 351.3,277.1 346.6,276.6 345.9,281.0ZM351.3,277.1 351.6,272.2 346.8,272.2 346.6,276.6ZM325.7,308.9 329.4,306.5 326.6,302.6 323.3,304.8ZM336.0,300.5 338.8,297.1 334.9,294.3 332.5,297.4ZM338.8,297.1 341.2,293.4 337.1,291.0 334.9,294.3ZM341.2,293.4 343.2,289.4 338.9,287.5 337.1,291.0ZM343.2,289.4 344.8,285.3 340.3,283.8 338.9,287.5ZM344.8,285.3 345.9,281.0 341.3,280.0 340.3,283.8ZM345.9,281.0 346.6,276.6 341.9,276.1 341.3,280.0Z"/>
<path fill="#0046d7" stroke="#0046d7" stroke-width="0.6" d="M409.7,302.4 410.7,298.7 406.0,297.5 405.0,301.0ZM206.1,224.2 204.5,227.7 209.0,229.7 210.5,226.4ZM204.5,227.7 203.0,231.2 207.5,233.0 209.0,229.7ZM195.1,276.0 195.3,279.8 200.2,279.5 200.0,275.8ZM195.3,279.8 195.6,283.6 200.5,283.1 200.2,279.5ZM195.6,283.6 196.1,287.4 200.9,286.8 200.5,283.1ZM196.1,287.4 196.7,291.2 201.5,290.4 200.9,286.8ZM404.0,304.5 405.0,301.0 400.3,299.7 399.3,303.0ZM405.0,301.0 406.0,297.5 401.3,296.3 400.3,299.7ZM304.5,167.6 300.9,167.7 301.0,172.5 304.5,172.5ZM300.9,167.7 297.2,167.9 297.5,172.7 301.0,172.5ZM297.2,167.9 293.6,168.2 294.1,173.0 297.5,172.7ZM234.5,194.5 231.9,197.0 235.2,200.5 237.8,198.1ZM231.9,197.0 229.3,199.6 232.8,202.9 235.2,200.5ZM202.2,293.9 203.0,297.5 207.7,296.3 207.0,292.9ZM203.0,297.5 204.0,301.0 208.7,299.7 207.7,296.3ZM400.3,299.7 401.3,296.3 396.5,295.1 395.7,298.3ZM401.3,296.3 402.0,292.9 397.3,291.9 396.5,295.1ZM294.1,173.0 290.6,173.5 291.3,178.3 294.6,177.9ZM290.6,173.5 287.2,174.0 288.0,178.8 291.3,178.3ZM243.1,193.6 240.4,195.8 243.5,199.5 246.1,197.4ZM208.7,299.7 209.7,303.0 214.3,301.5 213.3,298.3ZM210.8,306.3 212.0,309.6 216.5,307.7 215.4,304.6ZM254.6,358.6 257.7,360.2 260.0,356.0 257.1,354.4ZM257.7,360.2 260.8,361.8 262.9,357.5 260.0,356.0ZM395.7,298.3 396.5,295.1 391.9,294.0 391.0,297.0ZM396.5,295.1 397.3,291.9 392.6,290.9 391.9,294.0ZM397.3,291.9 397.9,288.7 393.2,287.8 392.6,290.9ZM397.9,288.7 398.4,285.4 393.7,284.7 393.2,287.8ZM398.4,285.4 398.8,282.1 394.0,281.6 393.7,284.7ZM398.8,282.1 399.1,278.8 394.3,278.5 394.0,281.6ZM288.0,178.8 284.8,179.4 285.8,184.1 288.9,183.5ZM284.8,179.4 281.6,180.2 282.7,184.8 285.8,184.1ZM254.2,191.8 251.5,193.6 254.2,197.6 256.8,195.8ZM251.5,193.6 248.7,195.5 251.6,199.4 254.2,197.6ZM248.7,195.5 246.1,197.4 249.1,201.3 251.6,199.4ZM215.4,304.6 216.5,307.7 221.0,305.9 219.9,303.0ZM216.5,307.7 217.8,310.8 222.3,308.8 221.0,305.9ZM217.8,310.8 219.2,313.8 223.6,311.7 222.3,308.8ZM265.9,358.9 269.0,360.2 270.8,355.7 267.9,354.4ZM391.0,297.0 391.9,294.0 387.2,292.8 386.4,295.7ZM391.9,294.0 392.6,290.9 387.8,289.9 387.2,292.8ZM392.6,290.9 393.2,287.8 388.4,287.0 387.8,289.9ZM393.2,287.8 393.7,284.7 388.9,284.1 388.4,287.0ZM393.7,284.7 394.0,281.6 389.2,281.1 388.9,284.1ZM394.0,281.6 394.3,278.5 389.5,278.1 389.2,281.1ZM222.3,308.8 223.6,311.7 227.9,309.6 226.7,306.9ZM223.6,311.7 225.0,314.5 229.3,312.2 227.9,309.6ZM225.0,314.5 226.5,317.2 230.7,314.8 229.3,312.2ZM226.5,317.2 228.1,319.9 232.2,317.4 230.7,314.8ZM228.1,319.9 229.9,322.5 233.9,319.8 232.2,317.4ZM229.9,322.5 231.7,325.1 235.6,322.3 233.9,319.8ZM231.7,325.1 233.6,327.6 237.4,324.7 235.6,322.3ZM233.6,327.6 235.5,330.1 239.2,327.0 237.4,324.7ZM386.4,295.7 387.2,292.8 382.5,291.7 381.8,294.4ZM387.2,292.8 387.8,289.9 383.1,288.9 382.5,291.7ZM387.8,289.9 388.4,287.0 383.7,286.2 383.1,288.9ZM388.4,287.0 388.9,284.1 384.1,283.4 383.7,286.2ZM388.9,284.1 389.2,281.1 384.5,280.6 384.1,283.4ZM381.0,297.0 381.8,294.4 377.2,293.0 376.4,295.6ZM381.8,294.4 382.5,291.7 377.9,290.5 377.2,293.0ZM382.5,291.7 383.1,288.9 378.5,287.9 377.9,290.5ZM383.1,288.9 383.7,286.2 379.0,285.3 378.5,287.9ZM383.7,286.2 384.1,283.4 379.4,282.7 379.0,285.3ZM376.4,295.6 377.2,293.0 372.6,291.7 371.9,294.1ZM377.2,293.0 377.9,290.5 373.2,289.3 372.6,291.7ZM377.9,290.5 378.5,287.9 373.8,286.9 373.2,289.3ZM378.5,287.9 379.0,285.3 374.3,284.5 373.8,286.9ZM286.2,345.6 288.8,346.2 289.8,341.5 287.4,340.9ZM371.9,294.1 372.6,291.7 368.0,290.4 367.3,292.6ZM372.6,291.7 373.2,289.3 368.6,288.2 368.0,290.4ZM373.2,289.3 373.8,286.9 369.1,285.9 368.6,288.2ZM368.0,290.4 368.6,288.2 364.0,287.0 363.4,289.1ZM368.6,288.2 369.1,285.9 364.5,284.9 364.0,287.0ZM369.1,285.9 369.6,283.7 364.9,282.8 364.5,284.9ZM364.0,287.0 364.5,284.9 359.8,284.0 359.4,285.9ZM364.5,284.9 364.9,282.8 360.2,282.0 359.8,284.0ZM364.9,282.8 365.2,280.7 360.5,280.1 360.2,282.0ZM293.9,332.6 296.0,332.9 296.6,328.2 294.7,327.9ZM360.2,282.0 360.5,280.1 355.8,279.4 355.5,281.2ZM360.5,280.1 360.7,278.1 356.0,277.6 355.8,279.4ZM360.7,278.1 360.9,276.1 356.2,275.8 356.0,277.6ZM360.9,276.1 361.0,274.2 356.3,274.0 356.2,275.8ZM356.2,275.8 356.3,274.0 351.5,273.8 351.5,275.5ZM356.3,274.0 356.3,272.2 351.6,272.2 351.5,273.8ZM356.3,272.2 356.3,270.4 351.5,270.6 351.6,272.2ZM356.3,270.4 356.2,268.6 351.5,268.9 351.5,270.6ZM351.6,272.2 351.3,267.3 346.6,267.8 346.8,272.2ZM299.6,319.0 304.5,319.3 304.5,314.5 300.1,314.3ZM313.3,313.6 317.6,312.5 316.1,308.0 312.3,309.0ZM317.6,312.5 321.7,310.9 319.8,306.6 316.1,308.0ZM321.7,310.9 325.7,308.9 323.3,304.8 319.8,306.6ZM346.6,276.6 346.8,272.2 342.1,272.2 341.9,276.1ZM326.6,302.6 329.7,300.2 326.5,296.7 323.8,298.8ZM329.7,300.2 332.5,297.4 329.0,294.2 326.5,296.7Z"/>
<path fill="#0034d3" stroke="#0034d3" stroke-width="0.6" d="M203.0,231.2 201.6,234.8 206.2,236.4 207.5,233.0ZM201.6,234.8 200.4,238.4 205.0,239.9 206.2,236.4ZM200.4,238.4 199.3,242.0 204.0,243.4 205.0,239.9ZM199.3,242.0 198.3,245.7 203.0,246.9 204.0,243.4ZM198.3,245.7 197.4,249.4 202.2,250.5 203.0,246.9ZM197.4,249.4 196.7,253.2 201.5,254.0 202.2,250.5ZM195.0,272.2 195.1,276.0 200.0,275.8 199.9,272.2ZM326.2,169.9 322.7,169.2 321.8,174.0 325.2,174.7ZM322.7,169.2 319.1,168.6 318.4,173.5 321.8,174.0ZM308.1,167.7 304.5,167.6 304.5,172.5 308.0,172.5ZM212.2,223.1 210.5,226.4 214.9,228.5 216.5,225.4ZM210.5,226.4 209.0,229.7 213.4,231.6 214.9,228.5ZM200.0,275.8 200.2,279.5 205.0,279.2 204.8,275.7ZM200.2,279.5 200.5,283.1 205.3,282.6 205.0,279.2ZM200.5,283.1 200.9,286.8 205.8,286.1 205.3,282.6ZM200.9,286.8 201.5,290.4 206.3,289.5 205.8,286.1ZM201.5,290.4 202.2,293.9 207.0,292.9 206.3,289.5ZM308.0,172.5 304.5,172.5 304.5,177.3 307.8,177.4ZM304.5,172.5 301.0,172.5 301.2,177.4 304.5,177.3ZM301.0,172.5 297.5,172.7 297.9,177.6 301.2,177.4ZM297.5,172.7 294.1,173.0 294.6,177.9 297.9,177.6ZM232.8,202.9 230.4,205.5 234.0,208.7 236.3,206.3ZM230.4,205.5 228.1,208.1 231.8,211.2 234.0,208.7ZM228.1,208.1 225.9,210.8 229.7,213.8 231.8,211.2ZM207.0,292.9 207.7,296.3 212.5,295.1 211.7,291.9ZM207.7,296.3 208.7,299.7 213.3,298.3 212.5,295.1ZM294.6,177.9 291.3,178.3 292.0,183.0 295.1,182.7ZM291.3,178.3 288.0,178.8 288.9,183.5 292.0,183.0ZM246.1,197.4 243.5,199.5 246.6,203.2 249.1,201.3ZM243.5,199.5 241.0,201.7 244.3,205.3 246.6,203.2ZM214.3,301.5 215.4,304.6 219.9,303.0 218.9,300.0ZM262.9,357.5 265.9,358.9 267.9,354.4 265.0,353.1ZM285.8,184.1 282.7,184.8 283.9,189.5 286.8,188.9ZM282.7,184.8 279.7,185.7 281.0,190.3 283.9,189.5ZM279.7,185.7 276.7,186.6 278.2,191.2 281.0,190.3ZM276.7,186.6 273.7,187.6 275.4,192.1 278.2,191.2ZM273.7,187.6 270.8,188.7 272.6,193.2 275.4,192.1ZM270.8,188.7 267.9,190.0 269.8,194.4 272.6,193.2ZM267.9,190.0 265.0,191.3 267.1,195.6 269.8,194.4ZM265.0,191.3 262.2,192.7 264.5,197.0 267.1,195.6ZM262.2,192.7 259.5,194.2 261.9,198.4 264.5,197.0ZM259.5,194.2 256.8,195.8 259.3,199.9 261.9,198.4ZM256.8,195.8 254.2,197.6 256.9,201.6 259.3,199.9ZM254.2,197.6 251.6,199.4 254.4,203.3 256.9,201.6ZM251.6,199.4 249.1,201.3 252.0,205.1 254.4,203.3ZM249.1,201.3 246.6,203.2 249.7,206.9 252.0,205.1ZM218.9,300.0 219.9,303.0 224.4,301.3 223.5,298.5ZM219.9,303.0 221.0,305.9 225.5,304.1 224.4,301.3ZM221.0,305.9 222.3,308.8 226.7,306.9 225.5,304.1ZM273.7,356.8 276.7,357.8 278.2,353.2 275.4,352.3ZM225.5,304.1 226.7,306.9 231.0,304.9 230.0,302.3ZM226.7,306.9 227.9,309.6 232.2,307.4 231.0,304.9ZM227.9,309.6 229.3,312.2 233.5,309.9 232.2,307.4ZM229.3,312.2 230.7,314.8 234.9,312.4 233.5,309.9ZM230.7,314.8 232.2,317.4 236.3,314.8 234.9,312.4ZM232.2,317.4 233.9,319.8 237.8,317.2 236.3,314.8ZM233.9,319.8 235.6,322.3 239.5,319.5 237.8,317.2ZM235.6,322.3 237.4,324.7 241.1,321.7 239.5,319.5ZM278.2,353.2 281.0,354.1 282.3,349.5 279.7,348.7ZM384.1,283.4 384.5,280.6 379.7,280.1 379.4,282.7ZM384.5,280.6 384.7,277.8 379.9,277.5 379.7,280.1ZM379.0,285.3 379.4,282.7 374.6,282.1 374.3,284.5ZM379.4,282.7 379.7,280.1 374.9,279.6 374.6,282.1ZM379.7,280.1 379.9,277.5 375.2,277.1 374.9,279.6ZM379.9,277.5 380.1,274.8 375.3,274.7 375.2,277.1ZM380.1,274.8 380.1,272.2 375.3,272.2 375.3,274.7ZM380.1,272.2 380.1,269.6 375.3,269.7 375.3,272.2ZM373.8,286.9 374.3,284.5 369.6,283.7 369.1,285.9ZM374.3,284.5 374.6,282.1 369.9,281.4 369.6,283.7ZM374.6,282.1 374.9,279.6 370.2,279.1 369.9,281.4ZM374.9,279.6 375.2,277.1 370.4,276.8 370.2,279.1ZM287.4,340.9 289.8,341.5 290.8,336.8 288.5,336.3ZM369.6,283.7 369.9,281.4 365.2,280.7 364.9,282.8ZM369.9,281.4 370.2,279.1 365.5,278.6 365.2,280.7ZM370.2,279.1 370.4,276.8 365.6,276.5 365.5,278.6ZM365.2,280.7 365.5,278.6 360.7,278.1 360.5,280.1ZM365.5,278.6 365.6,276.5 360.9,276.1 360.7,278.1ZM365.6,276.5 365.8,274.3 361.0,274.2 360.9,276.1ZM361.0,274.2 361.0,272.2 356.3,272.2 356.3,274.0ZM361.0,272.2 361.0,270.2 356.3,270.4 356.3,272.2ZM361.0,270.2 360.9,268.3 356.2,268.6 356.3,270.4ZM360.9,268.3 360.7,266.3 356.0,266.8 356.2,268.6ZM294.7,327.9 296.6,328.2 297.3,323.5 295.5,323.2ZM356.2,268.6 356.0,266.8 351.3,267.3 351.5,268.9ZM356.0,266.8 355.8,265.0 351.1,265.6 351.3,267.3ZM355.8,265.0 355.5,263.2 350.9,264.0 351.1,265.6ZM299.1,323.7 300.9,323.9 301.2,319.2 299.6,319.0ZM351.3,267.3 350.5,262.4 345.9,263.4 346.6,267.8ZM308.9,314.3 313.3,313.6 312.3,309.0 308.4,309.6ZM346.8,272.2 346.6,267.8 341.9,268.3 342.1,272.2ZM323.3,304.8 326.6,302.6 323.8,298.8 321.0,300.7ZM332.5,297.4 334.9,294.3 331.1,291.5 329.0,294.2ZM334.9,294.3 337.1,291.0 333.0,288.7 331.1,291.5ZM337.1,291.0 338.9,287.5 334.6,285.6 333.0,288.7ZM338.9,287.5 340.3,283.8 335.8,282.4 334.6,285.6ZM340.3,283.8 341.3,280.0 336.7,279.0 335.8,282.4ZM341.3,280.0 341.9,276.1 337.2,275.6 336.7,279.0Z"/>
<path fill="#0023d0" stroke="#0023d0" stroke-width="0.6" d="M196.7,253.2 196.1,257.0 200.9,257.6 201.5,254.0ZM196.1,257.0 195.6,260.8 200.5,261.3 200.9,257.6ZM195.6,260.8 195.3,264.6 200.2,264.9 200.5,261.3ZM209.0,229.7 207.5,233.0 212.0,234.8 213.4,231.6ZM207.5,233.0 206.2,236.4 210.8,238.1 212.0,234.8ZM206.2,236.4 205.0,239.9 209.7,241.4 210.8,238.1ZM205.0,239.9 204.0,243.4 208.7,244.7 209.7,241.4ZM204.0,243.4 203.0,246.9 207.7,248.1 208.7,244.7ZM203.0,246.9 202.2,250.5 207.0,251.5 207.7,248.1ZM202.2,250.5 201.5,254.0 206.3,254.9 207.0,251.5ZM200.2,264.9 200.0,268.6 204.8,268.7 205.0,265.2ZM200.0,268.6 199.9,272.2 204.8,272.2 204.8,268.7ZM199.9,272.2 200.0,275.8 204.8,275.7 204.8,272.2ZM341.9,179.7 338.6,178.5 336.9,183.1 340.0,184.2ZM338.6,178.5 335.3,177.4 333.8,182.0 336.9,183.1ZM335.3,177.4 332.0,176.4 330.6,181.0 333.8,182.0ZM332.0,176.4 328.6,175.4 327.4,180.2 330.6,181.0ZM328.6,175.4 325.2,174.7 324.2,179.4 327.4,180.2ZM325.2,174.7 321.8,174.0 321.0,178.8 324.2,179.4ZM321.8,174.0 318.4,173.5 317.7,178.3 321.0,178.8ZM318.4,173.5 314.9,173.0 314.4,177.9 317.7,178.3ZM314.9,173.0 311.5,172.7 311.1,177.6 314.4,177.9ZM311.5,172.7 308.0,172.5 307.8,177.4 311.1,177.6ZM240.4,195.8 237.8,198.1 241.0,201.7 243.5,199.5ZM237.8,198.1 235.2,200.5 238.6,204.0 241.0,201.7ZM235.2,200.5 232.8,202.9 236.3,206.3 238.6,204.0ZM225.9,210.8 223.8,213.6 227.8,216.4 229.7,213.8ZM223.8,213.6 221.8,216.4 225.9,219.2 227.8,216.4ZM221.8,216.4 219.9,219.4 224.1,221.9 225.9,219.2ZM219.9,219.4 218.1,222.3 222.3,224.8 224.1,221.9ZM218.1,222.3 216.5,225.4 220.7,227.7 222.3,224.8ZM216.5,225.4 214.9,228.5 219.2,230.6 220.7,227.7ZM214.9,228.5 213.4,231.6 217.8,233.6 219.2,230.6ZM213.4,231.6 212.0,234.8 216.5,236.7 217.8,233.6ZM204.8,272.2 204.8,275.7 209.7,275.5 209.6,272.2ZM204.8,275.7 205.0,279.2 209.9,278.8 209.7,275.5ZM205.0,279.2 205.3,282.6 210.2,282.1 209.9,278.8ZM205.3,282.6 205.8,286.1 210.6,285.4 210.2,282.1ZM205.8,286.1 206.3,289.5 211.1,288.7 210.6,285.4ZM206.3,289.5 207.0,292.9 211.7,291.9 211.1,288.7ZM379.3,213.8 377.2,211.2 373.5,214.3 375.4,216.8ZM377.2,211.2 375.0,208.7 371.4,212.0 373.5,214.3ZM375.0,208.7 372.7,206.3 369.3,209.7 371.4,212.0ZM351.9,190.0 349.0,188.4 346.8,192.7 349.5,194.2ZM349.0,188.4 346.1,186.9 344.0,191.3 346.8,192.7ZM346.1,186.9 343.1,185.5 341.1,190.0 344.0,191.3ZM343.1,185.5 340.0,184.2 338.2,188.7 341.1,190.0ZM340.0,184.2 336.9,183.1 335.3,187.6 338.2,188.7ZM327.4,180.2 324.2,179.4 323.2,184.1 326.3,184.8ZM324.2,179.4 321.0,178.8 320.1,183.5 323.2,184.1ZM321.0,178.8 317.7,178.3 317.0,183.0 320.1,183.5ZM317.7,178.3 314.4,177.9 313.9,182.7 317.0,183.0ZM314.4,177.9 311.1,177.6 310.8,182.4 313.9,182.7ZM311.1,177.6 307.8,177.4 307.6,182.2 310.8,182.4ZM307.8,177.4 304.5,177.3 304.5,182.2 307.6,182.2ZM304.5,177.3 301.2,177.4 301.4,182.2 304.5,182.2ZM301.2,177.4 297.9,177.6 298.2,182.4 301.4,182.2ZM297.9,177.6 294.6,177.9 295.1,182.7 298.2,182.4ZM241.0,201.7 238.6,204.0 242.0,207.4 244.3,205.3ZM238.6,204.0 236.3,206.3 239.7,209.7 242.0,207.4ZM236.3,206.3 234.0,208.7 237.6,212.0 239.7,209.7ZM234.0,208.7 231.8,211.2 235.5,214.3 237.6,212.0ZM231.8,211.2 229.7,213.8 233.6,216.8 235.5,214.3ZM229.7,213.8 227.8,216.4 231.7,219.3 233.6,216.8ZM210.6,285.4 211.1,288.7 215.8,287.8 215.3,284.7ZM211.1,288.7 211.7,291.9 216.4,290.9 215.8,287.8ZM211.7,291.9 212.5,295.1 217.1,294.0 216.4,290.9ZM375.4,216.8 373.5,214.3 369.8,217.4 371.6,219.7ZM373.5,214.3 371.4,212.0 367.8,215.2 369.8,217.4ZM371.4,212.0 369.3,209.7 365.8,213.0 367.8,215.2ZM369.3,209.7 367.0,207.4 363.7,210.9 365.8,213.0ZM367.0,207.4 364.7,205.3 361.5,208.9 363.7,210.9ZM364.7,205.3 362.4,203.2 359.3,206.9 361.5,208.9ZM298.2,182.4 295.1,182.7 295.6,187.5 298.6,187.2ZM295.1,182.7 292.0,183.0 292.6,187.8 295.6,187.5ZM292.0,183.0 288.9,183.5 289.7,188.3 292.6,187.8ZM288.9,183.5 285.8,184.1 286.8,188.9 289.7,188.3ZM246.6,203.2 244.3,205.3 247.5,208.9 249.7,206.9ZM244.3,205.3 242.0,207.4 245.3,210.9 247.5,208.9ZM242.0,207.4 239.7,209.7 243.2,213.0 245.3,210.9ZM218.0,297.0 218.9,300.0 223.5,298.5 222.6,295.7ZM267.9,354.4 270.8,355.7 272.6,351.2 269.8,350.0ZM270.8,355.7 273.7,356.8 275.4,352.3 272.6,351.2ZM387.2,251.6 386.4,248.7 381.8,250.0 382.5,252.7ZM386.4,248.7 385.5,245.9 381.0,247.4 381.8,250.0ZM381.1,234.8 379.7,232.2 375.5,234.5 376.8,237.0ZM379.7,232.2 378.3,229.6 374.1,232.0 375.5,234.5ZM286.8,188.9 283.9,189.5 285.0,194.2 287.8,193.6ZM283.9,189.5 281.0,190.3 282.3,194.9 285.0,194.2ZM281.0,190.3 278.2,191.2 279.7,195.7 282.3,194.9ZM278.2,191.2 275.4,192.1 277.0,196.6 279.7,195.7ZM275.4,192.1 272.6,193.2 274.4,197.7 277.0,196.6ZM272.6,193.2 269.8,194.4 271.8,198.7 274.4,197.7ZM269.8,194.4 267.1,195.6 269.3,199.9 271.8,198.7ZM267.1,195.6 264.5,197.0 266.8,201.2 269.3,199.9ZM264.5,197.0 261.9,198.4 264.3,202.6 266.8,201.2ZM261.9,198.4 259.3,199.9 261.9,204.0 264.3,202.6ZM259.3,199.9 256.9,201.6 259.5,205.5 261.9,204.0ZM256.9,201.6 254.4,203.3 257.2,207.2 259.5,205.5ZM254.4,203.3 252.0,205.1 255.0,208.8 257.2,207.2ZM252.0,205.1 249.7,206.9 252.8,210.6 255.0,208.8ZM249.7,206.9 247.5,208.9 250.7,212.4 252.8,210.6ZM221.8,292.8 222.6,295.7 227.2,294.4 226.5,291.7ZM222.6,295.7 223.5,298.5 228.0,297.0 227.2,294.4ZM223.5,298.5 224.4,301.3 228.9,299.7 228.0,297.0ZM224.4,301.3 225.5,304.1 230.0,302.3 228.9,299.7ZM382.5,252.7 381.8,250.0 377.2,251.4 377.9,253.9ZM381.8,250.0 381.0,247.4 376.4,248.8 377.2,251.4ZM381.0,247.4 380.1,244.7 375.6,246.3 376.4,248.8ZM380.1,244.7 379.0,242.1 374.6,243.9 375.6,246.3ZM227.2,294.4 228.0,297.0 232.6,295.6 231.8,293.0ZM228.0,297.0 228.9,299.7 233.4,298.1 232.6,295.6ZM228.9,299.7 230.0,302.3 234.4,300.5 233.4,298.1ZM230.0,302.3 231.0,304.9 235.4,303.0 234.4,300.5ZM231.0,304.9 232.2,307.4 236.5,305.3 235.4,303.0ZM232.2,307.4 233.5,309.9 237.7,307.7 236.5,305.3ZM233.5,309.9 234.9,312.4 239.0,310.0 237.7,307.7ZM234.9,312.4 236.3,314.8 240.4,312.3 239.0,310.0ZM236.3,314.8 237.8,317.2 241.8,314.5 240.4,312.3ZM237.8,317.2 239.5,319.5 243.3,316.6 241.8,314.5ZM282.3,349.5 285.0,350.2 286.2,345.6 283.7,344.9ZM377.2,251.4 376.4,248.8 371.9,250.3 372.6,252.7ZM234.4,300.5 235.4,303.0 239.8,301.0 238.8,298.7ZM235.4,303.0 236.5,305.3 240.8,303.2 239.8,301.0ZM236.5,305.3 237.7,307.7 242.0,305.5 240.8,303.2ZM237.7,307.7 239.0,310.0 243.2,307.6 242.0,305.5ZM239.0,310.0 240.4,312.3 244.4,309.7 243.2,307.6ZM283.7,344.9 286.2,345.6 287.4,340.9 285.0,340.3ZM375.2,277.1 375.3,274.7 370.5,274.5 370.4,276.8ZM375.3,274.7 375.3,272.2 370.6,272.2 370.5,274.5ZM375.3,272.2 375.3,269.7 370.5,269.9 370.6,272.2ZM375.3,269.7 375.2,267.3 370.4,267.6 370.5,269.9ZM375.2,267.3 374.9,264.8 370.2,265.3 370.4,267.6ZM370.4,276.8 370.5,274.5 365.8,274.3 365.6,276.5ZM370.5,274.5 370.6,272.2 365.8,272.2 365.8,274.3ZM370.6,272.2 370.5,269.9 365.8,270.1 365.8,272.2ZM370.5,269.9 370.4,267.6 365.6,267.9 365.8,270.1ZM370.4,267.6 370.2,265.3 365.5,265.8 365.6,267.9ZM370.2,265.3 369.9,263.0 365.2,263.7 365.5,265.8ZM369.9,263.0 369.6,260.7 364.9,261.6 365.2,263.7ZM369.6,260.7 369.1,258.5 364.5,259.5 364.9,261.6ZM369.1,258.5 368.6,256.2 364.0,257.4 364.5,259.5ZM290.8,336.8 293.0,337.3 293.9,332.6 291.8,332.2ZM365.8,274.3 365.8,272.2 361.0,272.2 361.0,274.2ZM365.8,272.2 365.8,270.1 361.0,270.2 361.0,272.2ZM365.8,270.1 365.6,267.9 360.9,268.3 361.0,270.2ZM365.6,267.9 365.5,265.8 360.7,266.3 360.9,268.3ZM365.5,265.8 365.2,263.7 360.5,264.3 360.7,266.3ZM365.2,263.7 364.9,261.6 360.2,262.4 360.5,264.3ZM364.9,261.6 364.5,259.5 359.8,260.4 360.2,262.4ZM364.5,259.5 364.0,257.4 359.4,258.5 359.8,260.4ZM364.0,257.4 363.4,255.3 358.9,256.6 359.4,258.5ZM291.8,332.2 293.9,332.6 294.7,327.9 292.7,327.5ZM360.7,266.3 360.5,264.3 355.8,265.0 356.0,266.8ZM360.5,264.3 360.2,262.4 355.5,263.2 355.8,265.0ZM360.2,262.4 359.8,260.4 355.2,261.4 355.5,263.2ZM359.8,260.4 359.4,258.5 354.8,259.7 355.2,261.4ZM359.4,258.5 358.9,256.6 354.3,257.9 354.8,259.7ZM292.7,327.5 294.7,327.9 295.5,323.2 293.7,322.9ZM355.5,263.2 355.2,261.4 350.5,262.4 350.9,264.0ZM355.2,261.4 354.8,259.7 350.2,260.8 350.5,262.4ZM354.8,259.7 354.3,257.9 349.7,259.2 350.2,260.8ZM354.3,257.9 353.8,256.2 349.3,257.7 349.7,259.2ZM297.3,323.5 299.1,323.7 299.6,319.0 297.9,318.8ZM350.5,262.4 349.3,257.7 344.8,259.1 345.9,263.4ZM304.5,314.5 308.9,314.3 308.4,309.6 304.5,309.8ZM346.6,267.8 345.9,263.4 341.3,264.4 341.9,268.3ZM300.1,314.3 304.5,314.5 304.5,309.8 300.6,309.6ZM319.8,306.6 323.3,304.8 321.0,300.7 317.9,302.3ZM341.9,276.1 342.1,272.2 337.4,272.2 337.2,275.6ZM321.0,300.7 323.8,298.8 321.1,295.0 318.6,296.6ZM323.8,298.8 326.5,296.7 323.4,293.2 321.1,295.0ZM326.5,296.7 329.0,294.2 325.5,291.1 323.4,293.2ZM333.0,288.7 334.6,285.6 330.3,283.7 328.9,286.3ZM334.6,285.6 335.8,282.4 331.3,280.9 330.3,283.7Z"/>
<path fill="#0011cc" stroke="#0011cc" stroke-width="0.6" d="M201.5,254.0 200.9,257.6 205.8,258.3 206.3,254.9ZM200.9,257.6 200.5,261.3 205.3,261.8 205.8,258.3ZM200.5,261.3 200.2,264.9 205.0,265.2 205.3,261.8ZM212.0,234.8 210.8,238.1 215.4,239.8 216.5,236.7ZM204.8,268.7 204.8,272.2 209.6,272.2 209.7,268.9ZM336.9,183.1 333.8,182.0 332.3,186.6 335.3,187.6ZM333.8,182.0 330.6,181.0 329.3,185.7 332.3,186.6ZM330.6,181.0 327.4,180.2 326.3,184.8 329.3,185.7ZM227.8,216.4 225.9,219.2 229.9,221.9 231.7,219.3ZM225.9,219.2 224.1,221.9 228.1,224.5 229.9,221.9ZM224.1,221.9 222.3,224.8 226.5,227.2 228.1,224.5ZM222.3,224.8 220.7,227.7 225.0,229.9 226.5,227.2ZM220.7,227.7 219.2,230.6 223.6,232.7 225.0,229.9ZM209.7,275.5 209.9,278.8 214.7,278.5 214.5,275.3ZM209.9,278.8 210.2,282.1 215.0,281.6 214.7,278.5ZM210.2,282.1 210.6,285.4 215.3,284.7 215.0,281.6ZM357.4,199.4 354.8,197.6 352.1,201.6 354.6,203.3ZM354.8,197.6 352.2,195.8 349.7,199.9 352.1,201.6ZM352.2,195.8 349.5,194.2 347.1,198.4 349.7,199.9ZM349.5,194.2 346.8,192.7 344.5,197.0 347.1,198.4ZM346.8,192.7 344.0,191.3 341.9,195.6 344.5,197.0ZM310.8,182.4 307.6,182.2 307.5,187.0 310.4,187.2ZM307.6,182.2 304.5,182.2 304.5,187.0 307.5,187.0ZM304.5,182.2 301.4,182.2 301.5,187.0 304.5,187.0ZM301.4,182.2 298.2,182.4 298.6,187.2 301.5,187.0ZM239.7,209.7 237.6,212.0 241.2,215.2 243.2,213.0ZM237.6,212.0 235.5,214.3 239.2,217.4 241.2,215.2ZM378.3,229.6 376.8,227.0 372.7,229.6 374.1,232.0ZM376.8,227.0 375.1,224.6 371.2,227.2 372.7,229.6ZM373.4,222.1 371.6,219.7 367.9,222.7 369.5,224.9ZM371.6,219.7 369.8,217.4 366.1,220.5 367.9,222.7ZM369.8,217.4 367.8,215.2 364.3,218.4 366.1,220.5ZM367.8,215.2 365.8,213.0 362.3,216.3 364.3,218.4ZM365.8,213.0 363.7,210.9 360.4,214.4 362.3,216.3ZM363.7,210.9 361.5,208.9 358.3,212.4 360.4,214.4ZM361.5,208.9 359.3,206.9 356.2,210.6 358.3,212.4ZM295.6,187.5 292.6,187.8 293.3,192.6 296.1,192.2ZM292.6,187.8 289.7,188.3 290.5,193.0 293.3,192.6ZM289.7,188.3 286.8,188.9 287.8,193.6 290.5,193.0ZM247.5,208.9 245.3,210.9 248.6,214.4 250.7,212.4ZM245.3,210.9 243.2,213.0 246.7,216.3 248.6,214.4ZM220.6,287.0 221.2,289.9 225.9,288.9 225.3,286.2ZM221.2,289.9 221.8,292.8 226.5,291.7 225.9,288.9ZM275.4,352.3 278.2,353.2 279.7,348.7 277.0,347.8ZM379.0,242.1 378.0,239.5 373.6,241.4 374.6,243.9ZM378.0,239.5 376.8,237.0 372.5,239.1 373.6,241.4ZM376.8,237.0 375.5,234.5 371.3,236.7 372.5,239.1ZM375.5,234.5 374.1,232.0 370.0,234.4 371.3,236.7ZM225.9,288.9 226.5,291.7 231.1,290.5 230.5,287.9ZM226.5,291.7 227.2,294.4 231.8,293.0 231.1,290.5ZM376.4,248.8 375.6,246.3 371.1,248.0 371.9,250.3ZM375.6,246.3 374.6,243.9 370.2,245.7 371.1,248.0ZM374.6,243.9 373.6,241.4 369.2,243.4 370.2,245.7ZM231.8,293.0 232.6,295.6 237.1,294.1 236.4,291.7ZM232.6,295.6 233.4,298.1 237.9,296.4 237.1,294.1ZM233.4,298.1 234.4,300.5 238.8,298.7 237.9,296.4ZM240.4,312.3 241.8,314.5 245.8,311.8 244.4,309.7ZM241.8,314.5 243.3,316.6 247.2,313.8 245.8,311.8ZM371.1,248.0 370.2,245.7 365.7,247.5 366.6,249.6ZM368.6,256.2 368.0,254.0 363.4,255.3 364.0,257.4ZM368.0,254.0 367.3,251.8 362.8,253.3 363.4,255.3ZM367.3,251.8 366.6,249.6 362.1,251.2 362.8,253.3ZM363.4,255.3 362.8,253.3 358.3,254.7 358.9,256.6ZM362.8,253.3 362.1,251.2 357.6,252.9 358.3,254.7ZM358.9,256.6 358.3,254.7 353.8,256.2 354.3,257.9ZM358.3,254.7 357.6,252.9 353.2,254.5 353.8,256.2ZM353.8,256.2 353.2,254.5 348.7,256.1 349.3,257.7ZM353.2,254.5 352.5,252.8 348.1,254.6 348.7,256.1ZM345.9,263.4 344.8,259.1 340.3,260.6 341.3,264.4ZM312.3,309.0 316.1,308.0 314.7,303.5 311.3,304.4ZM316.1,308.0 319.8,306.6 317.9,302.3 314.7,303.5ZM329.0,294.2 331.1,291.5 327.3,288.8 325.5,291.1ZM331.1,291.5 333.0,288.7 328.9,286.3 327.3,288.8ZM335.8,282.4 336.7,279.0 332.1,278.1 331.3,280.9ZM336.7,279.0 337.2,275.6 332.5,275.1 332.1,278.1Z"/>
</g>
<defs><path id="L" d="M299.7,500.5 299.8,499.4 300.1,498.4 299.4,497.5 299.2,496.4 298.6,495.3 298.4,494.1 299.8,493.7 299.9,492.3 300.6,490.4 300.3,488.4 300.4,486.5 299.9,484.7 298.3,483.6 296.4,483.4 295.5,482.2 294.3,481.2 293.2,480.8 292.0,481.1 291.1,481.8 290.6,482.9 289.9,483.8 288.8,483.7 288.1,482.9 288.0,481.9 288.7,480.6 288.9,479.2 288.1,477.6 287.4,475.9 288.7,475.3 290.1,475.7 291.3,475.1 292.2,474.0 293.6,474.2 294.6,475.3 296.0,476.7 297.4,475.4 298.8,475.4 300.4,474.3 299.9,472.5 298.9,471.2 299.0,469.5 300.2,470.0 300.7,471.2 301.7,470.8 302.7,470.5 303.7,471.0 304.8,470.7 306.0,469.7 307.5,469.4 308.0,467.8 309.6,467.4 310.1,466.1 309.1,465.3 308.9,464.0 309.8,463.2 311.4,462.8 312.8,462.0 314.5,461.5 315.7,460.3 315.4,459.1 315.1,457.9 316.6,458.3 317.4,457.0 316.3,455.5 315.9,453.6 317.6,452.8 319.3,452.1 319.9,450.4 321.6,449.8 322.8,449.7 324.1,449.7 324.5,448.1 326.1,448.3 327.1,448.9 328.2,448.7 329.3,448.4 329.7,447.3 331.3,446.7 330.9,445.0 331.0,443.8 330.9,442.6 329.6,441.9 329.9,440.4 329.4,439.5 329.6,438.4 328.6,438.0 328.0,437.1 326.2,436.6 325.7,434.8 326.0,433.2 327.2,432.0 328.8,431.0 328.3,429.3 327.6,427.9 326.6,426.8 328.5,426.8 328.7,424.8 330.3,424.3 330.9,425.9 331.8,424.5 333.2,425.3 333.5,426.9 332.7,428.2 334.0,429.4 333.4,431.0 335.2,431.7 334.1,431.8 333.0,432.1 332.6,433.1 332.5,434.2 332.5,436.1 333.4,437.8 331.7,438.8 332.7,440.5 333.4,441.6 334.7,442.0 335.9,442.3 337.2,441.8 338.2,442.8 337.3,443.9 338.4,444.9 339.8,444.4 340.7,443.4 340.9,442.1 340.5,440.5 341.2,439.0 342.7,439.9 344.3,439.2 345.9,438.9 347.5,438.9 346.7,440.6 347.8,442.1 349.1,441.8 349.9,440.8 349.2,439.8 348.7,438.7 350.5,439.0 352.3,438.7 353.4,439.3 354.4,438.3 355.2,437.6 356.4,437.6 357.4,436.8 357.1,435.6 357.9,434.8 358.7,434.0 359.9,434.5 360.2,435.7 361.9,436.0 363.0,434.7 364.0,433.3 362.7,432.1 363.4,430.2 365.0,429.0 363.8,428.5 362.6,427.9 362.8,426.5 363.3,425.3 363.5,423.8 362.1,423.3 361.1,422.3 361.6,421.0 361.9,419.6 363.3,419.5 362.3,418.7 362.3,417.4 363.6,417.1 364.4,416.0 364.2,417.2 365.0,418.0 366.0,418.3 367.1,418.2 368.3,418.0 369.6,417.7 369.8,415.9 368.9,414.4 368.1,412.9 367.6,411.3 366.2,410.6 364.6,410.4 364.4,409.1 363.4,408.2 364.7,406.8 366.0,405.3 366.8,406.8 368.3,406.0 369.5,405.8 370.5,405.2 370.8,404.0 371.5,403.1 372.4,402.4 373.4,401.7 373.9,400.8 374.8,400.3 374.8,399.2 374.4,398.3 375.8,397.8 376.4,399.2 376.1,397.9 377.3,397.2 376.2,396.5 374.9,396.2 373.6,395.9 372.3,396.0 370.6,396.9 370.1,398.7 368.3,399.0 366.8,400.0 366.3,401.5 365.0,402.5 363.2,402.0 361.4,402.3 361.9,404.1 361.2,405.8 359.4,405.0 357.7,404.0 356.2,403.1 355.0,401.8 353.5,401.0 354.3,399.4 353.6,398.3 353.7,397.0 352.6,395.5 353.6,394.0 352.3,393.4 351.0,392.7 352.7,392.4 353.5,390.7 353.2,389.3 354.6,389.0 353.7,388.5 353.0,387.6 353.6,386.1 353.1,384.5 354.7,383.5 354.4,381.6 354.2,380.1 355.7,379.9 354.4,379.1 355.0,377.8 353.9,377.2 352.7,377.5 351.6,377.5 351.2,378.8 351.1,380.1 349.8,379.0 348.5,379.9 348.4,381.9 348.0,383.8 347.6,385.0 348.3,386.0 348.5,387.1 349.0,388.2 347.6,388.9 348.2,390.4 347.0,391.1 347.1,392.6 345.5,393.6 346.6,395.1 346.7,396.8 345.2,397.4 344.7,398.5 344.0,399.5 344.4,400.6 345.1,401.6 344.6,402.9 344.5,404.3 344.9,405.7 346.1,406.6 346.9,404.9 348.6,405.5 348.8,407.0 349.9,408.0 351.2,408.3 351.5,409.5 351.9,411.4 350.4,412.6 349.6,413.4 349.6,414.5 349.9,415.8 351.2,415.7 350.1,417.2 348.2,417.0 349.2,418.0 348.6,419.2 348.3,420.5 349.0,421.5 347.9,422.5 348.8,423.7 347.5,423.7 346.9,424.8 348.6,425.7 350.1,427.0 349.4,428.3 350.6,429.1 349.5,429.5 348.5,429.6 347.8,430.8 347.8,432.1 346.5,432.6 345.6,433.6 344.2,434.1 343.1,433.0 341.8,433.9 342.2,435.5 343.4,434.6 342.7,433.4 341.6,433.1 340.7,432.7 340.3,431.2 338.9,430.8 339.1,429.6 339.1,428.3 339.4,426.9 338.0,426.4 337.2,425.6 336.6,424.6 335.4,425.7 334.3,424.5 333.6,423.4 332.3,423.4 332.5,422.2 333.4,421.3 333.5,420.2 333.6,419.1 332.5,417.7 332.6,416.7 332.6,415.7 332.4,414.4 331.1,414.4 330.5,415.6 331.2,416.7 330.2,417.8 331.2,419.0 329.7,419.6 328.2,419.1 327.5,420.6 328.2,422.1 329.0,423.2 328.3,424.4 327.1,425.6 325.9,424.5 324.3,424.1 323.3,425.3 321.7,425.1 320.0,424.9 319.5,423.3 319.4,421.7 318.6,420.0 317.8,418.3 317.4,417.1 316.7,416.1 318.1,415.2 317.1,413.8 317.3,412.7 316.8,411.8 317.1,410.7 316.3,409.8 315.4,408.9 316.1,407.8 315.9,406.8 316.4,405.8 317.1,404.3 318.6,404.9 318.2,403.7 318.7,402.6 319.9,402.8 320.8,402.0 321.1,400.9 321.3,399.8 323.2,399.2 323.9,397.4 325.1,396.1 326.1,394.5 324.4,393.6 325.2,391.9 326.0,390.7 327.4,390.2 328.2,389.2 329.4,388.8 328.6,387.6 329.2,386.4 327.8,385.7 328.4,384.3 328.9,383.2 329.5,382.3 329.2,381.2 328.5,380.3 328.5,378.7 330.1,378.6 330.9,377.8 331.4,376.8 330.8,375.0 331.6,373.2 331.7,371.7 330.7,370.5 332.0,369.9 333.4,369.7 332.2,369.0 332.1,367.6 333.3,367.2 334.2,366.4 334.5,364.6 335.7,363.3 337.3,362.4 337.6,360.6 338.9,359.9 339.3,358.4 340.6,357.3 340.8,355.6 342.4,354.5 343.5,352.8 345.1,353.5 346.1,352.1 347.4,352.4 348.6,351.8 350.0,351.2 350.5,352.6 351.7,353.0 352.6,352.3 351.4,353.7 352.4,355.2 353.5,354.5 354.8,354.3 356.3,353.8 357.7,354.2 359.2,354.2 360.4,353.5 359.4,355.2 361.1,356.2 361.6,355.1 361.2,354.0 362.7,354.4 363.1,352.9 364.5,353.2 365.9,352.7 367.2,353.5 368.7,352.9 370.2,352.0 371.7,351.3 373.1,352.4 374.7,353.0 375.5,354.7 377.4,355.2 377.6,356.6 377.8,358.0 377.8,359.2 376.8,359.8 376.2,360.7 375.4,361.3 373.7,360.9 371.9,360.7 371.4,362.6 369.5,363.3 367.5,363.5 367.7,365.4 366.4,364.4 364.9,365.2 364.2,364.3 363.0,364.1 364.2,364.5 365.4,364.3 367.0,364.5 367.2,362.9 367.3,364.0 367.3,365.1 367.6,366.2 368.4,367.0 369.3,367.6 370.4,367.9 371.0,366.8 372.1,366.5 370.5,366.9 370.9,368.5 372.4,368.6 372.6,370.1 373.9,371.0 374.3,372.6 375.4,372.9 376.5,372.9 377.5,372.4 378.7,372.4 379.7,371.4 378.6,370.4 379.8,370.4 380.4,369.3 379.2,370.7 377.7,369.8 378.2,368.0 376.3,367.5 376.8,368.5 378.0,368.8 378.2,367.6 379.3,367.1 380.0,365.7 380.4,364.2 380.8,363.2 381.9,362.9 382.6,363.6 383.2,364.4 382.0,363.6 381.7,362.2 380.5,361.9 379.3,361.3 380.1,360.1 380.3,358.6 380.5,357.0 379.7,355.7 380.6,355.2 381.6,355.0 382.7,354.7 383.3,353.8 382.1,352.2 380.8,350.7 379.4,350.9 378.1,350.1 377.5,348.9 376.9,347.7 375.5,347.0 374.2,346.2 375.5,345.8 376.7,345.4 377.9,344.9 379.0,344.2 380.1,344.4 381.1,344.9 381.9,346.2 383.3,346.9 381.7,347.8 381.9,349.6 383.7,348.8 384.9,347.2 384.9,346.0 384.3,345.0 383.7,343.9 384.3,342.8 383.2,341.5 382.0,340.4 382.6,338.6 384.4,338.1 384.6,336.5 386.1,336.0 384.6,334.9 385.7,333.4 386.9,332.4 388.3,333.1 389.3,331.9 388.2,330.8 387.2,329.5 388.3,328.4 388.4,327.1 389.4,326.3 390.5,326.3 391.3,325.7 392.0,324.9 392.5,324.0 393.2,323.2 393.1,322.1 392.2,321.7 391.3,321.3 391.7,319.9 390.3,319.4 389.5,318.5 388.3,318.7 389.1,317.8 390.0,317.2 390.8,318.1 392.0,318.1 392.3,316.2 393.2,314.5 394.4,314.7 395.4,314.1 396.2,313.2 395.9,312.0 397.2,311.9 398.5,312.1 400.4,311.7 400.0,309.8 399.1,309.3 398.2,308.9 398.1,307.5 396.7,307.5 395.7,308.0 395.4,309.1 394.2,309.0 393.6,310.0 391.9,310.5 390.9,309.0 389.6,308.4 388.1,308.0 387.0,306.6 385.4,305.7 385.7,304.1 384.6,302.8 383.1,302.7 381.5,302.5 381.2,301.0 379.8,300.4 380.3,298.9 379.8,297.4 381.3,297.1 382.7,296.4 384.1,296.8 385.3,297.6 386.5,298.6 388.1,298.5 389.0,297.8 389.8,297.1 391.0,296.1 392.1,297.2 393.7,296.8 394.0,298.3 395.0,299.1 395.1,300.3 396.0,301.8 397.7,302.4 399.3,302.5 401.0,302.6 402.4,302.5 402.3,301.1 403.0,301.9 404.0,302.2 405.4,303.4 407.1,302.6 408.9,302.9 410.7,303.6 411.6,304.7 413.0,304.7 411.8,305.6 411.9,307.1 410.4,306.3 409.0,305.5 410.4,304.4 410.7,302.6 410.9,304.4 409.4,305.3 407.8,305.2 406.7,304.1 405.5,303.4 404.3,302.7 405.0,301.5 405.3,300.1 404.2,299.1 402.8,299.1 401.1,298.4 400.3,300.0 398.8,300.1 397.5,299.3 396.7,297.8 397.6,296.4 396.8,297.5 395.9,298.4 394.6,298.1 393.4,297.7 391.7,298.3 391.0,296.7 389.9,297.8 388.5,297.1 387.4,296.4 386.5,295.4 385.3,294.7 384.5,293.6 385.5,292.4 386.6,291.2 387.2,290.2 388.3,290.0 388.8,291.2 389.8,292.1 391.0,292.2 392.2,292.5 392.3,291.2 393.2,290.2 392.2,291.1 391.1,290.6 390.9,289.6 390.7,288.5 389.6,288.3 388.6,288.3 388.7,287.3 388.5,286.3 388.9,284.9 390.2,285.0 391.7,284.1 393.4,283.8 395.1,284.1 396.7,283.5 395.6,282.7 394.4,281.9 393.0,282.7 391.6,282.1 390.6,282.7 389.6,283.2 388.4,283.0 387.5,283.9 385.9,284.5 384.4,283.9 383.3,285.6 381.5,284.9 380.1,283.8 380.0,282.0 378.8,280.5 379.8,278.8 378.4,278.5 377.4,277.5 376.4,276.6 375.2,275.9 374.6,274.5 374.6,273.0 374.4,272.0 374.5,270.9 373.5,270.3 372.5,271.0 372.7,269.4 371.3,268.7 369.5,268.3 369.8,266.5 369.0,265.5 367.9,264.8 368.3,263.5 367.9,262.2 367.7,260.9 367.1,259.7 365.6,259.2 364.7,260.5 364.6,259.0 363.3,258.3 362.0,257.7 360.7,257.9 361.5,257.1 361.7,256.0 361.9,254.7 363.1,254.3 364.6,255.5 366.2,254.5 364.9,253.5 363.3,252.8 364.1,252.0 365.1,251.3 364.3,250.4 363.5,249.6 364.6,248.9 365.6,248.3 364.7,247.2 365.1,245.9 366.3,246.1 367.5,245.5 368.8,245.5 369.7,244.5 369.7,246.0 371.2,246.0 372.0,245.2 372.7,244.4 373.5,245.7 374.7,246.7 375.6,248.2 377.2,247.5 378.6,248.0 379.1,249.4 380.3,250.3 381.8,250.0 379.9,250.1 378.5,248.8 378.1,247.0 376.5,246.0 376.8,244.8 377.2,243.6 375.8,243.4 375.0,242.3 376.1,241.2 375.9,239.7 375.8,238.0 375.1,236.6 376.2,236.0 376.2,234.7 375.1,234.4 374.4,233.5 374.6,232.3 373.9,231.3 373.2,230.4 373.4,229.2 372.6,230.5 371.3,229.8 370.0,228.9 369.1,230.2 368.5,228.4 370.0,227.2 369.2,228.5 367.9,227.8 368.3,226.5 367.2,225.8 367.0,224.6 366.8,223.3 367.1,222.1 367.7,221.0 367.9,219.9 368.0,218.8 368.8,217.6 370.1,218.2 371.4,217.0 372.9,215.9 373.3,214.2 373.2,212.5 372.0,212.3 370.9,211.8 369.9,212.8 368.6,212.4 367.5,211.9 366.9,210.8 366.6,209.3 365.0,209.5 364.6,207.9 363.1,207.1 362.1,207.9 360.7,208.0 359.6,208.8 358.3,208.6 357.1,209.5 355.7,209.0 354.5,207.5 352.8,206.6 352.4,204.6 351.1,203.2 351.5,201.8 352.7,201.1 351.7,200.3 350.7,199.4 349.4,198.1 350.7,196.8 349.4,197.2 348.1,196.7 347.9,195.5 347.4,194.2 347.1,192.9 346.3,191.9 344.6,191.1 342.8,191.1 341.3,190.2 339.7,189.3 338.3,189.0 337.8,187.8 338.6,186.9 339.4,185.9 338.3,186.5 337.4,185.8 337.3,184.7 336.6,184.0 336.6,182.6 335.6,181.7 336.6,180.7 336.5,179.3 335.2,178.7 333.7,179.0 332.4,179.4 331.0,179.6 329.3,180.5 327.6,181.3 326.9,179.4 325.3,178.2 324.4,178.9 323.3,179.4 322.1,178.8 320.9,179.3 320.7,177.5 319.4,176.3 320.4,175.6 321.7,175.6 321.5,174.5 321.0,173.4 319.5,174.4 320.4,176.0 319.6,177.2 319.3,178.5 318.1,176.9 316.2,177.1 314.7,177.6 313.2,178.0 311.7,177.3 310.4,176.5 309.4,174.8 307.5,174.6 307.0,175.9 307.6,177.1 306.4,177.2 305.2,177.2 305.6,175.9 305.5,174.5 303.9,173.7 304.5,172.0 303.7,171.3 303.5,170.2 302.8,171.2 301.6,171.0 299.7,171.1 299.1,169.2 298.2,167.7 296.7,168.6 295.5,168.5 294.3,168.9 295.4,167.6 294.1,166.5 293.3,165.6 293.2,164.3 291.4,163.8 289.7,164.5 288.8,162.9 287.1,162.2 285.1,162.0 284.3,160.1 284.4,159.0 284.1,157.8 285.2,157.5 286.2,156.8 285.6,155.1 285.3,153.2 286.7,151.8 288.6,151.5 289.8,151.2 290.6,150.3 291.8,150.9 293.0,151.6 294.2,152.2 295.1,153.3 295.4,154.6 295.1,155.9 296.2,156.7 297.6,156.4 298.5,155.7 299.3,155.0 300.3,155.7 301.4,155.4 301.1,156.8 300.2,157.9 301.4,158.6 302.5,159.3 302.2,158.3 301.8,157.2 302.7,156.3 303.9,156.2 304.6,154.7 304.5,152.9 303.9,151.4 305.4,150.9 306.6,151.0 307.7,151.0 308.7,151.4 309.8,151.6 309.5,149.7 307.8,148.9 307.5,147.2 307.8,145.6 307.1,144.2 305.8,143.5 304.4,142.1 305.6,140.6 307.1,140.0 308.6,139.5 309.7,140.8 311.4,140.7 313.0,140.1 314.3,138.9 315.6,137.7 317.5,137.7 318.8,137.8 319.7,138.9 321.5,138.4 321.0,136.6 322.0,135.0 323.9,134.4 325.1,133.4 326.1,132.2 327.9,131.8 328.3,130.0 329.5,129.5 329.8,128.2 330.2,127.0 329.8,125.9 330.3,127.4 331.1,128.7 332.6,128.2 334.0,127.4 334.0,129.2 334.8,130.9 336.2,131.6 335.9,133.1 336.9,132.3 338.2,132.0 340.1,131.7 341.0,129.9 342.4,131.1 343.2,132.8 344.1,133.3 345.0,133.8 345.4,132.8 346.0,132.0 346.0,130.4 346.9,129.1 346.4,127.6 347.1,126.2 348.7,125.9 349.6,124.7 351.0,124.6 352.5,124.5 352.9,123.3 352.2,122.3 352.6,121.2 352.3,120.1 352.5,118.9 351.8,117.9 351.7,116.8 351.7,115.7 353.2,115.3 354.3,114.1 352.9,113.1 353.0,111.4 354.0,112.3 355.4,112.7 355.7,110.9 357.5,111.1 358.1,111.9 359.0,112.5 360.0,112.2 361.0,112.1 362.4,111.6 362.6,110.2 363.6,110.9 364.7,111.7 365.0,109.8 364.5,108.0 365.1,106.3 365.5,104.5 366.8,104.7 367.8,105.5 369.0,105.0 370.2,104.6 370.3,103.5 369.6,102.7 370.6,101.8 370.0,100.7 370.9,100.3 371.9,100.1 372.7,101.2 373.9,100.4 375.7,99.9 376.6,98.2 377.6,98.8 378.7,99.4 380.1,98.7 379.9,97.2 380.1,98.3 380.2,99.4 380.5,100.5 381.1,101.5 379.3,100.9 378.6,102.7 379.2,104.0 378.8,105.4 379.3,107.0 378.0,108.2 378.1,109.7 378.9,110.9 377.9,111.9 376.5,112.6 375.6,113.8 375.6,115.4 376.8,117.0 375.2,118.2 376.6,118.9 377.1,120.4 376.3,121.6 375.0,122.2 373.6,121.5 372.2,122.3 371.3,123.0 371.0,124.0 369.6,123.6 369.1,125.0 368.2,125.6 367.7,126.5 366.4,126.8 366.3,128.1 364.7,128.3 365.0,129.8 364.4,128.4 363.0,129.1 362.8,130.3 362.5,131.5 361.4,130.9 360.1,131.0 358.7,130.8 357.4,130.2 356.5,131.7 354.8,131.5 353.5,132.3 353.6,133.8 353.9,135.4 352.6,136.3 353.0,137.7 351.6,138.1 351.2,139.1 350.5,139.8 349.4,139.7 348.4,140.2 347.2,140.3 346.3,139.5 346.3,140.6 346.2,141.8 346.1,143.0 345.1,143.8 343.9,143.6 343.0,144.5 341.7,144.1 340.9,145.2 341.5,143.9 342.8,144.4 343.7,145.6 344.8,144.7 345.8,145.0 346.8,145.4 346.9,146.5 347.6,147.3 347.5,146.2 347.4,145.0 345.7,144.8 346.0,143.1 347.4,143.4 348.1,142.2 348.2,140.6 349.8,140.6 349.7,142.6 351.2,143.8 352.6,145.1 354.4,145.5 356.0,146.4 357.9,146.4 359.0,146.1 360.2,146.0 360.9,144.9 360.4,143.7 361.3,142.8 362.6,143.0 363.0,141.9 363.5,140.9 364.6,142.0 366.1,142.4 366.8,141.0 367.6,139.8 368.4,138.9 369.0,137.9 370.2,138.5 371.3,137.8 371.7,138.8 372.6,139.5 373.6,140.0 374.5,140.5 374.5,141.9 373.9,143.1 375.3,143.3 376.3,144.3 377.3,145.5 378.4,146.7 380.0,146.2 381.7,146.3 382.7,146.8 383.7,146.5 384.6,147.1 385.6,147.3 386.8,147.9 388.1,148.0 388.0,149.2 388.1,150.5 389.1,150.8 389.9,151.5 390.8,151.0 391.9,150.8 391.0,151.8 391.8,152.9 392.9,153.2 393.4,154.3 394.5,154.3 395.3,155.0 396.4,154.3 396.1,153.1 397.6,153.4 398.6,154.6 400.0,154.6 400.0,156.1 400.6,155.2 401.5,154.6 402.7,153.8 403.3,152.4 405.0,152.9 405.6,151.2 406.8,151.6 408.0,151.9 409.9,151.3 410.5,149.5 411.6,150.3 412.8,149.5 413.3,150.7 412.8,151.9 414.2,153.0 415.8,153.9 414.9,152.6 416.2,151.6 417.4,152.5 418.5,151.7 420.2,151.2 421.6,152.3 423.3,152.0 424.1,150.5 423.6,149.1 425.0,148.6 424.5,147.7 424.4,146.7 424.9,145.6 424.4,144.5 423.8,143.4 422.6,143.3 421.5,143.0 420.4,143.2 419.2,142.3 418.3,143.6 417.4,142.7 416.9,141.5 417.5,140.4 418.0,139.3 418.2,137.5 419.2,136.0 418.7,134.9 419.2,133.8 418.2,133.3 417.1,133.1 418.1,131.8 418.8,130.2 420.0,128.9 421.8,128.8 423.2,127.8 424.0,126.3 422.8,125.0 422.6,123.3 423.8,124.4 425.3,123.9 426.7,123.0 428.1,123.8 429.6,123.6 430.7,122.6 431.2,121.2 432.1,120.1 433.2,119.5 433.9,118.5 433.4,117.4 432.8,116.3 434.8,116.3 436.6,117.0 437.5,115.8 438.9,116.0 440.2,115.6 441.4,116.3 442.0,115.1 443.2,114.5 444.4,113.5 445.8,114.2 446.8,113.3 448.1,113.8 449.0,113.0 449.6,111.9 449.5,113.4 449.8,114.8 451.3,114.3 452.7,115.1 454.3,114.3 455.6,113.2 455.4,111.9 456.0,110.7 457.2,111.0 458.5,111.1 459.4,111.7 460.5,111.3 461.6,111.0 462.0,109.9 464.0,109.7 465.4,108.4 467.3,108.4 469.2,108.4 471.1,108.8 472.8,109.7 474.3,109.5 474.4,111.0 475.3,111.7 475.8,112.6 476.8,113.3 476.7,114.5 477.1,115.5 477.5,116.4 479.2,117.3 480.7,118.5 482.6,118.5 482.6,120.4 483.4,119.3 484.5,118.5 486.2,117.5 487.1,119.3 487.6,118.0 487.9,116.6 488.1,115.6 488.6,114.7 488.6,113.6 488.0,112.8 489.2,113.4 490.6,113.4 491.6,112.5 492.6,111.7 492.9,113.0 493.9,113.8 494.2,115.0 493.7,116.2 508.4,107.1 517.5,99.7 526.2,110.9 534.2,122.6 541.6,134.6 548.4,147.1 554.5,159.8 560.0,172.9 564.8,186.2 568.9,199.7 572.3,213.5 574.9,227.4 576.9,241.4 578.1,255.5 578.6,269.7 578.4,283.8 577.4,297.9 575.7,312.0 573.3,325.9 570.2,339.7 566.3,353.4 561.8,366.8 556.6,379.9 550.7,392.8 544.1,405.3 536.9,417.5 529.1,429.3 520.7,440.7 511.7,451.7 502.2,462.1 492.1,472.1 481.5,481.5 470.5,490.4 459.0,498.6 447.1,506.3 434.8,513.4 422.2,519.8 409.3,525.5 396.1,530.6 382.6,535.0 368.9,538.6 355.1,541.6 341.1,543.9 327.0,545.4 312.9,546.2 298.8,546.3 295.3,543.8 291.9,541.2 294.9,538.0 297.0,534.3 298.5,530.9 302.1,530.1 302.1,526.8 302.3,523.5 305.5,521.3 304.3,517.6 307.8,515.0 305.3,511.5 300.4,512.4 299.5,507.5 301.4,504.1ZM410.4,135.1 411.8,135.8 413.2,135.2 413.5,133.7 414.7,132.9 414.2,131.5 412.8,131.1 412.1,129.7 412.8,128.4 414.0,127.3 412.9,126.1 411.7,126.6 410.6,126.1 410.4,124.3 411.6,123.0 413.0,122.2 414.4,122.8 416.1,123.3 417.0,121.8 417.9,120.6 417.0,119.4 417.9,118.5 419.1,118.4 419.8,117.7 420.5,116.9 420.9,116.0 421.5,115.2 421.2,113.4 422.2,111.9 420.6,112.2 420.3,110.6 420.2,109.1 421.6,108.6 422.8,109.2 423.9,109.7 424.2,111.0 424.6,112.2 425.5,111.2 426.8,111.1 427.5,110.0 428.8,109.8 428.0,108.3 427.5,106.6 429.3,106.4 430.7,105.3 431.1,104.2 431.6,103.2 431.3,102.1 431.2,101.0 433.0,100.4 433.4,98.6 433.7,100.4 433.9,102.3 435.1,102.8 436.3,102.4 437.3,101.7 438.0,100.7 437.0,101.6 435.7,102.1 434.2,102.5 432.9,101.7 432.3,103.6 434.1,104.3 433.1,104.6 432.1,104.9 432.1,106.0 432.7,106.9 431.6,105.6 430.0,106.3 429.7,108.0 427.9,108.1 428.0,109.5 428.7,110.7 427.1,111.4 427.5,113.0 427.5,114.6 426.8,116.0 425.6,117.1 424.0,117.0 423.5,118.0 422.5,118.4 423.0,119.2 423.6,120.0 422.8,119.0 421.6,119.4 421.1,120.4 421.0,121.5 419.6,122.0 420.0,123.4 419.6,124.5 420.1,125.6 418.7,125.5 417.4,125.6 416.7,126.7 416.7,128.1 415.7,129.0 415.2,130.3 413.5,130.4 413.2,132.0 413.3,133.4 413.2,134.8 411.8,134.7ZM441.3,99.0 440.1,97.5 439.6,95.7 441.0,95.5 440.8,94.0 440.9,92.9 440.3,92.0 439.7,91.1 439.0,90.2 438.1,90.8 437.1,91.4 436.3,89.7 437.5,88.3 436.1,88.4 435.5,87.1 434.6,86.4 433.6,85.8 434.6,84.8 435.5,83.7 436.0,82.3 436.1,80.8 437.3,81.0 438.2,81.9 437.9,80.3 439.6,80.0 441.1,81.1 442.3,82.5 442.7,80.7 444.5,80.1 446.1,79.8 447.7,80.1 448.8,80.7 449.7,81.5 448.4,82.5 449.2,83.9 449.6,84.9 449.9,86.0 450.8,86.5 451.9,86.9 453.7,86.4 455.5,86.1 456.5,86.3 457.5,86.7 457.9,85.3 459.3,85.7 459.3,87.7 457.7,88.7 456.2,89.9 455.9,91.7 454.3,91.9 452.7,92.5 451.6,91.6 452.0,90.2 451.1,91.3 449.7,90.9 450.8,91.4 451.9,91.4 452.1,92.6 451.5,93.6 452.2,94.9 451.0,95.8 450.0,95.2 448.8,95.3 447.8,96.1 446.5,96.3 445.5,95.5 444.3,95.2 443.7,94.0 442.4,93.9 441.7,94.8 441.2,95.8 441.1,97.4ZM371.7,325.4 372.9,324.6 372.3,323.3 371.2,323.1 370.2,322.6 369.9,321.6 369.3,320.8 368.4,320.2 367.6,319.7 366.5,320.0 365.5,319.5 364.4,318.6 365.2,317.4 365.9,316.6 366.0,315.5 364.8,315.4 364.5,314.2 365.5,313.0 365.0,311.5 363.2,312.3 362.4,310.5 364.0,310.8 364.3,309.2 363.5,308.0 364.5,306.9 364.0,305.9 363.0,305.2 362.0,304.9 360.9,304.8 362.0,303.3 361.2,301.6 359.9,301.5 359.7,300.2 359.6,298.8 360.9,298.5 360.4,297.5 360.6,296.4 361.3,295.6 361.6,294.6 362.8,295.7 364.4,296.4 365.4,298.0 364.9,299.9 365.6,301.5 365.5,303.3 364.5,304.5 364.7,306.0 365.6,307.1 366.7,308.1 366.5,309.7 368.0,310.0 368.7,311.0 368.6,312.3 368.2,313.8 369.6,314.8 370.8,315.2 371.9,316.0 373.2,317.1 372.6,318.7 373.5,320.1 375.1,319.8 376.8,319.0 377.7,320.5 379.1,321.1 380.4,320.6 381.5,321.1 381.6,322.3 380.7,322.9 379.6,322.6 379.6,323.7 379.4,324.7 378.1,325.0 376.9,325.8 375.1,326.5 373.3,326.5ZM323.0,333.6 321.7,332.8 321.1,331.4 320.2,330.1 318.7,329.9 317.8,328.1 317.0,326.4 315.6,326.2 315.7,324.8 315.3,323.6 314.1,323.6 312.9,322.7 313.7,321.5 313.5,320.4 313.3,319.4 314.8,319.3 316.0,318.3 317.3,317.0 318.3,318.1 319.7,317.7 320.1,319.2 321.7,318.9 321.6,320.1 321.4,321.2 322.0,322.1 322.5,323.2 323.7,323.0 324.4,322.1 324.3,323.9 323.4,325.5 324.6,326.8 323.8,328.4 322.5,328.9 322.3,330.3 321.9,331.9 323.5,332.5ZM318.8,316.1 320.6,315.5 321.2,313.6 322.0,312.2 323.5,312.9 324.7,312.9 325.7,313.7 327.0,314.9 327.2,316.7 326.4,317.5 326.3,318.5 325.3,318.6 324.4,319.0 322.9,319.1 321.4,318.7 320.2,317.2ZM324.9,323.9 326.4,324.2 327.9,324.7 327.7,326.0 327.9,327.3 326.8,326.7 325.6,327.2 326.2,325.4ZM335.8,303.5 335.5,302.1 336.3,300.8 336.9,299.3 338.5,299.7 338.3,301.7 340.2,302.2 339.2,302.8 338.2,303.7 337.1,302.8ZM341.0,299.7 339.7,299.6 338.5,299.0 338.9,297.7 339.2,296.5 337.9,296.0 337.1,294.9 338.2,294.0 338.4,292.5 340.0,293.0 341.1,291.6 341.5,293.0 340.7,294.1 342.2,293.3 343.2,294.6 342.9,296.1 343.6,297.6 341.7,297.9ZM343.1,292.7 343.2,291.4 342.9,290.1 344.3,289.8 345.0,291.1 343.7,291.5ZM355.2,268.2 354.6,267.2 353.5,266.8 352.5,267.4 351.3,267.3 351.6,265.8 351.4,264.4 352.6,264.2 353.7,264.8 353.8,263.1 355.5,263.2 357.1,263.9 356.5,265.2 356.5,266.7ZM357.9,262.8 356.9,262.1 356.0,261.4 354.9,260.8 353.7,261.3 354.2,260.1 354.9,259.0 356.0,258.3 357.3,258.1 358.2,258.9 359.5,259.0 358.6,260.5 360.0,261.4 359.0,262.3ZM350.5,269.0 351.2,267.9 350.8,266.7 349.7,266.0 348.5,266.2 347.3,266.1 346.1,265.8 346.0,267.0 345.7,268.2 346.0,266.8 347.4,266.5 348.8,267.0 350.3,266.6 349.4,267.9ZM351.4,221.0 350.1,220.9 349.0,221.4 348.2,222.3 347.2,223.1 346.3,221.5 345.2,220.1 344.8,218.9 343.5,218.7 343.9,217.6 344.7,216.8 345.5,215.2 347.4,215.3 348.5,214.7 349.5,215.3 349.8,216.4 350.9,216.8 351.3,218.4 349.8,219.1 350.1,220.5ZM344.8,215.7 343.8,214.3 342.0,214.4 340.6,214.8 339.9,213.4 339.0,212.6 338.9,211.4 339.4,210.4 340.4,210.0 341.4,210.6 342.0,211.6 343.5,210.9 344.1,212.3 344.2,214.1ZM354.6,212.4 353.3,213.8 351.9,212.7 352.2,210.8 350.9,209.5 352.2,208.6 353.4,209.6 354.6,210.8ZM306.5,182.2 306.1,183.9 304.5,184.6 303.5,183.7 302.4,184.5 301.9,183.4 300.8,183.2 301.8,182.6 302.1,181.5 303.6,180.9 304.3,182.3 305.4,181.9ZM256.2,387.7 257.7,387.4 258.7,388.6 259.1,390.0 260.1,390.9 261.2,390.5 262.2,391.0 263.4,391.4 263.5,392.6 264.8,392.8 265.3,391.6 265.8,390.7 266.1,389.7 267.4,388.8 268.2,390.1 268.5,391.2 268.9,392.2 270.4,393.0 272.0,393.2 273.7,392.4 273.9,390.5 275.1,391.3 276.2,390.5 276.0,389.3 276.5,388.1 277.8,387.0 277.7,385.2 276.6,385.4 275.6,385.0 274.7,383.9 275.7,382.9 274.6,381.4 273.7,379.8 272.4,380.2 271.5,379.2 270.9,380.6 269.5,380.0 268.8,378.7 267.6,377.8 265.8,377.2 265.0,379.0 263.9,379.9 264.2,381.2 263.2,379.9 261.9,381.0 263.0,379.5 264.4,378.4 263.3,376.9 261.8,375.9 260.6,375.7 259.8,376.7 258.7,376.3 257.8,377.1 257.0,377.8 256.2,378.6 257.9,379.0 259.4,378.0 260.4,379.3 260.6,381.0 259.7,381.9 259.6,383.2 259.1,381.8 257.7,382.3 256.7,381.5 255.6,382.1 256.5,382.9 257.6,383.4 257.1,385.0 258.7,385.5 257.8,387.0ZM285.1,466.8 286.2,467.3 287.4,467.3 287.7,468.3 288.5,469.0 289.3,468.0 290.5,468.5 290.7,467.5 290.6,466.5 291.7,466.5 292.6,466.1 293.7,466.8 294.8,466.2 294.9,467.3 295.9,468.0 294.9,466.8 295.2,465.4 296.5,465.2 297.8,464.7 299.3,463.8 301.0,463.2 302.7,464.0 304.5,463.8 305.7,462.9 306.3,461.6 307.7,461.0 309.1,461.6 307.7,461.2 306.8,460.1 307.6,459.2 308.7,458.9 309.4,458.0 309.7,456.9 310.5,456.1 311.3,455.4 310.5,454.6 309.9,453.7 308.8,453.0 308.0,452.0 306.6,451.3 305.4,452.2 304.9,451.3 303.9,450.9 304.1,449.9 304.8,449.1 303.7,448.0 303.9,446.5 303.1,445.1 303.7,443.7 302.2,442.4 300.9,443.9 302.0,442.8 301.2,441.6 300.0,441.0 299.8,439.7 300.2,438.0 298.7,437.1 298.0,436.2 297.3,435.3 296.4,435.9 295.3,436.4 296.9,436.6 297.1,435.0 297.4,433.9 298.1,433.0 298.0,431.9 298.7,430.9 299.5,429.8 299.6,428.4 298.5,427.9 297.4,427.6 296.1,426.5 295.0,427.7 294.1,428.3 293.0,428.6 294.1,427.9 295.2,428.5 296.0,427.5 295.4,426.4 296.0,425.0 297.5,425.2 296.2,424.6 296.3,423.2 295.7,424.1 295.7,425.2 294.4,425.9 293.7,424.6 292.8,423.4 291.3,422.8 290.6,424.7 288.8,424.1 289.4,425.3 289.6,426.8 289.7,428.4 291.0,429.4 290.0,430.6 288.4,430.7 288.6,431.8 288.8,432.8 288.3,433.8 288.5,434.9 288.7,436.1 288.8,437.2 288.8,438.5 288.1,439.5 289.4,438.9 290.6,438.2 291.0,439.4 291.5,440.5 291.4,442.3 289.6,442.2 291.1,442.9 291.8,441.5 293.0,441.8 294.1,442.0 294.8,443.0 295.7,443.7 295.7,445.0 294.5,445.7 296.1,446.2 295.6,447.8 295.8,449.3 294.8,450.4 293.9,449.5 292.6,449.2 291.4,449.7 290.2,450.1 290.8,451.4 290.0,452.7 291.4,453.3 291.4,454.9 290.0,454.5 288.6,454.5 288.9,456.1 287.7,457.2 288.6,455.9 290.1,456.6 289.2,458.1 290.8,459.0 292.0,458.7 293.2,458.4 293.8,459.5 294.6,460.3 293.3,460.9 291.9,461.2 290.9,462.4 289.5,463.2 288.8,464.6 290.3,465.2 289.9,466.3 288.8,466.8 287.4,467.2 286.9,465.9 286.1,466.5ZM285.2,449.6 286.0,447.9 286.2,446.0 287.9,445.4 288.0,443.6 287.2,442.6 285.9,442.3 286.4,441.1 286.3,439.8 284.5,440.1 283.1,438.9 282.2,439.8 280.9,439.4 280.5,440.6 279.3,441.0 278.9,442.2 278.6,443.5 277.5,444.6 276.4,445.5 274.7,445.1 274.3,443.3 275.3,444.3 275.8,445.7 274.3,446.1 273.6,447.4 275.3,448.1 276.4,449.5 275.5,450.3 274.4,449.7 275.1,450.9 274.1,451.8 272.8,451.4 271.4,451.6 270.4,452.9 271.1,454.4 272.5,455.5 272.5,457.3 273.8,458.0 275.3,458.2 276.7,457.8 277.6,456.5 278.7,456.6 279.4,457.4 279.7,456.3 280.8,455.9 282.0,455.5 282.1,454.2 283.3,454.3 284.0,455.3 283.8,453.3 285.6,452.3 284.7,451.0ZM336.2,435.2 336.4,433.6 338.0,433.4 339.1,432.8 340.4,432.7 341.0,433.6 340.8,434.7 341.1,436.4 340.3,438.0 338.7,438.7 337.2,437.6 336.7,436.4ZM332.9,436.8 334.4,436.4 335.9,436.8 335.7,437.9 335.7,438.9 333.9,438.7 333.5,437.7ZM354.0,423.7 354.9,422.5 355.2,421.1 354.2,420.6 353.8,419.6 354.2,418.5 355.3,418.1 354.1,418.4 353.5,419.5 355.0,420.0 355.7,421.4 355.1,422.7ZM361.2,414.0 362.1,412.5 363.6,411.4 364.5,412.1 362.8,413.1 362.8,415.0ZM378.9,338.5 378.3,337.0 378.5,335.4 379.7,336.4 381.2,335.9 382.2,337.0 381.2,338.2 380.3,339.5ZM385.4,321.8 385.7,320.0 384.2,319.1 385.6,319.4 387.1,318.9 387.0,320.1 387.5,321.1 386.4,321.3ZM203.8,376.8 203.9,375.6 202.9,374.9 203.4,373.9 204.4,373.4 204.6,371.4 203.0,370.2 201.5,370.4 200.9,369.0 202.2,368.4 202.2,366.9 201.5,365.4 201.0,363.7 201.4,362.3 201.4,360.8 201.8,359.4 203.0,358.3 203.3,356.5 203.5,354.6 204.9,353.4 206.0,351.9 207.3,351.5 208.5,351.0 209.4,349.5 207.8,348.6 208.5,350.4 210.4,350.6 211.5,349.3 212.4,348.0 212.3,346.8 212.3,345.6 211.6,344.6 211.8,343.3 212.2,341.4 213.7,340.2 215.1,340.4 216.3,339.8 215.7,338.6 215.9,337.3 216.2,335.4 216.7,333.6 218.7,333.5 220.4,334.4 220.3,333.0 221.7,332.8 222.6,333.4 223.6,333.4 224.8,334.6 225.9,335.9 227.0,335.0 228.4,335.2 229.7,335.5 229.9,334.1 230.2,332.8 231.2,332.0 231.9,331.0 232.4,329.8 233.4,329.0 232.7,327.3 231.0,327.7 231.3,326.2 230.0,325.3 230.6,326.7 230.6,328.2 232.1,328.0 233.6,327.6 233.2,326.0 231.6,325.5 230.8,323.8 232.3,322.7 234.0,323.0 234.9,321.6 236.6,320.9 236.3,319.1 236.7,318.0 237.9,317.6 237.0,316.7 237.1,315.5 238.5,315.0 238.5,313.6 239.1,315.1 240.7,314.5 240.6,313.0 241.6,312.0 242.7,311.2 244.0,310.8 245.6,311.6 247.1,310.6 246.5,309.1 247.0,307.5 245.3,307.1 244.4,305.7 246.2,305.1 246.2,303.2 246.5,301.6 247.2,300.1 245.5,300.2 244.2,299.1 243.4,297.8 243.5,296.2 243.2,295.0 244.2,294.3 244.1,293.1 243.0,292.7 243.0,291.1 244.5,290.6 245.4,291.6 246.5,292.2 247.7,291.1 247.7,289.6 249.1,289.2 250.4,288.7 251.5,288.4 252.1,287.5 252.7,288.5 253.9,288.6 254.6,289.6 255.6,289.9 256.7,289.4 256.9,288.2 258.1,288.5 258.6,289.5 258.2,290.5 257.3,291.3 259.2,291.3 259.3,293.1 260.3,291.9 261.8,292.1 261.3,291.1 261.1,290.0 262.2,289.9 263.2,289.3 264.2,288.1 265.8,287.8 266.1,289.3 267.3,290.3 267.7,291.8 269.0,292.6 270.0,291.6 271.3,291.0 272.8,290.3 274.1,291.1 275.0,292.3 274.8,293.8 275.7,294.3 276.5,294.9 277.0,296.3 278.3,295.8 279.6,295.5 280.3,296.6 281.4,297.6 282.5,296.7 283.7,297.7 285.1,298.6 286.3,297.4 288.1,297.4 289.3,296.7 290.5,297.5 289.8,298.6 290.4,299.8 291.4,301.4 290.7,303.1 291.5,303.9 292.4,304.5 291.7,305.4 291.4,306.4 291.4,307.5 292.1,308.3 292.6,309.5 293.9,309.3 294.6,310.2 295.8,309.9 296.7,310.7 296.4,311.8 295.4,312.4 294.5,313.3 294.1,314.4 294.1,315.7 292.5,315.3 291.4,316.4 290.3,317.8 289.2,319.2 287.6,319.2 286.6,320.5 286.6,322.0 286.9,323.4 287.6,324.6 287.1,325.9 286.8,327.2 285.8,328.1 284.7,329.5 283.2,330.7 283.1,332.7 283.0,334.7 281.2,334.4 279.7,335.5 279.3,337.4 280.5,338.8 280.2,340.8 278.5,341.7 278.3,343.1 277.5,344.3 276.2,344.7 274.9,345.4 273.6,346.9 275.0,348.3 273.9,349.4 272.4,349.6 272.7,351.3 271.0,351.5 271.5,352.5 272.1,353.6 271.3,354.5 270.6,355.6 269.8,356.6 269.9,357.9 268.8,357.2 267.7,356.8 266.3,357.8 265.2,356.4 266.7,355.7 267.4,357.2 267.5,358.5 268.4,359.4 266.9,360.2 265.7,361.4 264.7,362.8 262.9,362.8 261.6,363.7 259.9,363.6 260.1,362.1 260.3,360.7 259.0,359.5 257.5,360.4 258.6,362.0 257.0,363.1 255.6,363.4 254.3,362.8 252.9,363.8 251.1,363.8 250.0,362.6 248.6,361.7 247.2,361.7 245.8,361.8 244.8,360.8 243.6,360.0 242.5,361.0 242.8,362.5 241.1,363.3 241.9,365.0 240.3,365.9 238.9,367.2 237.2,366.3 235.9,364.9 234.5,365.1 234.2,363.7 232.9,364.5 232.1,363.2 230.7,364.1 230.1,365.5 229.1,364.4 227.8,363.6 227.5,365.3 225.8,365.0 225.0,366.1 223.8,366.6 223.8,368.6 221.9,368.9 220.4,369.7 218.9,368.9 217.8,368.8 216.7,368.5 215.6,368.7 214.7,369.5 214.3,370.6 214.1,371.7 213.1,372.3 212.2,372.9 210.7,373.5 209.1,373.9 208.3,375.3 207.2,376.5 205.5,376.8ZM225.4,328.0 226.8,328.5 227.4,327.1 228.3,327.8 229.4,327.8 228.8,329.4 229.0,331.2 227.4,330.4 226.5,332.0 226.3,330.5 224.8,330.5 223.9,329.0ZM97.3,130.8 95.7,131.1 95.7,132.7 96.2,133.9 97.5,134.3 98.5,133.7 99.6,134.2 99.9,135.2 100.4,136.1 102.3,136.1 103.2,137.7 104.8,137.3 106.4,137.6 107.6,138.4 109.0,138.8 110.4,139.0 111.7,139.8 111.6,141.3 113.1,141.5 114.1,141.0 115.2,140.6 114.4,141.4 114.2,142.5 114.5,143.6 115.4,144.2 116.6,145.5 118.4,145.9 118.6,147.0 117.7,147.8 117.7,149.2 119.1,149.3 117.1,150.1 118.0,152.2 119.2,153.4 120.9,153.3 121.6,152.4 122.8,152.0 123.8,151.3 125.0,151.6 126.2,152.7 127.8,152.8 129.2,153.5 129.9,152.1 129.2,153.5 130.6,154.1 131.9,155.1 133.5,154.9 134.9,155.8 136.5,155.9 135.3,157.0 134.0,157.7 133.2,159.1 132.2,160.3 130.8,160.5 129.4,161.0 128.3,160.1 127.1,159.2 128.2,159.6 129.4,159.9 129.7,161.0 130.1,162.0 131.4,162.2 131.8,163.5 132.8,163.8 133.9,163.5 134.8,164.3 135.9,164.3 136.6,163.4 137.5,162.9 138.7,161.9 140.1,161.3 141.6,162.0 143.1,161.3 144.3,161.3 145.2,162.2 146.0,163.0 147.1,163.4 147.3,162.1 148.5,161.7 148.6,160.4 149.5,159.6 151.2,159.7 152.4,158.5 153.7,157.1 155.4,157.8 157.1,158.0 158.6,157.2 160.5,157.8 160.6,159.8 161.6,160.1 162.6,160.5 163.6,159.8 164.7,160.3 165.7,160.1 166.7,160.3 167.8,160.5 168.8,160.3 170.2,160.7 171.1,159.5 172.8,159.1 173.2,160.8 174.5,161.1 175.9,161.4 176.8,162.7 178.4,162.6 180.3,162.6 181.8,161.5 183.7,161.6 185.1,162.8 185.7,164.4 185.5,166.2 187.2,166.4 188.8,165.8 190.4,165.6 191.0,164.1 191.9,165.5 193.5,165.0 194.1,164.2 194.3,163.1 195.3,163.8 196.3,163.1 197.4,163.5 198.3,162.9 197.7,161.7 199.0,161.0 200.2,160.7 200.9,161.8 202.0,161.2 201.9,160.0 201.8,161.2 202.6,162.1 203.9,162.4 204.7,161.3 205.8,159.7 207.7,160.3 209.3,160.4 210.9,160.6 212.4,159.5 214.1,158.4 215.2,158.4 216.2,158.5 217.1,157.9 217.7,157.1 219.4,157.0 221.1,156.9 222.2,157.4 223.5,157.4 223.8,156.2 224.0,155.1 225.2,154.6 226.4,155.0 227.3,156.2 228.7,155.5 228.0,153.8 229.2,152.4 228.7,150.9 229.2,149.3 229.3,148.1 230.0,147.1 231.2,146.5 231.2,145.2 231.8,143.8 231.6,142.2 233.0,142.0 234.5,141.6 235.3,142.1 236.1,142.7 236.8,143.5 237.9,143.8 237.7,144.8 237.9,145.9 238.3,147.3 236.9,147.7 236.6,149.4 237.7,150.6 236.0,150.9 235.4,152.6 235.9,151.6 237.0,151.1 238.2,150.9 238.5,149.7 237.7,148.8 236.4,148.7 236.6,147.5 235.8,146.5 235.0,144.9 236.6,144.1 238.0,145.0 239.1,143.8 238.4,142.3 239.3,140.9 239.3,139.5 239.1,138.1 238.1,137.1 239.2,136.1 238.8,135.0 237.5,134.9 238.4,133.4 237.8,131.8 239.1,131.7 239.5,130.4 240.0,131.4 240.9,132.1 241.7,130.6 243.2,130.0 242.1,128.8 241.1,127.7 241.4,126.3 242.7,125.5 244.0,125.0 245.4,125.0 244.4,123.9 245.0,122.5 245.3,121.3 244.9,120.0 246.4,119.1 247.8,118.0 248.8,117.2 250.1,116.9 250.4,115.3 249.0,114.6 250.4,113.4 250.4,111.6 250.9,110.5 251.0,109.3 252.2,109.5 253.3,109.9 254.1,108.8 255.3,108.2 255.5,109.8 255.3,111.7 254.5,113.4 254.8,114.7 253.4,115.1 252.5,115.6 251.4,115.4 251.3,117.1 250.3,118.4 249.5,120.1 247.6,120.1 246.5,121.2 246.6,122.8 246.1,124.2 245.2,125.4 244.2,126.3 244.5,127.6 245.3,128.7 246.6,128.7 246.0,129.6 245.0,130.2 245.6,131.2 245.9,132.2 247.4,132.4 248.5,133.4 249.4,132.4 250.5,131.5 252.2,131.7 253.8,131.1 255.1,129.9 256.7,129.3 256.9,130.5 256.9,131.7 257.8,132.7 259.2,132.7 260.0,134.3 261.7,135.0 263.5,135.0 264.8,133.6 265.5,132.6 266.8,132.3 267.4,133.3 268.6,133.9 268.9,135.4 267.5,136.2 268.4,137.0 269.7,137.5 271.2,137.8 272.0,139.2 272.3,140.6 272.0,142.0 271.0,143.2 270.2,144.5 269.3,146.2 270.6,147.6 269.3,148.9 269.7,150.7 267.8,150.1 266.4,151.4 265.5,152.0 265.2,153.0 264.9,154.1 264.1,154.8 265.2,155.3 265.9,156.2 266.1,157.5 265.3,158.5 266.4,159.4 267.4,158.3 268.2,158.9 269.1,159.3 269.9,157.4 269.9,155.5 271.8,154.9 273.4,156.0 275.3,155.7 276.1,153.8 277.0,154.5 278.2,154.4 277.6,155.5 277.8,156.6 278.9,157.9 280.5,158.4 278.7,159.1 276.8,158.9 276.4,160.9 277.2,162.7 276.1,163.5 274.7,163.1 273.3,163.7 273.4,165.2 272.8,166.8 271.1,166.5 270.6,165.2 269.5,164.4 270.8,164.6 272.0,165.0 273.5,166.0 272.5,167.5 273.8,169.0 275.3,170.3 277.2,170.2 278.9,169.3 280.0,169.9 281.3,169.8 281.4,171.1 281.1,172.3 280.4,173.1 279.8,173.8 279.1,174.6 278.6,175.4 279.5,176.1 280.5,176.7 280.5,178.0 279.3,178.6 278.0,179.8 276.3,180.1 276.3,181.7 274.7,181.7 274.9,182.9 274.1,183.9 274.4,185.3 273.3,186.2 272.1,186.7 271.1,187.5 270.3,189.3 269.2,191.0 268.4,192.1 267.0,192.0 266.2,190.9 264.8,190.8 263.4,191.0 262.4,192.1 261.1,191.4 259.7,191.3 259.9,192.3 260.1,193.4 259.2,193.8 258.5,194.6 257.2,193.2 255.3,193.4 254.0,192.2 252.4,192.7 251.4,193.9 250.1,194.5 248.2,194.6 247.0,196.1 245.4,197.0 243.6,197.0 242.6,197.9 241.6,197.0 240.8,197.7 240.7,198.8 239.9,200.0 238.6,199.2 237.5,198.6 236.5,199.3 236.0,200.2 235.6,201.1 236.1,202.1 235.4,203.1 235.0,204.9 233.7,206.2 233.0,207.5 231.6,207.7 233.4,208.2 232.9,210.0 232.6,211.3 231.3,211.9 232.1,212.6 232.7,213.4 232.4,214.5 231.7,215.3 230.8,216.1 229.6,215.9 229.2,214.7 228.0,214.5 226.3,215.2 226.9,216.9 225.5,216.9 224.4,216.1 226.1,216.7 226.3,218.5 224.4,218.0 222.9,219.2 222.3,220.7 220.7,220.7 219.7,221.8 219.8,223.3 219.5,224.7 220.6,225.5 220.1,226.5 219.2,227.3 217.9,227.6 217.0,228.6 216.6,227.2 215.2,226.7 214.8,227.7 214.0,228.5 213.3,227.7 212.3,227.3 210.7,226.9 209.3,227.8 208.1,228.3 206.7,228.4 207.4,229.6 207.3,231.0 206.0,232.0 206.6,233.6 206.9,235.2 205.8,236.3 204.6,237.7 203.1,236.5 202.3,237.7 202.7,239.1 203.8,239.3 204.8,239.0 205.3,240.0 206.4,240.3 207.5,241.1 208.5,241.9 207.9,243.1 207.7,244.4 206.4,245.4 204.9,244.8 204.6,246.4 203.0,246.9 202.5,248.0 201.8,249.0 202.9,249.5 203.9,250.2 202.7,250.8 202.6,252.1 201.4,251.9 200.6,251.1 199.6,251.4 198.6,251.7 197.9,252.5 198.0,253.6 199.1,253.8 200.0,254.4 200.4,255.5 200.1,256.6 201.3,256.6 202.5,256.5 203.0,257.7 203.2,258.9 202.5,260.1 201.3,259.4 201.8,260.3 201.5,261.4 200.6,262.4 199.4,262.8 198.3,262.0 197.0,261.8 198.4,261.8 199.7,262.6 200.9,263.3 202.4,263.2 203.8,261.8 205.2,263.2 206.4,262.4 207.7,262.0 208.1,260.1 210.1,259.9 211.3,260.9 212.6,261.7 213.8,262.4 214.9,262.9 216.4,262.7 217.3,263.8 218.5,264.5 219.6,265.5 218.7,266.4 218.4,267.5 217.2,267.1 216.0,267.6 215.2,265.9 213.4,266.3 213.4,267.9 212.1,269.0 211.3,270.0 210.0,269.9 208.9,269.6 207.7,269.7 206.2,269.5 206.4,268.0 205.2,268.7 204.2,267.8 204.1,269.1 204.7,270.3 203.5,270.8 202.4,271.3 203.3,272.8 204.8,273.9 203.2,274.8 201.5,274.1 201.9,272.9 201.8,271.8 200.6,272.2 199.5,271.6 201.4,270.9 202.0,272.8 201.4,274.1 201.0,275.4 199.8,275.2 199.0,276.1 198.1,276.6 197.1,276.9 198.7,276.2 200.4,277.0 201.5,278.1 200.3,279.3 201.5,279.4 202.6,279.3 204.1,280.0 205.8,279.6 207.4,279.3 209.0,279.7 208.0,280.8 208.2,282.3 208.7,283.5 209.0,284.8 207.7,286.3 205.9,286.9 205.2,287.8 204.4,288.4 203.3,288.3 202.3,287.9 200.5,287.7 198.7,288.0 198.6,286.5 199.3,285.2 198.2,284.1 196.7,284.0 195.6,283.5 194.4,284.1 193.4,284.5 192.3,285.0 192.3,283.7 193.0,282.5 192.3,281.3 192.9,280.0 192.4,278.3 190.6,278.4 189.0,278.3 187.9,279.3 186.9,278.4 185.6,277.8 184.2,278.0 182.9,277.5 181.3,276.4 179.5,276.7 180.1,275.0 180.3,273.3 178.7,272.6 177.8,271.1 176.1,270.9 176.3,269.2 174.7,268.6 174.1,270.2 175.2,269.2 174.2,268.1 173.2,267.6 173.0,266.5 171.9,266.2 170.9,266.0 170.0,265.4 169.3,264.5 168.2,263.7 167.1,264.3 165.9,263.7 165.7,262.5 164.2,262.5 163.0,261.7 161.8,262.5 160.3,262.6 159.2,261.9 158.4,260.7 156.7,261.2 155.8,259.7 155.3,261.0 154.5,262.1 152.7,262.4 153.0,264.3 151.8,265.1 150.3,264.7 150.2,266.1 149.5,267.3 148.4,266.8 147.2,266.7 146.6,265.5 145.3,265.2 143.8,266.0 144.2,267.6 142.6,267.4 141.7,268.6 142.7,269.8 142.6,271.3 143.6,272.4 145.1,272.2 144.5,273.1 143.6,273.8 142.8,274.7 142.9,275.9 141.4,275.5 140.4,276.8 140.4,278.1 140.2,279.4 138.5,280.1 137.1,279.1 136.7,280.4 135.4,280.4 135.6,281.4 136.4,282.2 135.0,283.2 135.9,284.6 136.3,285.8 137.1,286.8 138.5,287.2 138.6,288.6 137.8,289.6 138.1,290.9 138.4,292.0 137.8,293.0 137.1,293.8 136.9,294.9 136.4,296.0 135.4,296.6 133.9,295.9 133.1,297.4 132.2,296.3 131.5,294.9 130.9,295.8 130.7,296.9 129.7,296.5 128.7,296.3 127.6,296.6 126.4,296.4 125.1,296.7 124.6,298.0 123.4,298.2 122.3,298.8 122.2,300.1 121.5,301.2 120.4,301.7 119.9,302.9 119.0,303.9 117.6,303.5 118.8,304.2 119.1,305.6 120.6,306.4 120.1,308.0 121.8,308.5 123.6,308.9 125.3,308.2 126.9,307.4 127.9,306.7 128.9,306.1 129.5,307.2 130.4,308.0 132.3,307.4 132.9,305.6 133.9,304.4 133.8,302.9 135.2,303.0 136.6,302.7 135.4,303.7 135.0,305.1 134.8,306.2 134.7,307.2 135.7,307.1 136.7,307.5 137.9,306.8 139.1,307.4 140.3,307.9 141.4,308.4 143.0,307.2 144.7,306.1 144.5,307.3 145.4,308.1 146.3,308.6 146.9,309.4 148.1,309.4 149.2,309.6 150.9,309.6 150.9,311.2 150.5,310.0 151.3,308.9 152.8,309.2 153.3,307.7 154.0,305.9 155.9,305.8 156.9,304.4 156.9,302.8 158.6,302.8 160.3,303.4 161.9,302.8 163.5,302.2 163.8,300.8 165.2,301.1 166.3,301.2 167.3,301.3 167.4,302.9 169.0,303.0 170.0,302.2 171.1,301.8 171.8,300.7 172.7,299.8 174.0,300.4 175.2,299.7 175.5,301.2 174.8,302.6 174.9,304.2 175.6,305.5 175.2,306.8 175.6,308.1 175.5,309.4 174.9,310.6 175.4,312.1 175.9,313.5 174.2,313.6 173.1,314.9 174.1,315.9 175.0,317.1 173.7,318.1 173.8,319.8 173.2,321.1 171.9,321.7 170.2,321.0 169.5,322.7 168.0,321.3 166.2,321.9 165.4,323.7 163.5,324.1 163.8,325.4 163.2,326.6 162.0,326.0 160.6,326.4 161.3,327.6 160.6,328.8 161.9,328.7 162.9,329.4 164.0,329.7 165.1,329.2 164.9,330.4 165.3,331.5 167.0,331.8 168.2,332.9 168.9,333.9 169.8,334.5 171.0,334.8 172.1,334.4 173.5,334.7 174.6,335.7 175.5,334.6 176.2,333.4 175.4,334.2 174.3,334.6 174.0,335.8 174.4,336.9 172.6,337.7 171.0,338.8 169.5,339.1 168.0,339.2 166.9,340.9 168.4,342.2 166.9,342.0 166.3,343.5 166.3,344.6 166.0,345.8 164.4,345.6 163.1,346.6 163.2,348.2 162.2,349.5 161.2,351.1 160.0,352.6 159.5,354.4 158.9,356.2 159.7,357.8 158.2,358.6 157.6,360.2 156.0,359.7 157.1,360.1 157.7,361.2 158.1,362.4 158.5,363.5 157.3,363.3 156.2,363.5 155.9,364.6 156.2,365.7 156.6,367.4 155.7,368.8 154.5,368.2 153.6,369.3 154.7,370.4 153.6,371.5 152.6,373.1 153.5,374.9 152.6,373.3 150.9,372.9 151.0,374.0 150.8,375.0 149.7,374.8 148.7,375.3 147.0,374.4 146.6,372.5 144.6,372.5 143.4,370.9 142.2,369.7 140.8,370.7 140.6,369.4 140.3,368.1 139.3,369.1 138.2,368.4 137.4,369.2 136.3,369.3 135.2,368.1 136.2,366.8 135.0,367.7 133.7,366.9 134.7,365.4 135.7,363.9 135.3,362.4 134.0,361.5 132.6,361.2 131.4,360.4 130.1,359.6 129.4,358.1 128.6,357.2 127.4,357.5 127.9,356.5 128.0,355.4 127.1,354.1 127.2,352.6 126.8,351.1 125.9,349.9 124.4,349.6 123.0,349.2 121.8,348.0 120.1,348.6 119.0,349.5 117.7,348.9 116.7,349.6 115.5,349.9 115.3,348.0 116.9,347.0 115.5,346.2 114.2,345.2 112.7,345.3 111.8,344.0 111.3,345.8 109.5,345.4 108.6,344.5 108.1,343.4 106.8,343.2 105.8,342.6 104.8,340.8 102.9,340.8 104.3,340.8 105.7,341.5 106.2,342.8 106.9,344.1 107.7,345.1 108.9,344.8 108.8,346.3 110.3,346.5 111.4,347.5 112.4,346.3 113.8,345.7 114.4,347.1 114.8,348.6 115.5,350.1 115.8,351.7 115.4,353.3 115.8,352.3 116.6,351.6 117.4,352.7 118.6,352.3 119.3,353.0 119.7,354.0 120.7,353.5 121.7,353.6 122.2,354.9 123.6,354.4 123.1,355.4 123.5,356.4 123.0,358.0 122.8,359.7 121.6,360.8 120.0,360.3 119.0,358.9 117.3,359.5 117.3,357.5 115.8,356.2 115.6,357.9 116.9,358.9 116.8,360.6 115.2,361.3 113.5,362.4 111.7,361.6 110.8,363.1 109.3,364.1 108.8,365.3 108.9,366.7 108.7,368.3 110.0,369.2 109.6,370.7 111.1,371.2 109.8,371.9 110.2,373.3 110.5,374.8 111.4,376.0 112.5,377.1 112.5,378.6 113.2,377.6 113.8,376.5 114.9,377.0 116.2,377.3 117.0,378.4 118.4,378.4 119.7,377.9 120.1,376.6 119.6,378.1 118.9,379.4 118.0,380.7 116.6,381.5 115.4,381.5 114.5,382.3 113.2,381.7 113.7,380.2 112.1,380.4 110.6,379.7 110.0,377.9 108.2,378.5 107.5,377.3 106.9,376.1 107.1,375.1 107.9,374.3 107.4,373.3 106.6,372.7 105.6,372.2 104.8,371.3 103.9,371.9 103.1,372.6 101.8,372.6 100.5,372.1 99.2,371.9 97.9,371.8 98.7,370.0 97.1,368.8 95.7,368.3 94.2,368.1 95.1,366.3 95.6,364.4 97.2,364.5 97.8,365.9 97.9,367.6 99.4,368.2 101.2,367.9 101.9,366.4 103.7,366.1 104.8,367.4 105.9,366.4 105.1,365.2 103.8,364.9 103.5,363.6 104.7,362.8 106.1,363.3 104.8,361.9 106.2,360.6 105.5,359.8 105.0,358.9 103.8,359.7 103.1,358.5 101.2,359.0 99.4,359.3 98.4,359.9 97.3,360.1 95.9,360.7 95.3,359.2 94.2,358.8 93.7,357.7 94.4,357.0 95.3,356.5 94.5,355.8 94.3,354.7 92.9,354.0 91.3,354.0 90.4,352.9 91.2,351.7 90.4,350.8 89.4,350.1 88.4,349.0 87.2,349.8 86.1,349.1 85.0,349.9 84.1,349.4 83.4,348.4 82.0,348.1 81.5,349.4 80.1,350.6 78.3,351.0 77.2,351.6 77.1,352.9 77.5,354.1 76.8,355.1 63.3,341.4 41.0,347.8 41.0,347.8 37.4,334.1 34.6,320.2 32.5,306.2 31.1,292.1 30.4,278.0 30.5,263.8 31.3,249.7 32.8,235.6 35.1,221.6 38.0,207.8 41.7,194.1 46.1,180.7 51.2,167.5 56.9,154.5 63.3,141.9 70.4,129.6 78.0,117.7ZM125.1,378.7 125.6,377.8 125.9,376.8 126.9,377.1 127.9,377.6 129.4,377.9 130.7,378.7 131.8,377.4 132.1,375.8 133.3,374.7 134.5,373.4 135.5,372.1 136.9,371.1 136.7,372.5 135.8,373.5 137.3,373.4 138.2,374.6 140.1,374.7 141.6,376.0 142.8,376.4 144.0,375.9 145.1,375.2 146.4,375.7 147.7,376.5 147.5,378.0 148.7,378.8 150.1,378.3 149.2,377.2 148.1,378.1 147.2,378.6 146.2,378.8 144.7,380.1 143.0,381.1 142.3,382.3 142.2,383.7 143.2,385.4 141.8,386.7 142.7,388.0 143.9,388.9 143.5,390.5 144.2,392.1 143.2,392.3 142.2,392.5 142.2,393.5 142.1,394.5 142.1,396.5 140.1,396.4 138.8,397.2 138.5,398.7 137.1,398.5 135.8,398.6 134.8,399.6 133.5,400.1 132.8,399.3 132.2,398.3 133.2,397.4 132.6,396.2 132.4,394.6 130.9,394.4 129.2,394.2 129.4,392.5 129.8,391.5 130.0,390.4 130.7,389.7 131.5,388.9 130.4,388.3 129.5,389.2 128.2,389.2 127.8,388.0 126.8,387.2 127.1,386.0 127.5,384.9 128.5,384.3 128.7,382.5 127.8,380.9 126.5,380.0 125.4,381.2 124.8,380.0ZM127.3,356.7 126.9,358.3 126.4,359.9 127.2,359.2 128.3,359.3 129.3,359.9 129.5,360.9 130.3,362.1 130.5,363.5 129.1,364.1 128.8,365.6 127.9,367.3 127.9,365.8 126.4,365.8 126.4,364.6 127.5,364.1 126.8,362.6 125.9,361.2 126.8,360.3 126.6,359.0 126.7,357.8ZM112.1,364.8 110.9,365.9 109.9,367.1 111.7,367.5 112.2,369.3 113.1,370.2 113.0,371.5 113.9,372.2 114.5,373.2 113.1,372.7 111.7,372.6 111.4,371.3 111.5,370.0 111.6,368.6 110.4,367.7 111.1,366.2ZM133.9,159.7 134.5,158.8 135.4,158.2 136.0,157.0 135.1,156.1 136.1,156.1 137.0,155.4 137.8,156.0 138.9,156.2 137.6,154.9 138.3,153.1 139.6,152.5 140.2,153.8 141.2,153.2 141.2,152.1 141.5,153.5 142.6,154.6 144.0,155.1 145.4,154.5 146.4,154.1 147.4,153.5 148.5,153.3 149.4,152.6 150.5,153.1 151.4,153.8 152.5,153.0 153.7,153.1 153.1,154.1 153.0,155.3 152.6,156.8 151.1,156.6 151.1,157.8 150.4,158.7 149.7,159.7 148.8,160.3 147.6,161.4 146.1,162.0 145.1,160.8 144.5,159.3 143.6,160.1 142.5,160.5 142.2,159.3 141.3,158.5 139.7,159.0 138.6,160.3 138.1,158.7 136.5,158.4 135.6,159.8ZM164.7,150.7 166.5,150.5 167.8,151.8 168.3,152.9 168.0,154.0 169.2,153.5 170.2,154.0 171.5,152.6 173.3,152.7 174.9,153.8 176.7,153.0 175.4,152.9 175.0,154.2 174.3,154.9 174.0,155.9 172.7,154.9 171.2,155.5 169.8,154.8 169.3,153.4 167.9,153.1 166.6,152.6 165.7,151.6ZM235.9,128.4 234.9,129.2 234.2,130.4 233.0,130.7 231.7,130.9 233.4,131.3 233.9,133.0 233.4,134.5 232.6,135.7 231.9,134.5 230.9,133.7 232.0,132.8 232.4,131.4 232.7,130.0 232.9,128.7 234.4,128.1ZM286.2,146.8 285.0,146.9 284.3,145.9 283.3,146.8 282.2,146.0 281.0,146.5 279.6,146.5 280.9,145.6 282.4,145.6 283.6,146.6 283.8,148.2 284.8,147.1ZM272.7,132.1 271.7,133.2 270.6,134.2 269.4,133.7 268.9,132.5 269.6,131.6 270.6,131.0 272.2,130.6ZM181.5,327.0 181.3,325.5 180.5,324.3 179.8,323.4 180.1,322.3 181.1,322.3 182.0,321.9 180.5,321.0 179.4,319.6 180.6,318.3 181.7,316.9 181.7,315.8 181.4,314.7 182.5,314.5 183.5,314.1 183.4,312.1 185.0,311.0 186.2,309.7 187.4,308.4 187.3,306.5 187.2,304.7 186.6,303.1 185.2,302.1 185.0,300.4 184.7,298.8 185.7,299.1 186.8,298.9 187.0,297.8 187.8,297.0 188.3,298.2 188.3,299.4 189.3,300.2 190.5,300.4 190.7,301.5 190.8,302.7 192.4,302.8 192.2,304.4 193.5,304.5 194.7,304.4 196.0,304.3 197.2,304.0 198.4,303.9 199.7,304.1 199.7,302.8 200.6,301.8 201.7,301.8 202.7,301.5 204.0,301.6 204.5,302.8 205.5,301.3 204.0,300.3 205.5,300.2 205.8,298.6 207.1,299.6 208.8,299.5 209.2,298.3 208.2,297.5 209.5,297.9 210.3,296.9 209.6,295.3 211.2,294.6 211.9,293.2 210.8,292.1 212.0,291.0 211.2,289.5 210.5,287.9 210.7,286.2 211.3,284.7 210.6,283.3 210.2,281.9 210.0,280.5 211.4,279.6 212.7,278.6 213.0,276.9 212.1,275.4 213.4,274.3 214.5,273.0 216.1,272.0 215.1,270.3 216.5,270.1 217.7,269.5 217.3,271.2 218.7,272.3 219.2,273.3 220.3,273.8 220.7,272.7 221.7,272.2 222.5,271.4 223.4,270.8 223.7,272.1 224.8,272.6 225.7,272.0 226.5,271.2 226.8,272.4 227.9,272.9 228.2,274.0 227.7,275.0 227.2,276.5 225.8,276.0 226.7,276.7 227.8,276.7 226.9,278.0 228.2,278.9 227.0,278.7 225.8,279.2 226.0,280.4 225.6,281.6 223.8,280.8 224.5,279.1 223.3,279.7 222.1,280.1 220.8,281.6 222.3,282.8 223.7,284.0 225.0,282.6 226.6,283.6 228.4,284.3 227.2,283.9 226.0,284.3 225.6,285.4 225.6,286.6 226.1,288.4 226.2,290.3 227.1,291.9 225.8,293.4 224.8,293.9 223.7,293.8 225.0,294.7 224.2,296.0 223.2,297.5 222.2,299.0 221.6,300.7 221.3,302.5 220.2,303.2 219.1,303.5 218.1,304.4 216.8,304.2 217.5,305.2 217.7,306.5 218.0,307.6 218.5,308.7 217.2,308.9 216.3,307.9 215.0,306.9 213.9,308.2 212.7,308.9 212.5,310.3 212.5,311.7 213.4,312.8 211.6,313.5 210.7,315.2 209.4,315.8 209.3,317.1 209.4,318.6 210.9,318.9 210.9,320.3 210.8,321.7 210.5,323.2 209.2,324.0 207.5,324.7 207.2,326.6 206.4,325.7 205.3,325.5 205.7,324.0 204.1,323.7 202.6,323.8 201.8,322.5 200.9,323.5 200.0,324.3 200.8,322.6 201.8,321.0 201.8,319.0 201.0,317.2 200.2,315.4 199.0,316.6 197.4,316.0 195.8,316.2 194.9,317.5 195.0,319.0 195.2,320.4 195.6,321.8 195.1,323.2 195.9,324.2 196.3,325.4 196.1,326.9 194.7,327.3 193.0,327.8 192.9,329.5 191.2,329.4 190.6,327.7 189.3,328.3 187.9,327.8 187.6,326.6 188.2,325.6 187.4,324.8 186.2,324.7 187.4,323.4 189.2,323.0 189.1,321.7 188.8,320.5 188.2,319.4 187.6,318.3 188.1,319.8 189.7,319.6 191.0,319.9 191.8,321.0 190.9,321.9 190.1,323.0 189.6,324.2 189.8,325.6 188.4,326.1 187.2,327.0 186.2,325.9 185.5,324.6 185.3,325.8 184.2,326.5 183.7,327.6 182.4,327.8ZM182.9,278.6 184.7,278.7 184.8,276.9 185.4,278.6 187.0,277.9 187.3,279.0 188.3,279.6 189.4,280.1 189.5,281.2 191.0,280.9 191.4,282.3 190.8,283.2 190.3,284.2 189.1,285.0 187.9,284.3 186.8,284.5 185.6,284.4 187.1,285.2 186.6,286.9 185.9,288.1 184.9,289.0 184.8,290.6 183.5,291.6 182.7,293.1 181.1,293.3 179.3,292.8 178.7,291.0 180.4,290.5 180.2,288.8 180.5,287.5 181.1,286.3 180.2,285.1 179.0,284.3 179.2,282.5 180.9,282.1 179.9,282.2 178.8,282.4 177.8,282.0 176.7,282.3 177.6,281.4 178.7,281.1 177.8,280.1 178.5,278.8 179.6,278.8 180.7,278.4 181.8,278.1ZM215.3,227.7 213.8,227.9 213.3,226.5 212.5,227.3 212.1,228.4 210.5,229.6 210.8,231.5 211.6,232.7 212.0,234.1 213.8,234.5 213.7,236.4 212.0,235.9 210.2,235.9 210.0,237.8 208.8,239.3 207.6,240.8 207.6,242.7 207.0,243.6 207.1,244.7 207.4,245.7 208.2,246.4 209.0,247.0 209.9,247.5 211.3,247.9 210.9,249.3 209.7,250.0 208.3,250.2 209.5,251.2 209.2,252.8 210.9,252.3 211.4,254.1 213.0,253.2 214.7,252.3 215.6,250.5 217.3,249.7 218.6,249.0 219.8,249.7 221.2,249.8 222.0,250.9 223.2,250.5 224.4,251.0 225.6,251.7 226.8,251.4 227.5,250.5 228.0,249.5 228.9,248.8 229.4,247.8 230.0,246.6 229.8,245.3 228.8,244.6 227.6,244.2 228.1,242.5 229.8,241.9 230.9,240.7 232.4,240.1 233.1,238.8 233.4,237.3 232.6,236.1 232.3,234.6 231.2,235.0 230.2,235.8 230.1,234.4 228.8,233.8 229.1,232.0 228.7,230.2 228.4,231.3 227.9,232.3 226.7,232.0 225.6,232.0 225.0,233.1 224.2,234.1 224.5,235.5 223.7,236.6 222.1,237.2 221.6,238.9 220.3,237.9 218.8,237.6 218.7,235.9 217.3,235.1 218.5,234.1 218.8,232.6 220.6,232.5 220.6,230.8 221.7,230.1 222.9,229.7 221.6,229.4 220.7,230.4 219.8,229.6 219.1,228.7 218.2,228.2 217.3,227.8 216.2,228.4ZM228.8,222.4 230.6,222.5 230.9,220.8 231.8,219.5 233.3,219.7 233.5,221.4 234.1,222.9 235.8,221.8 237.4,222.9 238.3,223.9 237.9,225.2 239.6,225.1 239.7,226.8 241.0,227.3 241.1,228.6 241.9,229.4 243.0,229.8 244.4,230.8 245.5,232.0 245.0,233.8 243.3,234.5 243.3,235.6 243.5,236.6 243.6,237.7 243.0,238.7 241.9,239.4 241.0,240.3 239.3,240.7 238.9,239.0 237.4,238.2 235.8,238.3 235.0,237.4 233.7,237.5 233.1,238.4 232.9,239.5 231.7,238.6 232.3,237.2 232.9,235.8 231.6,234.9 231.1,233.8 231.0,232.5 229.5,232.4 229.0,230.9 229.9,229.7 230.0,228.2 228.2,228.4 227.4,226.9 229.2,226.7 229.0,224.9 228.9,223.7ZM216.3,258.3 217.0,257.3 218.2,257.0 219.5,257.6 220.5,256.7 222.1,256.7 223.7,256.6 223.5,255.0 223.6,253.4 223.9,254.6 225.0,255.1 224.9,256.4 225.8,257.3 226.7,256.1 228.2,256.4 229.2,257.2 230.1,258.1 229.0,258.8 228.1,259.9 227.2,261.3 228.3,262.6 227.6,263.5 226.4,263.7 225.9,264.6 225.4,265.6 224.3,265.4 223.9,264.2 222.8,264.0 221.9,263.5 220.6,263.7 219.7,262.8 218.5,263.1 217.3,262.8 216.8,261.7 217.1,260.5 217.4,259.1ZM219.3,264.2 220.6,264.5 222.0,264.4 222.3,262.9 223.8,262.5 225.1,262.2 226.2,263.0 227.4,263.4 228.4,264.2 228.2,265.9 230.0,266.0 230.7,267.0 230.9,268.3 229.2,268.4 227.7,269.3 229.2,269.2 229.4,270.7 228.6,271.4 228.5,272.6 227.3,272.4 226.6,273.5 226.0,274.4 225.8,275.6 224.9,275.1 224.2,274.4 223.6,273.5 222.9,272.9 221.3,272.4 220.2,271.1 219.0,270.0 218.4,268.5 219.0,267.2 220.3,266.6 220.1,265.3ZM206.2,255.1 207.1,254.1 208.3,254.8 209.2,255.3 210.0,256.0 209.6,257.0 209.6,258.0 210.4,258.8 210.7,259.9 209.7,260.7 208.4,261.1 207.6,262.2 207.4,263.5 206.6,262.4 205.4,261.9 203.8,262.6 203.0,261.0 202.7,259.5 201.4,258.8 202.2,257.7 203.0,256.7 204.3,256.9 205.4,257.5 205.4,256.2ZM230.9,268.8 229.5,268.3 229.0,269.7 228.2,270.5 228.0,271.6 228.4,272.6 229.4,273.1 230.2,273.7 230.3,274.8 231.2,275.7 231.8,276.8 231.3,278.0 231.9,279.2 231.8,280.5 232.1,281.7 231.9,282.9 231.1,283.9 232.7,284.6 232.0,286.2 233.3,286.3 234.4,286.8 236.4,286.4 238.2,285.7 238.3,283.7 236.7,282.7 237.8,281.5 238.6,280.0 239.9,280.0 240.8,279.1 240.9,277.9 241.2,276.7 240.0,276.3 238.9,275.7 238.5,274.5 238.7,273.2 240.5,272.8 242.1,271.8 242.2,270.0 244.0,270.0 243.7,268.4 242.2,268.1 242.7,266.2 244.1,264.8 242.4,264.6 240.8,263.9 239.7,264.7 238.6,265.6 239.7,266.9 238.8,268.4 237.6,268.4 236.5,268.1 235.8,269.7 234.3,269.0 232.6,268.7ZM234.1,263.8 235.3,263.4 236.4,264.1 236.5,265.3 237.2,266.3 235.8,267.1 234.8,268.2 233.3,267.6 232.1,266.6 233.3,266.7 234.5,266.2 233.8,265.1ZM238.0,254.9 239.3,256.0 240.5,257.3 241.3,255.9 242.8,256.6 244.1,257.5 243.5,258.9 242.2,260.0 240.8,260.8 241.9,261.9 242.6,263.4 240.9,263.2 239.9,264.6 238.4,264.3 236.9,264.0 237.7,262.4 237.1,260.9 236.3,260.1 235.6,259.3 234.7,259.8 234.0,260.6 234.2,258.7 235.2,257.2 236.5,255.9ZM244.1,239.9 245.0,239.2 246.2,239.6 247.3,239.7 248.1,240.6 247.1,241.4 246.3,242.4 246.1,243.9 247.4,244.6 246.2,244.5 245.5,245.4 245.6,246.5 245.1,247.5 245.1,248.5 244.7,249.5 245.6,250.1 246.0,251.1 244.4,250.8 243.9,249.4 242.0,249.5 242.1,251.4 241.8,252.6 240.7,253.0 240.8,254.1 241.1,255.1 239.9,254.3 238.4,254.1 237.0,254.5 235.5,254.3 234.5,253.4 233.4,252.6 234.5,251.6 234.4,250.1 235.9,249.2 236.5,247.5 237.2,245.7 235.9,244.2 236.4,243.3 237.0,242.4 238.1,242.6 239.2,242.4 240.7,242.6 242.3,242.6 243.6,241.5ZM249.9,235.9 250.7,237.2 249.3,238.0 250.4,238.3 251.4,238.6 251.1,239.6 251.2,240.7 252.4,239.8 253.3,241.0 253.9,242.6 252.4,243.4 252.7,244.7 251.9,245.9 250.9,244.5 249.5,245.4 248.3,245.2 247.1,245.6 248.3,244.3 247.7,242.6 247.1,241.2 246.2,239.9 246.5,238.4 247.1,237.0 248.6,236.7ZM250.7,247.8 251.8,249.3 252.4,251.1 251.8,252.3 250.5,252.9 249.2,252.0 248.3,250.8 247.5,249.5 248.2,248.2 249.4,247.9ZM254.0,249.8 254.6,250.7 255.2,251.5 254.5,252.6 255.5,253.5 254.1,253.6 252.9,254.3 252.5,252.9 252.1,251.5 252.5,250.0ZM251.1,256.2 252.2,256.1 253.0,256.9 254.0,257.0 255.0,256.7 255.8,257.5 256.8,258.2 256.6,259.3 256.3,260.4 255.0,261.1 253.5,261.2 253.4,262.7 252.7,264.0 251.6,263.5 250.4,263.0 249.3,261.6 247.9,262.6 247.4,260.8 247.5,258.9 248.0,257.8 248.8,257.0 250.1,256.9ZM249.4,264.2 250.9,265.4 252.6,266.3 251.5,267.0 250.5,266.2 249.1,266.2 249.0,267.6 248.7,265.8 246.9,266.2 248.2,265.2ZM247.6,274.5 248.1,273.6 248.0,272.5 247.1,271.4 248.1,270.5 248.9,269.4 250.1,270.0 251.2,270.0 252.1,269.5 253.5,270.9 255.3,270.3 255.9,269.0 254.7,268.2 256.0,268.2 256.7,267.3 258.1,267.4 259.2,266.7 260.3,268.1 261.8,267.3 262.7,267.8 263.6,268.4 264.5,269.0 264.9,270.1 264.0,271.6 262.5,270.7 261.3,271.7 262.1,273.1 260.7,273.8 260.5,275.3 259.0,276.5 257.7,275.1 257.2,276.2 256.1,276.8 255.1,276.0 253.9,276.4 252.7,276.8 252.0,277.8 250.9,277.2 250.5,276.0 249.9,275.2 249.6,274.2 248.6,274.1ZM240.8,272.8 239.5,274.0 240.7,275.3 240.7,276.6 240.1,277.8 239.4,278.6 238.8,279.3 239.3,280.3 240.3,280.7 240.9,282.1 240.4,283.5 241.9,284.5 243.6,285.1 244.3,284.2 245.4,283.9 245.6,282.5 247.0,282.5 248.1,283.7 249.7,283.1 249.3,284.5 249.6,285.9 250.8,285.4 251.9,285.9 251.7,284.8 251.9,283.6 253.1,284.8 254.5,285.6 255.8,284.2 257.3,285.4 258.5,286.4 258.7,288.0 259.2,289.3 260.6,289.5 261.1,287.9 262.8,288.2 264.0,289.4 265.5,288.7 267.5,289.1 269.4,289.3 271.0,289.9 272.7,289.5 273.9,288.7 275.0,287.9 274.4,286.7 275.1,285.5 274.0,284.7 274.0,283.3 273.1,282.7 272.5,281.8 272.8,280.7 272.4,279.6 271.6,278.4 270.3,279.2 269.8,278.2 270.0,277.0 269.2,276.2 268.0,276.1 267.7,275.0 266.9,274.2 265.5,273.4 264.5,272.2 263.1,272.6 262.2,271.5 263.1,272.7 261.9,273.7 260.6,273.4 259.9,274.5 258.4,274.3 257.5,275.5 256.2,274.3 254.4,274.0 253.4,275.5 252.9,277.2 252.7,275.8 251.4,275.3 250.2,275.4 249.0,275.1 248.1,274.2 247.0,273.7 245.2,274.3 244.6,272.4 244.9,274.2 243.3,274.9 241.5,274.5ZM228.5,284.9 227.5,286.1 228.2,287.5 229.2,288.3 229.9,289.4 228.9,289.9 228.0,290.3 227.4,291.2 227.1,292.2 225.8,290.9 225.4,289.0 225.5,287.2 225.7,285.4 227.1,285.2ZM175.8,288.0 174.3,288.1 174.4,289.6 175.8,290.1 175.3,291.5 174.3,290.8 173.1,290.7 173.2,289.3 173.3,287.8 174.5,288.6ZM173.8,294.5 172.5,295.2 172.6,296.6 171.6,296.0 170.5,296.3 171.5,295.8 171.7,294.7 172.7,294.1ZM202.0,295.3 204.0,295.3 204.0,297.3 203.1,296.3 201.9,296.8 202.2,298.0 201.4,298.9 201.0,297.4 199.5,297.4 201.2,296.8ZM126.8,297.2 127.2,298.6 128.7,299.1 128.3,300.6 126.8,301.0 125.4,302.2 125.7,300.9 126.7,300.1 125.6,299.4 125.3,298.0ZM145.5,300.2 146.8,301.7 145.6,303.1 144.0,303.3 142.4,303.1 143.2,302.0 142.5,300.8 143.9,299.9ZM260.2,107.9 258.7,107.3 258.1,108.8 258.1,110.0 259.0,110.9 257.3,110.7 256.0,109.6 255.2,108.7 255.7,107.6 256.8,106.4 256.9,104.9 257.9,106.4 259.6,105.9 260.5,106.8ZM266.0,101.2 264.4,101.8 262.8,102.4 262.6,101.1 262.8,99.8 264.1,98.9 265.7,98.6 265.4,99.9ZM270.6,97.5 269.4,97.5 268.5,96.6 267.6,97.4 267.6,98.7 268.5,97.4 267.7,96.0 268.8,95.3 270.1,95.0 270.4,96.2ZM275.9,93.4 275.2,94.7 273.8,94.3 274.4,93.2 273.7,92.2 275.0,92.5ZM281.2,90.5 280.3,91.3 279.1,91.4 279.3,90.3 279.4,89.2 280.7,89.4ZM287.9,89.3 286.5,90.6 284.7,90.1 284.7,89.0 285.1,88.0 286.1,88.5 286.9,89.2 287.9,88.7 288.4,87.7ZM295.1,87.2 293.7,88.5 292.2,87.4 291.4,86.0 292.7,85.2 293.9,86.7 295.4,85.6ZM299.0,86.5 297.9,86.8 296.7,86.6 297.6,85.0 299.0,85.1ZM308.1,85.4 306.6,85.0 305.2,84.3 306.7,84.3 307.8,83.3 309.0,84.2ZM313.5,87.7 312.2,88.0 311.3,87.1 313.0,86.1ZM328.3,93.8 326.8,93.1 325.3,92.9 326.6,92.0 327.9,92.4ZM346.6,109.5 346.8,108.2 345.8,107.4 344.8,106.7 343.6,106.6 345.3,106.0 346.2,106.8 346.7,107.9ZM341.6,106.2 340.7,105.2 339.9,104.2 341.8,104.1 342.1,105.1ZM383.9,97.9 383.0,97.0 382.2,95.9 383.4,95.1 384.2,93.9 385.3,94.5 386.2,95.4 384.4,96.0ZM389.7,93.5 390.4,92.0 388.8,91.3 389.9,90.6 391.1,90.6 390.1,92.0ZM400.1,86.1 399.3,84.5 400.7,84.8 401.7,83.9 400.5,84.7ZM405.5,84.7 404.9,83.6 404.6,82.3 406.1,82.1 407.4,82.6 405.9,83.1ZM415.1,84.4 414.3,83.7 413.1,83.5 412.2,84.2 411.0,84.0 412.5,83.5 413.3,82.2 414.8,83.2 416.5,82.7 415.9,83.7ZM427.4,83.7 426.4,82.8 425.1,82.8 424.7,81.4 425.9,80.5 425.6,81.6 424.9,82.5 423.9,81.9 422.8,82.0 421.9,83.2 420.5,82.8 419.7,84.2 418.2,83.7 419.7,82.6 421.6,82.6 423.1,81.7 424.8,82.4 426.3,82.3 426.3,80.8 427.4,81.0 428.0,82.1ZM434.5,83.1 433.3,83.9 431.8,83.8 430.4,84.4 429.0,84.1 430.1,83.2 431.2,82.2 432.9,82.4ZM346.8,130.2 346.0,128.6 344.3,127.9 344.8,126.4 346.3,126.3 348.0,127.4 347.3,128.6 348.6,129.3 347.7,129.8ZM419.1,148.5 418.5,146.6 416.8,145.7 418.2,146.1 419.0,145.0 419.7,146.1 420.8,146.6 419.9,147.5ZM198.3,160.3 198.8,161.4 200.0,161.6 199.0,162.3 198.8,163.4 197.1,163.3 195.8,164.2 195.8,166.0 194.2,166.9 192.3,167.0 191.5,165.3 190.6,164.4 191.1,163.1 191.6,161.7 190.3,161.1 189.2,160.3 188.8,159.1 189.5,157.9 188.9,156.6 190.3,156.6 191.0,157.7 192.2,158.4 193.4,158.0 194.5,158.5 195.3,159.3 195.7,160.6 194.7,161.6 195.7,160.6 195.9,159.1 196.8,160.2ZM191.7,163.3 190.8,162.6 189.8,162.3 189.4,163.8 187.9,163.5 187.1,161.8 186.3,160.0 187.3,159.1 188.6,159.1 190.4,158.7 191.6,160.1 190.9,161.7ZM186.3,160.0 184.6,159.5 184.0,161.2 182.7,161.0 181.5,161.5 181.0,160.3 179.7,160.4 178.8,160.8 177.8,161.2 178.2,159.7 176.7,159.3 176.7,157.9 178.1,157.6 179.8,157.1 181.6,156.8 181.6,155.0 183.3,155.0 184.1,156.2 185.6,156.1 185.3,157.3 184.6,158.3 186.1,158.5ZM287.4,403.7 288.6,403.8 289.7,404.0 288.8,405.6 288.6,407.4 287.3,406.2 286.3,405.0ZM300.6,413.3 302.3,412.8 302.8,413.9 303.2,415.1 302.0,415.6 301.5,416.8 301.1,415.0ZM296.0,420.1 297.8,420.2 297.1,421.1 296.9,422.2 295.7,421.5ZM284.8,423.7 285.8,423.0 286.4,422.0 287.6,422.3 288.1,423.5 287.2,425.0 286.1,426.4 285.4,428.0 284.1,429.2 284.1,427.6 285.2,426.5 286.3,424.9ZM286.8,427.5 287.7,428.1 288.6,428.7 287.6,429.5 287.3,430.6 287.6,429.0ZM290.5,360.6 292.0,360.9 291.4,362.2ZM328.0,341.6 328.7,341.3 328.6,342.3ZM350.7,429.0 352.0,427.8 352.6,426.1 351.3,426.2 350.2,425.4 351.7,424.6 350.9,423.1 350.4,423.2 349.7,424.2 349.7,425.4 349.7,426.5 350.2,427.5ZM347.2,434.8 348.7,434.9 348.1,436.1ZM360.6,410.4 361.5,409.6 362.8,409.5 362.9,411.1 361.6,411.2ZM352.2,406.1 353.8,405.5 354.2,406.6 353.8,407.7 353.5,406.3ZM337.0,439.2 338.5,439.5 340.0,439.1 338.7,440.5 338.5,439.0ZM378.3,299.0 378.7,298.0 378.5,297.0 379.1,298.6 380.7,298.0 379.6,299.5ZM246.3,256.1 246.8,257.3 247.8,258.1 246.3,258.3 245.6,257.0ZM245.0,265.4 244.8,266.9 246.3,267.1 245.2,268.6 244.5,267.5 243.4,266.9 244.7,266.7ZM244.6,271.2 245.6,272.5 243.7,272.2ZM239.5,260.2 240.3,261.1 241.2,261.8 240.0,262.0 238.8,261.8ZM229.3,253.4 229.6,254.6 230.2,255.7 228.8,256.0 228.0,254.8ZM188.9,279.3 190.4,279.7 190.5,281.2 189.7,282.1 188.6,281.9 188.3,280.6ZM209.6,288.9 211.1,289.7 210.6,291.3 209.5,291.1 208.5,290.9 209.3,290.0ZM352.3,223.9 351.5,223.1 352.9,222.4ZM324.3,178.9 323.3,178.0 322.3,179.0 323.8,178.8 323.6,177.3Z"/></defs>
<use href="#L" clip-path="url(#c)" fill="#808080" shape-rendering="crispEdges"/>
<use href="#L" clip-path="url(#c)" fill="#808080" shape-rendering="crispEdges"/>
<use href="#L" clip-path="url(#c)" fill="#808080" shape-rendering="crispEdges"/>
<use href="#L" clip-path="url(#c2)" fill="none" stroke="#000" stroke-width="1" stroke-linejoin="round" shape-rendering="crispEdges"/>
<use href="#L" clip-path="url(#c3)" fill="#000" shape-rendering="crispEdges"/>
<path d="M362.0,257.7 360.7,257.9 361.5,257.1M323.0,333.6 321.7,332.8 321.1,331.4 320.2,330.1 318.7,329.9 317.8,328.1 317.0,326.4 315.6,326.2 315.7,324.8 315.3,323.6 314.1,323.6 312.9,322.7 313.7,321.5 313.5,320.4 313.3,319.4 314.8,319.3 316.0,318.3 317.3,317.0 318.3,318.1 319.7,317.7 320.1,319.2 321.7,318.9 321.6,320.1 321.4,321.2 322.0,322.1 322.5,323.2 323.7,323.0 324.4,322.1 324.3,323.9 323.4,325.5 324.6,326.8 323.8,328.4 322.5,328.9 322.3,330.3 321.9,331.9 323.5,332.5 323.0,333.6M318.8,316.1 320.6,315.5 321.2,313.6 322.0,312.2 323.5,312.9 324.7,312.9 325.7,313.7 327.0,314.9 327.2,316.7 326.4,317.5 326.3,318.5 325.3,318.6 324.4,319.0 322.9,319.1 321.4,318.7 320.2,317.2 318.8,316.1M324.9,323.9 326.4,324.2 327.9,324.7 327.7,326.0 327.9,327.3 326.8,326.7 325.6,327.2 326.2,325.4 324.9,323.9M335.8,303.5 335.5,302.1 336.3,300.8 336.9,299.3 338.5,299.7 338.3,301.7 340.2,302.2 339.2,302.8 338.2,303.7 337.1,302.8 335.8,303.5M341.0,299.7 339.7,299.6 338.5,299.0 338.9,297.7 339.2,296.5 337.9,296.0 337.1,294.9 338.2,294.0 338.4,292.5 340.0,293.0 341.1,291.6 341.5,293.0 340.7,294.1 342.2,293.3 343.2,294.6 342.9,296.1 343.6,297.6 341.7,297.9 341.0,299.7M343.1,292.7 343.2,291.4 342.9,290.1 344.3,289.8 345.0,291.1 343.7,291.5 343.1,292.7M355.2,268.2 354.6,267.2 353.5,266.8 352.5,267.4 351.3,267.3 351.6,265.8 351.4,264.4 352.6,264.2 353.7,264.8 353.8,263.1 355.5,263.2 357.1,263.9 356.5,265.2 356.5,266.7 355.2,268.2M357.9,262.8 356.9,262.1 356.0,261.4 354.9,260.8 353.7,261.3 354.2,260.1 354.9,259.0 356.0,258.3 357.3,258.1 358.2,258.9 359.5,259.0 358.6,260.5 360.0,261.4 359.0,262.3 357.9,262.8M350.5,269.0 351.2,267.9 350.8,266.7 349.7,266.0 348.5,266.2 347.3,266.1 346.1,265.8 346.0,267.0 345.7,268.2 346.0,266.8 347.4,266.5 348.8,267.0 350.3,266.6 349.4,267.9 350.5,269.0M246.5,309.1 247.0,307.5 245.3,307.1 244.4,305.7 246.2,305.1 246.2,303.2 246.5,301.6 247.2,300.1 245.5,300.2 244.2,299.1 243.4,297.8 243.5,296.2 243.2,295.0 244.2,294.3 244.1,293.1 243.0,292.7 243.0,291.1 244.5,290.6 245.4,291.6 246.5,292.2 247.7,291.1 247.7,289.6 249.1,289.2 250.4,288.7 251.5,288.4 252.1,287.5 252.7,288.5 253.9,288.6 254.6,289.6 255.6,289.9 256.7,289.4 256.9,288.2 258.1,288.5 258.6,289.5 258.2,290.5 257.3,291.3 259.2,291.3 259.3,293.1 260.3,291.9 261.8,292.1 261.3,291.1 261.1,290.0 262.2,289.9 263.2,289.3 264.2,288.1 265.8,287.8 266.1,289.3 267.3,290.3 267.7,291.8 269.0,292.6 270.0,291.6 271.3,291.0 272.8,290.3 274.1,291.1M198.0,253.6 199.1,253.8 200.0,254.4 200.4,255.5 200.1,256.6 201.3,256.6 202.5,256.5 203.0,257.7 203.2,258.9 202.5,260.1 201.3,259.4 201.8,260.3 201.5,261.4 200.6,262.4 199.4,262.8 198.3,262.0 197.0,261.8 198.4,261.8 199.7,262.6 200.9,263.3 202.4,263.2 203.8,261.8 205.2,263.2 206.4,262.4 207.7,262.0 208.1,260.1 210.1,259.9 211.3,260.9 212.6,261.7 213.8,262.4 214.9,262.9 216.4,262.7 217.3,263.8 218.5,264.5 219.6,265.5 218.7,266.4 218.4,267.5 217.2,267.1 216.0,267.6 215.2,265.9 213.4,266.3 213.4,267.9 212.1,269.0 211.3,270.0 210.0,269.9 208.9,269.6 207.7,269.7 206.2,269.5 206.4,268.0 205.2,268.7 204.2,267.8 204.1,269.1 204.7,270.3 203.5,270.8 202.4,271.3 203.3,272.8 204.8,273.9 203.2,274.8 201.5,274.1 201.9,272.9 201.8,271.8 200.6,272.2 199.5,271.6 201.4,270.9 202.0,272.8 201.4,274.1 201.0,275.4 199.8,275.2 199.0,276.1 198.1,276.6 197.1,276.9 198.7,276.2 200.4,277.0 201.5,278.1 200.3,279.3 201.5,279.4 202.6,279.3 204.1,280.0 205.8,279.6 207.4,279.3 209.0,279.7 208.0,280.8 208.2,282.3 208.7,283.5 209.0,284.8 207.7,286.3 205.9,286.9 205.2,287.8 204.4,288.4 203.3,288.3 202.3,287.9 200.5,287.7 198.7,288.0 198.6,286.5 199.3,285.2 198.2,284.1 196.7,284.0 195.6,283.5 194.4,284.1 193.4,284.5 192.3,285.0 192.3,283.7 193.0,282.5 192.3,281.3 192.9,280.0 192.4,278.3 190.6,278.4 189.0,278.3 187.9,279.3 186.9,278.4 185.6,277.8 184.2,278.0 182.9,277.5 181.3,276.4 179.5,276.7 180.1,275.0 180.3,273.3 178.7,272.6 177.8,271.1 176.1,270.9 176.3,269.2 174.7,268.6 174.1,270.2 175.2,269.2 174.2,268.1 173.2,267.6 173.0,266.5 171.9,266.2 170.9,266.0M172.7,299.8 174.0,300.4 175.2,299.7 175.5,301.2 174.8,302.6 174.9,304.2 175.6,305.5 175.2,306.8 175.6,308.1 175.5,309.4M180.1,322.3 181.1,322.3 182.0,321.9 180.5,321.0 179.4,319.6 180.6,318.3 181.7,316.9 181.7,315.8 181.4,314.7 182.5,314.5 183.5,314.1 183.4,312.1 185.0,311.0 186.2,309.7 187.4,308.4 187.3,306.5 187.2,304.7 186.6,303.1 185.2,302.1 185.0,300.4 184.7,298.8 185.7,299.1 186.8,298.9 187.0,297.8 187.8,297.0 188.3,298.2 188.3,299.4 189.3,300.2 190.5,300.4 190.7,301.5 190.8,302.7 192.4,302.8 192.2,304.4 193.5,304.5 194.7,304.4 196.0,304.3 197.2,304.0 198.4,303.9 199.7,304.1 199.7,302.8 200.6,301.8 201.7,301.8 202.7,301.5 204.0,301.6 204.5,302.8 205.5,301.3 204.0,300.3 205.5,300.2 205.8,298.6 207.1,299.6 208.8,299.5 209.2,298.3 208.2,297.5 209.5,297.9 210.3,296.9 209.6,295.3 211.2,294.6 211.9,293.2 210.8,292.1 212.0,291.0 211.2,289.5 210.5,287.9 210.7,286.2 211.3,284.7 210.6,283.3 210.2,281.9 210.0,280.5 211.4,279.6 212.7,278.6 213.0,276.9 212.1,275.4 213.4,274.3 214.5,273.0 216.1,272.0 215.1,270.3 216.5,270.1 217.7,269.5 217.3,271.2 218.7,272.3 219.2,273.3 220.3,273.8 220.7,272.7 221.7,272.2 222.5,271.4 223.4,270.8 223.7,272.1 224.8,272.6 225.7,272.0 226.5,271.2 226.8,272.4 227.9,272.9 228.2,274.0 227.7,275.0 227.2,276.5 225.8,276.0 226.7,276.7 227.8,276.7 226.9,278.0 228.2,278.9 227.0,278.7 225.8,279.2 226.0,280.4 225.6,281.6 223.8,280.8 224.5,279.1 223.3,279.7 222.1,280.1 220.8,281.6 222.3,282.8 223.7,284.0 225.0,282.6 226.6,283.6 228.4,284.3 227.2,283.9 226.0,284.3 225.6,285.4 225.6,286.6 226.1,288.4 226.2,290.3 227.1,291.9 225.8,293.4 224.8,293.9 223.7,293.8 225.0,294.7 224.2,296.0 223.2,297.5 222.2,299.0 221.6,300.7 221.3,302.5 220.2,303.2 219.1,303.5 218.1,304.4 216.8,304.2 217.5,305.2 217.7,306.5 218.0,307.6 218.5,308.7 217.2,308.9 216.3,307.9 215.0,306.9 213.9,308.2 212.7,308.9 212.5,310.3 212.5,311.7 213.4,312.8 211.6,313.5 210.7,315.2 209.4,315.8 209.3,317.1 209.4,318.6 210.9,318.9 210.9,320.3 210.8,321.7 210.5,323.2 209.2,324.0 207.5,324.7 207.2,326.6 206.4,325.7 205.3,325.5 205.7,324.0 204.1,323.7 202.6,323.8 201.8,322.5 200.9,323.5 200.0,324.3 200.8,322.6 201.8,321.0 201.8,319.0 201.0,317.2 200.2,315.4 199.0,316.6 197.4,316.0 195.8,316.2 194.9,317.5 195.0,319.0 195.2,320.4 195.6,321.8 195.1,323.2 195.9,324.2 196.3,325.4 196.1,326.9 194.7,327.3 193.0,327.8 192.9,329.5 191.2,329.4 190.6,327.7 189.3,328.3 187.9,327.8 187.6,326.6 188.2,325.6 187.4,324.8 186.2,324.7 187.4,323.4 189.2,323.0 189.1,321.7 188.8,320.5 188.2,319.4 187.6,318.3 188.1,319.8 189.7,319.6 191.0,319.9 191.8,321.0 190.9,321.9 190.1,323.0 189.6,324.2 189.8,325.6 188.4,326.1 187.2,327.0 186.2,325.9 185.5,324.6 185.3,325.8 184.2,326.5 183.7,327.6 182.4,327.8M182.9,278.6 184.7,278.7 184.8,276.9 185.4,278.6 187.0,277.9 187.3,279.0 188.3,279.6 189.4,280.1 189.5,281.2 191.0,280.9 191.4,282.3 190.8,283.2 190.3,284.2 189.1,285.0 187.9,284.3 186.8,284.5 185.6,284.4 187.1,285.2 186.6,286.9 185.9,288.1 184.9,289.0 184.8,290.6 183.5,291.6 182.7,293.1 181.1,293.3 179.3,292.8 178.7,291.0 180.4,290.5 180.2,288.8 180.5,287.5 181.1,286.3 180.2,285.1 179.0,284.3 179.2,282.5 180.9,282.1 179.9,282.2 178.8,282.4 177.8,282.0 176.7,282.3 177.6,281.4 178.7,281.1 177.8,280.1 178.5,278.8 179.6,278.8 180.7,278.4 181.8,278.1 182.9,278.6M224.4,251.0 225.6,251.7 226.8,251.4 227.5,250.5 228.0,249.5 228.9,248.8 229.4,247.8 230.0,246.6 229.8,245.3 228.8,244.6 227.6,244.2 228.1,242.5 229.8,241.9 230.9,240.7 232.4,240.1 233.1,238.8 233.4,237.3 232.6,236.1 232.3,234.6 231.2,235.0 230.2,235.8M237.4,222.9 238.3,223.9 237.9,225.2 239.6,225.1 239.7,226.8 241.0,227.3 241.1,228.6 241.9,229.4 243.0,229.8 244.4,230.8 245.5,232.0 245.0,233.8 243.3,234.5 243.3,235.6 243.5,236.6 243.6,237.7 243.0,238.7 241.9,239.4 241.0,240.3 239.3,240.7 238.9,239.0 237.4,238.2 235.8,238.3 235.0,237.4 233.7,237.5 233.1,238.4 232.9,239.5 231.7,238.6 232.3,237.2 232.9,235.8 231.6,234.9 231.1,233.8M216.3,258.3 217.0,257.3 218.2,257.0 219.5,257.6M223.7,256.6 223.5,255.0M223.6,253.4 223.9,254.6 225.0,255.1 224.9,256.4 225.8,257.3 226.7,256.1 228.2,256.4 229.2,257.2 230.1,258.1 229.0,258.8 228.1,259.9 227.2,261.3 228.3,262.6 227.6,263.5 226.4,263.7 225.9,264.6 225.4,265.6 224.3,265.4 223.9,264.2 222.8,264.0 221.9,263.5 220.6,263.7 219.7,262.8 218.5,263.1 217.3,262.8 216.8,261.7 217.1,260.5 217.4,259.1 216.3,258.3M219.3,264.2 220.6,264.5 222.0,264.4 222.3,262.9 223.8,262.5 225.1,262.2 226.2,263.0 227.4,263.4 228.4,264.2 228.2,265.9 230.0,266.0 230.7,267.0 230.9,268.3 229.2,268.4 227.7,269.3 229.2,269.2 229.4,270.7 228.6,271.4 228.5,272.6 227.3,272.4 226.6,273.5 226.0,274.4 225.8,275.6 224.9,275.1 224.2,274.4 223.6,273.5 222.9,272.9 221.3,272.4 220.2,271.1 219.0,270.0 218.4,268.5 219.0,267.2 220.3,266.6 220.1,265.3 219.3,264.2M209.2,255.3 210.0,256.0 209.6,257.0 209.6,258.0 210.4,258.8 210.7,259.9 209.7,260.7 208.4,261.1 207.6,262.2 207.4,263.5 206.6,262.4 205.4,261.9 203.8,262.6 203.0,261.0 202.7,259.5 201.4,258.8 202.2,257.7 203.0,256.7 204.3,256.9 205.4,257.5 205.4,256.2 206.2,255.1M230.9,268.8 229.5,268.3 229.0,269.7 228.2,270.5 228.0,271.6 228.4,272.6 229.4,273.1 230.2,273.7 230.3,274.8 231.2,275.7 231.8,276.8 231.3,278.0 231.9,279.2 231.8,280.5 232.1,281.7 231.9,282.9 231.1,283.9 232.7,284.6 232.0,286.2 233.3,286.3 234.4,286.8 236.4,286.4 238.2,285.7 238.3,283.7 236.7,282.7 237.8,281.5 238.6,280.0 239.9,280.0 240.8,279.1 240.9,277.9 241.2,276.7 240.0,276.3 238.9,275.7 238.5,274.5 238.7,273.2 240.5,272.8 242.1,271.8 242.2,270.0 244.0,270.0 243.7,268.4 242.2,268.1 242.7,266.2 244.1,264.8 242.4,264.6 240.8,263.9 239.7,264.7 238.6,265.6 239.7,266.9 238.8,268.4 237.6,268.4 236.5,268.1 235.8,269.7 234.3,269.0 232.6,268.7 230.9,268.8M234.1,263.8 235.3,263.4 236.4,264.1 236.5,265.3 237.2,266.3 235.8,267.1 234.8,268.2 233.3,267.6 232.1,266.6 233.3,266.7 234.5,266.2 233.8,265.1 234.1,263.8M238.0,254.9 239.3,256.0 240.5,257.3 241.3,255.9 242.8,256.6 244.1,257.5 243.5,258.9 242.2,260.0 240.8,260.8 241.9,261.9 242.6,263.4 240.9,263.2 239.9,264.6 238.4,264.3 236.9,264.0 237.7,262.4 237.1,260.9 236.3,260.1 235.6,259.3 234.7,259.8 234.0,260.6 234.2,258.7 235.2,257.2 236.5,255.9 238.0,254.9M244.1,239.9 245.0,239.2 246.2,239.6 247.3,239.7 248.1,240.6 247.1,241.4 246.3,242.4 246.1,243.9 247.4,244.6 246.2,244.5 245.5,245.4 245.6,246.5 245.1,247.5 245.1,248.5 244.7,249.5 245.6,250.1 246.0,251.1 244.4,250.8 243.9,249.4 242.0,249.5 242.1,251.4 241.8,252.6 240.7,253.0 240.8,254.1 241.1,255.1 239.9,254.3 238.4,254.1 237.0,254.5 235.5,254.3 234.5,253.4 233.4,252.6 234.5,251.6 234.4,250.1 235.9,249.2 236.5,247.5 237.2,245.7 235.9,244.2 236.4,243.3 237.0,242.4 238.1,242.6 239.2,242.4 240.7,242.6 242.3,242.6 243.6,241.5 244.1,239.9M249.9,235.9 250.7,237.2 249.3,238.0 250.4,238.3 251.4,238.6 251.1,239.6 251.2,240.7 252.4,239.8 253.3,241.0 253.9,242.6 252.4,243.4 252.7,244.7 251.9,245.9 250.9,244.5 249.5,245.4 248.3,245.2 247.1,245.6 248.3,244.3 247.7,242.6 247.1,241.2 246.2,239.9 246.5,238.4 247.1,237.0 248.6,236.7 249.9,235.9M250.7,247.8 251.8,249.3 252.4,251.1 251.8,252.3 250.5,252.9 249.2,252.0 248.3,250.8 247.5,249.5 248.2,248.2 249.4,247.9 250.7,247.8M254.0,249.8 254.6,250.7 255.2,251.5 254.5,252.6 255.5,253.5 254.1,253.6 252.9,254.3 252.5,252.9 252.1,251.5 252.5,250.0 254.0,249.8M251.1,256.2 252.2,256.1 253.0,256.9 254.0,257.0 255.0,256.7 255.8,257.5 256.8,258.2 256.6,259.3 256.3,260.4 255.0,261.1 253.5,261.2 253.4,262.7 252.7,264.0 251.6,263.5 250.4,263.0 249.3,261.6 247.9,262.6 247.4,260.8 247.5,258.9 248.0,257.8 248.8,257.0 250.1,256.9 251.1,256.2M249.4,264.2 250.9,265.4 252.6,266.3 251.5,267.0 250.5,266.2 249.1,266.2 249.0,267.6 248.7,265.8 246.9,266.2 248.2,265.2 249.4,264.2M247.6,274.5 248.1,273.6 248.0,272.5 247.1,271.4 248.1,270.5 248.9,269.4 250.1,270.0 251.2,270.0 252.1,269.5 253.5,270.9 255.3,270.3 255.9,269.0 254.7,268.2 256.0,268.2 256.7,267.3 258.1,267.4 259.2,266.7 260.3,268.1 261.8,267.3 262.7,267.8 263.6,268.4 264.5,269.0 264.9,270.1 264.0,271.6 262.5,270.7 261.3,271.7 262.1,273.1 260.7,273.8 260.5,275.3 259.0,276.5 257.7,275.1 257.2,276.2 256.1,276.8 255.1,276.0 253.9,276.4 252.7,276.8 252.0,277.8 250.9,277.2 250.5,276.0 249.9,275.2 249.6,274.2 248.6,274.1 247.6,274.5M240.8,272.8 239.5,274.0 240.7,275.3 240.7,276.6 240.1,277.8 239.4,278.6 238.8,279.3 239.3,280.3 240.3,280.7 240.9,282.1 240.4,283.5 241.9,284.5 243.6,285.1 244.3,284.2 245.4,283.9 245.6,282.5 247.0,282.5 248.1,283.7 249.7,283.1 249.3,284.5 249.6,285.9 250.8,285.4 251.9,285.9 251.7,284.8 251.9,283.6 253.1,284.8 254.5,285.6 255.8,284.2 257.3,285.4 258.5,286.4 258.7,288.0 259.2,289.3 260.6,289.5 261.1,287.9 262.8,288.2 264.0,289.4 265.5,288.7 267.5,289.1 269.4,289.3 271.0,289.9 272.7,289.5 273.9,288.7 275.0,287.9 274.4,286.7 275.1,285.5 274.0,284.7 274.0,283.3 273.1,282.7 272.5,281.8 272.8,280.7 272.4,279.6 271.6,278.4 270.3,279.2 269.8,278.2 270.0,277.0 269.2,276.2 268.0,276.1 267.7,275.0 266.9,274.2 265.5,273.4 264.5,272.2 263.1,272.6 262.2,271.5 263.1,272.7 261.9,273.7 260.6,273.4 259.9,274.5 258.4,274.3 257.5,275.5 256.2,274.3 254.4,274.0 253.4,275.5 252.9,277.2 252.7,275.8 251.4,275.3 250.2,275.4 249.0,275.1 248.1,274.2 247.0,273.7 245.2,274.3 244.6,272.4 244.9,274.2 243.3,274.9 241.5,274.5 240.8,272.8M228.5,284.9 227.5,286.1 228.2,287.5 229.2,288.3 229.9,289.4 228.9,289.9 228.0,290.3 227.4,291.2 227.1,292.2 225.8,290.9 225.4,289.0 225.5,287.2 225.7,285.4 227.1,285.2 228.5,284.9M175.8,288.0 174.3,288.1 174.4,289.6 175.8,290.1 175.3,291.5 174.3,290.8 173.1,290.7 173.2,289.3 173.3,287.8 174.5,288.6 175.8,288.0M173.8,294.5 172.5,295.2 172.6,296.6M171.7,294.7 172.7,294.1 173.8,294.5M202.0,295.3 204.0,295.3 204.0,297.3 203.1,296.3 201.9,296.8 202.2,298.0 201.4,298.9 201.0,297.4 199.5,297.4 201.2,296.8 202.0,295.3M246.3,256.1 246.8,257.3 247.8,258.1 246.3,258.3 245.6,257.0 246.3,256.1M245.0,265.4 244.8,266.9 246.3,267.1 245.2,268.6 244.5,267.5 243.4,266.9 244.7,266.7 245.0,265.4M244.6,271.2 245.6,272.5 243.7,272.2 244.6,271.2M239.5,260.2 240.3,261.1 241.2,261.8 240.0,262.0 238.8,261.8 239.5,260.2M229.3,253.4 229.6,254.6 230.2,255.7 228.8,256.0 228.0,254.8 229.3,253.4M188.9,279.3 190.4,279.7 190.5,281.2 189.7,282.1 188.6,281.9 188.3,280.6 188.9,279.3M209.6,288.9 211.1,289.7 210.6,291.3 209.5,291.1 208.5,290.9 209.3,290.0 209.6,288.9" clip-path="url(#c2)" fill="none" stroke="#000" stroke-width="2.3" stroke-linejoin="round" shape-rendering="crispEdges"/>
<path d="M333.6,423.4 332.3,423.4 332.5,422.2 333.4,421.3 333.5,420.2 333.6,419.1 332.5,417.7 332.6,416.7 332.6,415.7 332.4,414.4 331.1,414.4 330.5,415.6 331.2,416.7 330.2,417.8 331.2,419.0 329.7,419.6 328.2,419.1 327.5,420.6 328.2,422.1 329.0,423.2 328.3,424.4M325.9,424.5 324.3,424.1 323.3,425.3 321.7,425.1 320.0,424.9 319.5,423.3 319.4,421.7 318.6,420.0 317.8,418.3 317.4,417.1 316.7,416.1 318.1,415.2 317.1,413.8 317.3,412.7 316.8,411.8 317.1,410.7 316.3,409.8 315.4,408.9 316.1,407.8 315.9,406.8 316.4,405.8 317.1,404.3 318.6,404.9 318.2,403.7 318.7,402.6 319.9,402.8 320.8,402.0 321.1,400.9 321.3,399.8 323.2,399.2 323.9,397.4 325.1,396.1 326.1,394.5 324.4,393.6 325.2,391.9 326.0,390.7 327.4,390.2 328.2,389.2 329.4,388.8 328.6,387.6 329.2,386.4 327.8,385.7 328.4,384.3 328.9,383.2 329.5,382.3 329.2,381.2 328.5,380.3 328.5,378.7 330.1,378.6 330.9,377.8 331.4,376.8 330.8,375.0 331.6,373.2 331.7,371.7 330.7,370.5 332.0,369.9 333.4,369.7 332.2,369.0 332.1,367.6 333.3,367.2 334.2,366.4 334.5,364.6 335.7,363.3 337.3,362.4 337.6,360.6 338.9,359.9 339.3,358.4 340.6,357.3 340.8,355.6 342.4,354.5 343.5,352.8 345.1,353.5 346.1,352.1 347.4,352.4 348.6,351.8 350.0,351.2 350.5,352.6 351.7,353.0 352.6,352.3 351.4,353.7 352.4,355.2 353.5,354.5M391.9,310.5 390.9,309.0 389.6,308.4 388.1,308.0 387.0,306.6 385.4,305.7 385.7,304.1 384.6,302.8 383.1,302.7 381.5,302.5 381.2,301.0 379.8,300.4M385.9,284.5 384.4,283.9 383.3,285.6 381.5,284.9 380.1,283.8 380.0,282.0 378.8,280.5 379.8,278.8 378.4,278.5 377.4,277.5 376.4,276.6 375.2,275.9 374.6,274.5 374.6,273.0 374.4,272.0 374.5,270.9 373.5,270.3 372.5,271.0 372.7,269.4 371.3,268.7 369.5,268.3 369.8,266.5 369.0,265.5 367.9,264.8 368.3,263.5 367.9,262.2 367.7,260.9 367.1,259.7 365.6,259.2 364.7,260.5 364.6,259.0 363.3,258.3 362.0,257.7 360.7,257.9 361.5,257.1 361.7,256.0 361.9,254.7 363.1,254.3 364.6,255.5 366.2,254.5 364.9,253.5 363.3,252.8 364.1,252.0 365.1,251.3 364.3,250.4 363.5,249.6 364.6,248.9 365.6,248.3 364.7,247.2 365.1,245.9 366.3,246.1 367.5,245.5 368.8,245.5 369.7,244.5 369.7,246.0 371.2,246.0 372.0,245.2 372.7,244.4 373.5,245.7 374.7,246.7 375.6,248.2 377.2,247.5 378.6,248.0 379.1,249.4 380.3,250.3 381.8,250.0 379.9,250.1 378.5,248.8 378.1,247.0 376.5,246.0 376.8,244.8 377.2,243.6 375.8,243.4 375.0,242.3 376.1,241.2 375.9,239.7M371.7,325.4 372.9,324.6 372.3,323.3 371.2,323.1 370.2,322.6 369.9,321.6 369.3,320.8 368.4,320.2 367.6,319.7 366.5,320.0 365.5,319.5 364.4,318.6 365.2,317.4 365.9,316.6 366.0,315.5 364.8,315.4 364.5,314.2 365.5,313.0 365.0,311.5 363.2,312.3 362.4,310.5 364.0,310.8 364.3,309.2 363.5,308.0 364.5,306.9 364.0,305.9 363.0,305.2 362.0,304.9 360.9,304.8 362.0,303.3 361.2,301.6 359.9,301.5 359.7,300.2 359.6,298.8 360.9,298.5 360.4,297.5 360.6,296.4 361.3,295.6 361.6,294.6 362.8,295.7 364.4,296.4 365.4,298.0 364.9,299.9 365.6,301.5 365.5,303.3 364.5,304.5 364.7,306.0 365.6,307.1 366.7,308.1 366.5,309.7 368.0,310.0 368.7,311.0 368.6,312.3 368.2,313.8 369.6,314.8 370.8,315.2 371.9,316.0 373.2,317.1 372.6,318.7 373.5,320.1 375.1,319.8 376.8,319.0 377.7,320.5 379.1,321.1 380.4,320.6 381.5,321.1 381.6,322.3 380.7,322.9 379.6,322.6 379.6,323.7 379.4,324.7 378.1,325.0 376.9,325.8 375.1,326.5 373.3,326.5 371.7,325.4M323.0,333.6 321.7,332.8 321.1,331.4 320.2,330.1 318.7,329.9 317.8,328.1 317.0,326.4 315.6,326.2 315.7,324.8 315.3,323.6 314.1,323.6 312.9,322.7 313.7,321.5 313.5,320.4 313.3,319.4 314.8,319.3 316.0,318.3 317.3,317.0 318.3,318.1 319.7,317.7 320.1,319.2 321.7,318.9 321.6,320.1 321.4,321.2 322.0,322.1 322.5,323.2 323.7,323.0 324.4,322.1 324.3,323.9 323.4,325.5 324.6,326.8 323.8,328.4 322.5,328.9 322.3,330.3 321.9,331.9 323.5,332.5 323.0,333.6M318.8,316.1 320.6,315.5 321.2,313.6 322.0,312.2 323.5,312.9 324.7,312.9 325.7,313.7 327.0,314.9 327.2,316.7 326.4,317.5 326.3,318.5 325.3,318.6 324.4,319.0 322.9,319.1 321.4,318.7 320.2,317.2 318.8,316.1M324.9,323.9 326.4,324.2 327.9,324.7 327.7,326.0 327.9,327.3 326.8,326.7 325.6,327.2 326.2,325.4 324.9,323.9M335.8,303.5 335.5,302.1 336.3,300.8 336.9,299.3 338.5,299.7 338.3,301.7 340.2,302.2 339.2,302.8 338.2,303.7 337.1,302.8 335.8,303.5M341.0,299.7 339.7,299.6 338.5,299.0 338.9,297.7 339.2,296.5 337.9,296.0 337.1,294.9 338.2,294.0 338.4,292.5 340.0,293.0 341.1,291.6 341.5,293.0 340.7,294.1 342.2,293.3 343.2,294.6 342.9,296.1 343.6,297.6 341.7,297.9 341.0,299.7M343.1,292.7 343.2,291.4 342.9,290.1 344.3,289.8 345.0,291.1 343.7,291.5 343.1,292.7M355.2,268.2 354.6,267.2 353.5,266.8 352.5,267.4 351.3,267.3 351.6,265.8 351.4,264.4 352.6,264.2 353.7,264.8 353.8,263.1 355.5,263.2 357.1,263.9 356.5,265.2 356.5,266.7 355.2,268.2M357.9,262.8 356.9,262.1 356.0,261.4 354.9,260.8 353.7,261.3 354.2,260.1 354.9,259.0 356.0,258.3 357.3,258.1 358.2,258.9 359.5,259.0 358.6,260.5 360.0,261.4 359.0,262.3 357.9,262.8M350.5,269.0 351.2,267.9 350.8,266.7 349.7,266.0 348.5,266.2 347.3,266.1 346.1,265.8 346.0,267.0 345.7,268.2 346.0,266.8 347.4,266.5 348.8,267.0 350.3,266.6 349.4,267.9 350.5,269.0M256.2,387.7 257.7,387.4 258.7,388.6 259.1,390.0 260.1,390.9 261.2,390.5 262.2,391.0 263.4,391.4 263.5,392.6 264.8,392.8 265.3,391.6 265.8,390.7 266.1,389.7 267.4,388.8 268.2,390.1 268.5,391.2 268.9,392.2 270.4,393.0 272.0,393.2 273.7,392.4 273.9,390.5 275.1,391.3 276.2,390.5 276.0,389.3 276.5,388.1 277.8,387.0 277.7,385.2 276.6,385.4 275.6,385.0 274.7,383.9 275.7,382.9 274.6,381.4 273.7,379.8 272.4,380.2 271.5,379.2 270.9,380.6 269.5,380.0 268.8,378.7 267.6,377.8 265.8,377.2 265.0,379.0 263.9,379.9 264.2,381.2 263.2,379.9 261.9,381.0 263.0,379.5 264.4,378.4 263.3,376.9 261.8,375.9 260.6,375.7 259.8,376.7 258.7,376.3 257.8,377.1 257.0,377.8 256.2,378.6 257.9,379.0 259.4,378.0 260.4,379.3 260.6,381.0 259.7,381.9 259.6,383.2 259.1,381.8 257.7,382.3 256.7,381.5 255.6,382.1 256.5,382.9 257.6,383.4 257.1,385.0 258.7,385.5 257.8,387.0 256.2,387.7M292.8,423.4 291.3,422.8 290.6,424.7 288.8,424.1 289.4,425.3 289.6,426.8 289.7,428.4 291.0,429.4 290.0,430.6 288.4,430.7 288.6,431.8 288.8,432.8 288.3,433.8 288.5,434.9 288.7,436.1 288.8,437.2 288.8,438.5 288.1,439.5 289.4,438.9 290.6,438.2 291.0,439.4 291.5,440.5M286.4,441.1 286.3,439.8 284.5,440.1 283.1,438.9 282.2,439.8 280.9,439.4M385.4,321.8 385.7,320.0 384.2,319.1 385.6,319.4 387.1,318.9M203.8,376.8 203.9,375.6 202.9,374.9 203.4,373.9 204.4,373.4 204.6,371.4 203.0,370.2 201.5,370.4 200.9,369.0 202.2,368.4 202.2,366.9 201.5,365.4 201.0,363.7 201.4,362.3 201.4,360.8 201.8,359.4 203.0,358.3 203.3,356.5 203.5,354.6 204.9,353.4 206.0,351.9 207.3,351.5 208.5,351.0 209.4,349.5 207.8,348.6 208.5,350.4 210.4,350.6 211.5,349.3 212.4,348.0 212.3,346.8 212.3,345.6 211.6,344.6 211.8,343.3 212.2,341.4 213.7,340.2 215.1,340.4 216.3,339.8 215.7,338.6 215.9,337.3 216.2,335.4 216.7,333.6 218.7,333.5 220.4,334.4 220.3,333.0 221.7,332.8 222.6,333.4 223.6,333.4 224.8,334.6 225.9,335.9 227.0,335.0 228.4,335.2 229.7,335.5 229.9,334.1 230.2,332.8 231.2,332.0 231.9,331.0 232.4,329.8 233.4,329.0 232.7,327.3 231.0,327.7 231.3,326.2 230.0,325.3 230.6,326.7 230.6,328.2 232.1,328.0 233.6,327.6 233.2,326.0 231.6,325.5 230.8,323.8 232.3,322.7 234.0,323.0 234.9,321.6 236.6,320.9 236.3,319.1 236.7,318.0 237.9,317.6 237.0,316.7 237.1,315.5 238.5,315.0 238.5,313.6 239.1,315.1 240.7,314.5 240.6,313.0 241.6,312.0 242.7,311.2 244.0,310.8 245.6,311.6 247.1,310.6 246.5,309.1 247.0,307.5 245.3,307.1 244.4,305.7 246.2,305.1 246.2,303.2 246.5,301.6 247.2,300.1 245.5,300.2 244.2,299.1 243.4,297.8 243.5,296.2 243.2,295.0 244.2,294.3 244.1,293.1 243.0,292.7 243.0,291.1 244.5,290.6 245.4,291.6 246.5,292.2 247.7,291.1 247.7,289.6 249.1,289.2 250.4,288.7 251.5,288.4 252.1,287.5 252.7,288.5 253.9,288.6 254.6,289.6 255.6,289.9 256.7,289.4 256.9,288.2 258.1,288.5 258.6,289.5 258.2,290.5 257.3,291.3 259.2,291.3 259.3,293.1 260.3,291.9 261.8,292.1 261.3,291.1 261.1,290.0 262.2,289.9 263.2,289.3 264.2,288.1 265.8,287.8 266.1,289.3 267.3,290.3 267.7,291.8 269.0,292.6 270.0,291.6 271.3,291.0 272.8,290.3 274.1,291.1 275.0,292.3 274.8,293.8 275.7,294.3 276.5,294.9 277.0,296.3 278.3,295.8 279.6,295.5 280.3,296.6 281.4,297.6 282.5,296.7 283.7,297.7 285.1,298.6 286.3,297.4 288.1,297.4 289.3,296.7 290.5,297.5 289.8,298.6 290.4,299.8 291.4,301.4 290.7,303.1 291.5,303.9 292.4,304.5 291.7,305.4 291.4,306.4 291.4,307.5 292.1,308.3 292.6,309.5 293.9,309.3 294.6,310.2 295.8,309.9 296.7,310.7 296.4,311.8 295.4,312.4 294.5,313.3 294.1,314.4 294.1,315.7 292.5,315.3 291.4,316.4 290.3,317.8 289.2,319.2 287.6,319.2 286.6,320.5 286.6,322.0 286.9,323.4 287.6,324.6 287.1,325.9 286.8,327.2 285.8,328.1 284.7,329.5 283.2,330.7 283.1,332.7 283.0,334.7 281.2,334.4 279.7,335.5 279.3,337.4 280.5,338.8 280.2,340.8 278.5,341.7 278.3,343.1 277.5,344.3 276.2,344.7 274.9,345.4 273.6,346.9 275.0,348.3 273.9,349.4 272.4,349.6 272.7,351.3 271.0,351.5 271.5,352.5 272.1,353.6 271.3,354.5 270.6,355.6 269.8,356.6 269.9,357.9 268.8,357.2 267.7,356.8 266.3,357.8 265.2,356.4 266.7,355.7 267.4,357.2 267.5,358.5 268.4,359.4 266.9,360.2 265.7,361.4 264.7,362.8 262.9,362.8 261.6,363.7 259.9,363.6 260.1,362.1 260.3,360.7 259.0,359.5 257.5,360.4 258.6,362.0 257.0,363.1 255.6,363.4 254.3,362.8 252.9,363.8 251.1,363.8 250.0,362.6 248.6,361.7 247.2,361.7 245.8,361.8 244.8,360.8 243.6,360.0 242.5,361.0 242.8,362.5 241.1,363.3 241.9,365.0 240.3,365.9 238.9,367.2 237.2,366.3 235.9,364.9 234.5,365.1 234.2,363.7 232.9,364.5 232.1,363.2 230.7,364.1 230.1,365.5 229.1,364.4 227.8,363.6 227.5,365.3 225.8,365.0 225.0,366.1 223.8,366.6 223.8,368.6 221.9,368.9 220.4,369.7 218.9,368.9 217.8,368.8 216.7,368.5 215.6,368.7 214.7,369.5 214.3,370.6 214.1,371.7 213.1,372.3 212.2,372.9 210.7,373.5 209.1,373.9 208.3,375.3 207.2,376.5 205.5,376.8 203.8,376.8M225.4,328.0 226.8,328.5 227.4,327.1 228.3,327.8 229.4,327.8 228.8,329.4 229.0,331.2 227.4,330.4 226.5,332.0 226.3,330.5 224.8,330.5 223.9,329.0 225.4,328.0M129.2,153.5 129.9,152.1 129.2,153.5 130.6,154.1 131.9,155.1 133.5,154.9 134.9,155.8 136.5,155.9 135.3,157.0 134.0,157.7 133.2,159.1 132.2,160.3 130.8,160.5 129.4,161.0 128.3,160.1 127.1,159.2 128.2,159.6 129.4,159.9 129.7,161.0 130.1,162.0 131.4,162.2 131.8,163.5 132.8,163.8 133.9,163.5 134.8,164.3 135.9,164.3 136.6,163.4 137.5,162.9 138.7,161.9 140.1,161.3 141.6,162.0 143.1,161.3 144.3,161.3 145.2,162.2 146.0,163.0 147.1,163.4 147.3,162.1 148.5,161.7 148.6,160.4 149.5,159.6 151.2,159.7 152.4,158.5 153.7,157.1 155.4,157.8 157.1,158.0 158.6,157.2 160.5,157.8 160.6,159.8 161.6,160.1 162.6,160.5 163.6,159.8 164.7,160.3 165.7,160.1 166.7,160.3 167.8,160.5 168.8,160.3 170.2,160.7 171.1,159.5 172.8,159.1 173.2,160.8 174.5,161.1 175.9,161.4 176.8,162.7 178.4,162.6 180.3,162.6 181.8,161.5 183.7,161.6 185.1,162.8 185.7,164.4 185.5,166.2 187.2,166.4 188.8,165.8 190.4,165.6 191.0,164.1 191.9,165.5 193.5,165.0 194.1,164.2 194.3,163.1 195.3,163.8 196.3,163.1 197.4,163.5 198.3,162.9 197.7,161.7 199.0,161.0 200.2,160.7 200.9,161.8 202.0,161.2 201.9,160.0 201.8,161.2 202.6,162.1 203.9,162.4 204.7,161.3 205.8,159.7 207.7,160.3 209.3,160.4 210.9,160.6 212.4,159.5 214.1,158.4 215.2,158.4 216.2,158.5 217.1,157.9 217.7,157.1 219.4,157.0 221.1,156.9 222.2,157.4 223.5,157.4 223.8,156.2 224.0,155.1 225.2,154.6 226.4,155.0 227.3,156.2 228.7,155.5 228.0,153.8 229.2,152.4 228.7,150.9 229.2,149.3 229.3,148.1 230.0,147.1 231.2,146.5 231.2,145.2 231.8,143.8 231.6,142.2 233.0,142.0 234.5,141.6 235.3,142.1 236.1,142.7 236.8,143.5 237.9,143.8 237.7,144.8 237.9,145.9 238.3,147.3 236.9,147.7 236.6,149.4 237.7,150.6 236.0,150.9 235.4,152.6 235.9,151.6 237.0,151.1 238.2,150.9 238.5,149.7 237.7,148.8 236.4,148.7 236.6,147.5 235.8,146.5 235.0,144.9 236.6,144.1 238.0,145.0 239.1,143.8 238.4,142.3 239.3,140.9 239.3,139.5 239.1,138.1 238.1,137.1 239.2,136.1 238.8,135.0 237.5,134.9 238.4,133.4 237.8,131.8 239.1,131.7 239.5,130.4 240.0,131.4 240.9,132.1 241.7,130.6 243.2,130.0 242.1,128.8 241.1,127.7 241.4,126.3 242.7,125.5 244.0,125.0 245.4,125.0 244.4,123.9 245.0,122.5 245.3,121.3 244.9,120.0 246.4,119.1 247.8,118.0 248.8,117.2 250.1,116.9 250.4,115.3 249.0,114.6 250.4,113.4 250.4,111.6 250.9,110.5 251.0,109.3 252.2,109.5 253.3,109.9 254.1,108.8 255.3,108.2 255.5,109.8 255.3,111.7 254.5,113.4 254.8,114.7 253.4,115.1 252.5,115.6 251.4,115.4 251.3,117.1 250.3,118.4 249.5,120.1 247.6,120.1 246.5,121.2 246.6,122.8 246.1,124.2 245.2,125.4 244.2,126.3 244.5,127.6 245.3,128.7 246.6,128.7 246.0,129.6 245.0,130.2 245.6,131.2 245.9,132.2 247.4,132.4 248.5,133.4 249.4,132.4 250.5,131.5 252.2,131.7 253.8,131.1 255.1,129.9 256.7,129.3 256.9,130.5 256.9,131.7 257.8,132.7 259.2,132.7 260.0,134.3 261.7,135.0 263.5,135.0 264.8,133.6 265.5,132.6 266.8,132.3 267.4,133.3 268.6,133.9 268.9,135.4 267.5,136.2 268.4,137.0 269.7,137.5 271.2,137.8 272.0,139.2 272.3,140.6 272.0,142.0M232.6,211.3 231.3,211.9 232.1,212.6 232.7,213.4 232.4,214.5 231.7,215.3 230.8,216.1 229.6,215.9 229.2,214.7 228.0,214.5 226.3,215.2 226.9,216.9 225.5,216.9 224.4,216.1 226.1,216.7 226.3,218.5 224.4,218.0 222.9,219.2 222.3,220.7 220.7,220.7 219.7,221.8 219.8,223.3 219.5,224.7 220.6,225.5 220.1,226.5 219.2,227.3 217.9,227.6 217.0,228.6 216.6,227.2 215.2,226.7 214.8,227.7 214.0,228.5 213.3,227.7 212.3,227.3 210.7,226.9 209.3,227.8 208.1,228.3 206.7,228.4 207.4,229.6 207.3,231.0 206.0,232.0 206.6,233.6 206.9,235.2 205.8,236.3 204.6,237.7 203.1,236.5 202.3,237.7 202.7,239.1 203.8,239.3 204.8,239.0 205.3,240.0 206.4,240.3 207.5,241.1 208.5,241.9 207.9,243.1 207.7,244.4 206.4,245.4 204.9,244.8 204.6,246.4 203.0,246.9 202.5,248.0 201.8,249.0 202.9,249.5 203.9,250.2 202.7,250.8 202.6,252.1 201.4,251.9 200.6,251.1 199.6,251.4 198.6,251.7 197.9,252.5 198.0,253.6 199.1,253.8 200.0,254.4 200.4,255.5 200.1,256.6 201.3,256.6 202.5,256.5 203.0,257.7 203.2,258.9 202.5,260.1 201.3,259.4 201.8,260.3 201.5,261.4 200.6,262.4 199.4,262.8 198.3,262.0 197.0,261.8 198.4,261.8 199.7,262.6 200.9,263.3 202.4,263.2 203.8,261.8 205.2,263.2 206.4,262.4 207.7,262.0 208.1,260.1 210.1,259.9 211.3,260.9 212.6,261.7 213.8,262.4 214.9,262.9 216.4,262.7 217.3,263.8 218.5,264.5 219.6,265.5 218.7,266.4 218.4,267.5 217.2,267.1 216.0,267.6 215.2,265.9 213.4,266.3 213.4,267.9 212.1,269.0 211.3,270.0 210.0,269.9 208.9,269.6 207.7,269.7 206.2,269.5 206.4,268.0 205.2,268.7 204.2,267.8 204.1,269.1 204.7,270.3 203.5,270.8 202.4,271.3 203.3,272.8 204.8,273.9 203.2,274.8 201.5,274.1 201.9,272.9 201.8,271.8 200.6,272.2 199.5,271.6 201.4,270.9 202.0,272.8 201.4,274.1 201.0,275.4 199.8,275.2 199.0,276.1 198.1,276.6 197.1,276.9 198.7,276.2 200.4,277.0 201.5,278.1 200.3,279.3 201.5,279.4 202.6,279.3 204.1,280.0 205.8,279.6 207.4,279.3 209.0,279.7 208.0,280.8 208.2,282.3 208.7,283.5 209.0,284.8 207.7,286.3 205.9,286.9 205.2,287.8 204.4,288.4 203.3,288.3 202.3,287.9 200.5,287.7 198.7,288.0 198.6,286.5 199.3,285.2 198.2,284.1 196.7,284.0 195.6,283.5 194.4,284.1 193.4,284.5 192.3,285.0 192.3,283.7 193.0,282.5 192.3,281.3 192.9,280.0 192.4,278.3 190.6,278.4 189.0,278.3 187.9,279.3 186.9,278.4 185.6,277.8 184.2,278.0 182.9,277.5 181.3,276.4 179.5,276.7 180.1,275.0 180.3,273.3 178.7,272.6 177.8,271.1 176.1,270.9 176.3,269.2 174.7,268.6 174.1,270.2 175.2,269.2 174.2,268.1 173.2,267.6 173.0,266.5 171.9,266.2 170.9,266.0M172.7,299.8 174.0,300.4 175.2,299.7 175.5,301.2 174.8,302.6 174.9,304.2 175.6,305.5 175.2,306.8 175.6,308.1 175.5,309.4 174.9,310.6 175.4,312.1 175.9,313.5 174.2,313.6 173.1,314.9 174.1,315.9 175.0,317.1 173.7,318.1 173.8,319.8 173.2,321.1 171.9,321.7 170.2,321.0 169.5,322.7 168.0,321.3 166.2,321.9 165.4,323.7M168.2,332.9 168.9,333.9 169.8,334.5 171.0,334.8 172.1,334.4 173.5,334.7 174.6,335.7 175.5,334.6 176.2,333.4 175.4,334.2 174.3,334.6 174.0,335.8 174.4,336.9 172.6,337.7 171.0,338.8 169.5,339.1 168.0,339.2 166.9,340.9 168.4,342.2 166.9,342.0 166.3,343.5 166.3,344.6 166.0,345.8 164.4,345.6 163.1,346.6 163.2,348.2 162.2,349.5 161.2,351.1 160.0,352.6 159.5,354.4 158.9,356.2 159.7,357.8 158.2,358.6 157.6,360.2 156.0,359.7 157.1,360.1 157.7,361.2 158.1,362.4 158.5,363.5 157.3,363.3 156.2,363.5 155.9,364.6 156.2,365.7 156.6,367.4 155.7,368.8 154.5,368.2 153.6,369.3 154.7,370.4 153.6,371.5 152.6,373.1 153.5,374.9 152.6,373.3 150.9,372.9 151.0,374.0 150.8,375.0 149.7,374.8 148.7,375.3 147.0,374.4 146.6,372.5 144.6,372.5 143.4,370.9 142.2,369.7 140.8,370.7 140.6,369.4 140.3,368.1 139.3,369.1 138.2,368.4 137.4,369.2 136.3,369.3 135.2,368.1 136.2,366.8 135.0,367.7 133.7,366.9 134.7,365.4 135.7,363.9 135.3,362.4 134.0,361.5 132.6,361.2 131.4,360.4 130.1,359.6 129.4,358.1 128.6,357.2 127.4,357.5 127.9,356.5 128.0,355.4 127.1,354.1 127.2,352.6 126.8,351.1 125.9,349.9 124.4,349.6 123.0,349.2M115.8,351.7 115.4,353.3 115.8,352.3M116.6,351.6 117.4,352.7 118.6,352.3 119.3,353.0 119.7,354.0 120.7,353.5 121.7,353.6 122.2,354.9 123.6,354.4 123.1,355.4 123.5,356.4 123.0,358.0 122.8,359.7 121.6,360.8 120.0,360.3 119.0,358.9 117.3,359.5 117.3,357.5 115.8,356.2 115.6,357.9 116.9,358.9 116.8,360.6 115.2,361.3 113.5,362.4 111.7,361.6 110.8,363.1 109.3,364.1 108.8,365.3 108.9,366.7 108.7,368.3 110.0,369.2 109.6,370.7 111.1,371.2 109.8,371.9 110.2,373.3 110.5,374.8 111.4,376.0 112.5,377.1 112.5,378.6 113.2,377.6 113.8,376.5 114.9,377.0 116.2,377.3 117.0,378.4 118.4,378.4 119.7,377.9 120.1,376.6 119.6,378.1 118.9,379.4 118.0,380.7 116.6,381.5 115.4,381.5 114.5,382.3 113.2,381.7 113.7,380.2 112.1,380.4 110.6,379.7 110.0,377.9 108.2,378.5M107.1,375.1 107.9,374.3 107.4,373.3 106.6,372.7 105.6,372.2 104.8,371.3M101.9,366.4 103.7,366.1 104.8,367.4 105.9,366.4 105.1,365.2 103.8,364.9 103.5,363.6 104.7,362.8 106.1,363.3 104.8,361.9 106.2,360.6 105.5,359.8 105.0,358.9 103.8,359.7 103.1,358.5 101.2,359.0 99.4,359.3M125.1,378.7 125.6,377.8 125.9,376.8 126.9,377.1 127.9,377.6 129.4,377.9 130.7,378.7 131.8,377.4 132.1,375.8 133.3,374.7 134.5,373.4 135.5,372.1 136.9,371.1 136.7,372.5 135.8,373.5 137.3,373.4 138.2,374.6 140.1,374.7 141.6,376.0 142.8,376.4 144.0,375.9 145.1,375.2 146.4,375.7 147.7,376.5 147.5,378.0 148.7,378.8 150.1,378.3 149.2,377.2 148.1,378.1 147.2,378.6 146.2,378.8 144.7,380.1 143.0,381.1 142.3,382.3 142.2,383.7 143.2,385.4 141.8,386.7 142.7,388.0 143.9,388.9 143.5,390.5 144.2,392.1 143.2,392.3 142.2,392.5 142.2,393.5 142.1,394.5 142.1,396.5 140.1,396.4 138.8,397.2 138.5,398.7 137.1,398.5 135.8,398.6 134.8,399.6 133.5,400.1 132.8,399.3 132.2,398.3 133.2,397.4 132.6,396.2 132.4,394.6 130.9,394.4 129.2,394.2 129.4,392.5 129.8,391.5 130.0,390.4 130.7,389.7 131.5,388.9 130.4,388.3 129.5,389.2 128.2,389.2 127.8,388.0 126.8,387.2 127.1,386.0 127.5,384.9 128.5,384.3 128.7,382.5 127.8,380.9 126.5,380.0 125.4,381.2 124.8,380.0 125.1,378.7M127.3,356.7 126.9,358.3 126.4,359.9 127.2,359.2 128.3,359.3 129.3,359.9 129.5,360.9 130.3,362.1 130.5,363.5 129.1,364.1 128.8,365.6 127.9,367.3 127.9,365.8 126.4,365.8 126.4,364.6 127.5,364.1 126.8,362.6 125.9,361.2 126.8,360.3 126.6,359.0 126.7,357.8 127.3,356.7M112.1,364.8 110.9,365.9 109.9,367.1 111.7,367.5 112.2,369.3 113.1,370.2 113.0,371.5 113.9,372.2 114.5,373.2 113.1,372.7 111.7,372.6 111.4,371.3 111.5,370.0 111.6,368.6 110.4,367.7 111.1,366.2 112.1,364.8M133.9,159.7 134.5,158.8 135.4,158.2 136.0,157.0 135.1,156.1 136.1,156.1 137.0,155.4 137.8,156.0 138.9,156.2 137.6,154.9 138.3,153.1 139.6,152.5 140.2,153.8 141.2,153.2 141.2,152.1 141.5,153.5 142.6,154.6 144.0,155.1 145.4,154.5 146.4,154.1 147.4,153.5 148.5,153.3 149.4,152.6 150.5,153.1 151.4,153.8 152.5,153.0 153.7,153.1 153.1,154.1 153.0,155.3 152.6,156.8 151.1,156.6 151.1,157.8 150.4,158.7 149.7,159.7 148.8,160.3 147.6,161.4 146.1,162.0 145.1,160.8 144.5,159.3 143.6,160.1 142.5,160.5 142.2,159.3 141.3,158.5 139.7,159.0 138.6,160.3 138.1,158.7 136.5,158.4 135.6,159.8 133.9,159.7M164.7,150.7 166.5,150.5 167.8,151.8 168.3,152.9 168.0,154.0 169.2,153.5 170.2,154.0 171.5,152.6 173.3,152.7 174.9,153.8 176.7,153.0 175.4,152.9 175.0,154.2 174.3,154.9 174.0,155.9 172.7,154.9 171.2,155.5 169.8,154.8 169.3,153.4 167.9,153.1 166.6,152.6 165.7,151.6 164.7,150.7M235.9,128.4 234.9,129.2 234.2,130.4 233.0,130.7 231.7,130.9 233.4,131.3 233.9,133.0 233.4,134.5 232.6,135.7 231.9,134.5 230.9,133.7 232.0,132.8 232.4,131.4 232.7,130.0 232.9,128.7 234.4,128.1 235.9,128.4M272.7,132.1 271.7,133.2 270.6,134.2 269.4,133.7 268.9,132.5 269.6,131.6 270.6,131.0 272.2,130.6 272.7,132.1M181.5,327.0 181.3,325.5 180.5,324.3 179.8,323.4 180.1,322.3 181.1,322.3 182.0,321.9 180.5,321.0 179.4,319.6 180.6,318.3 181.7,316.9 181.7,315.8 181.4,314.7 182.5,314.5 183.5,314.1 183.4,312.1 185.0,311.0 186.2,309.7 187.4,308.4 187.3,306.5 187.2,304.7 186.6,303.1 185.2,302.1 185.0,300.4 184.7,298.8 185.7,299.1 186.8,298.9 187.0,297.8 187.8,297.0 188.3,298.2 188.3,299.4 189.3,300.2 190.5,300.4 190.7,301.5 190.8,302.7 192.4,302.8 192.2,304.4 193.5,304.5 194.7,304.4 196.0,304.3 197.2,304.0 198.4,303.9 199.7,304.1 199.7,302.8 200.6,301.8 201.7,301.8 202.7,301.5 204.0,301.6 204.5,302.8 205.5,301.3 204.0,300.3 205.5,300.2 205.8,298.6 207.1,299.6 208.8,299.5 209.2,298.3 208.2,297.5 209.5,297.9 210.3,296.9 209.6,295.3 211.2,294.6 211.9,293.2 210.8,292.1 212.0,291.0 211.2,289.5 210.5,287.9 210.7,286.2 211.3,284.7 210.6,283.3 210.2,281.9 210.0,280.5 211.4,279.6 212.7,278.6 213.0,276.9 212.1,275.4 213.4,274.3 214.5,273.0 216.1,272.0 215.1,270.3 216.5,270.1 217.7,269.5 217.3,271.2 218.7,272.3 219.2,273.3 220.3,273.8 220.7,272.7 221.7,272.2 222.5,271.4 223.4,270.8 223.7,272.1 224.8,272.6 225.7,272.0 226.5,271.2 226.8,272.4 227.9,272.9 228.2,274.0 227.7,275.0 227.2,276.5 225.8,276.0 226.7,276.7 227.8,276.7 226.9,278.0 228.2,278.9 227.0,278.7 225.8,279.2 226.0,280.4 225.6,281.6 223.8,280.8 224.5,279.1 223.3,279.7 222.1,280.1 220.8,281.6 222.3,282.8 223.7,284.0 225.0,282.6 226.6,283.6 228.4,284.3 227.2,283.9 226.0,284.3 225.6,285.4 225.6,286.6 226.1,288.4 226.2,290.3 227.1,291.9 225.8,293.4 224.8,293.9 223.7,293.8 225.0,294.7 224.2,296.0 223.2,297.5 222.2,299.0 221.6,300.7 221.3,302.5 220.2,303.2 219.1,303.5 218.1,304.4 216.8,304.2 217.5,305.2 217.7,306.5 218.0,307.6 218.5,308.7 217.2,308.9 216.3,307.9 215.0,306.9 213.9,308.2 212.7,308.9 212.5,310.3 212.5,311.7 213.4,312.8 211.6,313.5 210.7,315.2 209.4,315.8 209.3,317.1 209.4,318.6 210.9,318.9 210.9,320.3 210.8,321.7 210.5,323.2 209.2,324.0 207.5,324.7 207.2,326.6 206.4,325.7 205.3,325.5 205.7,324.0 204.1,323.7 202.6,323.8 201.8,322.5 200.9,323.5 200.0,324.3 200.8,322.6 201.8,321.0 201.8,319.0 201.0,317.2 200.2,315.4 199.0,316.6 197.4,316.0 195.8,316.2 194.9,317.5 195.0,319.0 195.2,320.4 195.6,321.8 195.1,323.2 195.9,324.2 196.3,325.4 196.1,326.9 194.7,327.3 193.0,327.8 192.9,329.5 191.2,329.4 190.6,327.7 189.3,328.3 187.9,327.8 187.6,326.6 188.2,325.6 187.4,324.8 186.2,324.7 187.4,323.4 189.2,323.0 189.1,321.7 188.8,320.5 188.2,319.4 187.6,318.3 188.1,319.8 189.7,319.6 191.0,319.9 191.8,321.0 190.9,321.9 190.1,323.0 189.6,324.2 189.8,325.6 188.4,326.1 187.2,327.0 186.2,325.9 185.5,324.6 185.3,325.8 184.2,326.5 183.7,327.6 182.4,327.8 181.5,327.0M182.9,278.6 184.7,278.7 184.8,276.9 185.4,278.6 187.0,277.9 187.3,279.0 188.3,279.6 189.4,280.1 189.5,281.2 191.0,280.9 191.4,282.3 190.8,283.2 190.3,284.2 189.1,285.0 187.9,284.3 186.8,284.5 185.6,284.4 187.1,285.2 186.6,286.9 185.9,288.1 184.9,289.0 184.8,290.6 183.5,291.6 182.7,293.1 181.1,293.3 179.3,292.8 178.7,291.0 180.4,290.5 180.2,288.8 180.5,287.5 181.1,286.3 180.2,285.1 179.0,284.3 179.2,282.5 180.9,282.1 179.9,282.2 178.8,282.4 177.8,282.0 176.7,282.3 177.6,281.4 178.7,281.1 177.8,280.1 178.5,278.8 179.6,278.8 180.7,278.4 181.8,278.1 182.9,278.6M215.3,227.7 213.8,227.9 213.3,226.5 212.5,227.3 212.1,228.4 210.5,229.6 210.8,231.5 211.6,232.7 212.0,234.1 213.8,234.5 213.7,236.4 212.0,235.9 210.2,235.9 210.0,237.8 208.8,239.3 207.6,240.8 207.6,242.7 207.0,243.6 207.1,244.7 207.4,245.7 208.2,246.4 209.0,247.0 209.9,247.5 211.3,247.9 210.9,249.3 209.7,250.0 208.3,250.2 209.5,251.2 209.2,252.8 210.9,252.3 211.4,254.1 213.0,253.2 214.7,252.3 215.6,250.5 217.3,249.7 218.6,249.0 219.8,249.7 221.2,249.8 222.0,250.9 223.2,250.5 224.4,251.0 225.6,251.7 226.8,251.4 227.5,250.5 228.0,249.5 228.9,248.8 229.4,247.8 230.0,246.6 229.8,245.3 228.8,244.6 227.6,244.2 228.1,242.5 229.8,241.9 230.9,240.7 232.4,240.1 233.1,238.8 233.4,237.3 232.6,236.1 232.3,234.6 231.2,235.0 230.2,235.8 230.1,234.4 228.8,233.8 229.1,232.0 228.7,230.2 228.4,231.3 227.9,232.3 226.7,232.0 225.6,232.0 225.0,233.1 224.2,234.1 224.5,235.5 223.7,236.6 222.1,237.2 221.6,238.9 220.3,237.9 218.8,237.6 218.7,235.9 217.3,235.1 218.5,234.1 218.8,232.6 220.6,232.5 220.6,230.8 221.7,230.1 222.9,229.7 221.6,229.4 220.7,230.4 219.8,229.6 219.1,228.7 218.2,228.2 217.3,227.8 216.2,228.4 215.3,227.7M228.8,222.4 230.6,222.5 230.9,220.8 231.8,219.5 233.3,219.7 233.5,221.4 234.1,222.9 235.8,221.8 237.4,222.9 238.3,223.9 237.9,225.2 239.6,225.1 239.7,226.8 241.0,227.3 241.1,228.6 241.9,229.4 243.0,229.8 244.4,230.8 245.5,232.0 245.0,233.8 243.3,234.5 243.3,235.6 243.5,236.6 243.6,237.7 243.0,238.7 241.9,239.4 241.0,240.3 239.3,240.7 238.9,239.0 237.4,238.2 235.8,238.3 235.0,237.4 233.7,237.5 233.1,238.4 232.9,239.5 231.7,238.6 232.3,237.2 232.9,235.8 231.6,234.9 231.1,233.8 231.0,232.5 229.5,232.4 229.0,230.9 229.9,229.7 230.0,228.2 228.2,228.4 227.4,226.9 229.2,226.7 229.0,224.9 228.9,223.7 228.8,222.4M216.3,258.3 217.0,257.3 218.2,257.0 219.5,257.6 220.5,256.7 222.1,256.7 223.7,256.6 223.5,255.0 223.6,253.4 223.9,254.6 225.0,255.1 224.9,256.4 225.8,257.3 226.7,256.1 228.2,256.4 229.2,257.2 230.1,258.1 229.0,258.8 228.1,259.9 227.2,261.3 228.3,262.6 227.6,263.5 226.4,263.7 225.9,264.6 225.4,265.6 224.3,265.4 223.9,264.2 222.8,264.0 221.9,263.5 220.6,263.7 219.7,262.8 218.5,263.1 217.3,262.8 216.8,261.7 217.1,260.5 217.4,259.1 216.3,258.3M219.3,264.2 220.6,264.5 222.0,264.4 222.3,262.9 223.8,262.5 225.1,262.2 226.2,263.0 227.4,263.4 228.4,264.2 228.2,265.9 230.0,266.0 230.7,267.0 230.9,268.3 229.2,268.4 227.7,269.3 229.2,269.2 229.4,270.7 228.6,271.4 228.5,272.6 227.3,272.4 226.6,273.5 226.0,274.4 225.8,275.6 224.9,275.1 224.2,274.4 223.6,273.5 222.9,272.9 221.3,272.4 220.2,271.1 219.0,270.0 218.4,268.5 219.0,267.2 220.3,266.6 220.1,265.3 219.3,264.2M206.2,255.1 207.1,254.1 208.3,254.8 209.2,255.3 210.0,256.0 209.6,257.0 209.6,258.0 210.4,258.8 210.7,259.9 209.7,260.7 208.4,261.1 207.6,262.2 207.4,263.5 206.6,262.4 205.4,261.9 203.8,262.6 203.0,261.0 202.7,259.5 201.4,258.8 202.2,257.7 203.0,256.7 204.3,256.9 205.4,257.5 205.4,256.2 206.2,255.1M230.9,268.8 229.5,268.3 229.0,269.7 228.2,270.5 228.0,271.6 228.4,272.6 229.4,273.1 230.2,273.7 230.3,274.8 231.2,275.7 231.8,276.8 231.3,278.0 231.9,279.2 231.8,280.5 232.1,281.7 231.9,282.9 231.1,283.9 232.7,284.6 232.0,286.2 233.3,286.3 234.4,286.8 236.4,286.4 238.2,285.7 238.3,283.7 236.7,282.7 237.8,281.5 238.6,280.0 239.9,280.0 240.8,279.1 240.9,277.9 241.2,276.7 240.0,276.3 238.9,275.7 238.5,274.5 238.7,273.2 240.5,272.8 242.1,271.8 242.2,270.0 244.0,270.0 243.7,268.4 242.2,268.1 242.7,266.2 244.1,264.8 242.4,264.6 240.8,263.9 239.7,264.7 238.6,265.6 239.7,266.9 238.8,268.4 237.6,268.4 236.5,268.1 235.8,269.7 234.3,269.0 232.6,268.7 230.9,268.8M234.1,263.8 235.3,263.4 236.4,264.1 236.5,265.3 237.2,266.3 235.8,267.1 234.8,268.2 233.3,267.6 232.1,266.6 233.3,266.7 234.5,266.2 233.8,265.1 234.1,263.8M238.0,254.9 239.3,256.0 240.5,257.3 241.3,255.9 242.8,256.6 244.1,257.5 243.5,258.9 242.2,260.0 240.8,260.8 241.9,261.9 242.6,263.4 240.9,263.2 239.9,264.6 238.4,264.3 236.9,264.0 237.7,262.4 237.1,260.9 236.3,260.1 235.6,259.3 234.7,259.8 234.0,260.6 234.2,258.7 235.2,257.2 236.5,255.9 238.0,254.9M244.1,239.9 245.0,239.2 246.2,239.6 247.3,239.7 248.1,240.6 247.1,241.4 246.3,242.4 246.1,243.9 247.4,244.6 246.2,244.5 245.5,245.4 245.6,246.5 245.1,247.5 245.1,248.5 244.7,249.5 245.6,250.1 246.0,251.1 244.4,250.8 243.9,249.4 242.0,249.5 242.1,251.4 241.8,252.6 240.7,253.0 240.8,254.1 241.1,255.1 239.9,254.3 238.4,254.1 237.0,254.5 235.5,254.3 234.5,253.4 233.4,252.6 234.5,251.6 234.4,250.1 235.9,249.2 236.5,247.5 237.2,245.7 235.9,244.2 236.4,243.3 237.0,242.4 238.1,242.6 239.2,242.4 240.7,242.6 242.3,242.6 243.6,241.5 244.1,239.9M249.9,235.9 250.7,237.2 249.3,238.0 250.4,238.3 251.4,238.6 251.1,239.6 251.2,240.7 252.4,239.8 253.3,241.0 253.9,242.6 252.4,243.4 252.7,244.7 251.9,245.9 250.9,244.5 249.5,245.4 248.3,245.2 247.1,245.6 248.3,244.3 247.7,242.6 247.1,241.2 246.2,239.9 246.5,238.4 247.1,237.0 248.6,236.7 249.9,235.9M250.7,247.8 251.8,249.3 252.4,251.1 251.8,252.3 250.5,252.9 249.2,252.0 248.3,250.8 247.5,249.5 248.2,248.2 249.4,247.9 250.7,247.8M254.0,249.8 254.6,250.7 255.2,251.5 254.5,252.6 255.5,253.5 254.1,253.6 252.9,254.3 252.5,252.9 252.1,251.5 252.5,250.0 254.0,249.8M251.1,256.2 252.2,256.1 253.0,256.9 254.0,257.0 255.0,256.7 255.8,257.5 256.8,258.2 256.6,259.3 256.3,260.4 255.0,261.1 253.5,261.2 253.4,262.7 252.7,264.0 251.6,263.5 250.4,263.0 249.3,261.6 247.9,262.6 247.4,260.8 247.5,258.9 248.0,257.8 248.8,257.0 250.1,256.9 251.1,256.2M249.4,264.2 250.9,265.4 252.6,266.3 251.5,267.0 250.5,266.2 249.1,266.2 249.0,267.6 248.7,265.8 246.9,266.2 248.2,265.2 249.4,264.2M247.6,274.5 248.1,273.6 248.0,272.5 247.1,271.4 248.1,270.5 248.9,269.4 250.1,270.0 251.2,270.0 252.1,269.5 253.5,270.9 255.3,270.3 255.9,269.0 254.7,268.2 256.0,268.2 256.7,267.3 258.1,267.4 259.2,266.7 260.3,268.1 261.8,267.3 262.7,267.8 263.6,268.4 264.5,269.0 264.9,270.1 264.0,271.6 262.5,270.7 261.3,271.7 262.1,273.1 260.7,273.8 260.5,275.3 259.0,276.5 257.7,275.1 257.2,276.2 256.1,276.8 255.1,276.0 253.9,276.4 252.7,276.8 252.0,277.8 250.9,277.2 250.5,276.0 249.9,275.2 249.6,274.2 248.6,274.1 247.6,274.5M240.8,272.8 239.5,274.0 240.7,275.3 240.7,276.6 240.1,277.8 239.4,278.6 238.8,279.3 239.3,280.3 240.3,280.7 240.9,282.1 240.4,283.5 241.9,284.5 243.6,285.1 244.3,284.2 245.4,283.9 245.6,282.5 247.0,282.5 248.1,283.7 249.7,283.1 249.3,284.5 249.6,285.9 250.8,285.4 251.9,285.9 251.7,284.8 251.9,283.6 253.1,284.8 254.5,285.6 255.8,284.2 257.3,285.4 258.5,286.4 258.7,288.0 259.2,289.3 260.6,289.5 261.1,287.9 262.8,288.2 264.0,289.4 265.5,288.7 267.5,289.1 269.4,289.3 271.0,289.9 272.7,289.5 273.9,288.7 275.0,287.9 274.4,286.7 275.1,285.5 274.0,284.7 274.0,283.3 273.1,282.7 272.5,281.8 272.8,280.7 272.4,279.6 271.6,278.4 270.3,279.2 269.8,278.2 270.0,277.0 269.2,276.2 268.0,276.1 267.7,275.0 266.9,274.2 265.5,273.4 264.5,272.2 263.1,272.6 262.2,271.5 263.1,272.7 261.9,273.7 260.6,273.4 259.9,274.5 258.4,274.3 257.5,275.5 256.2,274.3 254.4,274.0 253.4,275.5 252.9,277.2 252.7,275.8 251.4,275.3 250.2,275.4 249.0,275.1 248.1,274.2 247.0,273.7 245.2,274.3 244.6,272.4 244.9,274.2 243.3,274.9 241.5,274.5 240.8,272.8M228.5,284.9 227.5,286.1 228.2,287.5 229.2,288.3 229.9,289.4 228.9,289.9 228.0,290.3 227.4,291.2 227.1,292.2 225.8,290.9 225.4,289.0 225.5,287.2 225.7,285.4 227.1,285.2 228.5,284.9M175.8,288.0 174.3,288.1 174.4,289.6 175.8,290.1 175.3,291.5 174.3,290.8 173.1,290.7 173.2,289.3 173.3,287.8 174.5,288.6 175.8,288.0M173.8,294.5 172.5,295.2 172.6,296.6M171.7,294.7 172.7,294.1 173.8,294.5M202.0,295.3 204.0,295.3 204.0,297.3 203.1,296.3 201.9,296.8 202.2,298.0 201.4,298.9 201.0,297.4 199.5,297.4 201.2,296.8 202.0,295.3M260.2,107.9 258.7,107.3 258.1,108.8 258.1,110.0 259.0,110.9 257.3,110.7 256.0,109.6 255.2,108.7 255.7,107.6 256.8,106.4 256.9,104.9 257.9,106.4 259.6,105.9 260.5,106.8 260.2,107.9M266.0,101.2 264.4,101.8 262.8,102.4 262.6,101.1 262.8,99.8 264.1,98.9 265.7,98.6 265.4,99.9 266.0,101.2M270.6,97.5 269.4,97.5 268.5,96.6 267.6,97.4 267.6,98.7 268.5,97.4 267.7,96.0 268.8,95.3 270.1,95.0 270.4,96.2 270.6,97.5M198.3,160.3 198.8,161.4 200.0,161.6 199.0,162.3 198.8,163.4 197.1,163.3 195.8,164.2 195.8,166.0 194.2,166.9 192.3,167.0 191.5,165.3 190.6,164.4 191.1,163.1 191.6,161.7 190.3,161.1 189.2,160.3 188.8,159.1 189.5,157.9 188.9,156.6 190.3,156.6 191.0,157.7 192.2,158.4 193.4,158.0 194.5,158.5 195.3,159.3 195.7,160.6 194.7,161.6 195.7,160.6 195.9,159.1 196.8,160.2 198.3,160.3M191.7,163.3 190.8,162.6 189.8,162.3 189.4,163.8 187.9,163.5 187.1,161.8 186.3,160.0 187.3,159.1 188.6,159.1 190.4,158.7 191.6,160.1 190.9,161.7 191.7,163.3M186.3,160.0 184.6,159.5 184.0,161.2 182.7,161.0 181.5,161.5 181.0,160.3 179.7,160.4 178.8,160.8 177.8,161.2 178.2,159.7 176.7,159.3 176.7,157.9 178.1,157.6 179.8,157.1 181.6,156.8 181.6,155.0 183.3,155.0 184.1,156.2 185.6,156.1 185.3,157.3 184.6,158.3 186.1,158.5 186.3,160.0M284.8,423.7 285.8,423.0 286.4,422.0 287.6,422.3 288.1,423.5 287.2,425.0 286.1,426.4 285.4,428.0 284.1,429.2 284.1,427.6 285.2,426.5 286.3,424.9 284.8,423.7M286.8,427.5 287.7,428.1 288.6,428.7 287.6,429.5 287.3,430.6 287.6,429.0 286.8,427.5M379.6,299.5 378.3,299.0M246.3,256.1 246.8,257.3 247.8,258.1 246.3,258.3 245.6,257.0 246.3,256.1M245.0,265.4 244.8,266.9 246.3,267.1 245.2,268.6 244.5,267.5 243.4,266.9 244.7,266.7 245.0,265.4M244.6,271.2 245.6,272.5 243.7,272.2 244.6,271.2M239.5,260.2 240.3,261.1 241.2,261.8 240.0,262.0 238.8,261.8 239.5,260.2M229.3,253.4 229.6,254.6 230.2,255.7 228.8,256.0 228.0,254.8 229.3,253.4M188.9,279.3 190.4,279.7 190.5,281.2 189.7,282.1 188.6,281.9 188.3,280.6 188.9,279.3M209.6,288.9 211.1,289.7 210.6,291.3 209.5,291.1 208.5,290.9 209.3,290.0 209.6,288.9" clip-path="url(#c2)" fill="none" stroke="#000" stroke-width="1.9" stroke-linejoin="round" shape-rendering="crispEdges"/>
<g clip-path="url(#c)" shape-rendering="crispEdges">
<path fill="#00eb1d" d="M90.5,264.7 90.4,268.5 90.4,272.2 95.8,272.2 95.9,268.6 96.0,264.9Z"/>
<path fill="#00ec27" d="M92.6,272.2 92.6,275.9 92.7,279.6 101.3,279.3 101.2,275.7 101.2,272.2Z"/>
<path fill="#00ec32" d="M90.5,279.7 90.7,283.4 90.9,287.1 101.7,286.4 101.5,282.8 101.3,279.3Z"/>
<path fill="#00ec27" d="M90.9,287.1 91.4,292.3 97.8,291.7 97.4,286.7Z"/>
<path fill="#00e908" d="M79.6,280.1 79.8,284.0 80.0,287.9 87.1,287.4 86.9,283.6 86.7,279.8Z"/>
<path fill="#00ea12" d="M80.0,287.9 80.3,291.8 87.4,291.2 87.1,287.4Z"/>
<path fill="#00eb1d" d="M80.5,294.2 80.9,298.1 81.4,302.0 89.0,300.9 88.6,297.2 88.2,293.4Z"/>
<path fill="#00ec27" d="M81.4,302.0 82.0,305.9 82.6,309.7 90.2,308.4 89.6,304.7 89.0,300.9Z"/>
<path fill="#00ec27" d="M88.3,294.9 88.8,298.7 89.2,302.5 90.9,302.2 90.4,298.5 90.0,294.7Z"/>
<path fill="#00ed3c" d="M82.0,305.9 82.9,311.3 88.3,310.3 87.4,305.0Z"/>
<path fill="#00ec27" d="M105.0,275.7 105.1,279.2 109.3,279.0 109.2,275.6Z"/>
<path fill="#00ec27" d="M104.1,254.7 103.9,257.1 107.1,257.4 107.3,254.9Z"/>
<path fill="#00fde4" d="M206.9,208.8 205.9,210.6 204.8,212.3 203.8,214.0 202.8,215.8 207.1,218.2 208.0,216.5 209.0,214.8 210.0,213.2 211.1,211.5Z"/>
<path fill="#00fdee" d="M202.3,210.8 201.2,212.6 200.2,214.4 199.2,216.2 202.2,217.8 203.2,216.0 204.2,214.3 205.2,212.5Z"/>
<path fill="#00fbfe" d="M207.6,216.2 206.6,217.9 205.7,219.7 207.9,220.8 208.8,219.1 209.7,217.5Z"/>
<path fill="#00e6fa" d="M180.0,210.1 179.0,212.0 178.1,213.9 177.3,215.9 176.4,217.8 181.0,219.8 181.8,217.9 182.7,216.0 183.6,214.2 184.5,212.3Z"/>
<path fill="#00d1f5" d="M180.6,218.3 179.8,220.2 179.0,222.1 178.2,224.0 177.5,226.0 182.2,227.7 182.9,225.8 183.6,224.0 184.4,222.1 185.1,220.3Z"/>
<path fill="#00fef8" d="M182.9,215.5 181.7,218.2 180.6,220.9 182.9,221.8 184.0,219.2 185.2,216.6Z"/>
<path fill="#00fac4" d="M175.5,217.4 174.6,219.7 173.7,222.0 176.0,222.9 176.9,220.6 177.8,218.4Z"/>
<path fill="#0088e5" d="M149.0,215.6 148.1,217.9 147.4,220.2 150.3,221.2 151.1,218.9 151.9,216.6Z"/>
<path fill="#00e6fa" d="M121.5,243.2 121.1,246.4 120.6,249.6 130.0,250.8 130.4,247.7 130.8,244.7Z"/>
<path fill="#00f1fc" d="M115.0,243.9 114.6,246.7 114.3,249.5 121.6,250.4 121.9,247.7 122.3,245.0Z"/>
<path fill="#00fef8" d="M112.3,247.9 111.9,251.3 116.1,251.7 116.5,248.5Z"/>
<path fill="#00fef8" d="M123.9,238.7 123.3,241.9 127.0,242.5 127.5,239.4Z"/>
<path fill="#0088e5" d="M177.2,245.1 176.8,246.8 176.5,248.5 179.9,249.1 180.3,247.5 180.6,245.9Z"/>
<path fill="#00fef8" d="M130.8,315.5 132.0,319.7 137.0,318.3 135.9,314.2Z"/>
<path fill="#00f1fc" d="M144.4,347.5 145.7,350.0 146.9,352.5 150.6,350.6 149.4,348.2 148.2,345.7Z"/>
<path fill="#00eb1d" d="M377.5,394.7 380.7,392.8 378.0,388.5 375.0,390.4Z"/>
<path fill="#00f376" d="M382.8,384.8 384.3,383.7 380.8,378.8 379.3,379.9Z"/>
<path fill="#00f590" d="M385.5,385.3 386.7,384.5 383.7,380.4 382.6,381.3Z"/>
<path fill="#00fef8" d="M398.4,393.3 400.9,391.3 399.0,388.9 396.6,390.9Z"/>
<path fill="#00fcd9" d="M376.0,410.6 378.1,409.5 375.5,404.6 373.4,405.7Z"/>
<path fill="#00ec27" d="M337.1,420.4 339.1,419.9 341.2,419.4 340.2,415.5 338.2,416.0 336.2,416.4Z"/>
<path fill="#00ec27" d="M342.6,422.7 344.2,422.3 343.1,418.4 341.6,418.8Z"/>
<path fill="#00f1fc" d="M351.1,362.0 352.8,361.1 351.6,359.0 349.9,359.9Z"/>
<path fill="#0073e1" d="M410.9,276.5 411.0,275.0 406.1,274.9 406.1,276.3Z"/>
<path fill="#00fef8" d="M512.0,294.7 512.3,291.8 506.4,291.3 506.1,294.1Z"/>
<path fill="#00fdee" d="M515.5,334.7 516.6,331.0 510.3,329.3 509.3,332.9Z"/>
<path fill="#00ec27" d="M498.0,387.1 499.4,384.7 495.6,382.5 494.2,384.9Z"/>
<path fill="#00eb1d" d="M499.4,384.7 501.0,382.0 494.2,378.2 492.7,380.9Z"/>
<path fill="#00f7aa" d="M487.5,227.3 486.8,224.5 486.1,221.9 482.0,223.0 482.7,225.6 483.4,228.3Z"/>
<path fill="#00f590" d="M483.7,223.2 482.9,220.5 482.2,217.9 476.6,219.6 477.4,222.1 478.1,224.7Z"/>
<path fill="#00f376" d="M478.3,219.7 477.6,217.4 476.9,215.2 471.0,217.1 471.7,219.3 472.3,221.5Z"/>
<path fill="#00ee41" d="M472.7,217.5 472.0,215.3 471.2,213.2 464.4,215.6 465.1,217.7 465.8,219.8Z"/>
<path fill="#00ec27" d="M465.9,216.6 464.9,213.8 460.0,215.6 461.0,218.3Z"/>
<path fill="#aaf700" d="M469.1,425.7 471.7,422.8 474.3,419.8 467.3,413.7 464.8,416.6 462.3,419.3Z"/>
<path fill="#76f300" d="M474.3,419.8 476.9,416.9 479.4,413.8 470.0,406.3 467.7,409.1 465.3,411.9Z"/>
<path fill="#41ee00" d="M479.4,413.8 482.1,410.4 484.7,407.0 475.5,400.1 473.0,403.4 470.5,406.6Z"/>
<path fill="#27ec00" d="M468.5,412.3 471.0,409.4 473.3,406.5 475.6,403.5 472.6,401.2 470.4,404.1 468.0,407.0 465.6,409.8Z"/>
<path fill="#ffeb00" d="M470.7,427.2 473.4,424.3 476.0,421.3 478.6,418.3 481.1,415.2 483.6,412.1 486.0,409.0 482.5,406.3 480.1,409.4 477.7,412.4 475.2,415.4 472.7,418.4 470.1,421.3 467.5,424.2Z"/>
<path fill="#ffb700" d="M416.3,467.5 420.4,465.1 415.0,456.2 411.2,458.5Z"/>
<path fill="#ff9d00" d="M420.4,465.1 424.1,462.8 427.7,460.5 422.9,453.2 419.4,455.4 415.9,457.6Z"/>
<path fill="#ffb700" d="M427.7,460.5 429.7,459.2 425.7,453.3 423.8,454.5Z"/>
<path fill="#ffb700" d="M412.9,469.4 416.3,467.5 414.7,464.6 411.3,466.5Z"/>
<path fill="#ff8300" d="M412.9,471.9 416.1,470.2 419.3,468.3 422.4,466.5 425.5,464.6 428.6,462.6 431.6,460.6 429.7,457.9 426.7,459.8 423.7,461.8 420.7,463.7 417.6,465.5 414.5,467.3 411.4,469.0Z"/>
<path fill="#feff00" d="M431.1,452.9 434.2,450.7 437.3,448.4 433.0,442.8 430.0,445.0 427.0,447.1Z"/>
<path fill="#eefd00" d="M435.3,445.8 437.7,444.0 440.1,442.1 436.0,437.0 433.7,438.8 431.4,440.6Z"/>
<path fill="#ffb700" d="M438.4,453.1 441.5,450.7 439.8,448.6 436.7,450.9Z"/>
<path fill="#ff9d00" d="M433.9,458.4 436.6,456.4 439.4,454.4 437.1,451.3 434.4,453.3 431.7,455.2Z"/>
<path fill="#ff2500" d="M352.8,492.0 357.4,490.9 356.1,485.6 351.6,486.6Z"/>
</g>
<g clip-path="url(#c)" fill="none" stroke="#000" stroke-width="1" shape-rendering="crispEdges">
<path d="M243.6,197.0 214.7,161.3 210.3,163.8 203.7,162.2 202.8,168.7 194.4,167.8 183.6,165.2 178.5,166.5 174.9,162.7M136.4,161.8 132.6,167.7 129.1,173.8 125.7,180.0 122.6,186.3 119.7,192.8 117.0,199.3 114.6,205.9 112.4,212.6 110.4,219.3 108.7,226.2 107.2,233.1 105.9,240.0 104.9,247.0 104.2,254.0 106.3,254.2 102.4,255.9 99.7,265.0 98.5,272.2 98.0,274.0 99.7,277.9 92.9,291.5 90.8,292.8 88.5,296.8 85.2,301.1 72.6,303.1M89.6,331.0 93.2,342.9 96.1,344.8 101.5,345.3 108.7,346.6 109.4,349.9 108.6,352.1 101.7,354.9 99.8,357.4 98.4,359.7M89.6,331.0 83.5,325.3M334.2,418.4 335.5,412.0 333.9,408.2 333.4,404.7 331.1,396.1 334.3,392.8 333.7,385.3 334.8,381.5 334.7,374.9 336.2,369.3 338.7,365.6 339.4,365.3M339.4,365.3 340.4,365.7 346.4,368.5 347.9,371.6 349.8,374.5 351.7,377.4M339.4,365.3 340.2,363.7 343.1,365.7 347.5,364.3 347.9,362.0 346.7,358.8 348.7,355.6 351.2,356.4 352.6,359.3 352.9,355.7 353.6,354.5M352.6,359.3 352.2,360.3 357.4,364.1 357.8,368.4 362.6,372.4 363.7,376.3 367.0,378.4 367.3,381.1 372.2,382.8 371.8,388.8 370.6,397.5M373.4,401.7 373.6,405.6 376.9,411.3 381.7,416.3 378.8,420.7 379.6,428.3 374.3,432.7 378.1,438.2 379.7,444.4 383.4,448.5 381.6,457.4 381.6,461.5 384.9,462.4 392.1,461.0 396.4,455.7 404.8,460.1 408.5,466.2 414.4,464.8M376.9,411.3 372.6,411.8 368.2,413.3M378.8,420.7 373.4,419.9 365.3,422.8 363.5,425.4M362.9,434.5 371.5,431.7 374.3,432.7M371.5,431.7 370.0,428.7 365.4,429.1M381.6,457.4 372.7,459.7 368.5,460.1 360.5,458.7 358.2,457.2 353.4,457.2 351.2,451.5 348.7,446.7 347.5,442.2M353.4,457.2 345.9,462.0 347.1,464.4 352.9,469.1 351.4,475.5 342.6,477.9 339.4,478.5 332.1,479.0 333.2,471.3 326.6,469.4 324.6,469.7 320.9,467.3 318.9,467.8 313.0,462.0M315.7,460.5 318.6,460.1 320.9,459.6 323.7,461.0 324.6,463.0 324.8,459.5 323.9,457.2 326.5,456.4 327.0,454.0 326.9,449.8M324.6,463.0 326.1,465.2 325.3,466.4 326.8,467.8 326.6,469.4M330.1,440.4 332.5,440.5M332.1,479.0 330.1,480.4 327.4,486.2 327.5,487.5 330.0,485.9 331.1,488.5 330.8,492.9 332.2,497.8M331.1,488.5 335.9,485.1 338.7,488.0 343.3,482.7 343.0,481.1 339.6,480.9 339.4,478.5M343.1,481.7 349.3,479.3 355.3,480.7 363.5,476.6 365.2,469.6 363.6,466.7 356.6,466.5 352.9,469.1M363.6,466.7 368.5,460.1M365.2,469.6 371.4,468.7 375.9,463.1 381.6,461.5M384.9,462.4 382.7,473.8 379.6,475.3 374.7,478.5 365.5,478.0 363.5,476.6M365.5,478.0 362.7,480.5 362.6,484.5 356.3,486.1 355.3,480.7M374.7,478.5 377.4,482.8 378.1,486.0M379.6,475.3 385.8,478.5 386.2,480.7 390.6,480.1 392.6,482.9M396.4,455.7 398.6,453.0 404.9,452.7 412.4,458.4 408.5,466.2M379.7,444.4 383.0,440.6 391.9,437.9 400.4,435.0 401.8,429.2 407.5,424.3 417.3,429.7 425.4,426.9 432.0,423.6 437.0,431.3 435.2,438.3M401.8,429.2 398.3,425.2 400.3,421.5 391.9,418.8 390.0,415.1 381.7,416.3M465.3,414.4 455.5,413.0 452.7,412.9 450.8,408.7 447.6,406.6 451.6,402.3 449.4,399.1 449.3,390.3 456.0,384.3 461.9,382.4 463.4,377.4 466.9,371.7 470.2,368.3 472.9,363.6 466.5,362.0 463.0,360.8 457.8,357.2 459.3,351.1 461.0,345.2 462.0,335.2 463.2,327.5 468.8,328.8 472.5,322.3 475.0,319.5 473.0,312.6 479.0,309.6 493.2,305.5 494.7,298.9 493.8,294.1 501.8,288.8 504.9,281.5M504.9,281.5 504.4,279.9 501.4,273.2 495.9,263.8 499.7,256.8 499.8,247.2 495.6,244.3 487.0,243.6 489.2,232.3 493.7,226.1 490.9,218.7 493.2,209.1 490.3,200.9 482.4,193.0 480.1,183.9 480.1,179.6 475.0,176.9 466.3,178.8 461.1,179.2 457.5,180.3 452.2,174.4 450.8,167.8 458.6,154.0 460.5,152.1 457.6,140.9 461.6,135.7 450.1,128.1 466.8,120.3 472.8,125.3 480.2,117.8 484.7,117.8M504.4,279.9 513.7,270.4 526.2,268.3 530.2,250.5M480.1,183.9 490.9,183.3 489.1,176.1 488.4,166.9 492.2,170.3 501.3,176.2 511.1,188.7 518.1,186.8M504.9,281.5 508.3,287.5 515.2,288.8 513.8,297.9 522.6,301.7 524.0,310.9 535.1,311.6M489.2,396.8 491.9,386.6 502.3,381.8M489.2,396.8 506.4,408.4"/>
</g>
<g clip-path="url(#c)" fill="none" stroke="#000" stroke-width="1" stroke-dasharray="6 3" shape-rendering="crispEdges">
<circle cx="304.5" cy="272.2" r="195.8" stroke-dasharray="5 3.4"/>
<circle cx="304.5" cy="272.2" r="144.2" stroke-dasharray="5 3.4"/>
<circle cx="304.5" cy="272.2" r="94.9" stroke-dasharray="5 3.4"/>
<circle cx="304.5" cy="272.2" r="47.1" stroke-dasharray="5 3.4"/>
<line x1="304.5" y1="272.2" x2="304.5" y2="495.0"/>
<line x1="304.5" y1="272.2" x2="497.5" y2="383.6"/>
<line x1="304.5" y1="272.2" x2="497.5" y2="160.8"/>
<line x1="304.5" y1="272.2" x2="304.5" y2="49.4"/>
<line x1="304.5" y1="272.2" x2="111.5" y2="160.8"/>
<line x1="304.5" y1="272.2" x2="111.5" y2="383.6"/>
</g>
<circle cx="304.0" cy="271.8" r="228.8" fill="none" stroke="#000" stroke-width="2.4"/>
<text x="304.2" y="76.1" font-size="14.2" fill="#fff">50°</text>
<text x="304.2" y="127.7" font-size="14.2" fill="#fff">60°</text>
<text x="304.2" y="177.0" font-size="14.2" fill="#fff">70°</text>
<text x="304.2" y="224.8" font-size="14.2" fill="#fff">80°</text>
<text x="304.3" y="22" font-size="14.6" text-anchor="middle">180°W</text>
<text x="304" y="536.6" font-size="14.6" text-anchor="middle">0°</text>
<text x="103.4" y="150" font-size="14.6" text-anchor="end">120°W</text>
<text x="99.4" y="408" font-size="14.6" text-anchor="end">60°W</text>
<text x="507.5" y="150" font-size="14.6">120°E</text>
<text x="510.8" y="408" font-size="14.6">60°E</text>
<rect x="564" y="125" width="24" height="295" fill="url(#cb)"/>
<path d="M564,390.3h4M582,390.3h5" stroke="#fff" stroke-width="1" shape-rendering="crispEdges"/>
<text x="595" y="395.6" font-size="12">0</text>
<path d="M564,314.6h4M582,314.6h5" stroke="#fff" stroke-width="1" shape-rendering="crispEdges"/>
<text x="595" y="319.9" font-size="12">5</text>
<path d="M564,239.0h4M582,239.0h5" stroke="#fff" stroke-width="1" shape-rendering="crispEdges"/>
<text x="595" y="244.3" font-size="12">10</text>
<path d="M564,163.3h4M582,163.3h5" stroke="#fff" stroke-width="1" shape-rendering="crispEdges"/>
<text x="595" y="168.6" font-size="12">15</text>
</svg></body></html>
